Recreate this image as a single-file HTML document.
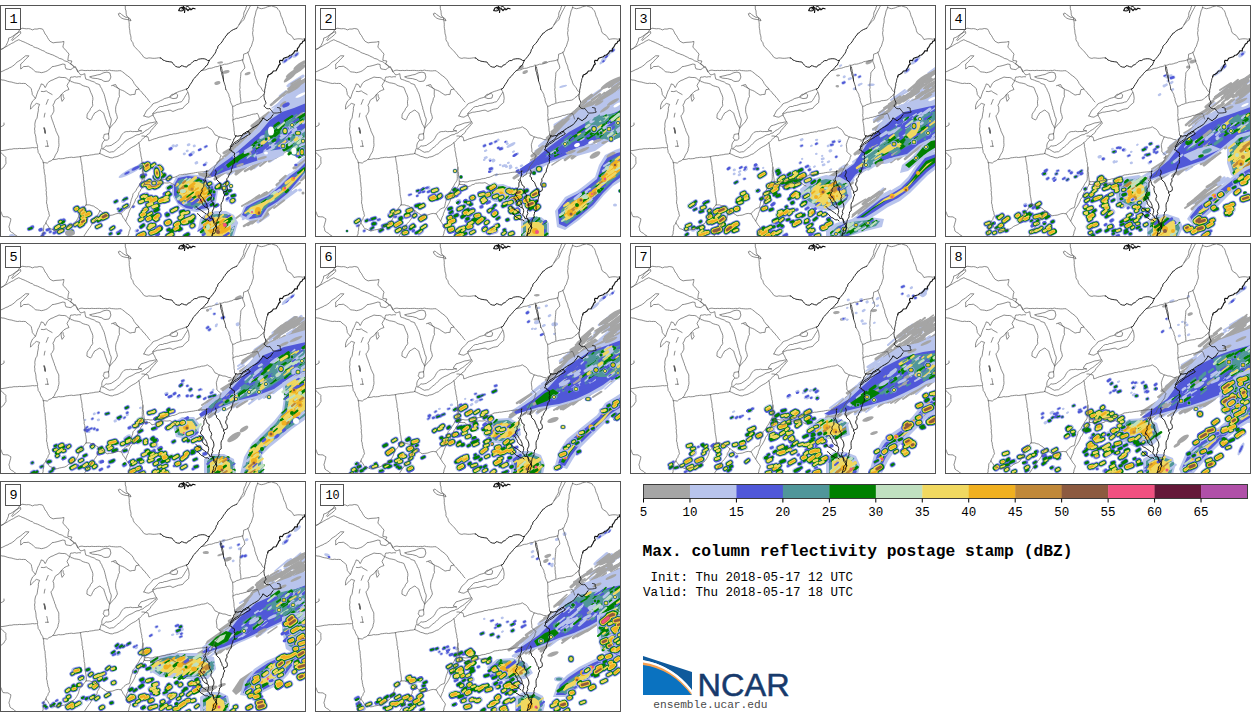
<!DOCTYPE html>
<html><head><meta charset="utf-8"><style>
html,body{margin:0;padding:0;background:#fff;}
body{width:1260px;height:712px;overflow:hidden;position:relative;}
svg{position:absolute;left:0;top:0;}
.t{font-family:"Liberation Mono",monospace;fill:#000;}
.kg{stroke:#a5a5a5}.klb{stroke:#b8c4ec}.kb{stroke:#5058d8}.kt{stroke:#50969a}.kgr{stroke:#008000}.klg{stroke:#c0e0c0}.ky{stroke:#f0d860}.ko{stroke:#f0b020}.kbr{stroke:#c08838}.kdbr{stroke:#8c5a40}.kp{stroke:#f05080}.km{stroke:#641838}.kpu{stroke:#b050a8}.w1{stroke-width:.5}.w2{stroke-width:1}.w3{stroke-width:1.5}.w4{stroke-width:2}.w5{stroke-width:2.5}.w6{stroke-width:3}.w7{stroke-width:3.5}.w8{stroke-width:4}.w9{stroke-width:4.5}.w10{stroke-width:5}.w11{stroke-width:5.5}.w12{stroke-width:6}.w13{stroke-width:6.5}.w14{stroke-width:7}.w15{stroke-width:7.5}.w16{stroke-width:8}.w17{stroke-width:8.5}.w18{stroke-width:9}.w19{stroke-width:9.5}.w20{stroke-width:10}.w21{stroke-width:10.5}.w22{stroke-width:11}.w23{stroke-width:11.5}.w24{stroke-width:12}.w25{stroke-width:12.5}.w26{stroke-width:13}.w27{stroke-width:13.5}.w28{stroke-width:14}.w29{stroke-width:14.5}
</style></head><body>
<svg width="1260" height="712" viewBox="0 0 1260 712">
<defs>

<g id="mapg" fill="none" stroke-linejoin="round" stroke-linecap="round">
<g stroke="#5a5a5a" stroke-width="0.7">
<polyline points="-0.1,45.4 1.5,44.3 3.3,43.4 4.7,42.2 5.9,40.7 6.8,39.0 7.6,37.3 8.4,35.4 8.7,33.1 10.8,32.4 12.6,31.3 14.3,30.0 16.0,28.8 17.9,27.6 19.6,24.9 22.0,23.2 24.2,23.5 26.3,23.8 28.5,23.6 30.5,24.0 32.4,24.9 34.7,24.0 37.0,24.1 39.3,23.5 42.5,24.0 43.5,25.6 44.3,27.2 45.1,29.0 46.4,30.4 47.5,32.5 48.7,34.5 50.1,36.3 53.1,37.9 55.0,37.5 57.0,37.3 59.0,37.2 61.5,37.0 63.9,36.4 63.7,38.4 63.2,40.3 62.9,42.3 64.6,43.8 66.0,45.7 67.7,47.3 69.0,49.2 68.4,51.2 68.1,53.1 67.8,55.3 69.8,55.7 71.9,56.0 70.6,59.2 72.9,60.3 74.7,62.0 76.6,63.9 77.6,66.7 80.0,65.4 82.0,65.1 83.9,65.5 85.9,65.6 87.8,65.4 89.8,65.6 91.8,65.3 93.7,65.5 95.7,65.5 97.7,65.4 99.6,65.4 101.6,65.6 103.6,65.7 105.6,65.4 107.5,65.5 109.5,65.1 111.5,65.6 113.4,65.7 115.4,65.9 117.4,65.9 119.3,65.7 121.3,65.8 122.7,67.2 124.4,68.1 125.7,69.6 127.3,70.6 129.0,71.9 130.6,73.2 132.0,74.8 133.3,76.6 134.2,78.6 135.4,80.0 136.4,81.5 138.0,82.6 139.0,84.1 136.0,84.6 135.3,87.0 135.1,89.3 132.6,89.5 130.0,90.1 128.1,88.8 126.2,87.6 124.4,86.3 122.5,85.4 120.7,84.8 119.2,83.8 117.3,82.7 115.3,81.7 113.4,80.6"/>
<polyline points="11.5,35.0 12.8,33.3 13.9,31.4 15.3,29.8 17.0,28.5 18.7,27.4 20.5,26.5 20.8,28.3 19.4,29.7 18.0,31.0 16.5,32.2 14.9,33.4 12.5,35.5"/>
<polyline points="-0.1,44.5 1.8,44.0 3.5,43.1 5.2,42.2 6.9,41.3 8.5,40.2 10.2,39.3 11.8,38.3 13.6,37.6 15.2,36.4 16.9,35.6 18.8,34.7 20.5,35.5 22.1,36.3 23.9,36.9 25.6,37.7 27.3,38.5 29.0,39.3 30.6,40.2 32.4,40.7 33.8,42.0 35.6,42.6 37.4,43.1 39.1,43.9 40.7,44.7 42.4,45.5 44.2,46.1 45.7,47.3 47.4,48.1 49.2,48.6 50.9,49.4 52.7,49.9 54.4,50.7 56.0,51.6 57.7,52.3 59.3,53.4 61.1,53.8 62.8,54.5 64.3,55.7 66.1,56.3 67.9,56.8 69.3,58.0 71.0,58.8 72.4,60.5 74.0,62.0"/>
<polyline points="0.1,67.2 2.1,66.4 4.0,65.5 5.9,64.5 7.9,63.8 9.4,62.8 11.2,62.1 12.8,61.0 14.4,59.9 15.7,58.4 17.1,57.1 18.8,56.1 20.6,54.9 22.3,53.5 24.0,52.1 25.6,50.8 28.9,50.8 27.6,52.4 26.1,53.7 24.7,55.2 23.5,56.6 22.1,57.9 20.7,59.0 20.7,61.5 20.7,64.0 22.3,62.9 23.6,61.5 26.1,61.5 28.3,61.2 31.3,63.1 32.9,64.2 34.2,65.5 35.4,66.8 37.4,67.0 39.4,67.2 41.3,67.7 43.3,67.3 45.3,66.7 47.2,65.9 48.9,64.6 50.6,63.4 52.0,61.7 54.6,61.3 57.1,60.7 59.0,60.2 61.0,59.6 62.9,59.0 65.1,59.5 65.2,61.7 65.9,63.8 68.3,64.3 70.9,64.6 72.4,63.4 74.0,62.4 75.4,61.6 76.2,63.3 77.2,65.0 77.9,66.7 79.3,68.2 80.7,70.0 82.6,69.5 84.8,68.7 85.1,71.3 85.8,74.1 87.6,74.6 89.4,75.2 91.1,76.0 92.9,76.5 94.6,77.2 96.1,78.5 97.9,79.0 99.7,79.7 100.4,81.8 101.7,83.6 102.4,85.6 103.4,87.5 104.2,89.4 104.7,91.3 105.2,93.2 105.7,95.1 106.0,97.0 106.6,98.7 107.0,100.5 107.7,102.2 107.8,104.0 108.6,105.7 109.0,107.5 109.5,109.2 109.9,111.2 110.9,113.1 111.3,115.0 111.0,117.0 110.5,119.0 110.0,120.9 109.8,122.9 109.2,124.9 109.0,126.9 108.5,128.8"/>
<polyline points="0.1,74.0 1.9,75.0 4.0,75.1 5.9,75.7 7.8,76.4 9.8,76.8 11.8,77.1 13.7,77.7 15.7,78.2 17.7,78.5 19.7,78.2 21.6,78.5 23.6,78.4 25.7,78.6 27.0,80.1 28.5,81.2 30.0,82.4 31.3,83.6 31.6,85.6 32.1,87.5 32.3,89.5 33.9,91.5 35.4,93.4 36.2,91.6 36.7,89.7 37.4,87.9 38.0,86.0 39.1,84.3 39.8,82.4 40.7,80.6 41.2,78.9 43.4,79.6 45.2,82.6 46.4,80.5 47.3,78.4 49.0,76.8 51.0,75.5 53.1,74.8 54.9,73.8 57.0,73.0 59.0,72.0 61.0,72.4 62.9,72.5 64.8,72.5 66.7,73.3 68.1,74.7 69.9,75.7 70.1,73.7 70.8,72.0 72.8,72.1 74.7,71.6 76.7,72.1 78.6,71.7 80.6,71.8"/>
<polyline points="35.4,93.4 32.7,95.9 31.6,98.0 30.7,100.3 30.5,102.2 30.5,104.2 31.9,102.7 33.3,101.2 34.8,99.7 36.4,98.4 39.6,99.4 38.8,101.3 38.3,103.3 38.4,105.3 38.0,107.2 37.6,109.1 37.4,111.1 37.0,113.2 35.8,114.9 35.2,117.0 34.8,119.3 35.0,121.7 34.5,124.0 34.9,125.9 34.7,127.9 35.4,129.8 35.8,131.8 36.0,133.8 36.1,135.8 36.5,137.7 37.2,139.6 37.6,141.6 37.5,143.6 38.0,145.5 38.2,147.6 39.4,149.0 40.2,150.7 40.7,152.5 41.7,154.1 42.7,155.6 43.3,157.7 45.2,157.7 47.3,158.1 49.0,156.5 51.2,155.8 52.9,154.3 54.3,152.8 55.0,150.9 55.9,149.2 57.0,147.5 57.9,145.6 58.2,143.5 58.8,141.6 59.0,139.6 58.8,137.7 58.8,135.7 58.8,133.8 58.8,131.9 57.8,129.9 56.9,127.9 55.9,125.9 55.6,124.1 54.7,122.4 54.3,120.6 53.5,118.8 53.0,117.0 52.2,115.1 51.6,113.1 50.9,110.9 52.2,109.5 53.1,107.8 53.9,106.2 53.8,104.2 53.7,102.2 52.9,100.2 54.3,97.9 55.1,95.4 57.0,93.9 59.2,92.5 60.2,90.9 61.5,89.5 62.8,88.0 64.0,86.8 66.3,85.5 69.0,84.5 68.0,82.5 67.0,80.6 67.8,78.9 68.8,77.3 70.0,75.5 70.9,76.5 72.8,77.0 74.7,77.8 76.8,78.1 78.8,78.5 80.5,79.1 82.0,80.2 83.7,80.9 85.4,81.4 87.2,81.8 88.9,82.5 89.9,85.0 90.8,87.5 92.0,89.9 92.8,92.4 92.9,94.4 92.5,96.3 92.5,98.3 92.8,100.3 91.9,102.0 90.6,103.4 89.9,105.3 88.4,107.3 87.2,109.2 87.0,111.2 86.9,113.1 88.8,114.1 90.6,115.0 91.8,113.4 92.5,111.5 93.6,109.9 94.6,108.0 96.3,107.1 97.9,106.0 99.9,105.0 101.7,106.6 103.8,108.1 104.2,110.0 104.9,111.8 105.4,113.7 106.1,115.4 106.7,117.2 107.3,119.1 108.6,120.9 109.5,122.9"/>
<polyline points="41.3,86.4 43.8,86.6 46.3,85.9 48.1,87.3 50.1,88.4 52.1,89.5"/>
<polyline points="61.3,89.5 61.1,91.8 61.4,94.1 62.1,96.4 63.1,95.0 64.2,93.4 63.3,91.5 63.0,89.5"/>
<polyline points="48.2,94.4 47.2,96.8 46.2,99.3"/>
<polyline points="45.0,108.2 44.5,110.1 44.2,112.1"/>
<polyline points="44.0,123.0 44.7,125.5 45.2,128.0"/>
<polyline points="44.0,123.0 44.6,125.5 45.2,128.0"/>
<polyline points="44.1,123.0 44.9,125.5 45.2,128.0"/>
<polyline points="44.5,122.9 44.9,125.5 45.2,128.0"/>
<polyline points="44.6,123.5 45.1,125.7 45.2,128.0"/>
<polyline points="46.8,135.5 47.3,137.5 47.6,139.6 48.0,141.6"/>
<polyline points="45.5,141.3 48.2,141.2"/>
<polyline points="111.5,80.7 113.4,80.1 115.6,79.5 116.6,81.4 117.9,83.1 119.3,84.6 119.3,86.9 119.2,89.2 119.5,91.6 118.4,93.4 118.0,95.5 117.4,97.4 116.5,99.3 115.8,101.7 115.6,104.2 115.7,106.0 115.9,107.8 116.6,109.5 117.1,111.3 117.4,113.1 116.3,115.0 115.3,116.9 113.9,118.4 112.4,119.9 111.2,121.6 109.5,122.9"/>
<polyline points="89.9,71.8 92.5,71.1 95.0,70.6 97.5,69.9 100.0,69.5 101.9,68.5 103.9,67.7 107.0,67.1 109.9,68.0 110.4,70.0 110.9,72.0 110.1,74.1 109.0,76.0 107.0,76.3 105.0,76.5 103.2,75.9 101.8,74.8 100.0,74.4 97.5,73.6 95.1,73.4 92.4,73.1 90.0,72.0"/>
<polyline points="108.5,128.8 106.5,129.0 104.2,129.4 103.8,131.3 103.1,132.9 105.4,135.3 107.4,135.0 108.8,134.0 108.8,131.4 108.5,128.8"/>
<polyline points="104.7,135.1 102.6,137.7 101.8,140.1 101.8,142.7 100.8,144.5 100.3,146.5 99.7,148.5"/>
<polyline points="102.7,143.8 104.4,142.4 106.0,140.8 107.9,141.1 109.7,140.7 111.3,140.4 112.9,139.2 114.6,138.2 116.2,137.0 117.7,135.8 119.1,134.6 120.2,132.7 121.2,130.7 122.4,129.0 124.1,127.3 126.2,126.6 128.4,126.6 130.5,126.2 132.7,126.7 134.8,126.5 137.0,126.6 139.4,126.0 141.9,126.0 139.9,125.5 138.2,125.1 139.5,123.0 141.0,120.9 143.5,120.2 146.0,119.4 147.9,118.6 149.9,117.9 152.0,117.7 154.3,117.1 156.7,117.0"/>
<polyline points="102.5,143.8 104.4,144.4 106.1,145.4 107.8,146.5 109.5,147.3 111.4,146.9 113.6,146.7 115.0,145.5 116.5,144.2 117.9,142.9 119.5,141.8 121.1,140.4 122.5,138.9 124.1,137.6 125.4,135.9 127.3,134.8 129.2,133.7 131.2,132.9 133.2,131.9 135.1,130.7 137.0,129.8 139.1,129.6 140.9,128.4 142.9,127.9 144.4,126.6 146.0,125.4 147.7,124.5 149.4,123.4 150.7,121.9 152.6,120.7 154.2,119.2 156.0,118.0"/>
<polyline points="99.7,148.5 101.7,149.4 103.7,150.3 105.6,151.3 107.9,151.8 110.1,152.7 112.4,152.9 114.2,152.1 116.1,151.8 118.0,151.2 119.7,150.3 121.4,149.4 123.2,148.9 124.8,147.5 126.6,146.2 128.2,144.8 130.0,143.5 131.8,142.3 133.7,141.3 135.6,140.3 137.3,139.0 139.0,137.7 140.6,136.0 142.3,134.4 143.9,132.7 145.5,131.4 147.0,129.9 148.7,128.7 150.2,127.4 151.0,125.5 152.3,124.1 153.6,122.6 154.9,121.2 156.1,119.4 157.7,118.0"/>
<polyline points="143.8,111.0 144.8,109.1 145.8,107.1 146.9,105.2 148.6,103.9 150.0,102.4 151.5,100.9 152.7,99.0 154.6,98.1 156.8,97.5 158.8,96.6 160.6,95.6 162.5,94.8 164.2,93.7 166.2,93.1 168.2,92.6 170.1,91.7 171.7,90.7 173.3,89.7 174.6,88.4 177.1,87.3 179.6,86.3 181.4,85.8 183.1,85.2 184.9,84.6 186.5,83.6"/>
<polyline points="152.9,108.3 154.3,106.8 155.9,105.4 157.2,103.8 158.7,102.3 160.5,101.5 162.5,101.5 164.3,100.6 166.3,100.5 168.1,99.9 170.0,99.2 171.9,98.7 173.8,98.4 175.8,98.2 177.8,97.8 179.6,97.1 181.4,96.8 182.6,95.4 183.6,93.9 184.5,92.4 185.4,90.7 186.6,89.2 187.5,87.5"/>
<polyline points="152.7,108.9 155.2,108.1 157.7,107.2 159.8,107.1 161.8,106.6 163.9,106.4 165.9,105.9 167.9,105.4 170.1,105.1 172.9,106.5 174.8,105.7 176.7,104.9 178.6,104.2 180.6,103.9 182.7,103.4 184.0,101.8 185.4,100.2 187.1,98.9 188.7,97.5 188.8,95.4 189.2,93.5 188.9,91.0 188.5,88.5 187.6,86.5 186.5,84.6"/>
<polyline points="143.9,110.9 146.3,111.8 148.9,112.2 150.8,111.1 152.8,110.1"/>
<polyline points="153.0,109.1 153.4,111.2 154.6,112.9 155.4,115.1 156.7,117.0"/>
<polyline points="169.9,91.4 172.0,89.3 174.0,89.2 176.1,88.4 177.7,89.9 177.0,93.0 175.0,93.4 173.0,93.6 170.0,92.5"/>
<polyline points="125.2,-0.0 125.3,2.0 125.3,3.9 126.0,5.9 126.1,7.8 126.3,9.7 127.0,11.5 128.4,12.8 128.8,15.1 129.1,17.4 129.3,19.7 129.2,21.6 129.4,23.4 129.8,25.2 129.9,27.1 130.1,28.9 130.7,30.7 131.0,32.5 130.9,34.5 131.7,36.2 132.9,37.7 133.3,39.6 134.2,41.3 135.5,42.7 136.9,44.2 138.3,45.6 139.7,47.0 140.9,48.6 142.3,50.1 143.3,51.8 144.9,52.9 146.9,53.4 148.8,52.9 150.8,53.0 152.8,53.3 154.7,53.3 156.7,53.1 158.6,52.8 160.6,53.1"/>
<polyline points="118.5,9.0 120.0,7.9 121.8,9.7 124.1,11.3 126.0,12.4 127.8,12.2 130.3,13.9 131.0,16.0 129.0,14.8 126.1,14.4 123.9,14.0 121.8,13.2 120.4,12.2 119.2,10.9 118.5,9.0"/>
<polyline points="202.3,65.3 204.2,65.1 206.1,64.7 207.8,63.8 209.7,63.3 211.6,63.2 213.5,62.5 215.3,61.8 217.2,61.6 219.0,61.0"/>
<polyline points="221.0,60.4 222.8,59.9 224.5,59.2 226.4,59.2 228.3,58.8 230.0,58.1 231.9,57.8 233.5,56.8 235.4,56.4 237.2,56.1 239.1,55.8 240.9,55.4 242.6,54.6"/>
<polyline points="226.0,84.6 227.0,86.2 227.9,87.8 228.8,89.5 229.1,91.5 230.0,93.4 230.1,95.5 230.7,97.5 231.6,99.4 232.6,101.3 232.7,103.1 232.9,105.0 232.9,106.8 232.9,108.6 232.6,110.4 233.1,112.3 233.0,114.1 232.9,116.3 233.4,118.5 233.7,120.7 234.0,122.9 234.0,125.3 234.5,127.6 234.5,130.2 235.7,131.0"/>
<polyline points="242.6,55.2 243.0,57.1 243.9,59.0 244.5,60.9 244.9,63.0 243.4,64.6 242.0,66.2 240.8,67.9 240.8,69.8 240.6,71.6 240.4,73.5 240.3,75.3 240.1,77.2 239.9,79.0 239.9,80.9 240.1,82.8 239.6,84.6 240.1,86.4 240.0,88.3 240.3,90.1 240.2,91.9 240.7,93.7 240.8,95.6 240.8,97.4"/>
<polyline points="257.6,2.0 257.1,4.0 256.1,5.9 255.7,7.9 255.3,9.9 254.7,11.8 254.1,13.7 254.1,15.7 254.0,17.7 253.4,19.7 253.3,21.6 252.8,23.6 253.1,25.6 252.6,27.5 252.7,29.5 253.1,31.5 253.4,33.3 253.2,35.5 252.5,37.4 251.9,39.4 251.3,41.4 250.0,43.2 249.5,45.2 248.6,47.0 246.3,48.3 243.6,49.2 243.5,51.2 243.3,53.2 242.8,55.1"/>
<polyline points="257.4,2.2 259.4,3.2 261.4,3.7 263.5,3.3 265.5,2.7 267.4,1.8 269.3,1.4 271.4,0.8 273.3,1.5 275.3,2.1 277.2,2.9 278.1,4.5 279.4,5.8 280.1,7.5 280.6,9.4 281.1,11.2 282.0,12.8 282.6,14.6 283.3,16.3 283.6,18.2 284.4,19.9 285.3,21.5 286.0,23.5 286.4,25.5 287.0,27.5 288.9,29.1 291.2,30.4 292.6,32.3 293.9,34.5 295.8,34.1 297.8,33.8 300.3,33.8 302.8,34.2 306.0,33.4"/>
<polyline points="247.8,47.2 248.4,49.2 249.2,51.1 249.9,53.1 250.4,55.2 251.0,57.5 252.0,59.6 252.8,61.8 253.1,63.9 254.0,65.8 254.7,67.8 254.8,69.9 255.6,71.8 256.1,73.8 257.1,75.7 257.6,77.8 258.5,79.7 259.9,81.3 261.2,82.9 262.1,84.8 263.4,86.5"/>
<polyline points="232.8,101.4 234.9,100.8 236.7,99.6 238.8,99.1 240.8,98.2 242.6,97.9 244.3,97.3 246.1,97.0 247.9,96.8 249.7,96.6 251.4,95.7 253.2,95.6 255.0,95.4 256.8,95.1 258.4,94.3 260.0,92.6 262.0,91.3 263.4,89.5"/>
<polyline points="232.9,114.9 234.7,114.1 236.5,113.3 238.5,113.3 240.3,112.5 242.3,112.3 244.1,111.7 246.0,111.3 247.8,110.4 249.7,110.3 251.6,109.5 253.6,109.1 255.6,108.9 257.3,108.3 258.3,110.1 259.0,112.0 259.5,114.0"/>
<polyline points="236.8,23.1 238.4,20.9 239.7,18.7 240.6,16.6 241.7,14.7 242.9,12.8 243.7,10.6 243.8,8.1 244.7,5.9 245.7,4.2 246.1,2.2 247.2,0.5"/>
<polyline points="238.9,19.8 240.3,17.9 242.2,16.4 243.8,14.7 244.6,13.0 245.1,11.3 245.9,9.6 246.7,7.9 247.6,6.0 248.7,4.2 249.6,2.3 250.6,0.5"/>
<polyline points="141.9,131.0 143.9,131.0 145.8,131.6 147.8,131.8 148.5,133.7 148.8,135.9 150.7,135.3 152.5,134.5 154.3,133.8 156.3,133.4 158.1,132.6 159.9,132.1 162.0,131.8 163.9,131.1 166.0,130.8 168.0,130.3 169.9,129.5 171.8,129.5 173.6,128.8 175.5,128.8 177.3,128.5 179.1,128.0 180.9,127.4 182.8,127.3 184.6,126.8 186.5,126.8 188.3,125.9 190.3,125.9 192.2,125.6 194.0,125.0 195.9,124.6 197.7,123.9 199.7,123.9 201.5,123.2 203.5,123.1 205.4,122.7 207.3,121.8 209.1,123.1 210.9,124.0 212.6,125.7 213.8,127.8 215.0,129.9 217.1,130.6 218.9,132.0 221.0,132.2 222.9,133.0 225.0,133.0 226.9,133.7 228.8,134.5 230.8,134.7"/>
<polyline points="219.2,131.9 218.4,133.8 217.5,135.7 216.9,137.8 216.3,139.7 216.5,141.9 216.9,144.2 216.8,146.7 218.3,147.9 219.5,149.3 221.2,150.6 220.2,152.3 219.9,154.2 219.0,156.0 217.6,157.7 216.5,159.6 214.9,161.2 214.1,163.3 213.1,165.2 211.9,167.1 211.3,169.4 209.4,170.4 208.0,172.0"/>
<polyline points="138.9,137.7 139.4,139.6 139.4,141.5 140.0,143.3 139.9,145.2 140.4,147.1 140.8,148.9 140.9,150.8 141.4,152.7 141.8,154.5 141.8,156.4 142.5,158.3 142.4,160.4 143.0,162.3 142.7,164.1 142.3,165.9 142.4,167.8 142.2,169.6 142.3,171.5 142.3,173.3 142.1,175.2 141.1,177.0 139.9,178.6 139.0,180.4 138.0,182.1 136.8,183.8 135.9,185.7 134.5,187.3 133.0,188.8 132.7,190.8 132.1,192.7 131.3,194.6 130.8,196.5 130.3,198.6 129.9,200.6 129.3,202.6 127.5,203.1 125.8,203.9 124.0,205.4 122.4,207.1 120.8,208.9 118.3,208.4 115.9,208.8 114.1,209.5 112.3,210.1 109.6,210.4 107.1,210.8 105.4,209.5 103.5,208.3 101.7,207.0 99.8,205.7 98.5,204.4 96.9,203.3 95.2,202.3 93.7,201.1 91.7,200.7 89.7,199.9 86.2,199.9"/>
<polyline points="142.8,162.3 143.2,164.2 143.0,166.2 143.6,168.1 143.5,170.0 143.8,172.2 144.1,174.3 144.2,176.2 146.1,176.8 148.1,176.5 150.0,177.0 152.3,176.9 154.4,176.1 156.7,175.8 158.8,175.6 160.9,175.1 163.0,174.7 164.9,174.5 166.8,173.8 168.7,173.6 170.6,173.3 172.2,172.5 174.1,172.4 175.8,171.7 177.4,171.0 179.0,170.0 180.8,169.8 182.6,169.6 184.4,169.2 186.3,169.2 188.1,168.8 189.9,168.5 191.7,168.3 193.5,168.1 195.5,167.6 197.7,167.3 199.8,167.1 201.9,166.9 203.9,166.8 206.0,166.5 208.0,166.2"/>
<polyline points="144.3,176.5 144.2,179.5 146.1,179.5 148.1,179.7 150.0,179.5 151.9,181.9 153.8,181.4 155.5,180.9 157.1,179.7 159.0,179.4 160.6,178.2 162.5,178.2 164.3,177.9 166.3,178.0 168.1,178.0 169.9,177.6 172.1,178.6 173.9,180.0 176.0,181.0"/>
<polyline points="120.9,208.6 122.2,210.4 123.0,212.4 124.4,214.1 125.6,216.0 126.8,217.8 127.9,219.7 129.4,221.4 130.4,223.1 129.9,225.0 129.1,226.8 128.8,228.8 128.1,230.6"/>
<polyline points="144.9,177.9 144.0,179.6 143.1,181.3 142.1,182.9 140.9,184.4 140.2,186.1 138.9,187.6 138.5,189.4 137.8,191.1 136.9,192.8 135.6,194.2 135.1,196.0 134.2,197.9 133.2,199.7 132.2,201.5 130.9,203.1 129.9,205.0 129.2,206.8 128.4,208.6 128.1,210.5 127.1,212.2 126.5,214.1 125.7,215.9"/>
<polyline points="53.1,154.6 55.0,154.4 56.8,154.2 58.6,153.6 60.5,153.8 62.3,153.7 64.1,153.5 65.9,152.8 67.7,152.7 69.6,152.4 71.4,152.2 73.3,152.5 75.1,152.3 76.9,152.0 78.8,151.9 80.6,151.6 82.4,151.1 84.2,150.8 86.0,150.5 87.9,150.7 89.6,150.1 91.4,149.9 93.3,149.7 95.0,149.2 96.9,149.1 98.6,148.9 99.7,148.5"/>
<polyline points="43.2,157.4 43.6,159.3 43.8,161.1 43.7,163.1 44.2,164.9 44.2,166.8 44.5,168.7 45.1,170.5 45.1,172.4 45.3,174.3 45.3,176.2 45.8,178.0 45.8,179.9 46.0,181.7 46.3,183.5 46.0,185.4 46.5,187.2 46.2,189.0 46.6,190.8 46.8,192.6 46.8,194.4 46.6,196.3 46.5,198.1 47.2,199.8 47.3,201.7 47.7,203.5 48.0,205.4 48.8,207.1 49.0,209.0 49.5,210.8 48.3,212.5 47.8,214.4 46.5,215.9 46.0,217.9 45.0,219.4 43.8,220.8 43.7,222.8 43.6,224.8 43.1,226.8 43.1,228.9 42.0,231.0"/>
<polyline points="80.4,151.5 80.7,153.3 80.9,155.1 81.2,156.9 81.6,158.7 81.9,160.5 82.1,162.3 82.0,164.2 82.8,165.9 82.5,167.8 83.3,169.5 83.4,171.4 83.6,173.2 83.5,175.0 83.9,176.8 84.2,178.6 84.1,180.5 84.7,182.3 84.8,184.1 84.9,186.0 85.0,187.8 85.2,189.6 85.5,191.4 85.9,193.2 86.1,195.1 86.4,196.9 86.2,199.9"/>
<polyline points="86.0,199.8 84.8,201.4 83.5,203.0 82.5,204.8 81.1,206.3 79.6,207.8 79.0,209.9 78.5,211.9 77.6,213.8 76.6,215.6 75.4,217.4 73.9,219.0 72.1,219.9 70.1,220.7 68.3,221.6 66.7,223.0 64.8,224.0 63.0,224.3 61.2,224.7 59.4,225.0 57.6,225.6 55.8,225.9 53.8,225.3 52.0,224.2 50.0,223.7 48.7,222.4 48.1,220.6 46.7,219.4 45.9,217.8"/>
<polyline points="-0.0,145.5 2.0,145.6 4.0,145.3 5.9,145.0 7.9,144.6 9.8,144.2 11.8,144.2 13.7,143.7 15.6,143.7 17.5,143.7 19.4,143.4 21.3,143.5 23.2,143.6 25.1,143.4 26.9,143.2 28.8,143.1 30.7,142.9 32.6,142.6 34.5,142.8 36.4,142.6"/>
<polyline points="0.0,146.5 1.4,148.1 2.8,149.6 4.5,150.9 5.9,152.4 5.8,154.4 5.9,156.3 6.0,158.4 4.8,160.2 3.8,162.1 1.9,163.6 0.0,165.2"/>
<polyline points="0.1,122.1 2.1,121.2 4.1,120.0 4.0,118.0"/>
<polyline points="-0.1,204.9 0.8,206.6 1.6,208.3 2.2,210.1 3.0,211.6 5.5,211.8 7.9,211.9 9.4,212.9 10.9,213.8 10.6,215.8 10.0,217.8 9.5,219.8 8.9,221.8 9.6,223.8 9.9,225.9 11.5,227.3 13.5,228.3 15.0,229.9 17.0,231.0"/>
<polyline points="99.8,205.4 99.3,207.2 98.4,208.9 97.3,210.5 97.1,212.4 96.0,214.0 95.0,215.7 93.5,217.1 92.2,218.6 91.2,220.4 90.2,222.1 89.0,223.5 88.0,225.0 86.9,226.4 86.0,228.0 84.9,229.5 84.0,231.0"/>
<polyline points="138.9,84.2 140.4,85.7 141.8,87.2 143.0,89.0 144.7,90.3 145.9,92.1 147.4,93.6 148.5,95.4 150.0,97.0"/>
</g><g stroke="#111" stroke-width="0.9">
<polyline points="186.3,84.4 188.1,83.2 189.1,81.3 190.2,79.5 191.3,77.9 192.4,76.3 193.1,74.5 194.7,73.0 196.0,71.4 197.5,69.9 198.5,68.5 199.7,67.2 200.9,66.0 202.4,65.0 203.8,63.9 204.8,62.5 205.8,61.1 207.4,60.1 208.1,58.2 208.9,56.4 209.9,54.7 211.3,53.2 212.6,51.6 213.8,49.9 215.1,48.2 215.9,46.5 216.3,44.7 217.6,43.2 217.9,41.2 219.3,39.9 220.6,38.5 221.9,37.0 222.9,35.4 223.7,33.9 224.9,32.7 225.6,31.1 227.0,30.0 227.7,28.4 229.3,27.8 230.4,26.4 231.8,25.5 233.4,24.6 235.2,23.9 236.9,23.1"/>
<polyline points="160.2,52.8 161.7,53.5 162.8,55.0 164.5,55.5 165.9,56.2 167.9,56.5 169.8,56.8 171.9,57.0 173.0,58.6 174.3,60.1 175.7,61.4 177.7,62.1 179.9,62.2 181.0,60.8 182.5,60.8 184.4,61.6 186.7,62.1 187.9,60.3 190.0,59.6 191.6,58.1 193.0,56.6 194.7,55.6 196.8,55.5 198.3,54.3 200.3,53.9 202.2,53.7 204.3,53.8 205.9,54.3 207.5,55.4 209.2,55.6"/>
<polyline points="220.1,60.0 220.5,61.9 220.5,64.0 220.9,65.9 221.6,67.6 221.8,69.4 222.4,71.1 222.8,72.8 223.3,74.5 223.7,76.3 224.3,78.0 224.8,79.7 225.4,81.3 225.5,83.0 225.9,84.6" stroke-width="0.7"/>
<polyline points="221.5,62.0 221.7,63.6 222.1,65.2 222.2,66.8 222.7,68.4 223.1,70.0 223.3,72.0 223.5,74.0 223.5,76.0" stroke-width="0.7"/>
<polyline points="178.7,5.5 180.0,3.0 182.0,2.2 184.0,3.5 183.0,5.5 181.0,6.0 179.0,5.5" stroke-width="1.2"/>
<polyline points="182.0,4.0 183.5,1.5 185.0,3.5 184.5,7.5" stroke-width="1.2"/>
<polyline points="186.0,3.5 188.0,5.5 190.0,3.5 191.0,4.8 193.0,3.2 195.0,3.8" stroke-width="1.2"/>
<polyline points="186.0,2.0 188.0,1.2 189.0,2.6"/>
<polyline points="304.9,33.9 304.4,35.7 302.7,36.4 302.1,38.1 300.4,38.9 299.6,40.6 298.7,42.3 297.4,43.5 297.3,45.9 294.8,45.8 294.0,47.5 292.7,48.8 291.5,50.0 289.7,50.3 288.3,51.8 286.6,52.3 283.7,53.2 282.4,55.6 279.9,55.3 279.5,57.0 280.3,59.0 278.8,60.3 278.0,62.2 277.2,63.5 276.0,65.8 273.4,66.0 272.0,68.0 270.1,69.3 268.3,70.0 267.6,71.8" stroke-width="1.15"/>
<polyline points="268.0,71.9 267.0,73.5 266.6,75.2 266.4,76.9 265.7,78.4 265.8,80.1 265.4,81.6 265.1,83.2 264.6,85.1 264.7,87.0 264.2,88.9 263.9,90.8 264.2,92.5 264.4,94.2 265.2,95.7 266.1,98.1 265.1,99.7 263.8,100.9 265.2,102.0 266.3,103.4 268.2,103.8 270.0,103.5 271.0,105.1 272.3,106.5 273.3,108.1 276.2,108.0 277.8,107.9 279.5,107.6 281.3,107.1 280.2,105.3 280.2,103.1 277.5,102.5" stroke-width="0.8"/>
<polyline points="273.0,109.7 271.8,111.3 270.8,113.1 269.1,114.1 267.1,115.7 265.2,114.5 262.9,112.8 262.3,114.5 261.3,115.9 260.1,117.3 259.2,118.5 257.8,119.9 256.1,120.9 254.5,121.8 252.8,122.7 251.3,123.8 249.6,124.7 248.3,126.3 246.4,126.7 245.0,128.0 243.2,128.7 241.9,130.6 239.8,130.7 237.8,131.2 235.7,130.8" stroke-width="1.0"/>
<polyline points="231.0,141.8 232.4,141.0 233.7,139.8 234.9,138.6 236.5,137.9 237.9,136.9 239.3,135.8 240.7,134.5 242.3,133.6 243.9,132.7 245.4,131.6 247.0,130.7 248.6,129.9 250.4,128.6 248.9,127.6 248.5,125.8 247.5,127.4 246.1,128.5 244.3,129.1 243.2,130.4 241.6,131.3 240.6,132.8 239.6,134.3 238.1,135.2 236.6,136.2 235.1,137.1 233.8,138.2 232.8,139.7 230.8,141.6"/>
<polyline points="235.8,130.9 235.3,132.5 233.9,133.7 233.6,135.4 232.8,136.9 232.1,138.5 231.4,139.8 230.3,141.3 230.6,143.1 229.5,145.0 231.4,145.2 232.1,146.9 234.1,147.4 234.6,149.0 234.1,150.8 235.0,152.4 234.1,154.2 234.5,156.2 234.3,158.1 233.0,159.6 232.7,161.3 232.1,162.8 231.4,164.8 231.2,167.0 229.8,168.6 228.8,170.4 228.1,172.3 226.7,173.9 227.1,176.1 225.9,177.9 225.7,180.1 227.0,181.8 227.4,183.7 227.1,185.6 224.5,187.0"/>
<polyline points="215.6,165.1 216.3,167.3 215.7,169.2 214.8,171.3 216.5,172.5 216.6,174.6 218.0,176.0 219.5,177.3 220.2,179.2 220.9,181.0 221.8,182.7 222.2,184.6 223.6,186.1 223.5,188.2 224.8,189.9 223.9,191.3 223.4,192.9 223.1,194.6 222.7,196.2 221.6,197.6 221.1,199.2 221.0,200.8 221.1,202.4 221.2,204.1 221.2,205.8 219.5,207.0 219.5,208.6 218.9,210.1 219.1,211.9 218.3,213.3 217.4,214.7 216.9,216.7 216.6,218.7 216.0,220.7 215.0,222.3 213.5,223.9 213.7,225.8 212.8,227.4 212.4,229.2 212.0,231.0"/>
<polyline points="206.7,165.8 206.3,167.5 206.5,169.3 206.4,171.0 205.6,172.5 204.9,174.0 206.0,176.7 206.6,178.6 207.4,180.4 209.4,181.7 208.8,183.8 209.2,185.5 209.6,187.4 211.3,189.8 211.7,191.6 210.9,193.3 211.0,195.3 212.5,197.2 213.4,198.9 213.9,201.0 213.9,203.1 212.9,205.0 212.3,206.7 212.9,208.6 211.9,210.2 211.4,212.2 213.0,213.9 213.2,216.0 213.8,218.1 214.9,219.6 216.2,221.0 216.7,222.8"/>
<polyline points="203.5,174.9 204.5,176.5 203.9,178.1 203.9,179.9 203.9,181.7 202.4,183.1 201.9,184.7 202.2,186.6 201.2,188.1 200.3,190.1 201.3,191.4 202.6,192.5 203.5,193.8 204.2,195.6 205.6,197.1 206.4,198.8 207.1,200.5 207.1,202.4 208.3,203.9 208.7,205.6 208.5,207.4 207.8,209.1 207.7,210.5 209.1,211.3 209.7,213.3 211.5,213.5 213.1,214.5 213.9,216.3 215.0,217.6 216.3,219.2 216.1,221.1 216.9,222.9 215.8,224.5 215.5,226.6 214.5,228.4 212.4,229.1 212.0,231.0"/>
<polyline points="199.1,192.6 200.3,194.0 201.0,195.6 202.2,197.1 202.4,198.9 203.5,200.3 205.2,202.1 207.4,203.0"/>
<polyline points="195.8,201.2 197.0,202.5 198.1,203.9 200.0,204.5 201.3,205.5 202.9,206.7 204.5,207.7 206.0,209.0"/>
<polyline points="197.3,208.6 198.8,209.6 200.0,211.1 201.3,212.4 203.0,213.0 204.3,214.2 205.8,214.9 207.7,214.8 209.0,216.0"/>
</g></g>
<clipPath id="cp0"><rect x="0" y="0" width="305" height="231"/></clipPath>
<clipPath id="cp1"><rect x="0" y="0" width="305" height="230"/></clipPath>
<clipPath id="cp2"><rect x="0" y="0" width="305" height="230"/></clipPath>
</defs>
<rect width="1260" height="712" fill="#fff"/>
<g transform="translate(0,5)">
<g clip-path="url(#cp0)" stroke-linecap="round">
<ellipse cx="295.9" cy="49.7" rx="4.0" ry="2.0" transform="rotate(-40.0 295.9 49.7)" fill="#b8c4ec"/>
<ellipse cx="296.4" cy="49.7" rx="2.2" ry="0.9" transform="rotate(-40.0 296.4 49.7)" fill="#5058d8"/>
<ellipse cx="289.9" cy="52.5" rx="4.3" ry="1.6" transform="rotate(-40.0 289.9 52.5)" fill="#b8c4ec"/>
<ellipse cx="290.4" cy="52.5" rx="2.4" ry="0.8" transform="rotate(-40.0 290.4 52.5)" fill="#5058d8"/>
<ellipse cx="285.0" cy="55.7" rx="3.5" ry="2.1" transform="rotate(-40.0 285.0 55.7)" fill="#b8c4ec"/>
<ellipse cx="285.5" cy="55.7" rx="2.4" ry="0.9" transform="rotate(-40.0 285.5 55.7)" fill="#5058d8"/>
<ellipse cx="220.1" cy="57.5" rx="3.0" ry="1.1" transform="rotate(-4.7 220.1 57.5)" fill="#a5a5a5"/>
<ellipse cx="226.0" cy="66.9" rx="3.7" ry="1.6" transform="rotate(-15.7 226.0 66.9)" fill="#a5a5a5"/>
<ellipse cx="247.6" cy="68.6" rx="3.1" ry="1.5" transform="rotate(-16.4 247.6 68.6)" fill="#a5a5a5"/>
<ellipse cx="217.4" cy="78.0" rx="3.1" ry="1.8" transform="rotate(-11.9 217.4 78.0)" fill="#a5a5a5"/>
<path class="klb w3" d="M280 129l4.9-3.9M252 149l9.7-6.3M272 103l7.7-5.4M287 96l7.5-5.6M294 127l6.4-4.9M259 123l9.6-8.6M275 149l13.3-11.5M286 133l13.5-9.3M288 118l13-8.2M299 82l7.4-4.6M258 144l8.1-6.4M296 100l5.8-5.1M250 134l8.5-5.4M244 164l8.6-6M255 139l7.8-4.6M276 108l12.1-9.7M269 157l6.2-4.8"/>
<path class="klb w4" d="M262 122l10.3-9.2M292 139l5.5-4.1M273 153l7-4.8M288 81l11-7.1M243 141l4.9-3.6M276 143l7.6-5.1M275 117l6.2-4.1M224 158l6.1-3.9M261 138l11.7-8.5M263 157l12.1-9.1M286 124l11.9-7.5M300 106l12.4-8.5M280 148l9.6-8.2M288 109l6.2-3.6M288 104l9.1-7.1M251 125l8.2-6.5M229 170l14.2-9M261 138l6.5-4.5"/>
<path class="klb w5" d="M280 91l5.9-4.6M265 122l6.2-4.1M256 122l5.8-3.6M245 136l7.2-4.3M280 118l8.6-7.6M254 163l6.8-5.4M284 105l5.7-4.6M263 120l9.8-7.7M277 138l6.3-5.1M242 133l9.8-6.5M294 94l5.5-4.9M292 130l10.1-6.4M211 165l9.1-7.8"/>
<path class="klb w6" d="M290 85l9.7-6.5M202 174l7.9-5M288 81l13-8.4M216 172l7.2-4.2M234 142l11.4-9.4M237 156l11.6-9.8M280 147l11.8-10M297 100l10.1-6.4M202 170l5.2-3.7M248 157l10.8-8.2M228 155l6.5-5.8M232 158l9.4-7M227 168l8.1-5.8M247 153l7.7-4.8M295 97l9.9-7.9M291 119l12.3-7.5M277 136l7.8-5.4M295 121l6.1-4.8M272 116l14.3-10.4M289 80l14.1-9M271 140l6-4.5M246 139l7-4.1M270 156l7-4.7"/>
<path class="kg w3" d="M258 146l10.4-7.9M228 162l11.6-8.3M272 147l9-6.4M275 113l8.8-6.6M228 169l9.4-5.7M291 79l9.6-5.8M234 148l13.6-8.8M232 146l10.5-6.6M234 152l14.4-8.8M244 145l14.2-8.6M238 161l7.5-6.3M269 116l5.5-4.7M230 157l6.3-5.2M286 104l10.6-9.4M253 125l12.4-8.2M284 110l10.7-9M283 126l8.1-7.1M298 114l6-5.4M279 113l13.7-9M292 115l5.7-3.8M228 151l7.2-5.2M251 159l7.9-6.7M227 147l11.9-9.2M241 150l6.7-5.5M298 101l13.7-9.4M238 152l11.7-7.8M300 92l7.7-5.7M283 91l7.8-4.7M244 151l15-8.9M195 176l13.6-9.2M275 139l7-4.6M296 113l12-9.8M212 166l11.4-8.4M259 143l14.8-9.9M288 84l4.9-4.3M270 132l10.2-6.5M260 122l9.2-6.5M269 121l8.3-5.1M277 144l12.6-7.6M268 133l9.9-7.1M258 145l7.9-5.5M222 162l13-8.3M235 151l11.1-7.4M256 137l13.1-9.3M286 127l6.6-4.9M207 167l13.6-10.7"/>
<path class="kg w4" d="M302 136l7.9-6.8M218 172l14.3-8.5M220 163l10.7-8.3M272 125l13.1-8.8M288 127l5.6-3.9M274 145l13-10.3M233 143l13.6-11.3M288 116l6.6-4.3M229 165l8.6-5.5M279 119l7.5-5.8M284 101l9.1-7.9M295 110l4.8-4.1M274 97l12.3-10.5M288 143l14.2-10.2M275 153l7.8-6.2M295 134l13.5-8.1M287 110l10.7-7.8M288 119l9.9-8M283 147l11.1-8.1M282 146l10.9-9.5M290 104l11.6-10.2M300 136l9.5-6.5M291 134l4.7-4M207 171l14.5-8.6M283 144l7.6-6.4M267 122l10-7.4M276 107l14.6-9M259 132l6.2-4.3M260 128l7.9-6.7M251 125l8.7-5.4M260 161l6.5-5.1M260 136l8-4.7M232 153l8.1-6.6M285 111l9.2-7.6M282 138l10-6.4M299 144l13.3-9.9M288 105l9-6.8M256 155l10.2-7.2M257 123l13.9-9.4M223 152l9.3-6.6M225 164l13.3-8.8M293 93l10.2-7.6M249 137l8.6-7.1M288 130l11.3-8.8M269 138l8.8-6.1M271 141l10-8"/>
<path class="kg w5" d="M287 113l8.4-4.8M202 175l11.9-8.9M250 130l8.6-5.6M226 152l6.1-4.7M251 139l9.3-7.9M256 140l13.9-10.8M271 100l11.8-9.9M283 115l6.6-4.5M293 133l15.2-9.6M249 128l10.4-8.7M233 147l9.8-8.4M291 123l8.2-5.7M270 116l12.4-11M270 138l10.1-7.6M244 144l9.9-7.9M282 123l9.2-8M276 103l10.9-6.6M272 152l9.1-6.1M303 80l4.6-4.1M264 156l11.7-7M269 122l10.8-8.1M282 129l12-8.2M266 140l6.8-4.6M259 157l13.6-10.7M276 117l12.1-9.2M258 124l11.1-9.1M289 98l10.1-8.5M218 158l6.9-4.3M241 159l9.4-7.4M267 152l7.8-6.9M258 140l11.9-8.9M269 117l6.6-4.1M282 108l14.1-8.6M269 156l10.3-6.5M245 166l9.8-5.9M273 150l7.3-5.5M292 95l12.5-9.6"/>
<path class="kg w6" d="M296 109l8.6-5.7M269 152l12.6-9M275 142l12.3-7.6M279 115l10.6-7.2M259 116l9.8-8.2M300 85l11.3-8.1M282 119l10.2-6M251 145l4.7-3.8M252 121l13.1-10.4M252 141l12.9-9.7M225 165l10.8-9.3M292 81l8.2-5.3M293 97l11.7-9.2M290 86l10-9M279 149l8.3-6.5M290 128l6.1-4.1M214 170l8.2-5.1M250 144l13.4-11.3M269 155l9.8-6.5M284 104l5.6-4.8M280 148l10.6-7.4M254 137l11.2-8.6M289 84l7.9-5.1M286 130l7.9-5.1M229 164l10.9-9.6M280 120l9.3-7.8M224 148l10.5-6.3M218 158l5-4M259 141l7.1-6M236 169l9.9-8M283 126l7.5-4.5M278 124l7-6.2M215 174l13.6-10.9M277 118l10.9-9.6M219 165l7.1-6M259 123l6-3.6M266 145l7.6-5.7M291 86l12.2-10.4M238 141l5.5-4.9M236 147l7.1-5.5M286 137l6.7-3.9M282 147l8.5-6.6M288 87l7.4-5.5M276 152l11.7-7.5M253 122l8.1-5.9M278 126l10.5-8.7M299 80l12.2-10.8M251 164l10.2-8M276 121l8.4-5.4M236 166l11.5-10M280 128l8.6-6.6M286 101l11.1-8.9M218 166l7.1-5M270 154l6.2-3.9M298 86l5.3-4.6M283 129l15.3-9.1M256 120l5.9-3.8"/>
<ellipse cx="296.0" cy="66.0" rx="12.0" ry="2.5" transform="rotate(-32.0 296.0 66.0)" fill="#a5a5a5"/>
<ellipse cx="300.0" cy="60.0" rx="8.0" ry="2.0" transform="rotate(-35.0 300.0 60.0)" fill="#a5a5a5"/>
<ellipse cx="290.0" cy="72.0" rx="8.0" ry="2.0" transform="rotate(-40.0 290.0 72.0)" fill="#a5a5a5"/>
<path d="M202 173L214 161L227 151L240 139L256 124L266 111L274 103L281 94L290 86L298 80L306 76L306 136L299 136L291 141L284 148L272 154L259 158L244 163L225 168L212 172Z" fill="#b8c4ec"/>
<ellipse cx="294.0" cy="84.0" rx="8.0" ry="1.6" transform="rotate(-32.0 294.0 84.0)" fill="#a5a5a5"/>
<ellipse cx="300.0" cy="79.0" rx="7.0" ry="1.5" transform="rotate(-28.0 300.0 79.0)" fill="#a5a5a5"/>
<ellipse cx="301.0" cy="90.0" rx="6.0" ry="1.4" transform="rotate(-25.0 301.0 90.0)" fill="#fff"/>
<ellipse cx="283.0" cy="99.0" rx="4.0" ry="1.5" transform="rotate(-40.0 283.0 99.0)" fill="#a5a5a5"/>
<ellipse cx="286.0" cy="100.0" rx="4.0" ry="2.0" transform="rotate(-25.0 286.0 100.0)" fill="#5058d8"/>
<path d="M204 174L216 163L230 153L244 141L260 127L270 115L282 107L294 103L306 98L306 132L299 133L291 138L284 145L272 151L259 155L244 160L226 166L212 172Z" fill="#5058d8"/>
<path d="M212 172L222 164L236 153L250 142L262 131L276 119L290 112L306 106L306 126L296 131L286 138L274 144L260 149L244 155L228 162L216 169Z" fill="#5058d8"/>
<path class="kt w3" d="M257 142l6.4-5.6M217 168l5.4-4.2M247 153l3.9-2.5M275 134l2.8-1.9M271 125l7.3-4.6M275 131l6.9-4.4M286 120l3-2M291 123l6.5-4.9M276 139l3.1-2M292 113l4.7-3.5"/>
<path class="kt w4" d="M276 124l4.6-4.1M285 136l6.8-4.3M286 135l3.2-2.7M272 145l3.6-2.7M290 123l3.5-2.3M240 157l5.6-4.8M286 119l2.4-2M252 151l2.3-1.3M299 116l6.7-4.9M247 152l1.9-1.5M279 136l5.7-3.8M266 141l6.2-5M288 124l3.1-2.2"/>
<path class="kt w5" d="M242 154l4.5-3.2M266 127l5-3M248 146l4.6-3.6M264 138l2.3-1.7M254 151l6.5-4.6"/>
<path class="kt w6" d="M273 142l3.4-2.5M288 135l1.7-1.4M283 139l5.3-4.4M277 140l6.1-3.7M273 132l6.7-4.1M252 144l6.3-4.1M298 129l5.9-3.9M265 144l6.3-4.1M286 117l3.8-2.2M260 136l5-3.1"/>
<path class="klb w3" d="M274 127l6.3-4.2M286 117l5.2-4.3M274 139l1.9-1.3M278 127l4.2-3.6M272 124l4.5-2.7M247 153l4-3M268 131l5.2-3.9M287 128l6.4-5.4M271 144l5-4.1M261 150l5.9-5.2M282 131l7.2-4.4"/>
<path class="klb w4" d="M263 146l6.8-5.5M287 133l6.8-5.8M269 128l3.4-2.2M283 130l7.3-5.2"/>
<path class="klb w5" d="M272 125l3-2.1M269 136l2.2-1.5M269 143l5.4-4.8M281 130l6.8-5.5M266 147l7.6-4.6M302 115l6-4.3"/>
<path class="klb w6" d="M293 126l2.7-1.8M231 159l6-4.5M281 133l5.1-3.6M255 151l3.1-2.7M226 161l1.7-1.4M297 113l6.8-4.4M300 118l5.9-4.1M286 135l1.8-1.1"/>
<path class="kgr w3" d="M237 157l2-1.8"/>
<path class="kgr w5" d="M285 116l7.1-4.7M252 141l7-5.5"/>
<path class="kgr w6" d="M273 136l1.9-1.2M275 121l3.6-2.9M256 145l5.4-4.2"/>
<path class="kg w3" d="M265 131l2-1.5"/>
<path class="kg w6" d="M297 113l5-4M249 149l4.5-4"/>
<path class="kb w3" d="M275 139l4.6-4M256 152l6.7-5.9M271 128l1.8-1.4M253 144l1.8-1.3"/>
<path class="kb w4" d="M252 147l3.2-2.7M296 122l4.6-2.9M267 144l3.2-1.9M257 149l6.3-4.5"/>
<path class="kb w5" d="M272 132l2.7-2.3"/>
<path class="kb w6" d="M261 145l6.5-4.3M240 157l5.3-4.4M257 146l5.2-3.1M258 140l5.9-4.1M225 162l4-3.5"/>
<path d="M246 146L256 137L266 129L278 120L290 115L306 109L306 118L296 121L286 126L276 132L264 138L252 144Z" fill="#50969a"/>
<path class="kgr w3" d="M270 132l7.2-4.4M272 128l2.8-2.3M297 118l5.8-3.8M293 122l3.8-2.3"/>
<path class="kgr w4" d="M252 142l2.1-1.7M278 126l5.3-4.5M271 125l2.7-2M294 117l5.8-3.8M275 131l5.1-4.2"/>
<path class="kgr w5" d="M255 138l7.4-4.4M300 118l2.7-2M275 126l2.8-1.9"/>
<path class="kgr w6" d="M271 132l4.1-3.4M280 122l4.6-3.7M274 130l2.3-2M299 113l6.4-3.9"/>
<path class="klb w4" d="M245 146l6.9-4.4"/>
<path class="klb w5" d="M303 118l4.9-4M295 122l4.9-4.4"/>
<path class="klb w6" d="M287 124l1.9-1.2"/>
<path class="kb w4" d="M292 118l6.2-3.9"/>
<path class="kb w5" d="M282 127l5.7-3.6"/>
<path class="klg w4" d="M278 123l6.4-5.4"/>
<path class="ky w3" d="M257 142l7.2-5.2"/>
<path class="ky w4" d="M300 118l3-1.8"/>
<path class="ky w6" d="M263 138l3.1-2.7M262 138l6.6-4.6"/>
<path class="kt w4" d="M265 130l5.6-4.4"/>
<path class="kt w5" d="M264 132l1.7-1.5M286 119l2.8-2M281 127l5.3-3.7M258 136l5.3-3.1"/>
<path d="M226 160L236 152L246 146L250 149L238 156L228 163Z" fill="#008000"/>
<path d="M282 138L290 130L298 127L306 124L306 150L300 153L292 150L286 146Z" fill="#50969a"/>
<path class="kgr w3" d="M297 145l4.9-3.8M302 139l6.7-4.4M294 130l3.2-2.4"/>
<path class="kgr w4" d="M302 135l4.1-3.5"/>
<path class="kgr w5" d="M301 136l5.9-4.8M297 136l5.6-4.4M298 145l2.2-1.5"/>
<path class="kgr w6" d="M283 143l4.5-3.4M284 145l7.3-4.5M292 138l3.5-3.2M299 152l7-4.4M289 149l2.8-2.5"/>
<path class="klb w3" d="M285 139l4.4-2.7M288 133l3-2.1"/>
<path class="klb w4" d="M294 136l1.8-1.4"/>
<path class="klb w5" d="M302 127l5.7-4.6M300 141l4.6-2.8M289 140l6.4-5"/>
<path class="klb w6" d="M296 135l5.5-3.5"/>
<path class="kb w6" d="M280 140l6.2-3.8M297 151l2.2-1.8"/>
<path class="klg w3" d="M295 137l5.2-4.1M291 146l2.9-1.8M283 141l2.3-1.5"/>
<path class="klg w4" d="M296 132l3.2-2.5M289 139l1.7-1.2"/>
<path class="klg w5" d="M292 145l4.5-3.6"/>
<path class="klg w6" d="M298 138l4.1-3.2M302 135l5.9-3.7"/>
<path class="ky w4" d="M279 141l6.6-4.9"/>
<path class="ky w5" d="M298 149l3.1-2.3"/>
<path class="ky w6" d="M295 135l2.1-1.5"/>
<path class="kt w3" d="M304 132l2.9-2.6"/>
<path d="M256 150L268 146L282 144L284 150L272 155L258 157Z" fill="#b8c4ec"/>
<ellipse cx="262.0" cy="153.0" rx="5.0" ry="1.3" transform="rotate(-15.0 262.0 153.0)" fill="#a5a5a5"/>
<ellipse cx="240.0" cy="160.0" rx="4.0" ry="1.3" transform="rotate(-20.0 240.0 160.0)" fill="#a5a5a5"/>
<ellipse cx="271.0" cy="126.0" rx="3.0" ry="4.5" transform="rotate(0.0 271.0 126.0)" fill="#fff"/>
<ellipse cx="294.0" cy="146.0" rx="2.5" ry="3.5" transform="rotate(0.0 294.0 146.0)" fill="#fff"/>
<ellipse cx="266.0" cy="148.0" rx="2.0" ry="1.5" transform="rotate(0.0 266.0 148.0)" fill="#fff"/>
<ellipse cx="262.0" cy="132.0" rx="3.0" ry="1.5" transform="rotate(-30.0 262.0 132.0)" fill="#b8c4ec"/>
<ellipse cx="248.0" cy="146.0" rx="5.0" ry="1.5" transform="rotate(-30.0 248.0 146.0)" fill="#b8c4ec"/>
<ellipse cx="236.0" cy="150.0" rx="4.0" ry="1.4" transform="rotate(-35.0 236.0 150.0)" fill="#b8c4ec"/>
<ellipse cx="285.0" cy="126.0" rx="3.5" ry="4.5" transform="rotate(0.0 285.0 126.0)" fill="#b8c4ec"/>
<ellipse cx="285.0" cy="126.0" rx="3.0" ry="3.9" transform="rotate(0.0 285.0 126.0)" fill="#5058d8"/>
<ellipse cx="285.0" cy="126.0" rx="2.4" ry="3.1" transform="rotate(0.0 285.0 126.0)" fill="#008000"/>
<ellipse cx="285.0" cy="126.0" rx="1.8" ry="2.3" transform="rotate(0.0 285.0 126.0)" fill="#f0d860"/>
<ellipse cx="298.0" cy="128.0" rx="4.0" ry="3.0" transform="rotate(0.0 298.0 128.0)" fill="#b8c4ec"/>
<ellipse cx="298.0" cy="128.0" rx="3.4" ry="2.6" transform="rotate(0.0 298.0 128.0)" fill="#5058d8"/>
<ellipse cx="298.0" cy="128.0" rx="2.8" ry="2.1" transform="rotate(0.0 298.0 128.0)" fill="#008000"/>
<ellipse cx="298.0" cy="128.0" rx="2.1" ry="1.6" transform="rotate(0.0 298.0 128.0)" fill="#f0d860"/>
<ellipse cx="283.0" cy="141.0" rx="3.0" ry="3.0" transform="rotate(0.0 283.0 141.0)" fill="#b8c4ec"/>
<ellipse cx="283.0" cy="141.0" rx="2.6" ry="2.6" transform="rotate(0.0 283.0 141.0)" fill="#5058d8"/>
<ellipse cx="283.0" cy="141.0" rx="2.1" ry="2.1" transform="rotate(0.0 283.0 141.0)" fill="#008000"/>
<ellipse cx="283.0" cy="141.0" rx="1.6" ry="1.6" transform="rotate(0.0 283.0 141.0)" fill="#f0d860"/>
<ellipse cx="302.0" cy="147.0" rx="3.0" ry="5.0" transform="rotate(0.0 302.0 147.0)" fill="#b8c4ec"/>
<ellipse cx="302.0" cy="147.0" rx="2.6" ry="4.3" transform="rotate(0.0 302.0 147.0)" fill="#5058d8"/>
<ellipse cx="302.0" cy="147.0" rx="2.1" ry="3.5" transform="rotate(0.0 302.0 147.0)" fill="#008000"/>
<ellipse cx="302.0" cy="147.0" rx="1.6" ry="2.6" transform="rotate(0.0 302.0 147.0)" fill="#f0d860"/>
<ellipse cx="302.0" cy="147.0" rx="1.0" ry="1.7" transform="rotate(0.0 302.0 147.0)" fill="#f0b020"/>
<ellipse cx="292.0" cy="120.0" rx="2.5" ry="2.5" transform="rotate(0.0 292.0 120.0)" fill="#b8c4ec"/>
<ellipse cx="292.0" cy="120.0" rx="2.1" ry="2.1" transform="rotate(0.0 292.0 120.0)" fill="#5058d8"/>
<ellipse cx="292.0" cy="120.0" rx="1.8" ry="1.8" transform="rotate(0.0 292.0 120.0)" fill="#008000"/>
<ellipse cx="292.0" cy="120.0" rx="1.3" ry="1.3" transform="rotate(0.0 292.0 120.0)" fill="#f0d860"/>
<ellipse cx="303.0" cy="136.0" rx="2.5" ry="3.0" transform="rotate(0.0 303.0 136.0)" fill="#b8c4ec"/>
<ellipse cx="303.0" cy="136.0" rx="2.1" ry="2.6" transform="rotate(0.0 303.0 136.0)" fill="#5058d8"/>
<ellipse cx="303.0" cy="136.0" rx="1.8" ry="2.1" transform="rotate(0.0 303.0 136.0)" fill="#008000"/>
<ellipse cx="303.0" cy="136.0" rx="1.3" ry="1.6" transform="rotate(0.0 303.0 136.0)" fill="#f0d860"/>
<ellipse cx="289.0" cy="134.0" rx="2.0" ry="2.0" transform="rotate(0.0 289.0 134.0)" fill="#b8c4ec"/>
<ellipse cx="289.0" cy="134.0" rx="1.7" ry="1.7" transform="rotate(0.0 289.0 134.0)" fill="#5058d8"/>
<ellipse cx="289.0" cy="134.0" rx="1.4" ry="1.4" transform="rotate(0.0 289.0 134.0)" fill="#008000"/>
<ellipse cx="259.0" cy="140.0" rx="2.0" ry="2.0" transform="rotate(0.0 259.0 140.0)" fill="#b8c4ec"/>
<ellipse cx="259.0" cy="140.0" rx="1.7" ry="1.7" transform="rotate(0.0 259.0 140.0)" fill="#5058d8"/>
<ellipse cx="259.0" cy="140.0" rx="1.4" ry="1.4" transform="rotate(0.0 259.0 140.0)" fill="#008000"/>
<ellipse cx="266.0" cy="134.0" rx="2.0" ry="2.0" transform="rotate(0.0 266.0 134.0)" fill="#b8c4ec"/>
<ellipse cx="266.0" cy="134.0" rx="1.7" ry="1.7" transform="rotate(0.0 266.0 134.0)" fill="#5058d8"/>
<ellipse cx="266.0" cy="134.0" rx="1.4" ry="1.4" transform="rotate(0.0 266.0 134.0)" fill="#008000"/>
<path class="klb w3" d="M281 191l13-10.9M277 179l11.2-7"/>
<path class="klb w4" d="M289 182l9.8-7.8M301 157l9.9-8.6M274 195l10.5-8.4M254 208l9.9-5.8M284 187l10.4-8M251 208l8.2-6.3M297 174l9.1-6M273 200l5.3-4.3M279 197l5.1-4M289 176l11.2-8.3"/>
<path class="klb w5" d="M292 175l5.8-3.6M281 193l10-7.1M252 211l7.1-5.6M283 175l7-5.5M278 198l12-9.5M243 214l7.2-4.8M274 190l9.7-6.9"/>
<path class="klb w6" d="M301 156l5.3-4M299 166l8.4-5.9M261 214l5.2-3.7M283 195l13.2-9.7M259 204l10.6-9.4M268 200l8.4-6.1M258 217l10.2-7.1M298 159l7.8-6.4M252 212l11.2-8M272 198l13.3-8.9"/>
<path class="kg w3" d="M269 202l9.3-6M298 175l7.7-6.2M246 199l13.4-9.2M252 197l12.8-9.3M272 196l13.7-9.9M273 194l9.7-5.8M268 192l11.2-9.6M279 193l11.5-8.8M254 209l6.6-4.3M289 179l7.8-4.9"/>
<path class="kg w4" d="M288 187l12-9.2M289 180l8.1-6.7M296 162l9.6-6.9M300 159l8-6M244 205l13.8-9.9M265 200l7.5-4.9M270 194l10.1-7.3M274 203l10.2-7.7M264 191l7.5-4.7M249 213l13.1-7.9M260 216l7.9-7.1M257 213l6.1-4.3M262 194l11.1-9.5M257 207l10.3-8.8M288 173l11.9-8.9M285 187l5.3-3.5M296 172l12.3-7.9M298 167l6-4.7M271 196l14.4-10.1M273 193l14.9-9.9M235 214l8.1-6M242 201l7.8-4.5M256 200l9.5-5.6M254 210l10.2-6.7M281 177l4.7-4.1"/>
<path class="kg w5" d="M269 204l10.8-9.6M252 207l9.8-7.5M252 207l5.7-4M248 200l5.7-4.3M244 221l12.4-7.4M268 195l13.9-11.1M294 173l5.5-3.5M280 176l5.7-5M269 202l11.5-7.9M248 220l11.3-8.3M265 208l9.5-8.2M259 203l5.4-3.7"/>
<path class="kg w6" d="M262 213l5.4-4.6M277 180l11-7.6M300 172l12.3-7.5M297 164l13.4-10.8M294 163l6.8-4M301 175l5.2-4.6M261 199l8.7-6.3M298 166l7.5-6.4M278 182l7.8-5.4M273 191l7.1-6.2M252 218l4.8-3.8M248 206l9.6-7.7M254 198l12.6-10.4"/>
<path d="M240 212L244 201L256 195L267 190L278 180L288 170L296 164L306 155L306 168L298 178L288 190L278 198L268 204L262 214L250 216Z" fill="#b8c4ec"/>
<path d="M242 210L246 202L257 196L268 191L280 181L290 171L298 165L306 157L306 166L298 176L288 188L277 197L267 203L261 212L250 214Z" fill="#5058d8"/>
<path d="M244 208L248 203L258 197L269 192L281 183L291 173L299 167L306 160L306 164L297 174L287 186L276 195L266 201L260 210L251 212Z" fill="#50969a"/>
<path class="kgr w3" d="M270 194l3.1-2.1"/>
<path class="kgr w4" d="M262 198l4.3-3.1M298 168l6.4-4.7"/>
<path class="kgr w5" d="M256 207l4.1-2.4M282 186l1.7-1.1M259 205l5.4-4.3M271 192l4-3.3M301 167l3.7-2.3M281 187l5.6-4.2M265 197l6.9-4.2M286 187l2.1-1.9"/>
<path class="klb w5" d="M266 197l1.9-1.4"/>
<path class="klb w6" d="M248 212l5.2-4.4M274 189l6-4"/>
<path class="kb w3" d="M290 176l6.9-4.3M295 172l2.1-1.3"/>
<path class="kb w4" d="M290 176l1.9-1.5M279 188l3.7-2.4M253 211l6.2-5.6"/>
<path class="kb w5" d="M259 204l4.1-3.4"/>
<path class="klg w3" d="M258 205l5.8-4.5M253 205l3.7-3.2M250 204l1.7-1.2"/>
<path class="klg w6" d="M258 207l3-2.7M270 196l3.1-1.9M272 190l3.2-2.7"/>
<path class="ky w3" d="M245 208l3.7-2.4"/>
<path class="ky w5" d="M274 191l3.4-2.2"/>
<path class="ky w6" d="M286 178l5.4-3.9"/>
<path class="kt w4" d="M264 202l3.7-2.5M300 170l3.5-2.4M257 204l4.1-2.5M257 211l4.3-3.5"/>
<path class="kt w5" d="M262 204l4.2-2.9"/>
<path class="kt w6" d="M268 194l4.2-3"/>
<path d="M247 206L251 202L259 199L270 194L282 185L291 176L299 169L304 164L304 166L296 175L286 185L274 194L264 201L259 209L251 209Z" fill="#f0d860"/>
<ellipse cx="252.0" cy="206.0" rx="2.0" ry="2.0" transform="rotate(0.0 252.0 206.0)" fill="#c0e0c0"/>
<ellipse cx="258.0" cy="206.0" rx="3.0" ry="4.0" transform="rotate(0.0 258.0 206.0)" fill="#f0b020"/>
<ellipse cx="284.0" cy="184.0" rx="2.0" ry="2.0" transform="rotate(0.0 284.0 184.0)" fill="#f0b020"/>
<ellipse cx="293.0" cy="174.0" rx="2.0" ry="2.0" transform="rotate(0.0 293.0 174.0)" fill="#f0b020"/>
<ellipse cx="285.0" cy="183.0" rx="1.2" ry="1.2" transform="rotate(0.0 285.0 183.0)" fill="#f05080"/>
<ellipse cx="259.0" cy="208.0" rx="1.3" ry="1.8" transform="rotate(0.0 259.0 208.0)" fill="#8c5a40"/>
<ellipse cx="294.0" cy="173.0" rx="1.0" ry="1.0" transform="rotate(0.0 294.0 173.0)" fill="#f05080"/>
<ellipse cx="252.0" cy="207.0" rx="1.0" ry="1.0" transform="rotate(0.0 252.0 207.0)" fill="#f05080"/>
<ellipse cx="296.0" cy="160.0" rx="2.0" ry="1.5" transform="rotate(0.0 296.0 160.0)" fill="#b8c4ec"/>
<ellipse cx="296.0" cy="160.0" rx="1.7" ry="1.3" transform="rotate(0.0 296.0 160.0)" fill="#5058d8"/>
<ellipse cx="300.0" cy="185.0" rx="2.0" ry="1.5" transform="rotate(0.0 300.0 185.0)" fill="#b8c4ec"/>
<ellipse cx="303.0" cy="188.0" rx="1.5" ry="1.5" transform="rotate(0.0 303.0 188.0)" fill="#a5a5a5"/>
<path d="M198 168L208 168L212 172L200 174Z" fill="#a5a5a5"/>
<path d="M172 180L176 172L186 169L198 170L206 173L214 178L218 186L216 198L208 205L196 207L186 205L178 200L172 190Z" fill="#b8c4ec"/>
<path d="M174 180L178 173L188 171L198 172L206 175L212 180L216 188L214 197L207 203L196 205L186 203L178 198L174 190Z" fill="#5058d8"/>
<path d="M176 180L180 175L189 173L199 174L206 177L211 183L213 194L206 200L194 202L184 200L178 194Z" fill="#50969a"/>
<path class="kgr w3" d="M192 186l4.9-3.2M197 185l5.9-5.2"/>
<path class="kgr w4" d="M183 189l4-2.8M194 181l4.4-3.9M195 190l4.3-2.9"/>
<path class="kgr w5" d="M200 194l3.3-2.4M199 177l2-1.2M180 185l4.7-2.9M203 188l4.1-2.6"/>
<path class="kgr w6" d="M178 187l6.9-4.5M205 190l6.8-4.3M187 182l5.8-4.4M199 182l2.6-2.2M195 178l3.8-3.2M189 194l6.9-4.3M187 194l5.9-3.4M207 198l5.9-4.3"/>
<path class="klb w3" d="M201 188l5-3.5"/>
<path class="klb w4" d="M184 199l2.9-1.7M181 184l6.4-5.1"/>
<path class="klb w5" d="M198 189l2.2-1.7M206 197l5.1-3"/>
<path class="klb w6" d="M194 204l7.2-5.2M184 183l4.5-3.5M190 181l3.4-2.1"/>
<path class="kb w3" d="M187 186l3.6-2.6M189 174l1.9-1.3"/>
<path class="kb w4" d="M208 193l5.9-4.6M197 197l6.7-4.5"/>
<path class="kb w6" d="M200 197l2.5-1.5M206 200l5.2-4.1"/>
<path class="klg w3" d="M200 200l5.3-4.6M183 176l3.7-2.6M179 182l4.1-3.5"/>
<path class="klg w4" d="M185 178l5-4.1"/>
<path class="klg w6" d="M194 184l4.1-3.5M178 194l2.4-1.6M188 196l3.2-2.3"/>
<path class="ky w3" d="M182 182l4-2.8M177 179l3.1-2.5M176 181l2.3-1.7"/>
<path class="ky w4" d="M187 196l5.9-4.3M191 176l5.1-3.4M183 198l2.3-2"/>
<path class="ky w6" d="M189 178l6.3-5.4M182 184l1.8-1.2"/>
<path class="kt w4" d="M201 197l5.3-4.2M185 196l3.8-3.3M191 195l4.5-3.1M186 195l3.7-3.2M180 184l3.7-2.4M176 192l4-2.9M181 192l1.8-1.1"/>
<path class="kt w5" d="M191 189l6.1-4M179 177l3.7-2.3M191 194l3.5-2.7"/>
<path class="kt w6" d="M193 181l6.2-3.7M195 202l5.3-4.5"/>
<path d="M179 181L183 177L190 176L199 177L205 180L207 186L208 195L200 198L190 197L183 194L180 188Z" fill="#f0d860"/>
<path class="ko w3" d="M201 198l7.4-5.1M192 187l6.3-4M191 184l2.9-2.5"/>
<path class="ko w4" d="M184 188l1.8-1.4M193 185l1.8-1.4M206 192l1.8-1.1M195 196l6.2-5.3M183 193l3.6-2.6"/>
<path class="ko w5" d="M201 186l3.7-2.3M202 188l4.1-2.4M205 195l5.3-4.8M201 186l4.5-2.9"/>
<path class="ko w6" d="M189 192l1.8-1.1M191 181l3.1-2.6M204 189l3.1-1.9M181 195l7.7-4.5"/>
<path class="klg w3" d="M198 195l2.5-1.7"/>
<path class="klg w4" d="M184 182l4.5-2.7M190 186l2.7-2"/>
<path class="klg w5" d="M204 196l4.2-2.5"/>
<path class="kgr w3" d="M187 192l6.3-4.6"/>
<path class="kgr w5" d="M193 193l6.9-4.3"/>
<path class="ky w3" d="M205 187l4-2.9"/>
<path class="ky w4" d="M192 191l1.8-1.4M191 186l3.4-2.3M180 189l3.5-2.5M201 181l5.8-3.4"/>
<path class="kbr w3" d="M200 196l4.8-2.8M199 198l2.7-1.9"/>
<path class="kbr w4" d="M187 195l3.8-2.8M183 178l2.2-1.9"/>
<path class="kbr w6" d="M179 186l5.2-4.6"/>
<path class="kb w4" d="M188 197l4.8-3.2"/>
<path class="kb w5" d="M205 196l4.4-3.9"/>
<path class="kb w6" d="M192 199l5.9-4.2"/>
<ellipse cx="183.0" cy="186.0" rx="3.0" ry="2.0" transform="rotate(0.0 183.0 186.0)" fill="#c0e0c0"/>
<ellipse cx="186.0" cy="181.0" rx="2.0" ry="1.5" transform="rotate(0.0 186.0 181.0)" fill="#008000"/>
<ellipse cx="191.0" cy="183.0" rx="3.0" ry="3.0" transform="rotate(0.0 191.0 183.0)" fill="#f0b020"/>
<ellipse cx="198.0" cy="189.0" rx="3.0" ry="3.0" transform="rotate(0.0 198.0 189.0)" fill="#f0b020"/>
<ellipse cx="204.0" cy="194.0" rx="2.5" ry="2.5" transform="rotate(0.0 204.0 194.0)" fill="#f0b020"/>
<ellipse cx="192.0" cy="184.0" rx="1.5" ry="1.5" transform="rotate(0.0 192.0 184.0)" fill="#c08838"/>
<ellipse cx="199.0" cy="191.0" rx="1.5" ry="1.5" transform="rotate(0.0 199.0 191.0)" fill="#8c5a40"/>
<ellipse cx="201.0" cy="195.0" rx="1.2" ry="1.2" transform="rotate(0.0 201.0 195.0)" fill="#f05080"/>
<ellipse cx="205.0" cy="196.0" rx="1.2" ry="1.2" transform="rotate(0.0 205.0 196.0)" fill="#8c5a40"/>
<path d="M200 214L206 208L216 206L226 206L234 210L238 218L234 231L202 231L198 224Z" fill="#b8c4ec"/>
<path d="M202 216L208 210L218 209L227 209L233 214L235 221L232 231L204 231L201 225Z" fill="#50969a"/>
<path class="kgr w3" d="M211 230l5.7-4.1M211 226l4.2-2.7M221 232l2.1-1.4M202 218l5-2.9"/>
<path class="kgr w4" d="M202 227l3-1.8M217 223l4.3-3.4M216 218l3.2-2.4M222 215l1.9-1.4M220 221l6.2-5.3M223 221l1.9-1.6"/>
<path class="kgr w5" d="M210 217l3.4-2.3M224 231l1.5-1.3M206 227l5.7-3.4M201 227l6.3-4.6"/>
<path class="kgr w6" d="M207 214l2.3-1.4"/>
<path class="klb w3" d="M205 224l2-1.5M232 224l1.8-1.4"/>
<path class="klb w4" d="M229 219l2.9-1.9M213 215l2.5-1.5"/>
<path class="klb w6" d="M230 222l6.7-4.2M199 224l6.1-5.4"/>
<path class="kb w3" d="M198 226l6.6-4.6"/>
<path class="kb w4" d="M205 212l3.9-2.5M220 220l7.2-4.3"/>
<path class="kb w5" d="M223 215l6.7-4.3M203 230l4.8-3.2"/>
<path class="kb w6" d="M207 214l3.2-2"/>
<path class="klg w3" d="M227 230l5.1-4.4"/>
<path class="klg w4" d="M215 226l2.5-1.6"/>
<path class="klg w5" d="M222 232l3-2.4"/>
<path class="klg w6" d="M213 216l3.5-2.2M214 224l6.8-4.7M206 231l1.9-1.4M214 231l5.5-4.6M210 217l6.1-4.1"/>
<path class="ky w4" d="M219 213l4-3.3M228 214l3.9-2.7M215 231l7-5.2"/>
<path class="ky w6" d="M214 226l4.8-3.5M206 212l4.6-3.7"/>
<path class="kt w3" d="M225 228l6.3-3.7M204 227l5.5-3.9M225 231l5.7-5"/>
<path class="kt w4" d="M203 228l6.2-3.7M227 224l2.2-1.4"/>
<path d="M205 218L210 213L219 212L227 213L231 219L230 231L207 231L204 225Z" fill="#f0d860"/>
<path class="ko w3" d="M208 216l3.3-2M214 217l6-3.8M213 222l5.7-3.4M225 227l5-3.6"/>
<path class="ko w4" d="M222 228l4.8-3.6M214 221l3.2-1.9M207 218l6-5.3M217 222l6.6-4.4M218 218l5.6-3.3"/>
<path class="ko w5" d="M204 223l5.9-3.5M210 216l3.5-2.1M224 226l4.9-4.1M219 219l2.7-2.3M204 220l3.6-2.6"/>
<path class="ko w6" d="M219 228l7.3-5.1M209 225l1.6-1.4M211 227l6.6-5.3"/>
<path class="klg w3" d="M211 224l7.3-4.7M218 225l4.3-3.5"/>
<path class="klg w6" d="M227 221l6.7-5.1"/>
<path class="kgr w3" d="M217 218l1.7-1M224 223l3.7-3.2"/>
<path class="kgr w4" d="M220 221l2.6-1.6M206 222l1.8-1.4"/>
<path class="kgr w6" d="M223 220l6.5-3.8M225 217l6-3.7"/>
<path class="ky w3" d="M222 219l5.5-3.4"/>
<path class="ky w5" d="M222 222l2.2-1.6"/>
<path class="kbr w6" d="M217 225l6.7-5.8"/>
<path class="kb w5" d="M223 232l5.6-3.8"/>
<path class="kb w6" d="M210 215l2-1.2"/>
<ellipse cx="208.0" cy="222.0" rx="2.0" ry="3.0" transform="rotate(0.0 208.0 222.0)" fill="#c0e0c0"/>
<ellipse cx="222.0" cy="222.0" rx="3.0" ry="3.0" transform="rotate(0.0 222.0 222.0)" fill="#f0b020"/>
<ellipse cx="225.0" cy="220.0" rx="2.0" ry="2.0" transform="rotate(0.0 225.0 220.0)" fill="#f05080"/>
<ellipse cx="218.0" cy="227.0" rx="2.0" ry="2.0" transform="rotate(0.0 218.0 227.0)" fill="#8c5a40"/>
<ellipse cx="212.0" cy="226.0" rx="2.0" ry="2.0" transform="rotate(0.0 212.0 226.0)" fill="#f0b020"/>
<path class="klb w5" d="M194 141l.6-.2M188 140l1.2-.5M192 149l.3-.2M187 146l.5-.2M206 158l.4-.3M176 141l1-.7M184 149l.7-.3"/>
<path class="klb w6" d="M133 202l1-.7M136 226l1.1-.8M196 158l.8-.4M205 142l1.6-.8M199 145l1.7-.8M173 141l.5-.2M204 160l1.5-.6M192 148l1.4-.7"/>
<path class="klb w7" d="M227 195l1.5-1.3M47 225l2.5-.7M30 224l1.6-.7M43 229l1.8-1M50 227l.5-.3M118 204l.4-.2M120 226l1.1-.5M190 150l1.4-.6"/>
<path class="klb w8" d="M186 207l1.4-.7M145 170l.5-.2M158 169l1.2-.5M141 192l1-.4M166 209l1-.8M166 193l1.7-.6M226 189l2-1.5M32 222l.6-.2M54 228l1.3-.5M54 224l1-.6M42 231l.7-.6M40 225l1.5-.6M119 206l2.4-1.9M123 196l.8-.6M170 144l.9-.5"/>
<path class="klb w9" d="M155 214l1.1-.3M165 189l.8-.5M156 230l1.7-1.3M215 201l2-1.1M29 224l2.8-1.1M125 194l1.5-.6M110 229l1-.5M115 197l1.7-1"/>
<path class="klb w10" d="M168 183l2.6-1.4M192 214l2.2-1M141 222l2.7-2M146 178l2.7-1.2M175 204l2.4-1.2M168 191l2.4-1.7M168 225l1.4-.7M159 173l1.8-1M179 225l2.2-1.1M147 179l2.3-.8M161 194l.9-.2M225 186l1.3-.6M219 183l1-.3M229 186l1.4-.5M216 183l2.7-.8M232 191l2.5-.7M211 200l2.2-1.2M208 195l2.2-1.8M226 189l1.2-.5M60 225l2.2-.6M118 228l1-.4"/>
<path class="klb w11" d="M191 217l1.6-1.4M181 214l1.2-.9M155 206l3.1-1.7M163 171l1.5-1.2M181 207l2.8-.8M185 231l3.2-1.9M142 172l1.7-.5M187 218l1-.6M99 216l2.4-1.6M62 217l1.6-1.3M111 224l2.5-1.7M124 202l2.8-1.7"/>
<path class="klb w12" d="M168 174l2.1-1.7M167 210l.7-.2M156 215l1.7-1.1M171 226l2.6-1M143 207l2.2-.8M169 230l1.4-1.1M152 212l1.6-.7M148 210l3.5-2M140 162l3.2-2.5M158 173l.8-.5M144 192l2.5-2.1M145 161l2.2-1.1M149 194l2.6-1.5M152 161l2.4-1.6M209 179l1.4-.6M83 216l1.7-1.3M75 220l2.5-1.6M97 222l3.2-1.6M59 227l3.5-1.8M62 222l2.1-.9M68 228l3.8-1.4M60 217l.8-.5"/>
<path class="klb w13" d="M164 196l3.7-1.1M145 192l1.4-.8M140 215l2.5-1.4M172 206l4.2-2.2M184 218l3.1-1M146 195l1.3-.9M142 192l2.1-1.1M186 208l1.8-.7M140 197l2.8-1M167 189l1.5-.9M148 179l2.4-1.4M217 182l2.6-1.9M224 181l3.3-2.8M93 216l1.7-1M103 211l1.7-1.3M87 210l1.7-.8M96 214l.8-.6M99 214l1.8-1.2M82 216l3.3-2.4M68 223l2.6-2.1M60 226l1.6-.5M56 223l2.9-1.9"/>
<path class="klb w14" d="M155 182l1.6-.7M143 180l2-1.4M149 223l3.8-2.5M165 193l2.3-.9M186 215l4.3-1.8M180 213l2.3-1.6M190 214l3.1-2.5M168 231l4-1.8M153 202l3.7-1.3M150 221l1-.8M147 180l3.4-1M151 221l2.8-.9M192 221l.8-.5M157 179l3.7-1.4M182 209l1.9-1M148 200l3.8-1.3M232 196l1-.7M82 213l1.7-1.1"/>
<path class="klb w15" d="M175 224l2.6-1.4M148 194l2.9-.9M156 226l3.2-2.3M151 228l4.7-1.6M145 205l1.1-.6M146 179l3.4-2.4M146 164l2.5-1.7M150 181l3.3-2.1M157 166l3.9-1.9M158 174l1-.6M82 209l2.2-1.6M80 220l2.1-1.2M76 204l.8-.4M80 206l2.9-1.5"/>
<path class="klb w16" d="M148 214l1.5-.8M139 231l4.5-1.9M142 210l1.9-1M183 217l1.6-.9M160 196l3.3-1.2M156 172l4.6-2.6M155 213l3.2-2.5M176 220l2.2-1.4M149 182l4.6-1.4M157 164l2.4-1.3M156 179l2.9-.8M154 181l3.9-1.1M86 210l3-1.3"/>
<path class="klb w17" d="M167 218l1.7-.7M151 196l4.3-2.1M146 161l1.7-1.3M82 217l2-1.2"/>
<path class="klb w18" d="M103 212l2.8-1.3"/>
<path class="kb w3" d="M205 142l1.7-.9"/>
<path class="kb w4" d="M30 224l1.7-.8M50 227l.7-.4M118 204l.6-.3M133 202l.7-.5M137 226l.9-.6M199 145l1.5-.7M204 160l1.2-.5"/>
<path class="kb w5" d="M186 207l1.5-.8M145 170l.7-.2M157 169l1.4-.6M141 192l1.2-.5M227 194l1.3-1.1M32 222l.8-.2M54 228l1.5-.6M54 224l1.1-.7M47 225l2.2-.7M43 229l1.5-.9M42 231l.9-.7M120 226l.8-.4M170 144l1.1-.6M190 150l1.1-.5"/>
<path class="kb w6" d="M154 214l1.3-.4M164 189l1-.6M166 209l.8-.6M166 193l1.4-.5M226 189l1.7-1.3M40 225l1.2-.5M125 194l1.7-.7M120 206l2.2-1.7M110 229l1.2-.6M115 197l1.9-1.1M124 195l.6-.4"/>
<path class="kb w7" d="M175 204l2.6-1.3M168 191l2.6-1.8M159 173l2-1.1M157 230l1.4-1.1M161 194l1.1-.3M219 183l1.2-.4M229 186l1.6-.6M216 183l2.9-.8M232 191l2.7-.8M208 195l2.4-2M216 201l1.7-1M60 225l2.4-.7M29 224l2.5-1M118 228l1.2-.5"/>
<path class="kb w8" d="M169 183l2.3-1.2M192 214l1.9-.9M141 222l2.4-1.9M146 178l2.4-1.1M181 214l1.3-1M168 225l1.1-.6M187 218l1.2-.7M179 225l2-1M147 179l2-.7M226 186l1-.4M211 200l1.9-1.1M226 189l.9-.4M98 216l2.6-1.7M62 217l1.7-1.4M111 224l2.7-1.9M124 202l3-1.8"/>
<path class="kb w9" d="M167 210l.9-.3M191 217l1.4-1.2M171 226l2.8-1.1M155 206l2.8-1.6M163 171l1.2-1M169 230l1.5-1.2M181 207l2.5-.7M185 231l2.9-1.7M142 171l1.4-.4M152 212l1.8-.7M140 162l3.4-2.6M157 173l1-.6M144 193l2.7-2.3M148 195l2.8-1.6M75 220l2.7-1.7M97 222l3.4-1.7M62 222l2.2-1M68 228l4-1.5M60 217l1-.6"/>
<path class="kb w10" d="M168 174l1.8-1.5M156 215l1.5-.9M143 207l1.9-.7M140 215l2.7-1.5M148 210l3.2-1.8M146 195l1.5-1M186 208l2-.7M145 161l1.9-1M140 197l3-1.1M152 161l2.1-1.5M148 179l2.5-1.5M209 179l1.1-.5M217 182l2.7-2M83 216l1.4-1.1M103 211l1.8-1.4M87 210l1.9-.9M96 214l1-.7M99 214l1.9-1.3M59 227l3.2-1.7M68 223l2.7-2.2M60 226l1.8-.5M56 223l3.1-2"/>
<path class="kb w11" d="M142 180l2.2-1.5M149 223l4-2.7M164 193l2.5-1M164 196l3.4-1M186 215l4.4-1.9M180 213l2.4-1.7M190 214l3.3-2.6M146 192l1.1-.6M172 206l4-2.1M184 218l2.8-.9M150 221l1.2-.9M142 192l1.8-1M147 180l3.6-1.1M151 221l3-1M192 221l1-.6M157 179l3.9-1.5M167 189l1.2-.8M182 209l2.1-1.1M232 196l1.1-.8M224 181l3.1-2.6M93 216l1.4-.8M82 216l3.1-2.2"/>
<path class="kb w12" d="M175 224l2.8-1.5M155 182l1.3-.6M168 231l3.8-1.7M154 202l3.4-1.2M151 228l4.9-1.6M145 205l1.2-.7M148 200l3.5-1.2M146 179l3.5-2.5M146 164l2.6-1.9M157 166l4-2M158 174l1.2-.7M82 213l1.5-.9M82 209l2.3-1.7M76 204l1-.5M80 206l3.1-1.5"/>
<path class="kb w13" d="M148 194l2.6-.8M148 214l1.7-.9M139 231l4.6-2M142 210l2-1.1M157 225l3-2.1M183 217l1.8-1M160 196l3.5-1.2M155 213l3.3-2.6M176 220l2.4-1.5M156 164l2.6-1.4M156 179l3.1-.9M150 181l3-1.9M86 210l3.2-1.4M80 220l1.8-1"/>
<path class="kb w14" d="M167 218l1.9-.8M156 172l4.3-2.5M151 196l4.5-2.2M149 181l4.3-1.3M154 181l3.6-1"/>
<path class="kb w15" d="M146 161l1.5-1.1M103 212l2.9-1.4M82 217l1.7-1.1"/>
<path class="kgr w3" d="M125 194l1.9-.7M119 206l2.4-1.9M123 195l.7-.5"/>
<path class="kgr w4" d="M168 191l2.7-1.9M219 183l1.4-.5M215 201l1.9-1.1M60 225l2.6-.8M29 224l2.7-1M110 229l.9-.5M118 229l1.3-.6M115 197l1.6-1"/>
<path class="kgr w5" d="M168 183l2.5-1.3M192 214l2.1-1M141 222l2.6-2M146 178l2.6-1.2M175 204l2.3-1.2M168 225l1.3-.7M159 173l1.7-.9M179 225l2.1-1.1M147 179l2.2-.8M161 194l.8-.2M225 186l1.2-.5M229 186l1.3-.5M216 183l2.6-.7M232 191l2.4-.7M211 200l2.1-1.2M208 195l2.1-1.8M226 189l1.1-.5M98 216l2.8-1.8M62 218l1.9-1.5"/>
<path class="kgr w6" d="M167 210l1.1-.4M191 217l1.5-1.3M181 214l1.1-.8M155 206l3-1.6M163 171l1.4-1.1M181 207l2.7-.8M185 231l3.1-1.8M142 172l1.6-.4M187 218l.9-.5M152 212l2-.8M144 193l2.8-2.4M75 220l2.8-1.8M62 222l2.4-1.1M111 224l2.5-1.7M124 202l2.8-1.7"/>
<path class="kgr w7" d="M168 174l2-1.6M156 215l1.6-1M171 226l2.5-1M143 207l2.1-.8M169 230l1.3-1M148 210l3.4-1.9M146 195l1.6-1.1M140 162l3.1-2.4M158 173l.7-.4M186 208l2.2-.8M145 161l2.1-1.1M149 194l2.5-1.4M152 161l2.3-1.6M209 179l1.3-.6M217 182l2.9-2.1M83 216l1.6-1.2M97 222l3.1-1.5M59 227l3.4-1.8M68 228l3.7-1.4M60 217l.7-.5"/>
<path class="kgr w8" d="M164 196l3.6-1.1M145 192l1.3-.7M140 215l2.4-1.3M172 206l4.1-2.2M184 218l3-1M142 192l2-1.1M147 180l3.8-1.2M151 221l3.1-1M192 221l1.2-.7M140 197l2.7-1M167 189l1.4-.9M148 179l2.3-1.3M232 196l1.3-.9M224 181l3.2-2.7M93 216l1.6-.9M103 211l1.6-1.3M87 210l1.7-.8M96 214l.7-.5M99 214l1.7-1.1M82 216l3.2-2.3M68 223l2.5-2M60 226l1.5-.4M56 223l2.8-1.9"/>
<path class="kgr w9" d="M155 182l1.5-.7M143 180l2-1.4M149 223l3.7-2.5M165 193l2.2-.8M186 215l4.2-1.8M180 213l2.2-1.5M190 214l3-2.4M168 231l4-1.8M154 202l3.6-1.3M150 221l.9-.7M145 205l1.4-.8M157 179l3.6-1.4M182 209l1.8-.9M148 200l3.7-1.3M82 213l1.7-1M76 204l1.1-.6M80 206l3.3-1.6"/>
<path class="kgr w10" d="M176 224l2.5-1.3M148 194l2.8-.8M148 214l1.9-1M139 231l4.8-2.1M157 226l3.1-2.2M154 213l3.5-2.7M151 228l4.6-1.5M146 179l3.3-2.3M146 164l2.4-1.7M150 181l3.2-2M157 166l3.8-1.8M158 174l.9-.6M82 209l2.1-1.5M80 220l2-1.1"/>
<path class="kgr w11" d="M167 218l2.1-.9M142 210l1.8-1M183 217l1.6-.8M160 196l3.3-1.1M156 172l4.5-2.6M151 196l4.7-2.3M176 220l2.1-1.3M149 182l4.5-1.3M157 164l2.3-1.3M156 179l2.8-.8M154 181l3.8-1M86 210l3-1.3"/>
<path class="kgr w12" d="M146 161l1.6-1.2M82 217l1.9-1.2"/>
<path class="kgr w13" d="M103 212l2.7-1.3"/>
<path class="ky w3" d="M111 224l2.5-1.7M124 202l2.8-1.7"/>
<path class="ky w4" d="M168 174l2.1-1.7M156 215l1.7-1.1M143 207l2.2-.8M148 210l3.5-2M140 162l3.2-2.5M158 173l.8-.5M145 161l2.2-1.1M149 194l2.6-1.5M152 161l2.4-1.6M209 179l1.4-.6M83 216l1.7-1.3M75 220l2.5-1.6M97 222l3.2-1.6M59 227l3.5-1.8M62 222l2.1-.9M68 228l3.8-1.4M60 217l.8-.5"/>
<path class="ky w5" d="M164 196l3.7-1.1M145 192l1.4-.8M140 215l2.5-1.4M172 206l4.2-2.2M184 218l3.1-1M146 195l1.3-.9M142 192l2.1-1.1M186 208l1.8-.7M140 197l2.8-1M167 189l1.5-.9M148 179l2.4-1.4M217 182l2.6-1.9M224 181l3.3-2.8M93 216l1.7-1M103 211l1.7-1.3M87 210l1.7-.8M96 214l.8-.6M99 214l1.8-1.2M82 216l3.3-2.4M68 223l2.6-2.1M60 226l1.6-.5M56 223l2.9-1.9"/>
<path class="ky w6" d="M155 182l1.6-.7M143 180l2-1.4M149 223l3.8-2.5M165 193l2.3-.9M186 215l4.3-1.8M180 213l2.3-1.6M190 214l3.1-2.5M168 231l4-1.8M153 202l3.7-1.3M150 221l1-.8M147 180l3.4-1M151 221l2.8-.9M192 221l.8-.5M157 179l3.7-1.4M182 209l1.9-1M148 200l3.8-1.3M232 196l1-.7M82 213l1.7-1.1"/>
<path class="ky w7" d="M175 224l2.6-1.4M148 194l2.9-.9M156 226l3.2-2.3M151 228l4.7-1.6M145 205l1.1-.6M146 179l3.4-2.4M146 164l2.5-1.7M150 181l3.3-2.1M157 166l3.9-1.9M158 174l1-.6M82 209l2.2-1.6M80 220l2.1-1.2M76 204l.8-.4M80 206l2.9-1.5"/>
<path class="ky w8" d="M148 214l1.5-.8M139 231l4.5-1.9M142 210l1.9-1M183 217l1.6-.9M160 196l3.3-1.2M156 172l4.6-2.6M155 213l3.2-2.5M176 220l2.2-1.4M149 182l4.6-1.4M157 164l2.4-1.3M156 179l2.9-.8M154 181l3.9-1.1M86 210l3-1.3"/>
<path class="ky w9" d="M167 218l1.7-.7M151 196l4.3-2.1M146 161l1.7-1.3M82 217l2-1.2"/>
<path class="ky w10" d="M103 212l2.8-1.3"/>
<path class="ko w3" d="M155 182l1.7-.7M82 213l1.8-1.1"/>
<path class="ko w4" d="M175 224l2.7-1.4M151 228l4.8-1.6M145 205l1.2-.6M146 179l3.5-2.5M146 164l2.6-1.8M150 181l3.4-2.2M157 166l3.9-1.9M158 174l1.1-.7M82 209l2.3-1.6M80 220l2.1-1.2M76 204l.9-.4M80 206l3-1.5"/>
<path class="ko w5" d="M148 194l2.5-.8M148 214l1.6-.8M139 231l4.5-1.9M142 210l1.9-1.1M157 225l2.9-2.1M183 217l1.7-.9M160 196l3.4-1.2M155 213l3.3-2.6M176 220l2.3-1.4M149 182l4.7-1.4M157 164l2.5-1.4M156 179l3-.9M86 210l3.1-1.4"/>
<path class="ko w6" d="M167 218l1.8-.7M156 172l4.2-2.4M151 196l4.4-2.2M154 181l3.5-1M146 161l1.8-1.3M82 217l2.1-1.3"/>
<path class="ko w7" d="M103 212l2.9-1.4"/>
<path class="kdbr w4" d="M146 161l1.8-1.3M82 217l2.1-1.3"/>
<path class="kdbr w5" d="M103 212l2.9-1.4"/>
<ellipse cx="157.0" cy="168.0" rx="4.0" ry="8.0" transform="rotate(-10.0 157.0 168.0)" fill="#b8c4ec"/>
<ellipse cx="157.0" cy="168.0" rx="3.4" ry="6.9" transform="rotate(-10.0 157.0 168.0)" fill="#5058d8"/>
<ellipse cx="157.0" cy="168.0" rx="2.8" ry="5.6" transform="rotate(-10.0 157.0 168.0)" fill="#008000"/>
<ellipse cx="157.0" cy="168.0" rx="2.1" ry="4.2" transform="rotate(-10.0 157.0 168.0)" fill="#f0d860"/>
<ellipse cx="157.0" cy="168.0" rx="1.4" ry="2.7" transform="rotate(-10.0 157.0 168.0)" fill="#f0b020"/>
<ellipse cx="157.0" cy="168.0" rx="0.8" ry="1.6" transform="rotate(-10.0 157.0 168.0)" fill="#8c5a40"/>
<ellipse cx="154.0" cy="178.0" rx="3.5" ry="3.0" transform="rotate(0.0 154.0 178.0)" fill="#b8c4ec"/>
<ellipse cx="154.0" cy="178.0" rx="3.0" ry="2.6" transform="rotate(0.0 154.0 178.0)" fill="#5058d8"/>
<ellipse cx="154.0" cy="178.0" rx="2.4" ry="2.1" transform="rotate(0.0 154.0 178.0)" fill="#008000"/>
<ellipse cx="154.0" cy="178.0" rx="1.8" ry="1.6" transform="rotate(0.0 154.0 178.0)" fill="#f0d860"/>
<ellipse cx="131.0" cy="166.0" rx="14.0" ry="2.5" transform="rotate(-28.0 131.0 166.0)" fill="#b8c4ec"/>
<ellipse cx="136.0" cy="163.0" rx="5.0" ry="1.5" transform="rotate(-28.0 136.0 163.0)" fill="#5058d8"/>
<ellipse cx="127.0" cy="168.0" rx="3.0" ry="1.2" transform="rotate(-28.0 127.0 168.0)" fill="#5058d8"/>
<ellipse cx="141.0" cy="161.0" rx="2.0" ry="1.5" transform="rotate(0.0 141.0 161.0)" fill="#50969a"/>
<ellipse cx="224.0" cy="183.0" rx="3.0" ry="3.0" transform="rotate(0.0 224.0 183.0)" fill="#b8c4ec"/>
<ellipse cx="224.0" cy="183.0" rx="2.6" ry="2.6" transform="rotate(0.0 224.0 183.0)" fill="#5058d8"/>
<ellipse cx="224.0" cy="183.0" rx="2.1" ry="2.1" transform="rotate(0.0 224.0 183.0)" fill="#008000"/>
<ellipse cx="224.0" cy="183.0" rx="1.6" ry="1.6" transform="rotate(0.0 224.0 183.0)" fill="#f0d860"/>
<ellipse cx="214.0" cy="187.0" rx="2.0" ry="2.0" transform="rotate(0.0 214.0 187.0)" fill="#b8c4ec"/>
<ellipse cx="214.0" cy="187.0" rx="1.7" ry="1.7" transform="rotate(0.0 214.0 187.0)" fill="#5058d8"/>
<ellipse cx="214.0" cy="187.0" rx="1.4" ry="1.4" transform="rotate(0.0 214.0 187.0)" fill="#008000"/>
<ellipse cx="231.0" cy="181.0" rx="2.5" ry="2.5" transform="rotate(0.0 231.0 181.0)" fill="#b8c4ec"/>
<ellipse cx="231.0" cy="181.0" rx="2.1" ry="2.1" transform="rotate(0.0 231.0 181.0)" fill="#5058d8"/>
<ellipse cx="231.0" cy="181.0" rx="1.8" ry="1.8" transform="rotate(0.0 231.0 181.0)" fill="#008000"/>
<ellipse cx="231.0" cy="181.0" rx="1.3" ry="1.3" transform="rotate(0.0 231.0 181.0)" fill="#f0d860"/>
<ellipse cx="70.0" cy="228.0" rx="5.0" ry="3.0" transform="rotate(0.0 70.0 228.0)" fill="#a5a5a5"/>
<ellipse cx="12.0" cy="231.0" rx="3.0" ry="2.0" transform="rotate(0.0 12.0 231.0)" fill="#b8c4ec"/>
<use href="#mapg"/>
</g>
<rect x="0.5" y="0.5" width="305" height="231" fill="none" stroke="#555" stroke-width="1"/>
<rect x="5.5" y="3.5" width="15" height="21" fill="#fff" stroke="#555" stroke-width="1"/>
<text class="t" x="13.5" y="17.6" font-size="13.5" text-anchor="middle">1</text>
</g>
<g transform="translate(315,5)">
<g clip-path="url(#cp0)" stroke-linecap="round">
<ellipse cx="290.9" cy="51.8" rx="6.2" ry="1.5" transform="rotate(-40.0 290.9 51.8)" fill="#b8c4ec"/>
<ellipse cx="291.4" cy="51.8" rx="2.1" ry="0.9" transform="rotate(-40.0 291.4 51.8)" fill="#5058d8"/>
<ellipse cx="297.6" cy="45.5" rx="3.1" ry="2.0" transform="rotate(-40.0 297.6 45.5)" fill="#b8c4ec"/>
<ellipse cx="298.1" cy="45.5" rx="1.8" ry="1.1" transform="rotate(-40.0 298.1 45.5)" fill="#5058d8"/>
<ellipse cx="288.0" cy="56.3" rx="4.4" ry="1.3" transform="rotate(-40.0 288.0 56.3)" fill="#b8c4ec"/>
<ellipse cx="288.5" cy="56.3" rx="1.4" ry="1.0" transform="rotate(-40.0 288.5 56.3)" fill="#5058d8"/>
<ellipse cx="210.2" cy="67.0" rx="3.0" ry="1.7" transform="rotate(-24.4 210.2 67.0)" fill="#a5a5a5"/>
<ellipse cx="206.2" cy="62.2" rx="2.7" ry="1.8" transform="rotate(-24.9 206.2 62.2)" fill="#a5a5a5"/>
<ellipse cx="248.2" cy="81.3" rx="4.0" ry="1.1" transform="rotate(-15.6 248.2 81.3)" fill="#b8c4ec"/>
<ellipse cx="229.7" cy="57.4" rx="2.8" ry="1.2" transform="rotate(-17.7 229.7 57.4)" fill="#a5a5a5"/>
<path class="klb w3" d="M281 102l11-8.1M289 123l7.4-5.1M283 139l13.3-8.4M287 134l6.6-4.8M291 117l11.4-9.3M290 124l7-5.9M215 157l8.6-5.1M300 114l9.8-6.6M220 146l13.4-9.4M223 159l7-4.4M263 131l11.3-7M290 138l7.8-5.3M285 99l7.5-5.7M289 89l6.3-4.2M297 135l12.4-7.7M280 119l13.8-8.8"/>
<path class="klb w4" d="M275 115l13.9-10.3M275 122l9.4-7.4M275 100l13.9-9.1M263 129l9.6-7.5M235 141l10-7.7M285 108l12.6-9.4M275 121l5.5-3.4M260 106l8.4-5.5M224 141l10.8-9.3M287 125l8.4-5.7M286 109l9.5-7.2M244 119l10.8-8.6M268 100l13.3-11.4M302 129l6.7-4.9M300 132l7.8-4.9M283 127l12.1-8.4M277 112l8-5.3M244 129l8.8-6.8M216 159l12.7-11"/>
<path class="klb w5" d="M227 140l14.1-9M248 145l10.3-7.2M244 136l14-9.2M298 82l6.6-5.1M221 147l8.6-6.4M285 98l12-10.1M256 120l7.4-5.7M287 138l10.2-6.3M229 157l8.8-7.2M291 98l11.3-8.8M236 152l6.7-4.4M234 134l14.4-9.8M256 144l5.6-4.8M283 139l13.4-10.8M237 143l7-4.2M268 122l5.7-3.8M253 117l4.7-3.9M249 153l6.6-5.2"/>
<path class="klb w6" d="M259 109l9.5-7.7M244 129l11.8-7.6M205 166l12.8-9.1M292 116l13.5-9.7M230 158l11.7-9.1M293 124l7.6-5.6M223 164l9.7-6.7M275 136l13.4-11.8M293 97l12.8-10.7M285 93l13.1-8.6M251 115l10.6-8.8M240 120l15.1-9.3M276 92l9.1-6.4M269 139l12.6-7.3M247 141l12.1-9.9M277 115l11.3-9.7M265 138l13.6-9.8M297 90l8.6-6.2M294 134l6-4.1M252 149l13.2-11M268 103l6.9-5.1M221 166l6.1-4.7M284 129l12-8.6M296 92l9.3-5.8"/>
<path class="kg w3" d="M267 114l13.1-11.1M283 107l14.3-9.4M286 99l8.8-7.3M297 91l11.3-7.6M298 99l7.7-6.6M297 80l12.4-9.9M255 123l6.2-5M290 92l10.7-8.7M244 128l8.2-5.2M235 138l8-5.5M233 146l7.9-5.4M275 141l5.1-3.3M274 101l9.3-5.8M249 133l5.2-3.7M266 144l6.7-5.9M274 94l13.9-10.6M302 77l6.3-3.8M236 129l12.6-7.4M231 139l8.8-6.5M286 125l11-7.1M291 107l7.4-4.6M282 111l13.2-11.1M271 134l13.4-8.3M281 95l8.4-7.4M237 160l11-7.4M278 116l7.1-6M296 122l8.4-7.5M209 165l10.7-8.8M259 116l10.7-7.1M207 171l5-4.2M221 146l6.6-4.6M256 109l10-8.5M275 105l5.8-4M239 153l8.5-5.8M262 144l10.2-8.6M272 121l5.4-4.3M207 168l13.4-11.1"/>
<path class="kg w4" d="M259 109l8-6.8M249 124l6.1-3.7M230 159l12-10.1M290 107l12.2-10.8M242 154l14.1-10.7M302 104l5.6-4.9M296 81l10.8-9.5M244 125l12.1-7.7M220 151l5.8-4.7M276 110l10-6.4M303 87l6.2-4.9M296 118l12.3-9.9M295 108l9.8-8.3M265 135l10.4-6.2M240 136l9.9-6.8M221 154l14-10.7M299 83l6.1-5M216 155l6.1-3.6M236 148l5.9-4.3M231 154l10.4-8.2M297 83l12.5-8.4M216 161l12.1-9.8M248 136l12.2-10.3M243 126l12.1-7.9M241 140l10-6.3M244 134l12.9-8.6M242 120l6-5.1M245 153l13.9-9.2M241 148l7.9-5.5M299 103l7.5-4.7M254 129l9.4-8.5M214 160l7.5-5.9M213 166l6.6-5.1M284 122l12.9-10M261 105l10-8.5M289 102l11.3-7.7M224 147l5.4-4M227 159l5.7-3.4M249 128l13.4-11.6M273 99l5.8-5"/>
<path class="kg w5" d="M250 155l7.8-5.9M232 133l6.2-5M289 99l7.2-5M235 141l14.6-8.9M240 137l14.9-9.1M224 149l7.9-5.9M258 108l5.6-4.5M242 133l9.9-7.3M202 171l5.7-3.6M277 95l8.1-5.7M251 154l9.8-7.5M261 134l12.4-8.4M293 126l7.8-6.9M256 121l9.4-6.9M286 112l11.1-8.7M278 125l12.6-8.5M279 113l8.9-7.9M242 124l5.4-4.5M303 130l5.1-3.6M261 123l9.1-5.5M267 137l7.3-6.2M292 115l9.5-7.9M233 156l7.1-4.3M226 160l10.7-7M250 115l7-6.1M218 164l8.9-5.9M294 87l10.3-8.3M287 130l11.2-8M271 132l6.2-5.1M209 163l15.1-9.2M301 125l5.6-4.5M300 117l8.8-6.9M271 130l6.2-5.3M296 88l12.9-8.9M301 98l7.5-6.4M252 118l9.4-5.5M267 145l13.5-8.8M228 151l13.6-8.9M266 106l9.8-8.8M243 121l5.3-3.5M301 107l8.4-6.2M226 158l10.7-9.6M264 105l10.3-7.5M294 99l7.9-5.7M294 82l11.8-9.1"/>
<path class="kg w6" d="M276 136l14.7-9.9M293 106l5.9-3.6M292 133l15-9.3M237 135l7.7-6.2M215 160l11.8-9.6M291 95l12.3-7.2M248 131l14.6-8.5M215 168l7.8-5.1M268 97l8.6-6.8M289 105l13.7-10M288 138l13.2-8M275 127l6.3-3.8M256 138l13.2-9.9M237 127l12.1-9.4M299 99l8.6-6.2M261 108l10.2-7.1M288 117l8.7-6.3M264 124l7.4-6.1M247 125l10-5.9M199 173l6.7-4.8M284 133l9.9-7.4M240 122l6.1-4.3M274 121l9.5-7.1M233 135l9.7-8M263 108l4.9-4.4M270 143l14.3-10.4M282 98l15-9.6M257 153l11.2-8.6M232 154l11.1-7.6M217 151l11.1-9.4M248 149l11.1-7.6M270 106l11.2-9.9M208 170l15-8.7M281 135l5.6-4.9M242 131l13.9-8.6M293 91l7.7-6.3M251 138l9.4-5.7M240 124l13.1-9.8M247 135l11.6-10.4M298 111l8-6.9M230 142l5.2-3.4M275 114l12.3-8.4M290 89l11.5-7.1M276 99l6.4-3.8"/>
<ellipse cx="296.0" cy="78.0" rx="12.0" ry="2.5" transform="rotate(-30.0 296.0 78.0)" fill="#a5a5a5"/>
<ellipse cx="292.0" cy="90.0" rx="10.0" ry="2.0" transform="rotate(-30.0 292.0 90.0)" fill="#a5a5a5"/>
<ellipse cx="300.0" cy="96.0" rx="8.0" ry="2.0" transform="rotate(-28.0 300.0 96.0)" fill="#a5a5a5"/>
<ellipse cx="250.0" cy="120.0" rx="10.0" ry="3.0" transform="rotate(-40.0 250.0 120.0)" fill="#a5a5a5"/>
<path d="M203 170L218 158L234 136L249 120L264 105L279 100L299 88L306 84L306 130L296 135L284 137L274 140L262 147L244 155L224 162L206 172Z" fill="#b8c4ec"/>
<ellipse cx="298.0" cy="97.0" rx="7.0" ry="1.6" transform="rotate(-30.0 298.0 97.0)" fill="#a5a5a5"/>
<ellipse cx="302.0" cy="100.0" rx="4.0" ry="1.3" transform="rotate(-30.0 302.0 100.0)" fill="#fff"/>
<ellipse cx="290.0" cy="104.0" rx="6.0" ry="1.5" transform="rotate(-35.0 290.0 104.0)" fill="#a5a5a5"/>
<ellipse cx="284.0" cy="98.0" rx="5.0" ry="1.3" transform="rotate(-30.0 284.0 98.0)" fill="#a5a5a5"/>
<path d="M200 167L220 154L234 142L254 127L272 117L289 112L306 105L306 126L296 132L284 134L274 138L262 145L244 153L224 160L206 170Z" fill="#5058d8"/>
<path d="M218 160L234 147L252 133L272 121L290 115L306 109L306 124L294 128L280 132L266 138L250 146L232 154Z" fill="#5058d8"/>
<path class="kt w3" d="M301 115l5.2-3.7M295 116l5.3-4.3M244 144l5.7-4.8M297 123l2.4-1.8M288 124l5.1-3.8M250 142l5.6-3.8M301 117l2.5-1.8M297 125l4.7-3.9M270 126l3.4-1.9M252 138l3.3-2M267 129l4.4-2.7"/>
<path class="kt w4" d="M290 117l5.2-4.4M284 124l3.1-2.3M264 135l6.6-4.2M287 124l3-2.2M223 158l5.8-4.3M247 139l4-3.2"/>
<path class="kt w5" d="M274 129l6.2-4M250 135l5.8-4.1"/>
<path class="kt w6" d="M290 119l6.9-4.2M282 132l4.3-3.7M296 116l2.4-1.9M296 124l6.7-4.4"/>
<path class="klb w3" d="M300 116l5.7-4.3M254 138l7.3-5M249 138l4.9-3M227 154l5-3.1M290 122l3.9-3.4"/>
<path class="klb w4" d="M238 147l2.9-1.9M266 135l2.7-1.6"/>
<path class="klb w5" d="M300 124l6.2-4.4M271 123l3.4-2.9M284 121l3.1-1.8"/>
<path class="klb w6" d="M289 128l3.8-2.6M269 127l5.9-3.7M273 129l3.7-2.5M271 123l3.8-3.3M285 120l6.3-4.7M295 129l5.6-4.9"/>
<path class="kgr w3" d="M236 150l7.4-4.4"/>
<path class="kgr w4" d="M263 128l6.5-4.6M240 151l6.1-3.6M297 125l4.8-3.5M263 135l4.8-2.9M299 120l1.7-1.3"/>
<path class="kgr w5" d="M289 125l2.1-1.7M248 141l4.4-2.7"/>
<path class="kgr w6" d="M274 129l5.1-3.3M273 133l6.9-4.8"/>
<path class="kg w5" d="M299 127l7.2-4.9"/>
<path class="kb w3" d="M232 153l5.2-3.5M254 136l2.2-1.9M253 134l3.1-2.3M292 116l3.9-3"/>
<path class="kb w4" d="M243 148l5.2-4.7"/>
<path class="kb w5" d="M245 148l5-3.1M269 130l3.7-2.7M288 127l3.3-2.2"/>
<path class="kb w6" d="M273 131l4.5-3.7M259 133l5.4-3.3M271 123l3.6-2.8M223 158l6.3-4.8M291 123l6.3-5.4M226 154l4.4-3.1M271 124l4.3-3.7M285 123l5.5-4.5M277 124l3.4-2.8"/>
<path d="M230 150L244 141L258 132L270 124L282 118L306 111L306 118L292 122L278 127L264 134L248 142L234 150Z" fill="#50969a"/>
<path class="kgr w3" d="M284 124l3.5-3.1"/>
<path class="kgr w4" d="M266 130l3.9-2.4M294 120l3.2-2.5M256 134l3.2-2.7M248 141l4.3-2.8"/>
<path class="kgr w5" d="M288 117l5.9-3.5M255 135l6.3-4.8M240 146l3.1-2.5"/>
<path class="kgr w6" d="M266 127l7.2-4.2"/>
<path class="klb w3" d="M236 148l4.3-2.6M304 117l2.5-2M236 148l3-1.9"/>
<path class="klb w4" d="M286 121l2.1-1.4M294 119l2.3-2"/>
<path class="klb w5" d="M276 125l6.1-3.6M299 119l6.8-4.3"/>
<path class="kb w3" d="M267 129l4-3.3"/>
<path class="kb w4" d="M256 135l2.5-2.2M298 119l3.7-3.3"/>
<path class="kb w5" d="M244 144l4.5-3.8M272 125l2.6-2.2M284 125l5.1-3.8"/>
<path class="kb w6" d="M267 128l6.2-4.3"/>
<path class="ky w3" d="M289 122l1.8-1.2M263 130l2.8-1.6"/>
<path class="kt w4" d="M276 124l7.5-4.3M302 117l4.9-3.1"/>
<path class="kt w5" d="M264 132l5.6-4.5M274 123l5-3.3"/>
<path d="M270 118L280 112L300 108L306 108L306 132L296 136L284 132L272 128Z" fill="#50969a"/>
<path class="kgr w3" d="M278 128l4-3.3M282 127l5.7-4M289 112l2.2-2M279 130l4.1-3.5M299 111l6.1-5M270 130l6.4-5.3"/>
<path class="kgr w4" d="M296 118l4.5-3.8M299 115l4.1-2.9"/>
<path class="kgr w5" d="M302 126l6.4-5.1M287 126l7.3-4.3M295 114l3.5-2.7M276 129l1.9-1.3M302 128l2.9-2.3M287 121l2.5-1.5M298 113l2.3-1.6M279 125l2.4-1.7"/>
<path class="kgr w6" d="M272 127l6.2-4.8M292 118l6-3.8M286 132l1.9-1.2M304 127l2.2-1.5M283 129l1.7-1.1"/>
<path class="klb w3" d="M284 127l2.7-1.8M296 127l2.3-1.6M275 116l2.9-2.6"/>
<path class="klb w4" d="M271 126l6.2-4.7M295 116l3.4-2.1"/>
<path class="klb w5" d="M302 125l5.7-4"/>
<path class="klb w6" d="M289 123l5.1-4.1M276 117l2-1.2M303 127l3.3-2.9"/>
<path class="kb w4" d="M293 118l6.5-4.8M303 119l3.5-2.4M304 131l3.4-2.6"/>
<path class="kb w5" d="M295 125l3.9-3.1"/>
<path class="kb w6" d="M281 125l3-2.4M293 122l6-4.4"/>
<path class="klg w3" d="M279 127l6.4-5.2M289 115l4-3.6"/>
<path class="klg w5" d="M285 116l5-3.4M293 131l4.5-2.9M271 122l3.3-2.2"/>
<path class="klg w6" d="M297 115l6.9-5.7"/>
<path class="ky w3" d="M279 125l7.5-5M287 129l6.9-5.6"/>
<path class="ky w4" d="M295 134l6-4.1"/>
<path class="ky w6" d="M303 115l2.2-1.6"/>
<path class="kt w3" d="M282 117l5.4-3.6M278 115l6.4-4.7"/>
<path class="kt w4" d="M299 134l4.4-2.7"/>
<path class="kt w5" d="M287 115l2.1-1.5"/>
<path class="kt w6" d="M287 133l3.4-2.5M299 133l6.1-4.2"/>
<path d="M250 148L264 142L280 139L290 139L280 146L262 151Z" fill="#b8c4ec"/>
<ellipse cx="268.0" cy="145.0" rx="7.0" ry="1.6" transform="rotate(-25.0 268.0 145.0)" fill="#a5a5a5"/>
<ellipse cx="256.0" cy="147.0" rx="5.0" ry="1.5" transform="rotate(-20.0 256.0 147.0)" fill="#a5a5a5"/>
<ellipse cx="282.0" cy="136.0" rx="5.0" ry="1.5" transform="rotate(-20.0 282.0 136.0)" fill="#a5a5a5"/>
<ellipse cx="262.0" cy="140.0" rx="3.0" ry="2.0" transform="rotate(-25.0 262.0 140.0)" fill="#fff"/>
<ellipse cx="276.0" cy="137.0" rx="3.0" ry="1.5" transform="rotate(-25.0 276.0 137.0)" fill="#fff"/>
<ellipse cx="279.0" cy="124.0" rx="3.5" ry="4.0" transform="rotate(0.0 279.0 124.0)" fill="#b8c4ec"/>
<ellipse cx="279.0" cy="124.0" rx="3.0" ry="3.4" transform="rotate(0.0 279.0 124.0)" fill="#5058d8"/>
<ellipse cx="279.0" cy="124.0" rx="2.4" ry="2.8" transform="rotate(0.0 279.0 124.0)" fill="#008000"/>
<ellipse cx="279.0" cy="124.0" rx="1.8" ry="2.1" transform="rotate(0.0 279.0 124.0)" fill="#f0d860"/>
<ellipse cx="294.0" cy="124.0" rx="3.0" ry="3.0" transform="rotate(0.0 294.0 124.0)" fill="#b8c4ec"/>
<ellipse cx="294.0" cy="124.0" rx="2.6" ry="2.6" transform="rotate(0.0 294.0 124.0)" fill="#5058d8"/>
<ellipse cx="294.0" cy="124.0" rx="2.1" ry="2.1" transform="rotate(0.0 294.0 124.0)" fill="#008000"/>
<ellipse cx="294.0" cy="124.0" rx="1.6" ry="1.6" transform="rotate(0.0 294.0 124.0)" fill="#f0d860"/>
<ellipse cx="296.0" cy="134.0" rx="3.0" ry="3.5" transform="rotate(0.0 296.0 134.0)" fill="#b8c4ec"/>
<ellipse cx="296.0" cy="134.0" rx="2.6" ry="3.0" transform="rotate(0.0 296.0 134.0)" fill="#5058d8"/>
<ellipse cx="296.0" cy="134.0" rx="2.1" ry="2.4" transform="rotate(0.0 296.0 134.0)" fill="#008000"/>
<ellipse cx="296.0" cy="134.0" rx="1.6" ry="1.8" transform="rotate(0.0 296.0 134.0)" fill="#f0d860"/>
<ellipse cx="286.0" cy="128.0" rx="2.0" ry="2.0" transform="rotate(0.0 286.0 128.0)" fill="#b8c4ec"/>
<ellipse cx="286.0" cy="128.0" rx="1.7" ry="1.7" transform="rotate(0.0 286.0 128.0)" fill="#5058d8"/>
<ellipse cx="286.0" cy="128.0" rx="1.4" ry="1.4" transform="rotate(0.0 286.0 128.0)" fill="#008000"/>
<ellipse cx="303.0" cy="118.0" rx="2.5" ry="2.5" transform="rotate(0.0 303.0 118.0)" fill="#b8c4ec"/>
<ellipse cx="303.0" cy="118.0" rx="2.1" ry="2.1" transform="rotate(0.0 303.0 118.0)" fill="#5058d8"/>
<ellipse cx="303.0" cy="118.0" rx="1.8" ry="1.8" transform="rotate(0.0 303.0 118.0)" fill="#008000"/>
<ellipse cx="303.0" cy="118.0" rx="1.3" ry="1.3" transform="rotate(0.0 303.0 118.0)" fill="#f0d860"/>
<ellipse cx="250.0" cy="139.0" rx="2.5" ry="2.5" transform="rotate(0.0 250.0 139.0)" fill="#b8c4ec"/>
<ellipse cx="250.0" cy="139.0" rx="2.1" ry="2.1" transform="rotate(0.0 250.0 139.0)" fill="#5058d8"/>
<ellipse cx="250.0" cy="139.0" rx="1.8" ry="1.8" transform="rotate(0.0 250.0 139.0)" fill="#008000"/>
<ellipse cx="250.0" cy="139.0" rx="1.3" ry="1.3" transform="rotate(0.0 250.0 139.0)" fill="#f0d860"/>
<ellipse cx="240.0" cy="148.0" rx="2.0" ry="2.0" transform="rotate(0.0 240.0 148.0)" fill="#b8c4ec"/>
<ellipse cx="240.0" cy="148.0" rx="1.7" ry="1.7" transform="rotate(0.0 240.0 148.0)" fill="#5058d8"/>
<ellipse cx="240.0" cy="148.0" rx="1.4" ry="1.4" transform="rotate(0.0 240.0 148.0)" fill="#008000"/>
<ellipse cx="224.0" cy="164.0" rx="4.0" ry="4.0" transform="rotate(0.0 224.0 164.0)" fill="#b8c4ec"/>
<ellipse cx="224.0" cy="164.0" rx="3.4" ry="3.4" transform="rotate(0.0 224.0 164.0)" fill="#5058d8"/>
<ellipse cx="224.0" cy="164.0" rx="2.8" ry="2.8" transform="rotate(0.0 224.0 164.0)" fill="#008000"/>
<ellipse cx="224.0" cy="164.0" rx="2.1" ry="2.1" transform="rotate(0.0 224.0 164.0)" fill="#f0d860"/>
<ellipse cx="229.0" cy="180.0" rx="3.0" ry="3.0" transform="rotate(0.0 229.0 180.0)" fill="#b8c4ec"/>
<ellipse cx="229.0" cy="180.0" rx="2.6" ry="2.6" transform="rotate(0.0 229.0 180.0)" fill="#5058d8"/>
<ellipse cx="229.0" cy="180.0" rx="2.1" ry="2.1" transform="rotate(0.0 229.0 180.0)" fill="#008000"/>
<ellipse cx="229.0" cy="180.0" rx="1.6" ry="1.6" transform="rotate(0.0 229.0 180.0)" fill="#f0d860"/>
<ellipse cx="229.0" cy="180.0" rx="1.0" ry="1.0" transform="rotate(0.0 229.0 180.0)" fill="#f0b020"/>
<ellipse cx="229.0" cy="180.0" rx="0.6" ry="0.6" transform="rotate(0.0 229.0 180.0)" fill="#8c5a40"/>
<ellipse cx="219.0" cy="168.0" rx="2.5" ry="2.5" transform="rotate(0.0 219.0 168.0)" fill="#b8c4ec"/>
<ellipse cx="219.0" cy="168.0" rx="2.1" ry="2.1" transform="rotate(0.0 219.0 168.0)" fill="#5058d8"/>
<ellipse cx="219.0" cy="168.0" rx="1.8" ry="1.8" transform="rotate(0.0 219.0 168.0)" fill="#008000"/>
<path d="M240 206L250 192L262 186L270 180L280 172L284 160L290 150L300 145L306 143L306 176L298 181L289 190L279 202L264 215L250 225L242 222Z" fill="#b8c4ec"/>
<ellipse cx="280.0" cy="150.0" rx="6.0" ry="2.5" transform="rotate(-30.0 280.0 150.0)" fill="#a5a5a5"/>
<ellipse cx="296.0" cy="150.0" rx="5.0" ry="2.0" transform="rotate(-30.0 296.0 150.0)" fill="#a5a5a5"/>
<path d="M243 205L252 194L264 188L272 182L282 174L286 162L292 153L302 148L306 147L306 172L298 178L288 188L278 200L264 212L251 222L244 219Z" fill="#5058d8"/>
<path d="M246 205L254 196L265 190L274 184L283 177L288 165L294 156L303 151L306 151L306 168L297 176L287 186L277 198L264 209L252 219L247 216Z" fill="#50969a"/>
<path class="kgr w3" d="M282 188l3.6-2.7M298 160l3.2-2.4M256 207l2.7-1.6M292 159l4-3.5M254 211l2.4-2"/>
<path class="kgr w4" d="M277 193l4.7-4.1M288 171l5.6-4.5M261 207l6.4-5M303 163l6.3-5.4M280 186l4.2-2.4M245 212l4.9-3.9M254 208l4-2.9M299 164l3.3-2.4M263 202l4.2-2.8M277 195l4.9-2.9M267 197l3.4-2.2M262 209l7.1-4.5M269 204l2.6-1.7M294 175l4-2.5"/>
<path class="kgr w5" d="M269 201l3.5-2.7M291 165l2-1.8M290 177l4.7-3.9M285 171l5-3.6M255 209l4-3.5M280 183l6.7-4.4M302 161l6-4.5"/>
<path class="kgr w6" d="M269 192l4.7-3.7M276 190l5.4-3.5M283 187l4.3-3.7M265 191l4.3-3.4"/>
<path class="klb w3" d="M299 161l3.3-3M247 208l2.9-2M260 207l6.6-4"/>
<path class="klb w4" d="M264 194l6.8-4.7M289 161l5.2-3.4M253 206l2.9-2.1M291 175l1.6-1.3"/>
<path class="klb w5" d="M288 166l6.7-4.8"/>
<path class="klb w6" d="M273 193l2.4-1.6M272 197l7.2-4.5M271 187l3.9-2.7M287 173l4.1-3.6M260 194l5.6-4.8"/>
<path class="kb w3" d="M291 167l6.6-4.5M284 181l4.9-2.9"/>
<path class="kb w4" d="M287 182l3.3-2.1M260 204l3.5-3"/>
<path class="kb w5" d="M300 159l5.9-4.6M274 187l6.4-3.9"/>
<path class="kb w6" d="M279 194l4.4-3.3"/>
<path class="klg w4" d="M250 206l4-2.4M247 216l3.5-2.1"/>
<path class="klg w5" d="M245 210l3.5-2.1M295 163l4-3.5"/>
<path class="klg w6" d="M279 190l5.4-4.7"/>
<path class="ky w3" d="M250 204l5.3-4.3M282 179l4.7-4"/>
<path class="ky w4" d="M293 176l6.7-5.2M293 165l5.1-3.7M249 201l3.8-3.1M266 205l5.4-4.8"/>
<path class="ky w5" d="M286 180l5.4-4.1M301 155l4.1-3.2M251 200l2.4-1.8"/>
<path class="ky w6" d="M295 171l6.7-4.9M251 214l6-3.6"/>
<path class="kt w3" d="M284 176l4.1-3.4M266 207l1.8-1.4M274 192l2.7-2.1M252 204l5.9-4.4"/>
<path class="kt w4" d="M270 197l1.9-1.2M287 171l3.1-2.6M278 187l3.4-2.5"/>
<path class="kt w5" d="M293 177l4.6-3.4M300 170l6.9-5.2M288 176l2.5-1.5"/>
<path class="kt w6" d="M256 207l5.8-5.2"/>
<path d="M250 206L257 198L266 193L276 187L285 179L290 168L296 160L304 156L306 158L306 164L296 172L286 182L276 194L264 205L254 214L250 212Z" fill="#f0d860"/>
<path class="ko w3" d="M301 158l3.1-1.9M267 199l4.1-2.9"/>
<path class="ko w4" d="M293 172l5.2-3.1M268 194l2.1-1.3M287 172l5.1-3.2M294 163l6.7-4.8M256 205l2.1-1.3"/>
<path class="ko w5" d="M278 186l2.8-1.9M250 210l7-4.5"/>
<path class="ko w6" d="M257 209l2.8-1.6M257 199l4.2-2.7M297 160l4.2-3.6M261 203l6.9-5M292 175l7.1-4.2M294 166l5.5-3.4M300 168l3.6-3"/>
<path class="klg w3" d="M287 178l4.7-4.2"/>
<path class="klg w4" d="M301 165l3.3-2M288 178l6.7-5.6"/>
<path class="klg w5" d="M287 178l5.1-3.2"/>
<path class="kgr w6" d="M266 197l6.7-4.4"/>
<path class="ky w3" d="M254 202l5.5-4.4M272 193l1.7-1.5M293 168l3.5-2.4"/>
<path class="ky w4" d="M289 176l6.2-3.7M296 167l2.8-2.4M264 203l6.6-4.7"/>
<path class="ky w5" d="M294 173l6.4-4.8M251 211l7.3-4.9"/>
<path class="ky w6" d="M261 197l7-4.1M293 165l3.8-3.1"/>
<path class="kbr w3" d="M254 207l5.8-5"/>
<path class="kbr w4" d="M285 178l4.6-2.7M285 178l4.4-3.1"/>
<path class="kbr w5" d="M257 206l1.7-1.4"/>
<path class="kbr w6" d="M276 191l4.4-3.2"/>
<ellipse cx="270.0" cy="192.0" rx="3.0" ry="2.0" transform="rotate(0.0 270.0 192.0)" fill="#c0e0c0"/>
<ellipse cx="292.0" cy="163.0" rx="2.0" ry="2.0" transform="rotate(0.0 292.0 163.0)" fill="#c0e0c0"/>
<ellipse cx="262.0" cy="200.0" rx="2.0" ry="2.0" transform="rotate(0.0 262.0 200.0)" fill="#008000"/>
<ellipse cx="284.0" cy="186.0" rx="2.0" ry="2.0" transform="rotate(0.0 284.0 186.0)" fill="#008000"/>
<ellipse cx="255.0" cy="208.0" rx="3.0" ry="3.5" transform="rotate(0.0 255.0 208.0)" fill="#f0b020"/>
<ellipse cx="265.0" cy="196.0" rx="3.0" ry="3.0" transform="rotate(0.0 265.0 196.0)" fill="#f0b020"/>
<ellipse cx="276.0" cy="189.0" rx="2.5" ry="2.5" transform="rotate(0.0 276.0 189.0)" fill="#f0b020"/>
<ellipse cx="289.0" cy="174.0" rx="2.5" ry="3.0" transform="rotate(0.0 289.0 174.0)" fill="#f0b020"/>
<ellipse cx="300.0" cy="160.0" rx="2.5" ry="2.5" transform="rotate(0.0 300.0 160.0)" fill="#f0b020"/>
<ellipse cx="256.0" cy="209.0" rx="1.5" ry="1.5" transform="rotate(0.0 256.0 209.0)" fill="#8c5a40"/>
<ellipse cx="266.0" cy="195.0" rx="1.5" ry="1.5" transform="rotate(0.0 266.0 195.0)" fill="#8c5a40"/>
<ellipse cx="277.0" cy="189.0" rx="1.0" ry="1.0" transform="rotate(0.0 277.0 189.0)" fill="#f05080"/>
<ellipse cx="290.0" cy="174.0" rx="1.2" ry="1.2" transform="rotate(0.0 290.0 174.0)" fill="#f05080"/>
<ellipse cx="300.0" cy="160.0" rx="1.2" ry="1.2" transform="rotate(0.0 300.0 160.0)" fill="#8c5a40"/>
<ellipse cx="305.0" cy="186.0" rx="2.0" ry="2.0" transform="rotate(0.0 305.0 186.0)" fill="#b8c4ec"/>
<ellipse cx="305.0" cy="186.0" rx="1.7" ry="1.7" transform="rotate(0.0 305.0 186.0)" fill="#5058d8"/>
<ellipse cx="305.0" cy="186.0" rx="1.4" ry="1.4" transform="rotate(0.0 305.0 186.0)" fill="#008000"/>
<ellipse cx="300.0" cy="200.0" rx="2.0" ry="1.5" transform="rotate(0.0 300.0 200.0)" fill="#b8c4ec"/>
<path d="M172 186L178 180L188 179L196 182L198 192L192 197L180 197L173 193Z" fill="#b8c4ec"/>
<path d="M175 186L180 182L188 181L194 184L196 191L190 195L181 195L176 192Z" fill="#008000"/>
<path d="M178 187L182 184L188 183L193 186L193 191L188 193L182 193L179 191Z" fill="#f0d860"/>
<ellipse cx="186.0" cy="189.0" rx="2.5" ry="2.5" transform="rotate(0.0 186.0 189.0)" fill="#f0b020"/>
<ellipse cx="184.0" cy="191.0" rx="1.5" ry="1.5" transform="rotate(0.0 184.0 191.0)" fill="#f05080"/>
<path class="klb w10" d="M220 203l.8-.2"/>
<path class="klb w11" d="M215 204l3-1.7M219 198l2.3-1.6M209 187l3.1-1.6"/>
<path class="klb w12" d="M194 197l1.3-1.1"/>
<path class="klb w13" d="M203 199l2.5-2M198 188l3.3-2.5M219 188l3.4-2.3"/>
<path class="klb w14" d="M212 193l1.6-.8"/>
<path class="klb w15" d="M193 186l1.1-.5M201 193l4.1-1.4"/>
<path class="klb w16" d="M221 203l1.8-1.5M195 187l2-.7M210 196l2.1-.7"/>
<path class="klb w17" d="M203 188l2.7-.9M218 190l3.1-1.6"/>
<path class="klb w18" d="M213 200l4.4-1.7"/>
<path class="klb w19" d="M197 195l1.2-.4"/>
<path class="kb w7" d="M220 203l.9-.3"/>
<path class="kb w8" d="M219 198l2.5-1.8"/>
<path class="kb w9" d="M215 204l2.8-1.6M209 187l2.8-1.5"/>
<path class="kb w10" d="M203 199l2.6-2.1M194 197l1.1-.9M197 188l3.5-2.7"/>
<path class="kb w11" d="M211 193l1.8-.9M219 188l3.2-2.1"/>
<path class="kb w12" d="M193 186l1.3-.6"/>
<path class="kb w13" d="M195 187l2.2-.8M210 196l2.3-.7M201 193l3.8-1.3"/>
<path class="kb w14" d="M221 203l1.6-1.3M202 188l2.9-1M218 190l3.3-1.7"/>
<path class="kb w16" d="M214 200l4.1-1.6M197 195l1.4-.5"/>
<path class="kgr w4" d="M220 203l1.1-.4"/>
<path class="kgr w5" d="M219 198l2.7-1.9"/>
<path class="kgr w6" d="M215 204l2.9-1.7M209 187l3-1.5"/>
<path class="kgr w7" d="M194 197l1.3-1"/>
<path class="kgr w8" d="M203 199l2.4-1.9M211 193l2-.9M198 188l3.2-2.5M219 188l3.4-2.2"/>
<path class="kgr w10" d="M193 186l1-.4M195 187l2.4-.8M201 193l4-1.4"/>
<path class="kgr w11" d="M221 203l1.8-1.4M211 196l2-.6"/>
<path class="kgr w12" d="M203 188l2.6-.9M218 190l3-1.5"/>
<path class="kgr w13" d="M213 200l4.3-1.7M197 195l1.6-.5"/>
<path class="ky w4" d="M194 197l1.3-1.1"/>
<path class="ky w5" d="M203 199l2.5-2M198 188l3.3-2.5M219 188l3.4-2.3"/>
<path class="ky w6" d="M212 193l1.6-.8"/>
<path class="ky w7" d="M193 186l1.1-.5M201 193l4.1-1.4"/>
<path class="ky w8" d="M221 203l1.8-1.5M195 187l2-.7M210 196l2.1-.7"/>
<path class="ky w9" d="M203 188l2.7-.9M218 190l3.1-1.6"/>
<path class="ky w10" d="M213 200l4.4-1.7"/>
<path class="ky w11" d="M197 195l1.2-.4"/>
<path class="ko w4" d="M193 186l1.2-.5"/>
<path class="ko w5" d="M195 187l2.1-.7M210 196l2.2-.7M201 193l3.7-1.3"/>
<path class="ko w6" d="M221 203l1.5-1.2M202 188l2.8-.9M218 190l3.2-1.6"/>
<path class="ko w7" d="M213 200l4.5-1.8"/>
<path class="ko w8" d="M197 195l1.3-.4"/>
<path class="kdbr w4" d="M202 188l2.8-.9M218 190l3.2-1.6"/>
<path class="kdbr w5" d="M213 200l4.5-1.8"/>
<path class="kdbr w6" d="M197 195l1.3-.4"/>
<path d="M206 216L214 212L226 212L234 218L234 231L206 231Z" fill="#b8c4ec"/>
<path d="M208 218L215 214L225 214L232 219L232 231L208 231Z" fill="#50969a"/>
<path class="kgr w3" d="M211 230l5.8-3.5M214 224l5.4-3.4M213 217l6.6-4.9"/>
<path class="kgr w4" d="M224 226l1.9-1.3M207 230l4.1-3.3M229 231l3.4-2.4M219 222l4.2-3.3"/>
<path class="kgr w5" d="M221 216l3.1-2.5M229 218l2.1-1.5"/>
<path class="kgr w6" d="M222 222l5-3.4"/>
<path class="klb w3" d="M208 230l5-3.6M219 216l3.7-3M209 229l3.7-3.2"/>
<path class="klb w4" d="M221 222l3-2.3"/>
<path class="kb w5" d="M225 220l5.7-4M216 215l1.8-1.5"/>
<path class="kb w6" d="M228 227l1.9-1.5"/>
<path class="klg w6" d="M211 230l2.6-1.8"/>
<path class="ky w4" d="M207 222l5.7-3.6M217 233l6.4-5.4"/>
<path class="ky w5" d="M223 220l3.6-2.5"/>
<path class="kt w4" d="M217 222l7.2-5.3"/>
<path class="kt w5" d="M218 222l4.2-2.6M215 225l2.6-2.3"/>
<path class="kt w6" d="M218 216l3.5-3.2M218 221l7.5-4.5"/>
<path d="M211 220L217 217L224 217L229 221L229 231L211 231Z" fill="#f0d860"/>
<ellipse cx="220.0" cy="226.0" rx="3.0" ry="3.0" transform="rotate(0.0 220.0 226.0)" fill="#f0b020"/>
<ellipse cx="222.0" cy="227.0" rx="2.0" ry="2.0" transform="rotate(0.0 222.0 227.0)" fill="#f05080"/>
<path class="klb w4" d="M170 146l1.3-.6M198 147l1-.7M192 139l.7-.4M190 161l1.2-.6M193 158l.8-.4M185 160l.4-.2M169 155l.6-.3M201 163l.9-.3M191 162l1.1-.4"/>
<path class="klb w5" d="M108 185l.6-.4M170 153l1.5-.6M178 155l.2-.1M183 135l.3-.2M188 161l1.7-.6M195 161l.8-.2M206 161l.9-.5M202 149l.7-.5M181 170l.8-.6M195 163l1.2-.9"/>
<path class="klb w6" d="M42 221l1.6-.6M43 215l.9-.6M108 187l1.3-.6M94 190l1.9-.6M104 188l1.9-1M102 191l.7-.4M191 137l.4-.2M206 170l1.1-.8M178 156l.9-.6M202 166l1.7-.8M175 155l.3-.2M180 137l1.3-.7M175 139l1.7-.7M183 143l.8-.4"/>
<path class="klb w7" d="M141 191l1.3-.6M196 227l1.3-.4M80 212l.8-.3M55 215l2-.8M49 226l.3-.2M63 215l1.5-.5M112 183l1.7-.5M113 187l2-.9M175 164l2-.5M185 144l2-.6M169 141l.9-.6M175 166l1.1-.4"/>
<path class="klb w8" d="M172 198l2.5-1.2M138 217l.5-.2M151 216l.9-.7M159 227l.5-.3M98 226l.6-.5M102 186l1.5-.5M107 185l2.2-1.5"/>
<path class="klb w9" d="M189 225l1-.4M155 210l1.6-1.3M136 208l1.1-.4M155 200l1.8-.9M182 214l2.2-1.6M135 208l2.3-1.7M158 216l3.3-1.2M135 189l.9-.5M179 201l1.5-1M188 201l1.3-.7M141 186l1.9-1M174 228l1-.3M166 202l.7-.3M84 213l1.4-.6M101 228l2.2-1.1M57 214l3.3-1M56 224l1.9-1.5M51 216l1.3-.8M122 194l1.2-.5"/>
<path class="klb w10" d="M154 198l.6-.4M143 205l1.9-.7M134 204l2.4-.9M150 206l3.4-1.6M168 214l1.5-.7M143 197l.9-.7M192 215l1.1-.4M201 208l2.4-1M149 229l2.1-.6M148 202l1.1-.8M150 197l1.1-.4M177 203l1.1-.7M95 224l1.5-.5M80 220l1.7-.6M97 222l2.4-.8M103 201l1.5-1M68 221l3.1-1.2M58 219l.9-.7M65 226l2.2-1.3M73 223l.9-.5M59 219l1.2-.4"/>
<path class="klb w11" d="M147 212l2.6-1.9M145 228l2.3-1.4M188 201l2.8-1.3M139 185l.8-.7M152 214l1.1-.4M158 215l1.9-1M185 195l.7-.3M140 211l2.1-1M173 183l2.4-.9M104 228l2.4-2M105 214l2.5-.9M85 214l1.3-.9M101 201l3.3-1"/>
<path class="klb w12" d="M156 228l2.9-1.6M147 226l2.2-1.6M134 224l3.8-1.3M134 218l.8-.5M188 229l1.9-1.5M195 203l.8-.6M147 223l2.1-.7M153 198l1.2-.4M189 199l2.6-1.1M177 227l3.5-1.1M142 226l3.2-2.6M147 184l3.6-1.5M174 206l1.5-1.1M173 227l2.7-2.2M107 223l3.4-2.2M96 222l2-1.5M99 211l1.3-.9M75 210l1.5-1M77 207l1.5-1M89 223l1.5-.7M41 217l2.8-1.9M73 221l2.8-.9M124 192l1.2-.9M124 191l1.6-.9"/>
<path class="klb w13" d="M171 218l1.4-1.1M175 227l1.8-.9M185 193l2.3-.9M179 192l3.3-1.3M165 190l3.6-1M167 195l2.2-1.6M141 189l2.7-1.9M201 213l3.4-1M141 232l2-1.4M154 219l3.4-1.8M169 225l1.6-1.3M181 221l1.1-.4M154 208l4.1-2.2M146 230l1.6-.6M131 221l3.9-1.4M168 197l2.7-1.9M195 229l2.5-.9M153 209l3.4-2.7M80 208l3.7-1.4M82 226l2.9-1.8M105 202l3.3-1.7M91 211l2.5-.8M118 186l3.6-1.2"/>
<path class="klb w14" d="M194 198l2.3-.9M144 204l2.4-1.2M142 231l3.4-1.4M177 225l2.6-1.6M200 207l2.3-1.7M134 213l1.6-.7M89 228l2.5-.7M93 206l3.1-1.1M117 194l3.3-1.1"/>
<path class="klb w15" d="M176 183l3.2-1.9M153 222l2.8-.8M135 225l2.4-.9M157 193l.9-.4M133 192l4.7-1.7M172 190l1.6-.6M196 206l1.5-1.1M163 217l3.9-3.1M161 211l2.7-.7M106 214l3.3-2M75 219l1.3-.4M81 220l4.1-2.4M116 193l2.9-1.4"/>
<path class="klb w16" d="M150 208l1.2-.5M135 217l3.4-1.5M179 209l1.3-1"/>
<path class="kb w3" d="M42 221l1.8-.7M94 190l2.1-.6M190 137l.6-.4M206 170l1.3-.9M175 156l.5-.3M180 137l1.5-.8"/>
<path class="kb w4" d="M196 227l1.5-.5M80 212l1-.4M49 226l.4-.3M63 215l1.7-.6M43 215l.7-.5M111 183l1.9-.5M113 187l2.2-1M108 187l1.1-.5M104 188l1.6-.9M102 191l.5-.3M202 166l1.4-.7M169 141l1.1-.7M175 139l1.4-.6M183 143l.6-.2M174 167l1.3-.5"/>
<path class="kb w5" d="M138 217l.7-.3M141 191l1.1-.5M159 227l.7-.4M98 226l.8-.6M55 215l1.7-.7M102 186l1.7-.6M106 185l2.3-1.7M175 164l1.7-.5M185 144l1.7-.5"/>
<path class="kb w6" d="M172 198l2.3-1.1M155 210l1.7-1.4M136 208l1.3-.4M151 216l.6-.5M166 202l.9-.4M56 224l2.1-1.6M51 216l1.5-.9"/>
<path class="kb w7" d="M154 198l.8-.5M189 225l.7-.3M155 200l1.5-.8M143 205l2.1-.8M182 214l1.9-1.4M168 214l1.7-.7M143 198l1.1-.8M135 208l2-1.5M159 216l3-1.1M135 189l.6-.3M179 201l1.2-.8M188 201l1-.5M141 186l1.6-.8M201 208l2.6-1.1M148 202l1.3-1M177 204l1.2-.8M174 228l.7-.2M85 213l1.2-.5M101 228l2-1M95 224l1.6-.6M97 222l2.6-.8M102 201l1.7-1.1M68 221l3.3-1.2M57 214l3-.9M65 226l2.4-1.4M73 223l1-.6M59 219l1.4-.5M122 194l1-.4"/>
<path class="kb w8" d="M147 212l2.8-2M145 229l2.5-1.5M188 201l3-1.3M139 185l1-.8M134 204l2.1-.8M150 206l3.1-1.4M152 214l1.3-.5M158 215l2.1-1.1M185 195l.9-.4M192 215l.8-.3M140 211l2.3-1.1M173 183l2.6-.9M149 229l1.8-.5M150 196l.8-.3M105 214l2.7-.9M85 214l1.5-1M80 220l1.4-.5M101 201l3.5-1.1M58 219l.7-.5"/>
<path class="kb w9" d="M156 228l3.1-1.7M134 219l1-.6M188 229l2.1-1.7M195 203l.9-.7M147 223l2.3-.7M153 198l1.4-.4M189 199l2.7-1.2M173 227l2.8-2.3M104 227l2.2-1.8M107 223l3.6-2.4M96 222l2.2-1.6M75 211l1.7-1.1M41 217l3-2"/>
<path class="kb w10" d="M171 218l1.6-1.2M175 227l2-1M147 226l2-1.4M134 224l3.5-1.2M141 189l2.8-2M201 213l3.5-1M141 232l2.2-1.5M177 226l3.2-1M142 226l3-2.4M146 230l1.8-.6M130 221l4.1-1.5M147 184l3.3-1.4M195 229l2.7-.9M174 206l1.3-.9M99 211l1.1-.8M77 207l1.2-.9M80 208l3.9-1.5M82 226l3.1-1.9M89 223l1.2-.6M91 211l2.7-.8M73 221l2.5-.8M125 192l.9-.7M124 191l1.3-.8M118 186l3.8-1.2"/>
<path class="kb w11" d="M185 193l2-.8M194 198l2.5-1M179 192l3-1.2M165 189l3.3-.9M167 195l2-1.5M144 204l2.6-1.3M154 219l3.2-1.7M169 224l1.4-1.1M182 221l.8-.3M154 207l3.9-2M176 225l2.7-1.7M168 197l2.4-1.7M200 207l2.5-1.8M153 209l3.1-2.5M89 228l2.7-.8M93 206l3.3-1.2M105 202l3.1-1.6"/>
<path class="kb w12" d="M176 184l3.4-2M135 226l2.6-.9M157 193l1.1-.5M133 192l4.9-1.8M172 190l1.8-.7M142 230l3.2-1.3M134 213l1.4-.6M161 211l2.9-.8M75 219l1.5-.5M81 220l4.3-2.5M116 193l3-1.5M117 194l3-1"/>
<path class="kb w13" d="M153 222l2.5-.7M150 208l1.3-.6M135 217l3.6-1.6M196 206l1.3-.9M179 209l1.4-1.2M163 217l3.7-2.9M106 214l3.1-1.8"/>
<path class="kgr w3" d="M56 224l2.2-1.7M102 186l1.4-.5M107 185l2.1-1.5"/>
<path class="kgr w4" d="M153 198l.9-.6M189 225l.9-.3M155 200l1.7-.8M182 214l2.1-1.5M142 198l1.3-.9M135 208l2.2-1.6M159 216l3.2-1.2M135 189l.8-.4M179 201l1.4-1M188 201l1.2-.6M141 186l1.8-.9M177 204l1.4-1M174 228l.9-.3M85 213l1.4-.6M101 228l2.1-1M95 224l1.8-.7M57 214l3.2-1M65 226l2.6-1.5M73 223l1.2-.7M51 216l1.3-.7M122 194l1.1-.4"/>
<path class="kgr w5" d="M143 205l1.8-.7M134 204l2.3-.9M150 206l3.3-1.5M168 214l1.5-.6M192 215l1-.4M201 208l2.3-1M149 229l2-.6M148 202l1-.8M150 197l1-.3M105 214l2.9-1M80 220l1.6-.6M101 201l3.7-1.1M97 222l2.3-.7M103 201l1.5-.9M69 221l3-1.1M58 219l.8-.6M59 219l1.1-.4"/>
<path class="kgr w6" d="M147 212l2.5-1.8M145 228l2.2-1.4M188 201l2.7-1.2M139 185l.8-.6M134 219l1.2-.7M152 214l1.1-.4M147 223l2.5-.8M158 215l1.9-1M153 198l1.6-.5M189 199l2.9-1.3M185 195l.6-.3M140 211l2-.9M173 183l2.3-.8M104 227l2.3-1.9M96 222l2.4-1.7M75 211l1.8-1.2M85 214l1.2-.8"/>
<path class="kgr w7" d="M156 228l2.8-1.5M175 227l2.1-1.1M147 226l2.1-1.6M134 224l3.7-1.2M188 229l1.9-1.5M195 203l.7-.5M140 189l3-2.1M177 226l3.4-1.1M142 226l3.1-2.5M146 230l2-.7M147 184l3.5-1.4M174 206l1.4-1M174 227l2.6-2.1M107 223l3.3-2.2M99 211l1.2-.9M77 207l1.4-1M80 208l4.1-1.5M89 223l1.4-.6M41 217l2.7-1.8M73 221l2.7-.9M124 192l1.1-.8M124 191l1.5-.9"/>
<path class="kgr w8" d="M171 218l1.4-1M185 193l2.2-.8M194 198l2.7-1.1M179 192l3.2-1.3M165 190l3.5-.9M167 195l2.2-1.6M144 204l2.8-1.4M201 213l3.3-1M141 232l1.9-1.4M154 219l3.4-1.8M169 225l1.6-1.3M182 221l1-.4M154 208l4-2.1M131 221l3.8-1.4M168 197l2.6-1.8M195 229l2.4-.8M199 208l2.6-1.9M153 209l3.3-2.6M82 226l2.8-1.7M105 202l3.2-1.6M91 210l2.4-.7M118 186l3.5-1.2"/>
<path class="kgr w9" d="M157 193l1.2-.6M172 190l2-.7M142 231l3.3-1.4M177 225l2.5-1.6M134 213l1.6-.7M89 228l2.4-.7M93 206l3-1.1M75 219l1.7-.5M81 220l4.5-2.6M116 194l3.2-1.6M117 194l3.2-1.1"/>
<path class="kgr w10" d="M176 183l3.1-1.9M153 222l2.7-.8M135 225l2.3-.8M150 208l1.5-.7M133 192l4.6-1.7M196 206l1.4-1M179 210l1.6-1.3M163 217l3.9-3M161 211l2.6-.7M106 214l3.3-1.9"/>
<path class="kgr w11" d="M135 217l3.3-1.5"/>
<path class="ky w3" d="M104 228l2.4-2"/>
<path class="ky w4" d="M156 228l2.9-1.6M147 226l2.2-1.6M134 224l3.8-1.3M134 218l.8-.5M188 229l1.9-1.5M195 203l.8-.6M147 223l2.1-.7M153 198l1.2-.4M189 199l2.6-1.1M177 227l3.5-1.1M142 226l3.2-2.6M147 184l3.6-1.5M174 206l1.5-1.1M173 227l2.7-2.2M107 223l3.4-2.2M96 222l2-1.5M99 211l1.3-.9M75 210l1.5-1M77 207l1.5-1M89 223l1.5-.7M41 217l2.8-1.9M73 221l2.8-.9M124 192l1.2-.9M124 191l1.6-.9"/>
<path class="ky w5" d="M171 218l1.4-1.1M175 227l1.8-.9M185 193l2.3-.9M179 192l3.3-1.3M165 190l3.6-1M167 195l2.2-1.6M141 189l2.7-1.9M201 213l3.4-1M141 232l2-1.4M154 219l3.4-1.8M169 225l1.6-1.3M181 221l1.1-.4M154 208l4.1-2.2M146 230l1.6-.6M131 221l3.9-1.4M168 197l2.7-1.9M195 229l2.5-.9M153 209l3.4-2.7M80 208l3.7-1.4M82 226l2.9-1.8M105 202l3.3-1.7M91 211l2.5-.8M118 186l3.6-1.2"/>
<path class="ky w6" d="M194 198l2.3-.9M144 204l2.4-1.2M142 231l3.4-1.4M177 225l2.6-1.6M200 207l2.3-1.7M134 213l1.6-.7M89 228l2.5-.7M93 206l3.1-1.1M117 194l3.3-1.1"/>
<path class="ky w7" d="M176 183l3.2-1.9M153 222l2.8-.8M135 225l2.4-.9M157 193l.9-.4M133 192l4.7-1.7M172 190l1.6-.6M196 206l1.5-1.1M163 217l3.9-3.1M161 211l2.7-.7M106 214l3.3-2M75 219l1.3-.4M81 220l4.1-2.4M116 193l2.9-1.4"/>
<path class="ky w8" d="M150 208l1.2-.5M135 217l3.4-1.5M179 209l1.3-1"/>
<path class="ko w3" d="M142 231l3.5-1.5M176 225l2.7-1.7M89 228l2.6-.8M93 206l3.2-1.1M117 194l3.4-1.2"/>
<path class="ko w4" d="M176 184l3.3-2M135 225l2.5-.9M157 193l1-.4M133 192l4.8-1.8M172 190l1.7-.6M196 206l1.6-1.1M135 213l1.3-.6M161 211l2.8-.8M75 219l1.4-.4M81 220l4.2-2.4M116 193l3-1.4"/>
<path class="ko w5" d="M153 222l2.4-.7M150 208l1.3-.6M135 217l3.5-1.5M179 209l1.3-1.1M163 217l3.6-2.8M106 214l3-1.8"/>
<ellipse cx="140.0" cy="166.0" rx="2.5" ry="2.5" transform="rotate(0.0 140.0 166.0)" fill="#b8c4ec"/>
<ellipse cx="140.0" cy="166.0" rx="2.1" ry="2.1" transform="rotate(0.0 140.0 166.0)" fill="#5058d8"/>
<ellipse cx="140.0" cy="166.0" rx="1.8" ry="1.8" transform="rotate(0.0 140.0 166.0)" fill="#008000"/>
<ellipse cx="140.0" cy="166.0" rx="1.3" ry="1.3" transform="rotate(0.0 140.0 166.0)" fill="#f0d860"/>
<ellipse cx="146.0" cy="172.0" rx="2.0" ry="2.0" transform="rotate(0.0 146.0 172.0)" fill="#b8c4ec"/>
<ellipse cx="146.0" cy="172.0" rx="1.7" ry="1.7" transform="rotate(0.0 146.0 172.0)" fill="#5058d8"/>
<ellipse cx="146.0" cy="172.0" rx="1.4" ry="1.4" transform="rotate(0.0 146.0 172.0)" fill="#008000"/>
<ellipse cx="196.0" cy="140.0" rx="5.0" ry="1.5" transform="rotate(-30.0 196.0 140.0)" fill="#b8c4ec"/>
<ellipse cx="200.0" cy="150.0" rx="3.0" ry="1.3" transform="rotate(-30.0 200.0 150.0)" fill="#5058d8"/>
<ellipse cx="32.0" cy="226.0" rx="1.5" ry="1.5" transform="rotate(0.0 32.0 226.0)" fill="#b8c4ec"/>
<ellipse cx="32.0" cy="226.0" rx="1.3" ry="1.3" transform="rotate(0.0 32.0 226.0)" fill="#5058d8"/>
<ellipse cx="32.0" cy="226.0" rx="1.0" ry="1.0" transform="rotate(0.0 32.0 226.0)" fill="#008000"/>
<use href="#mapg"/>
</g>
<rect x="0.5" y="0.5" width="305" height="231" fill="none" stroke="#555" stroke-width="1"/>
<rect x="5.5" y="3.5" width="15" height="21" fill="#fff" stroke="#555" stroke-width="1"/>
<text class="t" x="13.5" y="17.6" font-size="13.5" text-anchor="middle">2</text>
</g>
<g transform="translate(630,5)">
<g clip-path="url(#cp0)" stroke-linecap="round">
<ellipse cx="285.8" cy="55.3" rx="6.2" ry="1.9" transform="rotate(-40.0 285.8 55.3)" fill="#b8c4ec"/>
<ellipse cx="286.3" cy="55.3" rx="2.4" ry="1.1" transform="rotate(-40.0 286.3 55.3)" fill="#5058d8"/>
<ellipse cx="276.6" cy="65.8" rx="3.3" ry="1.5" transform="rotate(-40.0 276.6 65.8)" fill="#b8c4ec"/>
<ellipse cx="276.9" cy="65.5" rx="3.9" ry="2.1" transform="rotate(-40.0 276.9 65.5)" fill="#b8c4ec"/>
<ellipse cx="277.4" cy="65.5" rx="2.0" ry="0.8" transform="rotate(-40.0 277.4 65.5)" fill="#5058d8"/>
<ellipse cx="208.1" cy="70.4" rx="2.0" ry="1.0" transform="rotate(-1.5 208.1 70.4)" fill="#a5a5a5"/>
<ellipse cx="207.3" cy="81.2" rx="1.8" ry="1.2" transform="rotate(-1.4 207.3 81.2)" fill="#a5a5a5"/>
<ellipse cx="238.9" cy="57.1" rx="3.6" ry="1.8" transform="rotate(-25.5 238.9 57.1)" fill="#a5a5a5"/>
<ellipse cx="241.1" cy="79.8" rx="3.7" ry="1.3" transform="rotate(-6.5 241.1 79.8)" fill="#b8c4ec"/>
<path class="klb w3" d="M209 168l10.5-7.2M298 68l9.2-6.6M238 165l14.1-9.2M277 146l8.4-5.1M268 125l7.3-4.5M293 88l9-6.6M198 194l11.4-9.6M268 154l10.4-7.3M249 108l9.9-6.4M263 113l9.8-7.5M229 161l9.4-7M281 112l12.8-8.5M244 144l8.5-6.1M281 146l6.6-4.2M204 186l9-7.9M279 85l12.9-10.3M288 94l7-5.4M288 131l8.1-5.1M271 102l8.1-7.1M244 143l6.4-3.8M261 103l13.3-11.8"/>
<path class="klb w4" d="M211 180l5.3-3.3M297 114l10.2-6.9M256 133l8.2-5M296 74l10.3-8.2M274 120l10.1-8M270 96l8-6.9M236 134l6.1-4.1M300 68l9.1-6.1M275 114l14.7-9.5M251 158l12.9-9.9M268 130l6.7-5.8M257 112l12.1-7.5M250 121l13.7-11.3M271 145l13-8.5M290 119l15.3-9.3M281 112l6.7-4.6M295 93l11.7-7.6M223 157l13.6-10.4M283 87l13.1-11.4M259 152l12.4-10.9M261 95l13.9-10M233 142l12.9-11.3M243 125l9.3-7.4M261 142l15-9M246 143l8.7-5.1M296 133l10.2-8.3M275 95l7.7-5.6M285 142l9.4-6.2M289 95l10.2-7.8M262 146l7.2-5.2M299 99l9.2-7M198 191l10.9-7.7M256 150l9.3-7.8"/>
<path class="klb w5" d="M242 151l6.4-4M293 107l12.7-10.8M212 180l5.6-4.4M261 109l10.6-8.4M274 131l10.5-6.1M239 152l10.8-8.7M261 124l5.5-3.6M248 121l6.9-5M266 93l14.4-8.7M251 123l5.7-4.1M257 133l14-10M261 112l11.7-9.8M280 141l8.9-6.2M241 148l13-8M242 147l10.8-9.4M198 196l10-7.8M244 115l10.5-8.2M261 111l7.8-6.4M259 109l11.7-8M277 116l8.2-6.4M272 129l10.3-7.6M272 104l11-9.2"/>
<path class="klb w6" d="M237 147l13.9-10.6M265 150l14.3-10M238 144l8.5-5.9M269 106l5.2-4M282 137l14.7-8.7M261 147l4.9-3.7M286 89l10.2-6.4M202 187l8.5-5.2M288 140l6.4-4.1M291 132l13-7.6M229 161l11.3-7.5M253 114l10.9-6.9M215 182l8-6.8M248 116l10.7-9.4M240 156l9.1-7.3M210 164l5.2-3.2M236 143l5.9-4.2M247 134l6.3-4.2M285 113l7.7-5.7M237 156l9-7.5M260 127l13.7-11.6"/>
<path class="kg w3" d="M272 116l9.1-7.1M230 151l13.2-9.8M281 111l6.5-5.7M294 109l11.6-9.2M287 107l10.9-7.4M255 150l6.7-6M298 137l8.9-5.3M258 132l5.9-5.1M226 170l10.8-8.7M212 180l5.6-3.7M249 147l13.4-9.8M257 148l9.9-7.4M295 122l10.1-8.3M255 114l13.9-11.1M299 107l12.8-8.9M251 141l10.7-7.6M212 181l5.7-4.4M231 136l12.6-8M244 154l12.6-10.5M293 88l5.6-3.8M293 74l8.9-5.2M278 86l13.9-11M209 174l11.3-7.9M274 135l8.2-5.5M225 158l11.4-6.9M261 132l5.8-3.6M276 106l12.4-7.9M209 183l7.3-4.5M209 165l6.3-4.5M274 139l6.7-5.9M282 131l4.9-4.3M248 113l11.1-6.5M265 152l13.3-10M254 139l7.9-5.3M269 153l14.2-9.1M264 142l11.4-7.1M296 115l11.3-8M262 111l9.8-7.6M301 69l7.7-6.3M221 171l7.7-6.8M285 122l10.2-8M279 133l5.7-5M263 98l10.8-7.2M228 149l12.1-7.6M290 116l13.6-8.9M281 86l10.9-6.9M285 126l9.6-6.6M298 83l12.6-8.5M294 81l8.7-6.9M282 118l9.8-8.7M290 140l6-3.8M283 115l8.8-6.8M263 120l8.2-6M270 126l7.9-4.7M194 197l12.7-9.7"/>
<path class="kg w4" d="M203 170l11.5-7.1M202 174l13.3-8.1M275 136l5.2-3.9M196 184l11.6-7.1M232 147l13.3-7.8M285 135l12.8-10.1M266 124l8.7-7.5M249 108l13.2-9.1M223 164l7.3-5.1M259 120l7.9-6M277 119l10.1-6.8M269 147l7.3-5.5M285 137l5.2-4M286 92l6.5-5M269 111l8.9-6.3M274 103l12-7.6M290 77l8.1-4.7M263 147l6.1-5M236 157l6.6-5.4M243 124l9-5.3M200 171l7.7-4.6M298 109l9.1-6.3M212 164l5.4-4.6M299 97l6.2-5.2M251 124l7.8-5.2M254 156l9.3-6.4M295 75l8.5-5.8M270 131l11.1-7.3M269 145l14.2-11M287 128l9.9-6.5M295 80l14-9M244 117l11.1-9.1M250 145l13.8-8.6M242 157l6.3-4.8M263 155l6-4M200 173l11.8-7.1M233 150l6.9-5.3M284 127l7.9-5.9M283 101l12.5-9.9M287 93l8.8-7.5M266 129l6.2-5M240 150l5.1-4M211 169l12.1-9M260 156l13.4-11M247 130l6.5-4.3M297 113l14-10.4M259 99l11-7.6M254 103l8.8-5.6M277 126l8.4-6.8M235 165l6-3.7M235 160l7.4-5M279 118l8.1-5.3M267 147l9-8M272 144l8-6.9"/>
<path class="kg w5" d="M284 131l6.6-4.9M215 173l11.2-6.5M264 126l6.8-5.5M259 103l10.5-6.7M295 88l13.2-7.9M268 116l9.3-7.2M206 173l12.9-9.2M273 123l12-7.8M254 109l5.8-4.8M263 100l9.8-7.7M277 117l8.3-5.5M276 140l6.3-4.6M292 79l12.6-11.2M275 95l9.5-8M200 193l11.6-8.8M229 169l5.4-4.2M298 133l11-8.1M286 143l5.4-4.3M233 158l7.4-5.4M232 151l11.9-8.9M262 155l10.4-6.1M272 126l7.8-5.1M275 154l6.1-5.1M261 157l13.3-10.6M248 124l8-6.5M277 134l7.8-6.1M285 95l11.8-9.8M265 98l12.8-7.8M247 161l4.7-3.9M279 85l8-6.9M224 162l11.9-7M266 110l8.1-5.9M284 83l5.8-4.6M268 130l4.8-4.1M297 73l10-6.2M227 155l11.1-7.6M254 130l12.7-10.7M298 135l9-7.5M272 148l12.8-7.5M216 182l6.6-4.3M277 139l11.9-7.6M294 110l5.8-4.6M292 128l10.5-7.9M263 146l13.5-9.3M230 157l12.5-10.5M287 120l8.4-6.6M303 82l6.2-3.8M281 120l12.5-8.2M295 91l11.5-6.8M241 141l12.2-8.8M288 144l14.3-10.6M208 175l8.1-5M261 128l5.6-3.7M202 180l13.5-9.6M296 78l5-4.5M280 98l7.1-4.7"/>
<path class="kg w6" d="M225 149l6.9-5.7M268 154l10.6-8.2M282 100l8.1-5.6M269 98l7.2-5.6M236 155l10-6.1M299 70l9.5-5.9M271 134l8.4-7.1M275 115l12-9.7M267 153l11.6-7.6M284 128l11.7-9.7M290 101l8.7-7.1M280 121l5-3.7M210 176l9.9-6.6M261 136l9.4-6.7M298 129l14.7-9.3M251 144l13.4-8.5M218 164l7.5-5.2M258 151l6-4.5M226 166l11.8-7.3M289 108l8.6-6.9M250 144l10.8-7.5M299 81l9.5-6.7M256 127l10.9-7.1M279 124l10.5-6.7M237 150l13-9.8M281 137l13.1-8.6M298 133l7.4-4.3M204 173l8.8-7M249 122l10.9-8.6M286 104l6.4-5M268 116l5.3-3.1M280 135l10-8M199 199l12.2-9.2M258 102l8.4-5.8M263 101l11.1-9.5M260 106l5.5-4.3M283 120l11.3-8.4M246 125l7-6.2M244 140l4.8-3.7M218 170l8.2-5.2M275 92l8.2-5.9M211 173l8.9-7.7M244 146l11.7-7.9M257 113l9.4-6.9M277 151l14.3-9.8M242 153l13.6-8.9M280 92l8.5-5.8M291 90l6.8-5.4M276 121l10.3-6M204 181l5.2-4.1M226 166l12.9-9.4M285 81l9-5.5M280 133l9.9-7.4M247 115l5.6-3.3M260 114l12.6-7.4M273 96l7.6-5.5M286 102l9.3-7.5M275 142l6.8-4.5"/>
<ellipse cx="296.0" cy="72.0" rx="12.0" ry="2.5" transform="rotate(-30.0 296.0 72.0)" fill="#a5a5a5"/>
<ellipse cx="300.0" cy="80.0" rx="8.0" ry="2.0" transform="rotate(-30.0 300.0 80.0)" fill="#a5a5a5"/>
<ellipse cx="288.0" cy="84.0" rx="9.0" ry="2.0" transform="rotate(-35.0 288.0 84.0)" fill="#a5a5a5"/>
<path d="M203 172L229 154L240 136L249 120L264 102L279 97L299 90L306 87L306 134L299 136L289 141L277 151L264 154L244 161L226 171L210 192L202 193Z" fill="#b8c4ec"/>
<ellipse cx="296.0" cy="92.0" rx="7.0" ry="1.6" transform="rotate(-25.0 296.0 92.0)" fill="#a5a5a5"/>
<ellipse cx="302.0" cy="94.0" rx="4.0" ry="1.3" transform="rotate(-25.0 302.0 94.0)" fill="#fff"/>
<path d="M199 177L224 159L236 140L244 130L259 117L274 107L306 100L306 132L299 134L289 139L277 149L264 152L244 159L226 169L212 188L202 190Z" fill="#5058d8"/>
<path d="M214 172L232 154L244 138L258 124L276 112L306 104L306 130L296 134L286 140L272 148L256 154L238 162L224 170Z" fill="#5058d8"/>
<path class="kt w3" d="M232 163l4.7-3.8M263 150l4.4-3.1M247 151l5-3M238 162l4.9-4.1M271 134l1.9-1.6M278 115l5.6-4.5M272 136l2-1.6M268 144l5.4-3.7M261 132l5-2.9M269 135l5.5-4.6M232 164l6.4-5.4M300 123l4.2-3.6M253 135l3.8-3.3M242 151l6.3-4.2M259 128l6.6-5.6M253 142l4.4-3.1M268 119l6-4.2M264 143l1.7-1.4M293 119l3.2-1.9"/>
<path class="kt w4" d="M274 114l2.2-1.4M250 144l2.7-2.3M248 146l5-4.3M285 125l3.8-2.3M283 131l4.9-4.1M303 115l5.5-4.9M253 139l4.3-2.9"/>
<path class="kt w5" d="M292 113l4.8-2.9M238 151l4.1-2.5M271 134l4.6-4.1M251 132l2.8-2.1M266 149l3.6-2.7M262 145l2.1-1.7M235 151l6.6-5.5M283 128l3.8-2.9M247 151l5.8-3.7M293 118l4.2-3.6M260 127l6-5.2M295 134l4.8-3.3"/>
<path class="kt w6" d="M233 152l3-1.9M239 160l5.1-4.1M269 137l5-3M269 118l5.3-3.8M235 152l1.8-1.3M260 146l6.3-4M249 153l7-5M256 127l4.8-3M240 161l2.4-2.2M295 116l2.3-1.8M290 118l7.5-4.5"/>
<path class="klb w3" d="M246 148l2.3-1.9M305 107l1.7-1.1M251 138l3.7-2.5M233 163l5.2-3.7M248 148l6.7-5.9M276 119l6.6-5.7M267 127l2-1.7M294 123l4.2-2.4M261 137l5.3-3.9M271 122l3.1-2.5M280 113l6.3-4.1M282 133l6.5-4.3M279 121l5.8-4.2"/>
<path class="klb w4" d="M266 120l5.2-3.7M247 142l4.2-3M273 138l4.9-4M288 110l3.3-2.3M288 125l2.4-1.9M269 118l6-4M286 135l7.6-4.7M230 167l4.4-3.5M233 152l5.7-3.5M294 117l1.9-1.2M242 161l5.4-4.6"/>
<path class="klb w5" d="M289 114l6.1-5.1M300 108l6.3-5.5M281 131l5.4-3.5M294 112l4.5-2.9M229 165l2.6-1.8M302 132l2.8-2.4M244 157l4.9-4.2M245 143l2.8-2.4"/>
<path class="klb w6" d="M239 155l4.5-3.6M264 127l4.3-3.4M251 131l5.5-3.7M268 125l1.8-1.5M273 136l2.5-2.2M240 155l6.5-5.3M303 125l3.5-2.4M267 140l2.9-2.5M235 158l6.3-3.7M236 157l2.3-1.6M258 143l2.7-2.1M253 131l5-4.4M293 109l7-4.9M255 138l6.7-6M274 119l2.6-2M276 131l2.1-1.7M280 119l6.2-5.5"/>
<path class="kgr w3" d="M287 128l6.5-4.9M275 115l3.3-2.8M255 148l3.8-3.4M298 109l1.6-1.4M303 124l5.8-3.8"/>
<path class="kgr w4" d="M230 161l2-1.7M303 123l1.8-1.1M291 112l2.1-1.2"/>
<path class="kgr w5" d="M284 128l2.4-2M249 157l3.8-3.3M231 164l3.8-3.4"/>
<path class="kgr w6" d="M246 158l4.7-2.8M302 120l3.3-2M236 148l6.9-4.3M301 110l5.7-4.9M284 128l6.7-5.4"/>
<path class="kg w3" d="M261 144l5.1-3.2M279 137l2.7-2"/>
<path class="kg w4" d="M262 150l5.6-5.1"/>
<path class="kg w5" d="M240 143l5.9-3.5M289 119l5.4-3.3"/>
<path class="kg w6" d="M288 133l3.7-2.8"/>
<path class="kb w3" d="M239 152l2.4-1.6M240 142l3.8-3.5M288 123l6.3-3.8M272 122l5.7-4.5M278 115l4.4-3.3"/>
<path class="kb w4" d="M265 135l4-2.5M252 133l6-3.5M291 129l6.5-5.1M299 109l7-4.8M255 145l5-3.6"/>
<path class="kb w5" d="M274 119l7.5-4.5M243 144l6-3.8M244 139l5.5-4.7M269 131l3.8-2.5M296 125l7.1-4.3"/>
<path class="kb w6" d="M234 159l1.7-1.4M236 156l2.8-2.3M297 133l3.5-2.1M229 166l6.4-5M268 135l3.5-2M258 125l6.4-3.9M276 145l2.7-2M283 133l5.1-3.1M266 132l4.3-3.4M253 153l6.5-5.1M278 141l4.7-3.6M226 164l4.3-3.9M268 118l3.7-2.3"/>
<path d="M226 164L238 150L250 140L262 130L276 118L292 110L306 106L306 126L296 131L286 137L272 144L256 150L240 158Z" fill="#50969a"/>
<path class="kgr w3" d="M284 131l4.7-4.1M283 134l4-2.6M279 139l5.4-4.8M279 130l5.3-3.5M298 114l6.2-4.4"/>
<path class="kgr w4" d="M254 139l6.6-5.3M259 149l4-2.8M253 150l6.2-3.7M245 148l3.3-1.9M262 133l2.2-1.5M267 143l6.8-5.6M274 140l5.2-3.7M277 132l6.5-5.7"/>
<path class="kgr w5" d="M265 143l5.8-3.5M264 138l7-4.9M290 127l4.8-3.1M284 130l3.7-2.6M258 137l6.7-4.3"/>
<path class="kgr w6" d="M263 139l2.8-2.2M269 138l5.1-3.1M249 148l4.7-2.8M285 114l3-2.2M272 133l4-2.9M292 124l5.2-3.2M261 146l3.4-2.7M271 143l3-2.2M298 112l2.3-1.7"/>
<path class="klb w3" d="M272 132l3.2-2.1M270 132l2.1-1.7M268 133l6.8-4.3M250 148l3.5-2.2M248 142l4.5-3.1M301 119l5-4.1"/>
<path class="klb w4" d="M281 122l6.3-4.5M287 113l3.8-2.7M290 112l2.8-2.1"/>
<path class="klb w5" d="M291 119l1.6-1.2M275 123l7.5-4.4"/>
<path class="kb w3" d="M260 142l6.1-4.9M298 120l1.7-1.4M286 131l6.7-5.1M271 128l1.9-1.5M245 154l1.7-1.2M296 121l3.4-2.2"/>
<path class="kb w4" d="M298 121l5.8-3.9M281 126l6.2-3.8"/>
<path class="kb w5" d="M301 126l4.5-3.9M276 122l5.2-3.4M270 131l4.1-3.2M259 149l6.1-3.9M295 114l6.6-4.7M274 120l1.9-1.6M270 134l2.6-1.7"/>
<path class="kb w6" d="M281 134l5.7-4.7M270 129l4.4-3.8M298 128l4.3-3M273 123l4.2-2.6M272 122l5.4-4.3"/>
<path class="klg w3" d="M249 142l6.5-5.6M244 151l7.2-4.8M233 156l4.7-2.9M239 149l2.3-1.4"/>
<path class="klg w4" d="M265 142l4.4-3.6M276 121l6.2-5"/>
<path class="klg w5" d="M232 161l5.7-5M241 154l6.6-5.7M278 137l4.1-3.1M241 148l6.1-5.2"/>
<path class="ky w3" d="M291 128l6.4-5.4M245 154l5.7-3.5M284 119l2.1-1.6M236 156l1.8-1.4M263 146l6.9-4.6"/>
<path class="ky w4" d="M283 123l3.3-2.3M268 141l2.6-2M260 133l3.8-3.1M300 120l4.5-3.2M248 149l6.3-4"/>
<path class="ky w5" d="M227 163l5.3-3.7"/>
<path class="kt w3" d="M259 147l3.8-2.9M260 147l2-1.2"/>
<path class="kt w4" d="M250 141l7.6-4.7M302 114l5.7-4.2M238 156l6.6-5.4"/>
<path class="kt w5" d="M287 126l2.1-1.4M277 129l4.2-3.5M282 123l6-3.6M296 111l3.7-2.3"/>
<path class="kt w6" d="M239 151l7.2-5.2M262 147l5.7-3.5M303 111l1.5-1.3M237 159l3.8-2.9M281 121l2.2-1.4M275 139l6.8-5.7"/>
<ellipse cx="262.0" cy="127.0" rx="5.0" ry="1.5" transform="rotate(-30.0 262.0 127.0)" fill="#b8c4ec"/>
<ellipse cx="286.0" cy="118.0" rx="4.0" ry="1.5" transform="rotate(-30.0 286.0 118.0)" fill="#b8c4ec"/>
<ellipse cx="246.0" cy="138.0" rx="5.0" ry="1.5" transform="rotate(-30.0 246.0 138.0)" fill="#5058d8"/>
<path d="M250 146L258 140L266 137L270 140L262 145L254 149Z" fill="#f0d860"/>
<path d="M276 130L282 124L286 118L290 116L290 122L286 130L280 134Z" fill="#f0d860"/>
<ellipse cx="264.0" cy="139.0" rx="3.0" ry="3.0" transform="rotate(0.0 264.0 139.0)" fill="#b8c4ec"/>
<ellipse cx="264.0" cy="139.0" rx="2.6" ry="2.6" transform="rotate(0.0 264.0 139.0)" fill="#5058d8"/>
<ellipse cx="264.0" cy="139.0" rx="2.1" ry="2.1" transform="rotate(0.0 264.0 139.0)" fill="#008000"/>
<ellipse cx="264.0" cy="139.0" rx="1.6" ry="1.6" transform="rotate(0.0 264.0 139.0)" fill="#f0d860"/>
<ellipse cx="264.0" cy="139.0" rx="1.0" ry="1.0" transform="rotate(0.0 264.0 139.0)" fill="#f0b020"/>
<ellipse cx="284.0" cy="121.0" rx="3.0" ry="4.0" transform="rotate(0.0 284.0 121.0)" fill="#b8c4ec"/>
<ellipse cx="284.0" cy="121.0" rx="2.6" ry="3.4" transform="rotate(0.0 284.0 121.0)" fill="#5058d8"/>
<ellipse cx="284.0" cy="121.0" rx="2.1" ry="2.8" transform="rotate(0.0 284.0 121.0)" fill="#008000"/>
<ellipse cx="284.0" cy="121.0" rx="1.6" ry="2.1" transform="rotate(0.0 284.0 121.0)" fill="#f0d860"/>
<ellipse cx="284.0" cy="121.0" rx="1.0" ry="1.4" transform="rotate(0.0 284.0 121.0)" fill="#f0b020"/>
<ellipse cx="290.0" cy="114.0" rx="2.5" ry="2.5" transform="rotate(0.0 290.0 114.0)" fill="#b8c4ec"/>
<ellipse cx="290.0" cy="114.0" rx="2.1" ry="2.1" transform="rotate(0.0 290.0 114.0)" fill="#5058d8"/>
<ellipse cx="290.0" cy="114.0" rx="1.8" ry="1.8" transform="rotate(0.0 290.0 114.0)" fill="#008000"/>
<ellipse cx="290.0" cy="114.0" rx="1.3" ry="1.3" transform="rotate(0.0 290.0 114.0)" fill="#f0d860"/>
<ellipse cx="300.0" cy="116.0" rx="2.0" ry="2.0" transform="rotate(0.0 300.0 116.0)" fill="#b8c4ec"/>
<ellipse cx="300.0" cy="116.0" rx="1.7" ry="1.7" transform="rotate(0.0 300.0 116.0)" fill="#5058d8"/>
<ellipse cx="300.0" cy="116.0" rx="1.4" ry="1.4" transform="rotate(0.0 300.0 116.0)" fill="#008000"/>
<ellipse cx="300.0" cy="116.0" rx="1.0" ry="1.0" transform="rotate(0.0 300.0 116.0)" fill="#f0d860"/>
<ellipse cx="284.0" cy="137.0" rx="3.0" ry="3.0" transform="rotate(0.0 284.0 137.0)" fill="#b8c4ec"/>
<ellipse cx="284.0" cy="137.0" rx="2.6" ry="2.6" transform="rotate(0.0 284.0 137.0)" fill="#5058d8"/>
<ellipse cx="284.0" cy="137.0" rx="2.1" ry="2.1" transform="rotate(0.0 284.0 137.0)" fill="#008000"/>
<ellipse cx="284.0" cy="137.0" rx="1.6" ry="1.6" transform="rotate(0.0 284.0 137.0)" fill="#f0d860"/>
<ellipse cx="287.0" cy="153.0" rx="3.0" ry="3.0" transform="rotate(0.0 287.0 153.0)" fill="#b8c4ec"/>
<ellipse cx="287.0" cy="153.0" rx="2.6" ry="2.6" transform="rotate(0.0 287.0 153.0)" fill="#5058d8"/>
<ellipse cx="287.0" cy="153.0" rx="2.1" ry="2.1" transform="rotate(0.0 287.0 153.0)" fill="#008000"/>
<ellipse cx="287.0" cy="153.0" rx="1.6" ry="1.6" transform="rotate(0.0 287.0 153.0)" fill="#f0d860"/>
<ellipse cx="298.0" cy="128.0" rx="2.5" ry="2.5" transform="rotate(0.0 298.0 128.0)" fill="#b8c4ec"/>
<ellipse cx="298.0" cy="128.0" rx="2.1" ry="2.1" transform="rotate(0.0 298.0 128.0)" fill="#5058d8"/>
<ellipse cx="298.0" cy="128.0" rx="1.8" ry="1.8" transform="rotate(0.0 298.0 128.0)" fill="#008000"/>
<ellipse cx="298.0" cy="128.0" rx="1.3" ry="1.3" transform="rotate(0.0 298.0 128.0)" fill="#f0d860"/>
<ellipse cx="236.0" cy="160.0" rx="2.5" ry="2.5" transform="rotate(0.0 236.0 160.0)" fill="#b8c4ec"/>
<ellipse cx="236.0" cy="160.0" rx="2.1" ry="2.1" transform="rotate(0.0 236.0 160.0)" fill="#5058d8"/>
<ellipse cx="236.0" cy="160.0" rx="1.8" ry="1.8" transform="rotate(0.0 236.0 160.0)" fill="#008000"/>
<ellipse cx="236.0" cy="160.0" rx="1.3" ry="1.3" transform="rotate(0.0 236.0 160.0)" fill="#f0d860"/>
<ellipse cx="230.0" cy="166.0" rx="2.0" ry="2.0" transform="rotate(0.0 230.0 166.0)" fill="#b8c4ec"/>
<ellipse cx="230.0" cy="166.0" rx="1.7" ry="1.7" transform="rotate(0.0 230.0 166.0)" fill="#5058d8"/>
<ellipse cx="230.0" cy="166.0" rx="1.4" ry="1.4" transform="rotate(0.0 230.0 166.0)" fill="#008000"/>
<ellipse cx="258.0" cy="156.0" rx="7.0" ry="2.0" transform="rotate(-20.0 258.0 156.0)" fill="#b8c4ec"/>
<ellipse cx="250.0" cy="158.0" rx="4.0" ry="1.5" transform="rotate(-20.0 250.0 158.0)" fill="#a5a5a5"/>
<path d="M272 160L282 152L292 140L300 134L306 132L306 145L298 150L288 158L278 166L270 168Z" fill="#b8c4ec"/>
<path d="M275 160L284 153L293 142L301 136L306 135L306 142L298 147L288 155L279 163Z" fill="#008000"/>
<ellipse cx="286.0" cy="153.0" rx="2.5" ry="2.5" transform="rotate(0.0 286.0 153.0)" fill="#b8c4ec"/>
<ellipse cx="286.0" cy="153.0" rx="2.1" ry="2.1" transform="rotate(0.0 286.0 153.0)" fill="#5058d8"/>
<ellipse cx="286.0" cy="153.0" rx="1.8" ry="1.8" transform="rotate(0.0 286.0 153.0)" fill="#008000"/>
<ellipse cx="286.0" cy="153.0" rx="1.3" ry="1.3" transform="rotate(0.0 286.0 153.0)" fill="#f0d860"/>
<ellipse cx="286.0" cy="153.0" rx="0.9" ry="0.9" transform="rotate(0.0 286.0 153.0)" fill="#f0b020"/>
<ellipse cx="296.0" cy="142.0" rx="2.5" ry="2.5" transform="rotate(0.0 296.0 142.0)" fill="#b8c4ec"/>
<ellipse cx="296.0" cy="142.0" rx="2.1" ry="2.1" transform="rotate(0.0 296.0 142.0)" fill="#5058d8"/>
<ellipse cx="296.0" cy="142.0" rx="1.8" ry="1.8" transform="rotate(0.0 296.0 142.0)" fill="#008000"/>
<ellipse cx="296.0" cy="142.0" rx="1.3" ry="1.3" transform="rotate(0.0 296.0 142.0)" fill="#f0d860"/>
<path class="klb w3" d="M249 192l11.4-6.7"/>
<path class="klb w4" d="M240 195l13.5-11.7M238 205l9.8-7"/>
<path class="klb w6" d="M243 203l7.9-5M233 208l5.3-4"/>
<path class="kg w3" d="M222 212l13.3-11.1M234 205l6.2-4.8M234 198l5.3-3.9M240 199l12.9-11.4M221 203l14.6-8.8"/>
<path class="kg w4" d="M246 203l14-11M246 202l11.1-7.8M244 201l6.1-4.3M246 191l9.3-7.1"/>
<path class="kg w5" d="M237 204l11.5-9.1M251 200l10.3-9M236 201l12.4-8.6M223 210l14.2-10.9M242 200l15.1-8.7M241 193l8.2-6.1M229 209l10.4-7.8"/>
<path class="kg w6" d="M254 196l5.3-4.7M229 209l10.2-7.5M238 195l13.2-7.8M233 199l7.7-5.3M234 198l5.3-4.6"/>
<path d="M222 214L236 204L250 192L260 186L270 180L278 172L286 160L294 150L306 146L306 164L298 170L290 178L280 188L270 196L258 202L246 210L232 218L224 219Z" fill="#b8c4ec"/>
<path d="M226 213L238 204L251 194L261 189L271 183L279 175L287 163L295 153L306 149L306 160L297 167L289 175L279 185L268 193L256 199L244 207L231 215Z" fill="#5058d8"/>
<path d="M230 212L240 205L252 196L262 191L272 185L280 177L288 166L296 156L306 152L306 157L296 164L288 172L278 182L267 190L255 196L243 204L233 212Z" fill="#008000"/>
<path d="M244 202L254 196L263 193L273 187L281 179L289 168L297 159L303 156L296 162L287 171L277 181L266 188L254 194Z" fill="#f0d860"/>
<ellipse cx="262.0" cy="191.0" rx="2.5" ry="2.5" transform="rotate(0.0 262.0 191.0)" fill="#f0b020"/>
<ellipse cx="276.0" cy="184.0" rx="2.5" ry="2.5" transform="rotate(0.0 276.0 184.0)" fill="#f0b020"/>
<ellipse cx="262.0" cy="192.0" rx="1.0" ry="1.0" transform="rotate(0.0 262.0 192.0)" fill="#f05080"/>
<ellipse cx="288.0" cy="168.0" rx="2.0" ry="2.0" transform="rotate(0.0 288.0 168.0)" fill="#f0b020"/>
<ellipse cx="276.0" cy="185.0" rx="1.2" ry="1.2" transform="rotate(0.0 276.0 185.0)" fill="#8c5a40"/>
<path d="M196 226L206 218L222 214L240 212L254 214L252 222L236 226L220 231L196 231Z" fill="#b8c4ec"/>
<path d="M200 228L208 221L222 217L238 215L250 216L246 221L232 225L218 231L200 231Z" fill="#50969a"/>
<path class="kgr w3" d="M243 218l3.7-2.4M230 222l7.6-4.4M217 228l4.1-2.8M243 220l2-1.5M202 231l5.2-4.1"/>
<path class="kgr w4" d="M221 225l4-3.3M218 229l2.4-1.8M235 219l3.8-3.1M201 228l1.7-1.4"/>
<path class="kgr w5" d="M232 225l6.2-4.9M236 219l6.3-5M209 227l1.8-1.5M220 228l6.2-4.6"/>
<path class="klb w3" d="M225 222l7.1-4.9"/>
<path class="klb w4" d="M229 226l6.5-3.9"/>
<path class="klb w5" d="M203 229l5.4-4.3M205 232l3.9-2.5"/>
<path class="kb w4" d="M214 232l5-3.1M239 218l3.6-2.8"/>
<path class="kb w6" d="M208 224l7.6-4.5"/>
<path class="klg w3" d="M226 225l4.3-2.6"/>
<path class="klg w4" d="M225 225l4.2-2.5M241 221l4.9-3.9"/>
<path class="klg w5" d="M220 224l3.3-2.2"/>
<path class="klg w6" d="M214 222l4.7-2.9M216 223l6.7-4.8"/>
<path class="ky w3" d="M212 228l5.9-3.9"/>
<path class="ky w6" d="M207 226l1.9-1.4M213 225l2.1-1.8"/>
<path class="kt w6" d="M212 229l2.9-2.2"/>
<ellipse cx="214.0" cy="224.0" rx="3.5" ry="3.0" transform="rotate(0.0 214.0 224.0)" fill="#b8c4ec"/>
<ellipse cx="214.0" cy="224.0" rx="3.0" ry="2.6" transform="rotate(0.0 214.0 224.0)" fill="#5058d8"/>
<ellipse cx="214.0" cy="224.0" rx="2.4" ry="2.1" transform="rotate(0.0 214.0 224.0)" fill="#008000"/>
<ellipse cx="214.0" cy="224.0" rx="1.8" ry="1.6" transform="rotate(0.0 214.0 224.0)" fill="#f0d860"/>
<ellipse cx="226.0" cy="220.0" rx="3.0" ry="2.5" transform="rotate(0.0 226.0 220.0)" fill="#b8c4ec"/>
<ellipse cx="226.0" cy="220.0" rx="2.6" ry="2.1" transform="rotate(0.0 226.0 220.0)" fill="#5058d8"/>
<ellipse cx="226.0" cy="220.0" rx="2.1" ry="1.8" transform="rotate(0.0 226.0 220.0)" fill="#008000"/>
<ellipse cx="226.0" cy="220.0" rx="1.6" ry="1.3" transform="rotate(0.0 226.0 220.0)" fill="#f0d860"/>
<ellipse cx="226.0" cy="220.0" rx="1.0" ry="0.9" transform="rotate(0.0 226.0 220.0)" fill="#f0b020"/>
<ellipse cx="238.0" cy="218.0" rx="2.5" ry="2.0" transform="rotate(0.0 238.0 218.0)" fill="#b8c4ec"/>
<ellipse cx="238.0" cy="218.0" rx="2.1" ry="1.7" transform="rotate(0.0 238.0 218.0)" fill="#5058d8"/>
<ellipse cx="238.0" cy="218.0" rx="1.8" ry="1.4" transform="rotate(0.0 238.0 218.0)" fill="#008000"/>
<ellipse cx="238.0" cy="218.0" rx="1.3" ry="1.0" transform="rotate(0.0 238.0 218.0)" fill="#f0d860"/>
<ellipse cx="206.0" cy="229.0" rx="2.5" ry="2.0" transform="rotate(0.0 206.0 229.0)" fill="#b8c4ec"/>
<ellipse cx="206.0" cy="229.0" rx="2.1" ry="1.7" transform="rotate(0.0 206.0 229.0)" fill="#5058d8"/>
<ellipse cx="206.0" cy="229.0" rx="1.8" ry="1.4" transform="rotate(0.0 206.0 229.0)" fill="#008000"/>
<ellipse cx="206.0" cy="229.0" rx="1.3" ry="1.0" transform="rotate(0.0 206.0 229.0)" fill="#f0d860"/>
<ellipse cx="206.0" cy="229.0" rx="0.9" ry="0.7" transform="rotate(0.0 206.0 229.0)" fill="#f0b020"/>
<path d="M170 184L182 174L196 170L210 172L220 178L222 192L214 202L200 206L184 204L172 198Z" fill="#b8c4ec"/>
<path d="M174 186L184 177L196 174L208 176L216 182L218 192L210 199L198 202L186 200L176 195Z" fill="#50969a"/>
<path class="kgr w3" d="M212 193l3.2-2M187 195l3.8-2.9M205 195l4.3-3M205 183l3.1-2.6M192 189l5.4-3.6"/>
<path class="kgr w4" d="M194 181l6.5-4.7M187 197l4.9-2.9M188 195l4.1-3.6M209 183l6.9-4.2"/>
<path class="kgr w5" d="M189 189l6.4-5M184 180l5.9-5.2M202 191l4.5-3.5M199 193l3.3-2.7"/>
<path class="kgr w6" d="M203 196l3-2.6M182 189l4.9-3.4M200 182l2-1.4M209 199l6.7-5.7M210 183l3.8-3"/>
<path class="klb w3" d="M197 196l6.5-4.9M200 187l2.1-1.3M200 193l5.2-3.9"/>
<path class="klb w4" d="M182 184l3.9-3.4M196 203l5.9-4.6M189 189l6.3-4.6M206 190l6-5"/>
<path class="klb w5" d="M197 191l2.6-2M191 194l2.1-1.6M205 188l3.6-2.9M187 194l3.6-2.4"/>
<path class="klb w6" d="M193 199l4.4-3.4"/>
<path class="kb w3" d="M205 199l4.4-3.6M197 200l4.7-3.2"/>
<path class="kb w4" d="M186 200l4.7-3.7M200 181l5.3-3.2M187 199l4-2.5"/>
<path class="kb w5" d="M212 194l5.1-3.5"/>
<path class="kb w6" d="M198 182l4.6-3.2M210 186l6.9-5.8M208 192l3.1-2M212 195l3.9-2.4M204 187l3.9-2.6"/>
<path class="klg w3" d="M212 195l3.9-3.3M201 177l3.1-1.9"/>
<path class="klg w4" d="M208 183l3.8-2.8M196 185l6-4.4M206 178l3.9-2.4"/>
<path class="klg w5" d="M174 190l5-3.9M210 184l7.1-4.3"/>
<path class="klg w6" d="M173 189l6-4.1"/>
<path class="ky w3" d="M187 201l2.9-1.7"/>
<path class="ky w5" d="M193 199l2.2-1.8"/>
<path class="ky w6" d="M209 190l4.8-4.2M184 184l6-5.2M195 202l4.6-2.9"/>
<path class="kt w3" d="M190 181l3.3-2.7M185 195l7-5.2M209 196l2.2-1.5"/>
<path class="kt w4" d="M182 190l4.6-2.9"/>
<path class="kt w5" d="M214 189l1.5-1.3M211 183l2.9-2M208 185l4.8-4.1"/>
<path class="kt w6" d="M207 183l3.8-2.7M197 187l1.8-1.5"/>
<path d="M180 188L188 181L198 179L206 181L212 186L212 193L204 197L194 198L184 196L180 193Z" fill="#f0d860"/>
<path class="ko w4" d="M180 190l4.5-3.8M207 191l7.6-4.7M198 187l4.3-2.8"/>
<path class="ko w5" d="M192 184l3.5-2.2M197 198l6.8-4.2M189 194l2.2-1.9"/>
<path class="ko w6" d="M198 191l2.9-2.3M204 187l5.9-5.2M199 182l6.4-4.6M191 189l3.7-3"/>
<path class="klg w3" d="M184 192l6.4-3.9"/>
<path class="klg w5" d="M207 196l3-2.6"/>
<path class="klg w6" d="M199 196l2.1-1.8M183 197l2.8-2.4"/>
<path class="kgr w3" d="M203 183l4.9-3.2M199 187l4.8-3.2"/>
<path class="kgr w4" d="M191 184l1.8-1.5"/>
<path class="kgr w6" d="M198 188l5.6-3.6"/>
<path class="ky w3" d="M188 200l6.6-4.6M182 186l4.3-2.6M181 192l6-4.5"/>
<path class="ky w4" d="M197 187l6.8-4.2M186 197l4.6-3.5"/>
<path class="ky w5" d="M202 187l2.1-1.3M209 194l4.7-3.1M196 185l4.1-2.7M189 195l3.5-2.9"/>
<path class="ky w6" d="M209 190l4.8-3.7M192 195l5.1-3.8"/>
<path class="kbr w5" d="M204 186l3.6-3.1"/>
<path class="kbr w6" d="M201 186l4.8-3.3"/>
<path class="kb w4" d="M194 185l2.4-2.2"/>
<ellipse cx="192.0" cy="186.0" rx="3.0" ry="3.0" transform="rotate(0.0 192.0 186.0)" fill="#f0b020"/>
<ellipse cx="193.0" cy="187.0" rx="1.5" ry="1.5" transform="rotate(0.0 193.0 187.0)" fill="#8c5a40"/>
<ellipse cx="202.0" cy="192.0" rx="3.0" ry="2.5" transform="rotate(0.0 202.0 192.0)" fill="#f0b020"/>
<ellipse cx="202.0" cy="192.0" rx="1.5" ry="1.2" transform="rotate(0.0 202.0 192.0)" fill="#8c5a40"/>
<ellipse cx="186.0" cy="192.0" rx="2.0" ry="2.0" transform="rotate(0.0 186.0 192.0)" fill="#f0b020"/>
<ellipse cx="196.0" cy="183.0" rx="2.0" ry="1.5" transform="rotate(0.0 196.0 183.0)" fill="#c0e0c0"/>
<ellipse cx="209.0" cy="184.0" rx="2.0" ry="2.0" transform="rotate(0.0 209.0 184.0)" fill="#5058d8"/>
<path class="klb w4" d="M133 163l.3-.2M109 167l1.3-.9M181 141l.7-.4M186 135l1.2-.3M200 165l1.1-.8M184 162l.9-.7M186 149l.6-.2M192 151l.3-.2M172 154l.3-.1M211 141l.6-.5M192 157l.6-.3M210 61l1.1-.8M231 79l.6-.3"/>
<path class="klb w5" d="M109 170l.9-.6M104 165l.6-.2M104 169l.4-.3M198 157l1-.5M192 154l1.4-.4M179 162l.5-.3M193 160l1.2-.4M198 141l.3-.1M171 135l1.3-.6M213 162l1-.4M224 84l1.2-.5M214 72l.5-.4M229 80l.7-.5M219 74l1.7-.6"/>
<path class="klb w6" d="M115 165l1.3-1M114 174l.9-.3M126 161l.7-.3M110 163l1.8-1M115 163l1.1-.8M170 158l.6-.5M200 146l.8-.3M186 139l1.1-.6M182 168l.3-.1M206 152l.6-.5M171 141l1.1-.4M209 136l.8-.3M229 72l1.1-.6M225 70l.5-.1"/>
<path class="klb w7" d="M140 225l1.4-.7M177 226l2-.9M72 202l1.1-.9M125 161l1.4-.6M124 164l1.9-.7M98 164l1.5-1.2M179 165l1-.5M201 140l1.4-.4M176 162l1.8-1M203 137l1.1-.4M213 78l1.2-.6"/>
<path class="klb w8" d="M180 230l2.3-1.5M146 191l.9-.3M176 204l2-1.2M166 205l1-.5M182 205l2.6-1.3M142 200l2.1-1.7M64 205l2.4-1.3M105 178l2.3-1.3"/>
<path class="klb w9" d="M144 185l1.2-.7M130 229l1.2-.8M157 215l2.3-.8M144 190l2.4-1.5M161 217l2.5-.8M156 202l.9-.6M146 218l1.3-1M175 218l2.9-.9M139 187l2.4-1.7M154 231l2.4-1.3M158 170l2.3-1.7M88 228l1.1-.8M127 186l1.1-.6M70 207l3-.9M79 209l2.1-.9M74 199l1.8-1.3M77 197l1.3-.6M72 226l1-.3M70 217l1-.8M67 223l2.7-1.1M56 230l1.5-1.1M127 164l.6-.2"/>
<path class="klb w10" d="M148 169l1.7-1.4M143 222l1.3-.4M140 205l2.4-.9M159 194l1.3-.9M148 221l2.2-1.4M131 194l1.3-.8M184 215l2.4-1.9M152 222l.6-.5M144 188l1.7-1M181 220l1-.7M198 215l1.3-.5M170 175l2.2-1.8M164 182l.7-.6M169 171l1.4-1M105 224l1.4-.5M107 197l.8-.6M110 198l2.4-1.6M112 195l1-.4M62 200l1.9-.9M65 197l.6-.3"/>
<path class="klb w11" d="M157 183l.9-.3M163 175l1-.8M162 198l.9-.5M147 166l1.4-.8M167 211l3.1-1.2M147 229l2.5-1.8M173 198l2.6-.9M133 223l.6-.2M136 196l1.4-.7M147 191l2.4-.7M172 211l1.7-1M165 176l2.5-.8M136 188l2-.8M182 178l2.5-1.8M161 176l1.2-.7M156 178l2.6-1.3M169 166l2.7-1.4M152 178l2.9-1M103 226l1.2-.7M63 224l1.2-.6"/>
<path class="klb w12" d="M149 207l2.5-.9M150 216l2.8-2.2M175 192l3.5-2.1M180 207l2.1-1.6M136 197l3.5-2.3M160 206l3.5-.9M182 206l.8-.3M166 217l.8-.4M178 222l2.5-1.7M159 209l1.8-1.5M144 217l3.4-1.6M172 200l2.9-1.8M164 171l3.4-2.7M193 210l2.2-1M135 189l3.4-1.4M144 183l1.7-1M129 229l2.9-1.1M160 173l1.4-.4M182 169l4-1.2M149 178l2.8-2.2M80 216l2.4-1.8M79 206l.8-.6M104 226l3.3-1.2M109 198l2.8-.8M60 201l3.6-2.4M57 221l3.1-1.4M69 228l3.6-2.6M56 224l.8-.4"/>
<path class="klb w13" d="M189 209l1.7-.9M176 216l1.2-.6M164 220l2.6-1.7M179 226l1.6-1.1M155 176l2.2-1.4M166 180l3.3-1.6M151 173l2.8-1.3M182 226l1.1-.9M186 231l2.9-.9M137 224l3.7-2M135 225l1.5-.9M168 211l2.8-1.3M147 228l3.4-2M180 210l1-.6M166 190l1.7-1.1M149 175l1.9-1.4M176 176l3.6-1.5M163 172l3.4-2.7M164 168l1.5-.6M168 173l2.2-1.8M159 180l2.6-1.2M86 212l3.3-2.4M96 227l1.9-1.2M85 207l3-1.9M90 221l3.2-1.7M115 194l2.4-.9M112 189l2.3-1.1M108 195l2.2-1.6M72 203l2.4-.9M71 223l1.7-.8M74 228l1.7-.7"/>
<path class="klb w14" d="M130 171l4.1-2.5M167 192l.9-.6M133 204l2.8-1.1M161 181l2.1-.7M156 182l2.4-1.3M85 207l2-1.3M101 223l2.8-2M93 215l1.1-.8M115 192l1.7-1.3M76 228l2-.7"/>
<path class="klb w15" d="M165 219l4.3-2.2M197 220l3.5-1.8M163 191l3.1-2.5M145 181l2.3-1.1M181 208l1.3-1M149 210l3-2M143 229l1.3-1M136 193l1.6-.9M143 186l3.6-2.1M79 217l3.3-1.1M82 217l4.7-2.4M99 207l2.6-1.2M70 230l4.4-1.5"/>
<path class="klb w16" d="M170 172l3.5-1.8M193 223l2.8-.8M130 227l.8-.5M132 229l4.1-2.5M139 181l3.6-1.2M136 232l2.8-2.2M155 208l2.3-1.8M106 204l1.3-.4M98 223l1.2-.9M104 220l2.6-1.1M79 212l1.3-.7"/>
<path class="klb w17" d="M90 206l4.7-2M97 225l4.1-3M90 216l3.3-2.7"/>
<path class="klb w18" d="M84 226l5.5-1.7"/>
<path class="kb w3" d="M114 165l1.4-1.1M114 174l1.1-.3M125 161l.9-.4M170 158l.8-.6M171 141l1.3-.5M209 137l1-.4M229 72l1.2-.7M225 70l.7-.2"/>
<path class="kb w4" d="M177 226l2.1-1M72 202l1.3-1M110 163l1.5-.9M124 164l2.1-.8M115 163l.9-.7M186 139l.8-.5M206 152l.4-.3M201 140l1.6-.4M176 162l2-1.1M203 137l1.3-.4M213 78l1.4-.7"/>
<path class="kb w5" d="M176 204l2.2-1.3M140 225l1.1-.6M166 205l1.2-.5M125 160l1.1-.5M98 164l1.2-1M179 165l.7-.4"/>
<path class="kb w6" d="M180 230l2.1-1.3M147 191l.6-.2M183 205l2.3-1.1M142 200l1.9-1.5M146 218l1.5-1.1M154 231l2.5-1.4M77 197l1.4-.6M64 205l2.1-1.1M72 226l1.2-.4M67 223l2.8-1.2M56 230l1.7-1.3M105 178l2-1.2M127 164l.8-.2"/>
<path class="kb w7" d="M140 205l2.6-1M144 185l1-.6M159 194l1.5-1M148 221l2.4-1.5M184 215l2.6-2.1M152 222l.8-.6M144 188l1.9-1.1M181 220l1.2-.8M130 229l.9-.6M157 215l2-.7M144 190l2.2-1.3M161 217l2.2-.7M170 175l2.3-1.9M156 202l.7-.4M175 218l2.6-.8M140 187l2.1-1.5M169 172l1.6-1.1M158 170l2.1-1.5M88 228l.8-.6M105 224l1.6-.5M107 197l1-.7M128 186l.8-.5M70 207l2.7-.8M62 200l2-1M79 209l1.8-.8M74 198l1.6-1.1M65 197l.7-.4M70 217l.8-.6"/>
<path class="kb w8" d="M148 169l1.5-1.2M157 183l1.1-.3M162 198l1.1-.6M143 222l1-.3M147 167l1.6-.9M167 211l3.3-1.2M147 229l2.7-1.9M131 194l1-.6M173 198l2.8-1M133 223l.8-.3M198 214l1-.4M136 196l1.6-.8M164 182l.5-.4M172 211l1.9-1.1M165 176l2.6-.9M136 188l2.2-.8M182 178l2.6-1.9M161 176l1.3-.8M156 178l2.8-1.4M169 166l2.8-1.5M103 226l1.4-.8M110 198l2.2-1.4M112 195l.7-.2"/>
<path class="kb w9" d="M174 192l3.7-2.2M163 175l.8-.6M180 207l2.3-1.7M159 206l3.7-1M182 206l1-.4M166 217l1-.5M178 222l2.7-1.8M147 191l2.1-.6M135 189l3.6-1.5M144 183l1.8-1.2M129 229l3.1-1.2M160 173l1.5-.5M152 178l2.6-.9M80 216l2.6-1.9M79 206l.9-.8M63 223l.9-.5M57 221l3.3-1.5M56 224l1-.5"/>
<path class="kb w10" d="M189 209l1.9-1M150 207l2.2-.8M150 216l2.6-2M164 220l2.7-1.8M155 176l2.3-1.5M136 197l3.2-2.1M151 173l2.9-1.4M159 209l1.6-1.3M144 216l3.2-1.5M172 200l2.7-1.7M164 171l3.1-2.5M182 226l1.3-1M137 224l3.9-2.1M168 211l3-1.4M146 228l3.5-2.1M180 210l1.2-.7M193 210l1.9-.9M176 176l3.7-1.5M183 169l3.7-1.1M168 173l2.3-1.9M159 180l2.8-1.3M149 178l2.6-2M96 227l2.1-1.3M90 221l3.4-1.7M104 226l3-1.1M109 198l2.5-.8M115 194l2.6-1M112 189l2.5-1.2M108 195l2.3-1.7M72 203l2.5-1M61 201l3.3-2.2M70 228l3.4-2.4M71 223l1.9-.9M74 228l1.9-.8"/>
<path class="kb w11" d="M177 216l.9-.5M179 226l1.4-1M166 180l3-1.5M130 171l4.3-2.6M167 192l1-.8M186 231l2.6-.8M135 225l1.2-.7M160 181l2.3-.8M167 190l1.4-.9M150 175l1.7-1.2M155 182l2.6-1.4M163 172l3.2-2.5M165 168l1.2-.5M86 212l3.1-2.3M85 207l2.8-1.8M101 223l3-2.2M93 215l1.2-1M76 228l2.1-.8"/>
<path class="kb w12" d="M197 220l3.6-1.9M162 191l3.3-2.6M145 182l2.4-1.2M133 204l2.5-.9M142 229l1.5-1.1M136 193l1.8-1M143 186l3.7-2.3M85 207l1.7-1.1M99 207l2.7-1.3M115 192l1.4-1.1M70 230l4.6-1.6"/>
<path class="kb w13" d="M165 219l4-2.1M170 172l3.7-1.9M192 223l3-.8M182 208l1.1-.8M150 210l2.7-1.8M130 227l1-.6M132 229l4.3-2.6M139 181l3.8-1.3M136 232l3-2.3M155 208l2.4-1.9M106 204l1.5-.5M79 217l3.1-1M98 223l1.4-1M104 220l2.8-1.2M82 217l4.5-2.2M79 212l1.5-.8"/>
<path class="kb w14" d="M89 206l4.9-2.1"/>
<path class="kb w15" d="M97 225l3.9-2.9M90 216l3-2.5"/>
<path class="kb w16" d="M84 226l5.2-1.6"/>
<path class="kgr w3" d="M64 205l2.3-1.2M105 178l2.2-1.3M127 164l1-.3"/>
<path class="kgr w4" d="M144 185l1.1-.7M130 229l1.1-.7M157 215l2.2-.7M144 190l2.4-1.4M161 217l2.4-.8M170 175l2.5-2M156 202l.8-.5M175 218l2.8-.9M139 187l2.3-1.6M158 170l2.3-1.7M88 228l1-.7M127 186l1-.6M70 207l2.9-.9M62 200l2.2-1.1M79 209l2-.9M74 199l1.7-1.2M77 197l1.2-.5M65 197l.9-.6M72 226l.9-.3M70 217l1-.8M67 223l2.6-1.1M56 230l1.4-1.1"/>
<path class="kgr w5" d="M148 169l1.6-1.4M143 222l1.2-.4M140 205l2.3-.9M159 194l1.2-.8M148 221l2.2-1.4M131 194l1.2-.7M184 215l2.3-1.9M152 221l.5-.4M144 188l1.6-.9M181 220l.9-.6M133 223l1-.3M198 215l1.2-.5M164 182l.7-.5M172 211l2.1-1.2M136 188l2.4-.9M182 178l2.8-2M170 171l1.3-1M105 224l1.3-.4M107 197l.8-.5M110 198l2.3-1.5M112 195l.9-.3"/>
<path class="kgr w6" d="M157 183l.8-.2M163 175l1-.7M162 198l.8-.4M147 166l1.4-.7M167 211l3-1.1M147 229l2.4-1.7M173 198l2.5-.9M136 196l1.3-.7M147 191l2.3-.6M165 176l2.4-.8M161 176l1.1-.7M156 178l2.5-1.3M169 166l2.6-1.4M152 178l2.8-.9M103 226l1.1-.6M63 223l1.1-.5"/>
<path class="kgr w7" d="M149 207l2.4-.9M150 216l2.7-2.2M175 192l3.4-2M155 176l2.5-1.6M180 207l2-1.5M136 197l3.4-2.2M160 206l3.4-.9M182 206l.7-.3M167 217l.7-.3M178 222l2.4-1.6M159 209l1.8-1.5M144 216l3.3-1.6M172 200l2.8-1.8M164 171l3.3-2.7M180 210l1.3-.8M193 210l2.1-1M135 189l3.3-1.4M144 183l1.6-1M129 229l2.8-1.1M160 173l1.3-.4M176 176l3.9-1.6M183 169l3.9-1.1M168 173l2.5-2M149 178l2.8-2.2M80 215l2.4-1.7M79 206l.7-.6M104 226l3.2-1.2M109 198l2.7-.8M72 203l2.7-1M60 201l3.5-2.4M57 221l3-1.3M69 228l3.5-2.5M56 224l.7-.4M74 228l2.1-.9"/>
<path class="kgr w8" d="M189 209l1.6-.8M176 216l1.1-.6M164 220l2.5-1.7M179 226l1.5-1.1M166 180l3.2-1.6M151 173l2.7-1.2M167 192l1.2-.9M182 226l1.1-.8M186 231l2.8-.8M137 224l3.6-1.9M135 225l1.4-.8M168 211l2.7-1.2M147 228l3.3-2M160 181l2.5-.8M167 190l1.6-1M149 175l1.9-1.4M163 172l3.4-2.7M164 168l1.4-.6M159 180l2.5-1.1M86 212l3.2-2.4M96 227l1.8-1.1M85 207l2.9-1.9M91 221l3.1-1.6M115 194l2.3-.9M112 189l2.2-1.1M108 195l2.1-1.6M71 223l1.6-.8"/>
<path class="kgr w9" d="M130 171l4-2.4M133 204l2.7-1M156 182l2.3-1.2M85 207l1.9-1.3M101 223l2.7-2M93 215l1-.8M115 192l1.6-1.2M76 228l1.9-.7"/>
<path class="kgr w10" d="M165 219l4.2-2.2M197 220l3.4-1.8M170 172l3.8-1.9M163 191l3-2.5M145 181l2.2-1.1M181 208l1.2-.9M149 210l2.9-2M143 229l1.2-.9M130 227l1.1-.7M137 193l1.5-.9M143 186l3.5-2.1M154 208l2.6-2M79 217l3.2-1M82 217l4.6-2.3M99 207l2.5-1.2M79 212l1.6-.9M70 230l4.3-1.5"/>
<path class="kgr w11" d="M193 223l2.7-.7M132 229l4-2.5M139 181l3.5-1.2M136 232l2.7-2.1M106 204l1.2-.4M98 223l1.2-.8M104 220l2.5-1.1"/>
<path class="kgr w12" d="M90 206l4.6-2M97 225l4-3M90 216l3.2-2.6"/>
<path class="kgr w13" d="M84 226l5.4-1.7"/>
<path class="ky w3" d="M63 224l1.2-.6"/>
<path class="ky w4" d="M149 207l2.5-.9M150 216l2.8-2.2M175 192l3.5-2.1M180 207l2.1-1.6M136 197l3.5-2.3M160 206l3.5-.9M182 206l.8-.3M166 217l.8-.4M178 222l2.5-1.7M159 209l1.8-1.5M144 217l3.4-1.6M172 200l2.9-1.8M164 171l3.4-2.7M193 210l2.2-1M135 189l3.4-1.4M144 183l1.7-1M129 229l2.9-1.1M160 173l1.4-.4M182 169l4-1.2M149 178l2.8-2.2M80 216l2.4-1.8M79 206l.8-.6M104 226l3.3-1.2M109 198l2.8-.8M60 201l3.6-2.4M57 221l3.1-1.4M69 228l3.6-2.6M56 224l.8-.4"/>
<path class="ky w5" d="M189 209l1.7-.9M176 216l1.2-.6M164 220l2.6-1.7M179 226l1.6-1.1M155 176l2.2-1.4M166 180l3.3-1.6M151 173l2.8-1.3M182 226l1.1-.9M186 231l2.9-.9M137 224l3.7-2M135 225l1.5-.9M168 211l2.8-1.3M147 228l3.4-2M180 210l1-.6M166 190l1.7-1.1M149 175l1.9-1.4M176 176l3.6-1.5M163 172l3.4-2.7M164 168l1.5-.6M168 173l2.2-1.8M159 180l2.6-1.2M86 212l3.3-2.4M96 227l1.9-1.2M85 207l3-1.9M90 221l3.2-1.7M115 194l2.4-.9M112 189l2.3-1.1M108 195l2.2-1.6M72 203l2.4-.9M71 223l1.7-.8M74 228l1.7-.7"/>
<path class="ky w6" d="M130 171l4.1-2.5M167 192l.9-.6M133 204l2.8-1.1M161 181l2.1-.7M156 182l2.4-1.3M85 207l2-1.3M101 223l2.8-2M93 215l1.1-.8M115 192l1.7-1.3M76 228l2-.7"/>
<path class="ky w7" d="M165 219l4.3-2.2M197 220l3.5-1.8M163 191l3.1-2.5M145 181l2.3-1.1M181 208l1.3-1M149 210l3-2M143 229l1.3-1M136 193l1.6-.9M143 186l3.6-2.1M79 217l3.3-1.1M82 217l4.7-2.4M99 207l2.6-1.2M70 230l4.4-1.5"/>
<path class="ky w8" d="M170 172l3.5-1.8M193 223l2.8-.8M130 227l.8-.5M132 229l4.1-2.5M139 181l3.6-1.2M136 232l2.8-2.2M155 208l2.3-1.8M106 204l1.3-.4M98 223l1.2-.9M104 220l2.6-1.1M79 212l1.3-.7"/>
<path class="ky w9" d="M90 206l4.7-2M97 225l4.1-3M90 216l3.3-2.7"/>
<path class="ky w10" d="M84 226l5.5-1.7"/>
<path class="ko w3" d="M130 171l4.2-2.5M156 182l2.5-1.3M85 207l2.1-1.4M101 223l2.9-2.1M93 215l1.2-.9M76 228l2-.8"/>
<path class="ko w4" d="M165 219l4.4-2.3M197 220l3.6-1.8M162 191l3.2-2.6M145 182l2.4-1.1M133 204l2.4-.9M142 229l1.4-1M136 193l1.7-1M143 186l3.6-2.2M79 217l3.4-1.1M82 217l4.8-2.4M99 207l2.6-1.3M115 192l1.3-1M70 230l4.5-1.5"/>
<path class="ko w5" d="M170 172l3.6-1.8M192 223l2.9-.8M182 208l1-.8M150 210l2.6-1.8M130 227l.9-.5M132 229l4.2-2.6M139 181l3.7-1.2M136 232l2.9-2.2M155 208l2.3-1.8M106 204l1.4-.4M98 223l1.3-1M104 220l2.7-1.2M79 212l1.4-.8"/>
<path class="ko w6" d="M89 206l4.8-2M90 216l3.4-2.7"/>
<path class="ko w7" d="M97 225l3.8-2.8"/>
<path class="ko w8" d="M84 226l5.2-1.6"/>
<path class="kdbr w4" d="M89 206l4.8-2M90 216l3.4-2.7"/>
<path class="kdbr w5" d="M97 225l3.8-2.8"/>
<path class="kdbr w6" d="M84 226l5.2-1.6"/>
<use href="#mapg"/>
</g>
<rect x="0.5" y="0.5" width="305" height="231" fill="none" stroke="#555" stroke-width="1"/>
<rect x="5.5" y="3.5" width="15" height="21" fill="#fff" stroke="#555" stroke-width="1"/>
<text class="t" x="13.5" y="17.6" font-size="13.5" text-anchor="middle">3</text>
</g>
<g transform="translate(945,5)">
<g clip-path="url(#cp0)" stroke-linecap="round">
<ellipse cx="278.5" cy="62.1" rx="4.2" ry="2.1" transform="rotate(-40.0 278.5 62.1)" fill="#b8c4ec"/>
<ellipse cx="279.0" cy="62.1" rx="2.2" ry="1.1" transform="rotate(-40.0 279.0 62.1)" fill="#5058d8"/>
<ellipse cx="273.8" cy="66.8" rx="6.6" ry="1.6" transform="rotate(-40.0 273.8 66.8)" fill="#b8c4ec"/>
<ellipse cx="296.9" cy="49.1" rx="4.5" ry="2.0" transform="rotate(-40.0 296.9 49.1)" fill="#b8c4ec"/>
<ellipse cx="297.4" cy="49.1" rx="1.8" ry="1.1" transform="rotate(-40.0 297.4 49.1)" fill="#5058d8"/>
<ellipse cx="224.0" cy="71.3" rx="3.9" ry="1.5" transform="rotate(-22.2 224.0 71.3)" fill="#b8c4ec"/>
<ellipse cx="243.1" cy="62.0" rx="2.1" ry="1.5" transform="rotate(-17.1 243.1 62.0)" fill="#a5a5a5"/>
<ellipse cx="245.1" cy="54.0" rx="2.0" ry="1.2" transform="rotate(-19.2 245.1 54.0)" fill="#a5a5a5"/>
<ellipse cx="247.9" cy="56.5" rx="3.7" ry="1.7" transform="rotate(-15.5 247.9 56.5)" fill="#a5a5a5"/>
<path class="klb w3" d="M291 97l10-6M297 130l11.5-8.2M289 98l10.4-7M214 174l12.6-9.2M240 133l4.8-4.2M296 95l8.7-7.8M235 135l6.8-5.5M291 94l14.3-9.6M283 128l13.4-8.4M271 130l9.2-5.9M265 140l10.2-6.2M247 131l12.2-8.3M236 162l10.7-8.9M264 102l6.1-4.2M280 132l13.7-8.1M226 152l11.4-9M300 80l8.7-6.3M232 167l8.5-6M256 113l6.3-3.7M238 135l7.2-6.3M300 74l8.5-5.2M296 134l13-10.7"/>
<path class="klb w4" d="M274 89l5.6-3.5M209 171l7-5.9M208 174l13.3-9.6M291 109l12.1-9.5M258 145l9.3-8.2M223 162l7.3-5M235 139l13.1-7.7M299 94l7.7-5.8M300 129l6.8-5.6M265 125l10.9-8M243 159l12-8.8M254 115l9-6.5M217 173l6.4-3.9M257 115l7.6-6.3M295 99l11.1-9.9M235 141l14-9.4M299 80l13-8.9M225 141l11.6-9.2M267 135l5-3.8M249 151l13.2-8.8M208 166l12.2-8.1M247 141l5.2-3.9"/>
<path class="klb w5" d="M245 131l7.6-6.7M276 137l7.3-5.4M276 122l8.7-7.5M270 120l7.9-6.6M281 89l6.3-3.9M274 90l8-7M245 125l8.4-5.3M248 121l8.5-6.2M255 117l7.4-6.6M232 138l9.6-8.3M269 113l13.1-8M197 178l10.2-8.9M292 112l4.6-4M237 166l12.4-9.9M234 155l10-6.8M244 117l9.2-5.7M218 167l10.8-7.4M266 153l5.9-3.7M277 122l11.5-7.5"/>
<path class="klb w6" d="M248 117l11.1-6.9M257 109l6-5.2M255 146l5.1-4.2M233 148l5.4-3.9M293 81l9.1-8.1M251 118l12.9-8.2M248 129l10.5-7.4M287 139l5.3-4.5M298 111l7.7-4.9M259 157l12.5-9M235 157l13.6-9M219 149l12.7-8.7M271 118l10.1-7M283 106l8.4-5.8M240 130l13.8-9.1M241 165l5.7-3.6M198 172l13.3-8M229 155l6-5M279 138l13.8-9.3M262 137l15.5-9M288 97l12-8.1M272 125l8.1-6.2M261 134l9.7-8"/>
<path class="kg w3" d="M221 153l10.7-7.1M218 172l10.7-8.4M298 75l14.7-9.3M280 122l8-5.3M269 109l7.1-4.2M263 136l10.8-9.2M270 104l7.6-5.7M257 122l5.2-4.2M264 127l8.5-6.1M230 168l5.9-3.4M294 87l5.4-4.4M246 132l8.2-6.4M216 174l6-4.7M300 114l9.5-8.2M292 95l5.3-4M288 116l7.5-6.6M216 162l12-9.3M260 141l10.3-8.1M295 86l6-4.6M241 164l13.8-10.7M273 137l13.5-8.8M273 124l10-7.5M283 126l5.3-3.5M290 83l7.9-6.2M211 171l7.1-4.9M272 109l5.3-3.6M219 153l11.1-7.4M215 165l8-5.8M231 137l6.5-5.1M262 150l12.9-9M209 170l10.1-6.6M253 134l10.7-7.3M249 139l8.9-5.4M288 126l14.9-8.7M223 145l11.8-9.6M254 140l9.4-8.3M298 134l9.2-7.5M296 102l13.7-8.7M223 143l9.4-7.7M245 159l7.2-4.4M217 168l9.7-6M291 92l13.1-9.5M239 140l9.1-6.5M250 155l12-7M285 112l8.7-7.1M271 111l7.1-5.1M290 104l11.2-9.3M239 128l5.3-3.2M271 124l13.8-9.1M238 133l8.1-5.6M230 162l8-4.8M295 83l8.8-6.9M274 134l13.2-11.6M257 112l8.9-7.5M244 125l12.6-8.2"/>
<path class="kg w4" d="M263 132l12.5-7.4M238 144l7.7-5M224 148l9.2-6.8M240 152l13.4-11.2M284 82l9-7.2M275 85l11-6.9M253 139l7.9-6.3M210 166l11.3-9.8M203 173l10.2-6.3M273 129l10.5-8.2M294 87l8-6.5M277 98l9-7.9M244 136l7.6-6.7M268 111l9.9-8.4M253 152l7.6-4.4M296 98l5-3.6M262 109l11.8-8.4M271 92l13.5-11M282 100l7.2-5.8M289 84l14.4-9.8M294 107l6.8-4.8M207 164l13.2-8.4M215 170l4.6-4M239 140l10.1-7.8M270 92l11.2-8.4M272 122l12.2-7.6M235 150l14-8.8M299 123l8.8-5.1M276 132l13.2-8.2M224 144l10.5-7.5M209 171l11.3-7.4M291 125l8.6-5.9M280 128l8.3-4.9M291 104l13.9-9.2M244 121l12-9.6M213 175l10.5-6.8M219 156l7.7-5.7M249 132l12.7-10.5M242 156l10.6-8.6M227 171l13.9-9.3M246 143l7-6.2M228 154l8.8-5.2M197 176l8-4.9M267 154l8.4-6.4M270 131l10.6-8.8M262 115l9.3-6.2M262 140l8.4-5.2M214 171l5.6-4.4M218 159l9.4-5.7M298 119l11.8-8.1M276 107l15.1-9.1M296 120l12.3-11M286 103l5.6-4.5M266 103l12.6-10M259 155l11.1-8.7"/>
<path class="kg w5" d="M297 76l12.3-8.7M221 153l7.5-4.7M301 119l9.4-8.4M243 143l13.4-8.2M241 120l11.5-9.9M295 81l6.4-4.6M256 159l7.5-5.3M274 109l11-7.2M285 110l8.5-5.2M251 153l8.4-5.5M267 111l10.4-7.5M284 113l10.4-6.7M291 108l8.2-5.9M265 148l5.4-3.3M301 74l7.9-5.3M244 128l10.1-5.9M254 119l11.4-8.8M246 148l8.6-6.2M277 106l8.9-6.5M294 81l9.3-5.8M258 154l7.2-4.4M222 147l14.8-9.9M274 126l12-7.8M253 125l9.8-6.3M295 91l4.9-3.7M281 140l10.2-6.6M251 119l7.7-5.1M269 94l14-9.4M289 124l9.5-6.8M267 137l7-5M271 139l6.7-4.7M286 102l8.7-6M297 129l10.4-8.5M274 106l12.7-10.7M269 109l13.3-9.6M296 133l12.6-10.6M301 133l5.5-4.9M277 109l10.3-9M286 133l7-6M215 161l8.6-6M281 140l11.6-9.1M277 93l13-10.5M259 135l13.2-11.6M228 170l12.3-8.8"/>
<path class="kg w6" d="M282 94l5.5-4.7M281 119l10.3-6M289 126l10.1-8.8M268 147l9.7-8M253 130l9.5-5.9M250 112l14-8.4M252 123l7.5-5.1M218 161l4.8-4.2M271 92l6.5-4.2M279 109l10-7.7M267 150l9.8-6.9M274 135l8.5-5.8M271 128l9.7-6.9M296 129l7.3-6.5M259 160l11-9.2M292 88l9-7.7M271 104l7.3-5.3M292 96l12.4-10.6M295 89l10.5-9.4M233 169l9.1-8M226 147l11-7.5M210 170l8.8-6.6M292 113l11.5-7.8M265 141l5.1-4M257 135l5.6-3.8M210 177l9.7-7.9M301 122l4.6-4.1M288 92l7.5-5.6M259 121l8.8-6.2M224 156l10.2-9.2M217 164l14-9.3M248 138l14.8-9M240 154l11.6-9.6M264 146l13.4-8.4M246 161l5.7-3.4M243 142l13.6-8.1M274 120l8-4.8M281 93l13.4-11.1M261 102l7-5.9M280 143l9.2-6.3M275 121l11.5-6.8M269 122l8.5-7.6M253 155l13.1-8.1M259 143l9.9-8.7M214 170l5.7-4.8M247 150l12.6-9.1"/>
<ellipse cx="294.0" cy="78.0" rx="12.0" ry="2.5" transform="rotate(-28.0 294.0 78.0)" fill="#a5a5a5"/>
<ellipse cx="300.0" cy="86.0" rx="8.0" ry="2.0" transform="rotate(-30.0 300.0 86.0)" fill="#a5a5a5"/>
<ellipse cx="284.0" cy="86.0" rx="7.0" ry="2.0" transform="rotate(-35.0 284.0 86.0)" fill="#a5a5a5"/>
<path d="M202 172L218 160L232 139L254 116L269 106L289 98L306 88L306 130L296 132L286 137L274 147L259 157L239 164L224 169L206 176Z" fill="#b8c4ec"/>
<ellipse cx="296.0" cy="96.0" rx="7.0" ry="1.6" transform="rotate(-25.0 296.0 96.0)" fill="#a5a5a5"/>
<ellipse cx="284.0" cy="103.0" rx="5.0" ry="1.4" transform="rotate(-25.0 284.0 103.0)" fill="#a5a5a5"/>
<ellipse cx="300.0" cy="100.0" rx="4.0" ry="1.2" transform="rotate(-25.0 300.0 100.0)" fill="#fff"/>
<path d="M204 172L224 155L239 136L259 121L274 113L289 108L306 102L306 128L296 130L286 135L274 145L259 155L239 162L224 167L206 174Z" fill="#5058d8"/>
<path d="M226 160L240 142L256 130L272 122L290 114L306 108L306 122L294 126L282 132L268 140L252 148L236 156Z" fill="#5058d8"/>
<path class="kt w3" d="M294 119l2.2-1.3M300 124l5.2-4.3M289 116l2.6-2M256 138l2.3-1.7M288 126l2.2-1.9M242 145l3-1.9"/>
<path class="kt w4" d="M269 127l3.4-2.6M284 119l4.9-4.3M271 123l5.3-3.3"/>
<path class="kt w5" d="M281 120l1.8-1.2M287 123l3.6-2.7M227 158l5.4-4M284 128l3.7-2.5M298 125l7.4-4.8M271 125l3.5-3.1M247 142l2.9-2.2M243 142l5.4-4.1M302 115l2.3-1.7M285 120l2.4-1.4"/>
<path class="kt w6" d="M289 116l1.8-1M270 139l6.9-5.3M263 131l7.1-5.2M274 132l5-3M252 147l3.9-3.5M304 123l3-2.1"/>
<path class="klb w3" d="M256 135l5.2-4M294 123l1.8-1.1M298 122l6.6-5.6M240 151l3.3-2.5M268 127l3.9-3.1M254 146l2.1-1.8"/>
<path class="klb w4" d="M271 130l4.3-3.8M240 142l6.5-5.6M257 144l2.5-1.5M246 140l6-4.9M249 137l2.8-2"/>
<path class="klb w5" d="M282 127l7.1-5M251 137l7.2-5.2M300 125l6.8-4.8M272 134l2.8-2.5M229 157l4.7-3.8M286 128l2.4-1.5"/>
<path class="klb w6" d="M234 152l2.5-2.2M294 116l5.8-3.4M243 142l7.4-4.6M261 134l6.5-5M272 133l6.4-5.6M261 143l3.1-1.9"/>
<path class="kgr w3" d="M260 143l6.1-4"/>
<path class="kgr w4" d="M297 123l5.3-3.8M301 123l5-3.8M254 140l4-3.3"/>
<path class="kgr w5" d="M280 130l6.5-4.9M282 121l2.5-1.5M251 137l6.7-5.2"/>
<path class="kgr w6" d="M271 124l2.8-1.6"/>
<path class="kg w3" d="M289 116l4-3.5"/>
<path class="kg w5" d="M259 141l5.7-3.6M249 148l4.5-3.7"/>
<path class="kg w6" d="M259 131l6.4-5.1M290 120l3-1.8"/>
<path class="kb w3" d="M293 119l3.6-2.2M296 121l3.6-2.8M259 140l5.2-4.6M264 134l5-4M301 111l3.8-2.4"/>
<path class="kb w4" d="M297 116l3.6-3M233 151l4.5-3.9"/>
<path class="kb w5" d="M241 143l5.6-4.9M271 124l5.3-3.9M283 123l2.3-1.6M264 139l4.4-3.7"/>
<path class="kb w6" d="M275 131l6.4-4.9"/>
<path d="M238 150L252 144L266 140L276 144L262 150L246 156Z" fill="#b8c4ec"/>
<path d="M272 120L284 114L306 107L306 124L296 126L286 128L276 128Z" fill="#50969a"/>
<path class="kgr w3" d="M288 122l5.8-4.4M291 112l2.3-1.4"/>
<path class="kgr w4" d="M302 110l2.2-1.5"/>
<path class="kgr w5" d="M290 122l1.5-1.4M287 128l6.5-3.8M272 125l5.2-4.2M283 126l2-1.3M300 112l4.4-2.8M285 126l6.8-5"/>
<path class="kgr w6" d="M281 123l5.9-3.5M281 127l5.1-4.3M298 117l4.2-2.8"/>
<path class="klb w3" d="M296 123l7.1-5.4M285 122l6-4.3"/>
<path class="klb w4" d="M297 113l2.6-2.3"/>
<path class="klb w6" d="M274 125l2.7-2.3"/>
<path class="kb w3" d="M276 126l2.3-1.6"/>
<path class="kb w5" d="M281 123l4-3.2M290 123l4.2-2.9"/>
<path class="kb w6" d="M283 126l5.9-4.1M276 120l6.8-5.8"/>
<path class="klg w3" d="M293 123l6-3.9"/>
<path class="klg w5" d="M275 125l4.8-3.3"/>
<path class="klg w6" d="M276 123l5.3-4.4"/>
<path class="ky w4" d="M302 111l1.6-1.4"/>
<path class="ky w5" d="M294 127l5.9-5.2"/>
<path class="ky w6" d="M281 119l6.6-5.2"/>
<path class="kt w3" d="M285 126l2.5-1.5"/>
<path class="kt w4" d="M275 125l1.7-1.2"/>
<path class="kt w6" d="M297 126l5.5-4.1M288 115l4.9-4.2M285 117l5.4-4.5"/>
<ellipse cx="244.0" cy="137.0" rx="4.0" ry="2.5" transform="rotate(-30.0 244.0 137.0)" fill="#008000"/>
<ellipse cx="256.0" cy="151.0" rx="3.0" ry="1.5" transform="rotate(-20.0 256.0 151.0)" fill="#008000"/>
<ellipse cx="262.0" cy="146.0" rx="5.0" ry="2.0" transform="rotate(-20.0 262.0 146.0)" fill="#50969a"/>
<ellipse cx="244.0" cy="134.0" rx="2.5" ry="2.0" transform="rotate(-30.0 244.0 134.0)" fill="#b8c4ec"/>
<ellipse cx="244.0" cy="134.0" rx="2.1" ry="1.7" transform="rotate(-30.0 244.0 134.0)" fill="#5058d8"/>
<ellipse cx="244.0" cy="134.0" rx="1.8" ry="1.4" transform="rotate(-30.0 244.0 134.0)" fill="#008000"/>
<ellipse cx="244.0" cy="134.0" rx="1.3" ry="1.0" transform="rotate(-30.0 244.0 134.0)" fill="#f0d860"/>
<ellipse cx="279.0" cy="122.0" rx="3.0" ry="3.5" transform="rotate(0.0 279.0 122.0)" fill="#b8c4ec"/>
<ellipse cx="279.0" cy="122.0" rx="2.6" ry="3.0" transform="rotate(0.0 279.0 122.0)" fill="#5058d8"/>
<ellipse cx="279.0" cy="122.0" rx="2.1" ry="2.4" transform="rotate(0.0 279.0 122.0)" fill="#008000"/>
<ellipse cx="279.0" cy="122.0" rx="1.6" ry="1.8" transform="rotate(0.0 279.0 122.0)" fill="#f0d860"/>
<ellipse cx="286.0" cy="126.0" rx="2.5" ry="2.5" transform="rotate(0.0 286.0 126.0)" fill="#b8c4ec"/>
<ellipse cx="286.0" cy="126.0" rx="2.1" ry="2.1" transform="rotate(0.0 286.0 126.0)" fill="#5058d8"/>
<ellipse cx="286.0" cy="126.0" rx="1.8" ry="1.8" transform="rotate(0.0 286.0 126.0)" fill="#008000"/>
<ellipse cx="286.0" cy="126.0" rx="1.3" ry="1.3" transform="rotate(0.0 286.0 126.0)" fill="#f0d860"/>
<ellipse cx="298.0" cy="118.0" rx="2.0" ry="2.0" transform="rotate(0.0 298.0 118.0)" fill="#b8c4ec"/>
<ellipse cx="298.0" cy="118.0" rx="1.7" ry="1.7" transform="rotate(0.0 298.0 118.0)" fill="#5058d8"/>
<ellipse cx="298.0" cy="118.0" rx="1.4" ry="1.4" transform="rotate(0.0 298.0 118.0)" fill="#008000"/>
<path d="M282 140L292 130L306 126L306 176L298 176L286 170L282 158Z" fill="#b8c4ec"/>
<path d="M285 142L294 133L306 130L306 172L298 172L288 166L285 156Z" fill="#50969a"/>
<path class="kgr w3" d="M293 139l4.3-3.1M303 132l3.7-2.6M297 148l4.5-3.2M291 162l6.5-5.6M296 140l6.2-5.5M304 139l2.6-2.2M288 156l4.2-2.8"/>
<path class="kgr w4" d="M295 145l5.6-3.3M284 152l6-5M289 140l2.1-1.3M302 153l6.1-4M298 174l6.7-5.1M294 146l4-3.6M292 142l4.3-3M300 158l3.6-2.6"/>
<path class="kgr w5" d="M288 154l2.7-2.4"/>
<path class="kgr w6" d="M289 168l6.6-5.6M295 135l1.8-1.2M302 162l2-1.2"/>
<path class="klb w3" d="M288 150l4.6-3.5M294 166l4.8-3.4"/>
<path class="klb w4" d="M287 141l3.2-1.9"/>
<path class="klb w5" d="M304 131l3-1.8"/>
<path class="klb w6" d="M300 156l7.2-5M300 137l6.3-5.3"/>
<path class="kb w3" d="M293 143l4.2-2.7M297 153l1.6-1.3M289 159l4.7-3.8"/>
<path class="kb w5" d="M296 136l3.8-2.7M288 151l6.6-4.3"/>
<path class="kb w6" d="M296 144l3.5-2.2"/>
<path class="klg w3" d="M287 149l1.6-1.1"/>
<path class="klg w4" d="M302 161l4.3-3.3"/>
<path class="klg w5" d="M299 170l6.6-3.9"/>
<path class="klg w6" d="M288 161l6.8-4.7"/>
<path class="ky w3" d="M292 160l6.6-4.3M299 162l6.3-4.3"/>
<path class="ky w4" d="M285 146l1.8-1.3M284 143l5.5-4.5"/>
<path class="ky w5" d="M289 156l5.1-3.6M290 169l3.9-2.9M291 166l1.8-1.5"/>
<path class="ky w6" d="M284 155l6.5-5.7M296 153l6.8-4.5"/>
<path class="kt w3" d="M298 135l7.1-4.7M303 140l4.3-3.5M288 162l3.6-2.2"/>
<path class="kt w4" d="M303 160l2.1-1.4"/>
<path class="kt w5" d="M302 163l5.6-4.1M289 144l3.1-1.9"/>
<path class="kt w6" d="M298 147l1.9-1.3"/>
<path d="M289 146L296 138L306 135L306 168L298 168L291 162L289 154Z" fill="#f0d860"/>
<path class="ko w4" d="M297 166l4.7-3.9M292 156l2.6-1.7"/>
<path class="ko w5" d="M300 159l2.2-1.7"/>
<path class="klg w3" d="M304 163l2.2-1.8M301 146l5.9-4"/>
<path class="klg w5" d="M298 160l2.4-1.4M295 163l7.6-4.9M300 162l4.9-3.6"/>
<path class="klg w6" d="M300 147l3.3-2"/>
<path class="kgr w3" d="M304 158l2.5-2.1"/>
<path class="kgr w4" d="M293 155l4-2.8M301 146l5.4-3.4M301 156l5.5-3.6"/>
<path class="ky w3" d="M302 164l7-4.6M300 163l6.9-5.7M294 167l7.3-4.3M291 152l3-1.9"/>
<path class="ky w4" d="M290 159l5.6-4.3M296 157l4.2-2.7"/>
<path class="ky w5" d="M293 155l3.4-2M286 154l6.6-5.3M289 162l4.8-3.6M299 168l3-2.6M287 154l4.4-2.6"/>
<path class="ky w6" d="M289 160l5.6-4.1M292 160l2.3-1.4"/>
<path class="kbr w5" d="M299 163l6.9-5.5M289 161l2.7-2.2M292 158l3-2.2"/>
<path class="kbr w6" d="M296 146l4-3.3M299 142l6.8-4.8"/>
<ellipse cx="296.0" cy="158.0" rx="3.0" ry="3.0" transform="rotate(0.0 296.0 158.0)" fill="#f0b020"/>
<ellipse cx="302.0" cy="166.0" rx="2.5" ry="2.5" transform="rotate(0.0 302.0 166.0)" fill="#f0b020"/>
<ellipse cx="298.0" cy="152.0" rx="2.0" ry="2.0" transform="rotate(0.0 298.0 152.0)" fill="#c08838"/>
<ellipse cx="296.0" cy="159.0" rx="1.5" ry="1.5" transform="rotate(0.0 296.0 159.0)" fill="#8c5a40"/>
<ellipse cx="302.0" cy="145.0" rx="2.0" ry="2.0" transform="rotate(0.0 302.0 145.0)" fill="#f0b020"/>
<ellipse cx="292.0" cy="150.0" rx="2.0" ry="2.0" transform="rotate(0.0 292.0 150.0)" fill="#c0e0c0"/>
<path class="klb w3" d="M262 185l10.6-9.5M256 190l6-5.2"/>
<path class="klb w4" d="M271 180l11.6-7.1"/>
<path class="klb w5" d="M254 192l10.4-9.3M269 180l10.4-7.5"/>
<path class="klb w6" d="M248 198l8.1-5.7M273 180l10.6-6.1"/>
<path class="kg w3" d="M247 197l10.1-8.6M263 190l10.3-7.9M258 193l13-8.8"/>
<path class="kg w4" d="M243 199l10.1-6.7M256 193l11.9-7.3M240 203l11.2-7.5M263 190l8-6.1M257 196l11.2-9.6"/>
<path class="kg w5" d="M253 194l8.8-7.6M258 189l13.2-9.4M250 194l10.5-9.3M262 191l14-10"/>
<path class="kg w6" d="M243 200l9.8-7.7M268 178l7.2-5.9M262 182l11.9-7.3M247 204l4.9-3.8M251 199l14.5-10.3"/>
<path d="M242 214L250 202L262 192L272 184L282 176L292 168L300 162L306 160L306 172L296 180L284 190L272 202L260 212L248 220Z" fill="#b8c4ec"/>
<path d="M245 212L253 202L264 194L274 186L284 178L294 170L302 165L306 163L306 168L295 177L283 187L271 198L259 209L248 217Z" fill="#5058d8"/>
<path d="M248 211L256 202L266 195L276 188L286 180L296 172L304 167L304 170L294 178L282 188L270 198L258 208L250 214Z" fill="#50969a"/>
<path class="kgr w3" d="M255 204l4.4-3.6"/>
<path class="kgr w4" d="M268 199l4.7-3.9"/>
<path class="kgr w5" d="M255 208l4.5-3.2"/>
<path class="klb w3" d="M286 183l6.6-5"/>
<path class="klb w4" d="M264 201l4.5-3.8"/>
<path class="klb w6" d="M290 179l6.1-4.1"/>
<path class="kb w5" d="M264 198l6.3-3.9M283 184l3.9-3.3M249 210l5.5-4.6"/>
<path class="kb w6" d="M280 185l7.2-4.4M256 203l1.7-1.2"/>
<path class="klg w6" d="M260 203l6.6-4.4"/>
<path class="ky w3" d="M249 214l7.3-4.5M265 198l1.9-1.5M289 180l5-3.9"/>
<path class="ky w5" d="M255 207l6.9-4.1M273 193l3-2.5"/>
<path class="ky w6" d="M294 175l3.3-2.3"/>
<path class="kt w3" d="M280 188l2.4-1.7M287 182l2.6-1.7"/>
<path d="M252 209L259 202L268 197L278 190L288 182L298 175L292 179L281 188L268 198L257 206Z" fill="#f0d860"/>
<ellipse cx="269.0" cy="191.0" rx="2.5" ry="2.5" transform="rotate(0.0 269.0 191.0)" fill="#f0b020"/>
<ellipse cx="270.0" cy="191.0" rx="1.2" ry="1.2" transform="rotate(0.0 270.0 191.0)" fill="#f05080"/>
<ellipse cx="262.0" cy="200.0" rx="2.0" ry="2.0" transform="rotate(0.0 262.0 200.0)" fill="#f0b020"/>
<ellipse cx="284.0" cy="184.0" rx="2.0" ry="2.0" transform="rotate(0.0 284.0 184.0)" fill="#f0b020"/>
<ellipse cx="264.0" cy="199.0" rx="1.0" ry="1.0" transform="rotate(0.0 264.0 199.0)" fill="#f05080"/>
<ellipse cx="300.0" cy="188.0" rx="2.5" ry="2.0" transform="rotate(0.0 300.0 188.0)" fill="#b8c4ec"/>
<ellipse cx="300.0" cy="188.0" rx="2.1" ry="1.7" transform="rotate(0.0 300.0 188.0)" fill="#5058d8"/>
<ellipse cx="300.0" cy="188.0" rx="1.8" ry="1.4" transform="rotate(0.0 300.0 188.0)" fill="#008000"/>
<ellipse cx="296.0" cy="196.0" rx="2.0" ry="1.5" transform="rotate(0.0 296.0 196.0)" fill="#b8c4ec"/>
<path d="M202 216L210 210L222 209L234 213L238 222L234 231L202 231Z" fill="#b8c4ec"/>
<path d="M205 218L212 212L222 212L232 216L235 223L232 231L205 231Z" fill="#50969a"/>
<path class="kgr w3" d="M227 231l2.7-1.9M229 221l5.5-3.4M210 230l2.4-2"/>
<path class="kgr w4" d="M207 218l2.7-2.1M218 226l6-3.6"/>
<path class="kgr w5" d="M206 222l4.2-3.3M209 223l4.4-3.6M225 222l5.7-3.4M224 223l4.2-2.6"/>
<path class="kgr w6" d="M225 230l4-3M218 221l6-3.9"/>
<path class="klb w4" d="M214 219l3.6-2.5M205 224l1.6-1.4"/>
<path class="klb w5" d="M229 218l3.9-3M216 224l3.4-2.5"/>
<path class="klb w6" d="M215 214l2.8-1.9M213 230l3.4-2.1M227 221l5.1-3.2"/>
<path class="kb w3" d="M223 224l6.1-4.3"/>
<path class="kb w4" d="M220 228l2.3-1.7M214 220l1.5-1.3M225 221l4.5-3.7"/>
<path class="kb w6" d="M207 229l6.5-4.9M226 220l3.9-2.4"/>
<path class="klg w3" d="M217 232l4-2.9M205 232l6.7-3.9"/>
<path class="klg w6" d="M207 229l7.1-5.2"/>
<path class="ky w3" d="M219 227l4.6-2.8"/>
<path class="ky w5" d="M216 224l3.7-3.2M216 215l4.1-3.2"/>
<path class="ky w6" d="M207 216l2.7-1.6"/>
<path class="kt w5" d="M217 227l6.7-4.2M223 224l2-1.5"/>
<path class="kt w6" d="M204 228l2.5-2.1"/>
<path d="M208 220L214 215L222 215L230 219L231 231L208 231Z" fill="#f0d860"/>
<path class="ko w3" d="M211 226l6-5.3"/>
<path class="ko w4" d="M210 225l4.5-3.9M216 229l3.1-2.1M208 230l3.3-2.5"/>
<path class="ko w6" d="M214 229l6.7-4.8M217 219l2.3-1.8"/>
<path class="klg w4" d="M227 230l4.5-3.8"/>
<path class="klg w5" d="M226 230l4.7-3.2"/>
<path class="klg w6" d="M215 227l5.1-3.7M219 223l2.9-2.2"/>
<path class="kgr w6" d="M210 222l5-3.2M219 218l1.8-1.4M217 219l5.8-4.7M213 225l6.9-5.4"/>
<path class="ky w4" d="M212 218l6-5.1M211 231l5.8-3.4"/>
<path class="ky w5" d="M223 220l5.1-3.3M221 220l4.2-2.5M223 221l5.8-3.4"/>
<path class="kbr w3" d="M210 220l2.3-1.7"/>
<path class="kb w5" d="M220 219l6.9-5.4M210 219l3.6-2.8"/>
<ellipse cx="220.0" cy="224.0" rx="3.0" ry="3.0" transform="rotate(0.0 220.0 224.0)" fill="#f0b020"/>
<ellipse cx="220.0" cy="226.0" rx="2.0" ry="2.0" transform="rotate(0.0 220.0 226.0)" fill="#8c5a40"/>
<ellipse cx="228.0" cy="226.0" rx="2.0" ry="2.0" transform="rotate(0.0 228.0 226.0)" fill="#f0b020"/>
<path d="M170 180L180 172L194 170L204 176L206 190L200 202L186 204L172 198Z" fill="#b8c4ec"/>
<path d="M173 182L182 175L194 173L202 178L203 190L197 199L186 201L175 196Z" fill="#50969a"/>
<path class="kgr w3" d="M181 189l4-2.6M185 187l3.3-2.5M189 178l4-3.4M183 193l2.6-1.8M183 182l7.4-5M185 192l6.6-5.3"/>
<path class="kgr w4" d="M191 190l5.8-3.6M186 197l3.6-3.2M196 176l3.2-2.4M194 180l3.1-1.8"/>
<path class="kgr w5" d="M191 195l6-4.7M197 196l5.6-3.4M200 191l4-3.3M180 177l2.7-1.9"/>
<path class="kgr w6" d="M199 192l4.6-2.6M194 189l3.2-2.5M195 178l5.4-4.7M189 201l6.2-3.9M178 186l6.5-4.1M189 183l4.7-2.7"/>
<path class="klb w3" d="M186 188l3.4-2.5M194 189l1.6-1.3M193 182l1.8-1.4M180 183l2.2-1.7"/>
<path class="klb w4" d="M189 175l3.7-2.1"/>
<path class="klb w5" d="M175 187l2.3-1.9"/>
<path class="klb w6" d="M194 185l6.4-5.3M186 179l3.8-2.6M183 180l1.6-1.4"/>
<path class="kb w3" d="M193 175l2.4-1.5"/>
<path class="kb w4" d="M192 197l1.9-1.6"/>
<path class="kb w5" d="M195 178l1.7-1.4M187 193l4.1-3.2M193 200l3.8-2.5"/>
<path class="klg w6" d="M191 198l3.2-2.7M191 177l6.2-4.4"/>
<path class="ky w3" d="M190 201l5.1-4.2M194 196l4.3-3.8M193 187l2.5-1.5"/>
<path class="ky w4" d="M172 188l4.8-4.3M192 183l2.4-1.5"/>
<path class="ky w5" d="M182 196l6-4.6M196 192l3.4-2.3"/>
<path class="ky w6" d="M191 200l6-4.3"/>
<path class="kt w5" d="M195 194l2.4-2"/>
<path d="M177 184L184 178L193 177L199 181L200 190L195 196L186 197L178 193Z" fill="#f0d860"/>
<path class="ko w3" d="M192 182l3.5-2.1"/>
<path class="ko w4" d="M187 183l2-1.3M189 194l5.1-3.1"/>
<path class="ko w5" d="M185 189l4.8-3.3M183 197l6.7-5.3M183 195l6.4-4.8M184 193l5.5-4.1"/>
<path class="klg w3" d="M189 187l3.2-2.5M177 192l3-2.1"/>
<path class="klg w4" d="M181 184l4.2-3.3M193 193l7.2-4.6"/>
<path class="klg w5" d="M187 183l5.8-3.5M184 179l4.5-2.6M194 187l3.9-2.8"/>
<path class="klg w6" d="M187 181l6.3-3.7M187 182l2.1-1.2M188 185l3-2.5"/>
<path class="kgr w3" d="M179 187l6.7-5.9"/>
<path class="kgr w4" d="M191 181l7.2-4.8"/>
<path class="kgr w5" d="M185 189l2-1.2"/>
<path class="ky w4" d="M191 184l4-3.1M188 189l7-4.9M188 195l6.6-4.4"/>
<path class="kbr w3" d="M187 184l3.8-3.1"/>
<path class="kbr w6" d="M180 182l5.2-4.2"/>
<ellipse cx="184.0" cy="188.0" rx="3.0" ry="3.0" transform="rotate(0.0 184.0 188.0)" fill="#f0b020"/>
<ellipse cx="194.0" cy="186.0" rx="2.5" ry="3.0" transform="rotate(0.0 194.0 186.0)" fill="#f0b020"/>
<ellipse cx="190.0" cy="193.0" rx="2.0" ry="2.0" transform="rotate(0.0 190.0 193.0)" fill="#c08838"/>
<ellipse cx="188.0" cy="181.0" rx="2.0" ry="1.5" transform="rotate(0.0 188.0 181.0)" fill="#c0e0c0"/>
<path class="klb w4" d="M133 171l1-.7M167 144l.9-.3M186 147l.6-.3M192 140l.7-.5M171 157l.9-.6"/>
<path class="klb w5" d="M186 158l.7-.2M226 78l1.3-1M221 80l.6-.4M227 85l1-.7M214 90l1.1-.6"/>
<path class="klb w6" d="M118 174l1.9-1.1M100 167l1-.6M99 168l.9-.4M112 166l1.3-.4M108 174l1.5-1.2M183 151l1.5-.7M169 157l.5-.4M172 143l2.2-.6M154 152l1.4-.5M200 150l1-.6M204 158l1.3-.8M211 148l1.5-1.2M219 81l.4-.1M220 71l1.4-.5M223 76l.4-.1"/>
<path class="klb w7" d="M183 203l.7-.6M187 195l1-.7M160 220l1.3-.7M102 174l1.2-.9M124 166l.3-.1M109 175l1.3-1.1M135 167l1.9-1.4M133 168l1-.3M126 168l.8-.6M100 166l1.9-1.1M136 169l1.3-.7M200 143l1.6-.5M209 147l.4-.3M175 143l.5-.2M158 154l.8-.3M209 145l1.5-.9M198 153l.7-.4M144 228l1.4-.5M226 73l2.6-.8"/>
<path class="klb w8" d="M161 192l1.8-.8M168 182l.9-.5M170 182l2.6-1M156 201l1.3-.4M166 216l1.7-1.2M78 216l2.3-.7M87 221l2.5-1.2M88 220l.9-.7M85 210l2.2-.9M80 200l.5-.2M88 203l1.7-1.2M130 172l1.3-.6M122 175l1-.6M111 169l.6-.3M212 142l1.2-.4M179 145l.4-.2M205 139l1.3-.5M168 147l1.7-.5M202 150l2.5-.7M172 231l1.4-.6M264 227l2-1.2"/>
<path class="klb w9" d="M167 196l2.1-1.3M176 220l2.7-1M174 181l2.4-1.5M184 211l2.5-1.5M140 184l.7-.3M96 209l2.1-1.1M99 219l1.1-.4M51 223l1.4-1.1M86 216l1-.6M47 219l1.5-1M61 226l1.3-.5M44 223l1.7-.9M92 216l1.4-.9M83 209l1.4-1M92 203l1.8-.9M99 169l1.1-.4M198 145l2-.9M192 223l2.5-1.2M168 229l.9-.6M185 229l.9-.3M195 225l1-.5M180 226l2-1.3M265 194l1.4-.6"/>
<path class="klb w10" d="M189 216l1.2-.4M161 212l1-.5M145 220l3.1-1.6M176 194l.9-.3M159 199l2.8-1.3M187 215l1.3-.6M164 207l1-.7M176 217l2.5-1.6M182 215l1.5-1.2M194 213l1-.8M148 207l2.2-1.7M160 183l2.4-.8M85 210l.9-.7M52 212l1.9-.6M107 217l1.3-.7M101 213l3-1.8M94 211l2.5-1.3M85 201l1.4-.7M79 207l.6-.2M168 226l2-.7M180 228l2.4-1.1M161 226l2-1.2M152 227l3.3-1.7M147 231l1.5-1M291 188l.9-.5M281 210l1.3-.6M288 183l2.1-1.1"/>
<path class="klb w11" d="M178 190l2.3-.7M147 196l1.4-.6M201 211l1.6-.8M160 180l.7-.4M145 211l3.1-1.1M147 212l1.8-1.5M172 181l.8-.6M154 173l1.6-.9M290 177l2-.8M269 205l3-1M276 190l1.9-.7M298 176l1-.8M296 171l1.4-1.1"/>
<path class="klb w12" d="M148 187l2.8-2.1M194 198l1.2-.4M162 183l2.8-2M177 201l.7-.3M198 205l1-.4M193 211l3.3-1.5M165 190l2.1-1M144 215l2.1-1.3M202 205l1.1-.5M159 184l4.3-1.4M193 213l.9-.6M183 211l2.2-1.3M141 209l1.2-.3M154 193l2-1.4M200 220l1.7-.9M140 191l2.1-1.6M173 200l2.1-1.2M178 185l1.5-.5M192 219l1.5-.4M141 196l2.3-1.5M154 175l2.9-1.2M174 174l1.8-.7M41 219l3-1.1M95 224l1.6-1.3M90 226l1.5-.9M79 210l1.1-.6M44 222l1.3-1M91 226l2.8-1.4M102 223l2.9-2.4M49 228l1.2-.5M82 212l1.5-.6M145 228l1.4-.6M172 226l2.7-1M187 223l1.4-1M250 227l1.2-.5"/>
<path class="klb w13" d="M191 206l1.2-.7M180 215l2.5-1.4M158 201l4-1.2M160 197l1.3-.6M140 208l1.8-.6M189 202l1.8-.7M158 208l3.2-2.6M164 209l3-2M171 186l1.6-.6M169 183l1.9-.9M164 222l2-.7M143 204l3.6-1.2M140 202l1.3-.9M171 184l1.3-.8M190 216l2.2-1.2M149 183l4.1-1.3M175 176l1.1-.4M156 177l3.6-1.6M151 179l1.8-1.2M43 228l1.5-1M90 219l2.8-.8M86 227l1.6-.5M99 226l1.7-.7M54 213l3-2.5M55 226l3.3-1.2M92 200l2.5-1.6M281 208l1.2-.3"/>
<path class="klb w14" d="M150 194l4-1.5M144 222l2.2-1.6M158 196l3.9-3M146 190l1-.8M192 203l1.7-1.1M151 181l2.4-1.7M103 224l1.7-.7M59 216l3.9-2.9M97 212l3.8-2.8M55 221l1.5-.9M90 212l4.7-1.3M266 216l2.2-1M294 174l3.2-2.1M261 200l3.3-2.3M291 188l2.8-2.3"/>
<path class="klb w15" d="M182 221l3.1-1.7M149 220l2.2-.8M161 203l1.4-.5M155 174l1.6-1M171 176l2.8-1.3M168 182l3-1.1M72 211l1.4-1M80 214l2.1-1M75 215l3-2.1M105 228l3.5-1.7M284 208l1.1-.9M263 221l3.9-2.3M286 200l1.9-.7M259 231l3.8-2.5M268 203l1.1-.7M281 202l4.6-1.3M242 225l4.6-1.6"/>
<path class="klb w16" d="M144 212l3.4-2M301 174l2.7-2.2M283 205l3.7-1.1M275 190l1.2-.8M297 178l2.7-1M248 227l1.7-1.1"/>
<path class="klb w17" d="M298 194l5-1.7M241 223l1.8-.7"/>
<path class="klb w18" d="M253 224l4.6-1.4M251 216l2.9-2.2M254 217l5.5-1.7"/>
<path class="kb w3" d="M99 168l1.1-.5M112 166l1.5-.5M108 174l1.6-1.3M183 151l1.7-.8M200 150l1.2-.7M219 71l1.5-.6"/>
<path class="kb w4" d="M187 195l1.2-.8M102 174l1.4-1M118 174l1.6-.9M124 166l.5-.2M100 167l.8-.5M109 176l1.5-1.2M200 143l1.8-.6M172 143l1.9-.5M209 147l.6-.4M175 143l.6-.3M209 145l1.6-1.1M205 157l1.1-.7M198 153l.9-.5M211 148l1.3-1"/>
<path class="kb w5" d="M183 203l.5-.4M168 182l1.1-.6M155 201l1.4-.5M160 220l1-.6M77 216l2.5-.7M85 210l2.3-.9M80 201l.7-.3M88 203l1.9-1.3M135 167l1.6-1.2M133 168l.7-.2M130 172l1.5-.7M126 168l.6-.4M100 166l1.6-1M122 175l1.1-.7M136 169l1-.6M111 169l.8-.4M178 145l.6-.3M158 154l.5-.2M172 231l1.6-.7M144 228l1.1-.4M226 73l2.3-.7"/>
<path class="kb w6" d="M161 191l1.6-.7M170 182l2.3-.9M173 181l2.6-1.6M166 216l1.4-1M96 209l2.3-1.2M51 223l1.5-1.2M86 216l1.1-.7M87 221l2.2-1.1M88 220l.7-.5M44 223l1.9-1M92 216l1.6-1M83 209l1.6-1.1M98 169l1.3-.5M212 142l1-.3M198 145l2.2-1M205 139l1-.4M169 147l1.4-.4M202 150l2.2-.6M264 227l1.7-1"/>
<path class="kb w7" d="M161 212l1.2-.6M176 194l1.1-.3M159 199l3-1.4M187 215l1.5-.7M176 217l2.6-1.7M167 196l1.8-1.1M176 220l2.4-.9M185 211l2.2-1.4M182 215l1.7-1.3M194 213l1.2-.9M148 207l2.4-1.8M140 184l.5-.2M160 183l2.6-.9M99 218l.8-.3M48 219l1.3-.8M61 226l1-.4M52 212l2.1-.7M101 213l3.1-1.9M92 203l1.6-.7M85 201l1.6-.8M79 207l.8-.3M168 226l2.2-.7M192 223l2.3-1.1M168 229l.7-.4M180 228l2.5-1.2M161 226l2.2-1.3M185 229l.6-.2M195 225l.8-.3M147 231l1.6-1.1M180 226l1.7-1.2M265 194l1.2-.5M290 188l1.1-.6M281 210l1.5-.7M288 183l2.3-1.2"/>
<path class="kb w8" d="M189 216l.9-.3M178 190l2.5-.8M146 220l2.8-1.5M147 196l1.5-.6M164 207l.8-.5M201 211l1.8-.9M160 180l.9-.5M146 212l1.9-1.6M154 173l1.8-1M85 210l.7-.5M107 217l1.1-.5M95 211l2.3-1.2M152 227l3-1.6M269 205l3.2-1.1M276 190l2.1-.7M298 176l1.2-1"/>
<path class="kb w9" d="M148 187l3-2.2M162 183l3-2.1M176 201l.9-.4M198 205l1.2-.5M193 211l3.4-1.6M165 190l2.3-1M202 206l1.3-.5M183 211l2.3-1.4M154 193l2.2-1.5M173 200l2.2-1.3M146 211l2.8-1M178 185l1.7-.5M192 219l1.7-.5M172 181l.5-.4M154 175l3.1-1.3M41 219l3.2-1.2M44 222l1.5-1.2M91 226l2.9-1.5M49 228l1.4-.6M82 212l1.6-.7M172 226l2.9-1.1M290 177l1.7-.7M296 171l1.1-.9"/>
<path class="kb w10" d="M194 198l.9-.3M191 206l1.3-.8M160 197l1.5-.7M140 208l1.9-.7M144 215l1.8-1.1M159 184l4-1.3M193 213l.7-.4M142 209l.9-.3M163 210l3.2-2.2M200 220l1.4-.8M169 183l2-1M140 191l1.9-1.4M140 202l1.5-1M141 196l2.1-1.3M149 183l4.3-1.3M175 176l1.3-.4M174 174l1.5-.5M156 177l3.8-1.7M151 179l2-1.3M43 228l1.7-1.1M89 219l3-.8M86 227l1.8-.6M95 224l1.4-1.1M90 226l1.3-.8M80 210l.8-.5M99 226l1.9-.8M54 213l3.2-2.6M55 226l3.5-1.3M102 223l2.7-2.2M92 200l2.7-1.7M145 228l1.1-.5M187 223l1.2-.8M250 227l.9-.4M281 208l1.4-.4"/>
<path class="kb w11" d="M181 215l2.2-1.3M158 201l3.7-1.1M189 202l1.5-.6M158 208l3-2.4M171 186l1.3-.5M165 222l1.8-.6M143 204l3.3-1.1M171 184l1-.6M190 216l1.9-1.1M103 224l1.9-.7M97 212l4-2.9M55 221l1.7-1M90 212l4.9-1.4M294 175l3.3-2.2"/>
<path class="kb w12" d="M150 194l3.8-1.4M145 222l1.9-1.4M158 196l3.7-2.9M149 220l2.4-.9M146 190l.8-.7M192 203l1.5-.9M171 176l3-1.4M151 181l2.1-1.6M72 211l1.6-1.1M80 214l2.3-1M59 216l3.7-2.7M105 228l3.7-1.8M266 216l1.9-.9M284 209l1.3-1M263 221l4.1-2.4M286 200l2.1-.8M259 231l4-2.7M261 200l3.1-2.1M291 188l2.6-2.1"/>
<path class="kb w13" d="M182 221l2.9-1.6M161 203l1.1-.4M144 212l3.6-2.1M155 174l1.4-.9M168 182l2.7-1M76 215l2.7-2M300 174l2.8-2.3M282 205l3.9-1.2M275 190l1.3-.9M297 178l2.9-1M268 203l.9-.5M281 202l4.4-1.2M248 227l1.8-1.2M242 225l4.3-1.5"/>
<path class="kb w14" d="M241 223l1.9-.7"/>
<path class="kb w15" d="M298 194l4.8-1.6M254 217l5.7-1.8"/>
<path class="kb w16" d="M253 224l4.3-1.3M252 216l2.6-2.1"/>
<path class="kgr w2" d="M135 167l1.8-1.3M122 175l1.3-.9M111 169l1-.5"/>
<path class="kgr w3" d="M130 172l1.2-.5M212 142l1.1-.3M205 139l1.2-.4M168 147l1.6-.5M202 150l2.4-.7"/>
<path class="kgr w4" d="M158 199l3.2-1.5M186 215l1.7-.7M167 196l2-1.2M176 220l2.6-1M184 211l2.4-1.5M140 184l.6-.3M96 209l2-1.1M99 219l1-.3M51 223l1.3-1M86 216l.9-.5M47 219l1.4-.9M61 226l1.2-.4M52 212l2.3-.7M44 223l1.6-.9M92 216l1.3-.9M83 209l1.3-.9M92 203l1.7-.8M79 207l.9-.4M99 169l1-.4M198 145l1.9-.9M192 223l2.4-1.2M168 229l.9-.6M180 228l2.7-1.3M185 229l.8-.3M195 225l1-.4M180 226l1.9-1.3M265 194l1.3-.6M281 210l1.7-.8"/>
<path class="kgr w5" d="M189 216l1.1-.3M161 212l.9-.5M145 220l3-1.5M147 196l1.7-.7M176 194l.8-.2M164 207l1-.7M176 217l2.4-1.5M182 215l1.4-1.1M194 213l1-.7M148 207l2.2-1.7M154 173l2-1.2M160 183l2.3-.8M85 210l.8-.7M107 217l1.2-.6M101 213l2.9-1.8M94 211l2.5-1.3M85 201l1.3-.6M168 226l1.9-.6M161 226l1.9-1.1M152 227l3.2-1.6M147 231l1.4-.9M269 205l3.4-1.2M291 188l.8-.5M288 183l2-1"/>
<path class="kgr w6" d="M176 201l1-.5M193 211l3.6-1.7M178 190l2.3-.7M201 211l1.5-.8M160 180l.6-.4M146 211l3-1.1M192 219l1.9-.6M147 212l1.7-1.4M172 181l.7-.5M41 219l3.4-1.3M44 222l1.6-1.3M172 226l3.1-1.1M290 177l1.9-.8M276 190l1.8-.6M298 176l1-.8M296 171l1.3-1"/>
<path class="kgr w7" d="M148 187l2.7-2M194 198l1.1-.4M162 183l2.7-1.9M198 205l.9-.4M165 190l2-.9M144 215l2-1.2M202 205l1.1-.4M159 184l4.2-1.4M193 213l.8-.5M183 211l2.1-1.3M142 209l1.1-.3M163 210l3.4-2.3M154 193l1.9-1.4M200 220l1.6-.9M140 191l2.1-1.5M173 200l2-1.2M178 185l1.4-.4M140 203l1.6-1.1M141 196l2.3-1.4M154 175l2.8-1.2M174 174l1.7-.6M156 177l4-1.7M95 224l1.5-1.2M90 226l1.4-.9M80 210l1-.6M91 226l2.7-1.3M55 226l3.7-1.4M102 223l2.9-2.3M49 228l1.1-.5M82 212l1.4-.6M145 228l1.3-.6M187 223l1.3-.9M250 227l1.1-.5"/>
<path class="kgr w8" d="M191 206l1.1-.6M181 215l2.4-1.4M158 201l3.9-1.2M160 197l1.2-.6M140 208l1.7-.6M189 202l1.7-.7M158 208l3.1-2.6M171 186l1.5-.5M169 183l1.8-.9M164 222l2-.6M143 204l3.5-1.1M171 184l1.2-.7M190 216l2.1-1.2M149 183l4-1.2M175 176l1-.4M151 179l1.7-1.1M43 228l1.4-.9M90 219l2.7-.7M86 227l1.5-.5M99 226l1.6-.7M54 213l2.9-2.4M92 200l2.4-1.5M294 175l3.5-2.3M281 208l1.1-.3"/>
<path class="kgr w9" d="M150 194l3.9-1.5M144 222l2.1-1.5M158 196l3.8-3M146 190l1-.8M192 203l1.7-1M151 181l2.3-1.7M103 224l1.6-.6M80 214l2.5-1.1M59 216l3.9-2.9M97 212l3.7-2.7M55 221l1.4-.8M90 212l4.6-1.3M266 216l2.1-1M284 209l1.4-1.1M259 231l4.1-2.8M261 200l3.2-2.2M291 188l2.7-2.2"/>
<path class="kgr w10" d="M182 221l3.1-1.7M149 220l2.1-.8M161 203l1.3-.4M155 174l1.6-1M171 176l2.7-1.2M168 182l2.9-1.1M72 211l1.3-.9M75 215l2.9-2.1M106 228l3.5-1.7M263 221l3.8-2.3M286 200l1.8-.7M268 203l1-.6M281 202l4.6-1.2M248 227l2-1.4M242 225l4.5-1.5"/>
<path class="kgr w11" d="M144 212l3.3-1.9M301 174l2.6-2.1M283 205l3.6-1.1M241 223l2.1-.8M275 190l1.1-.7M298 178l2.6-.9"/>
<path class="kgr w12" d="M298 194l5-1.7"/>
<path class="kgr w13" d="M253 224l4.5-1.4M251 216l2.8-2.2M254 217l5.4-1.7"/>
<path class="ky w4" d="M148 187l2.8-2.1M194 198l1.2-.4M162 183l2.8-2M177 201l.7-.3M198 205l1-.4M193 211l3.3-1.5M165 190l2.1-1M144 215l2.1-1.3M202 205l1.1-.5M159 184l4.3-1.4M193 213l.9-.6M183 211l2.2-1.3M141 209l1.2-.3M154 193l2-1.4M200 220l1.7-.9M140 191l2.1-1.6M173 200l2.1-1.2M178 185l1.5-.5M192 219l1.5-.4M141 196l2.3-1.5M154 175l2.9-1.2M174 174l1.8-.7M41 219l3-1.1M95 224l1.6-1.3M90 226l1.5-.9M79 210l1.1-.6M44 222l1.3-1M91 226l2.8-1.4M102 223l2.9-2.4M49 228l1.2-.5M82 212l1.5-.6M145 228l1.4-.6M172 226l2.7-1M187 223l1.4-1M250 227l1.2-.5"/>
<path class="ky w5" d="M191 206l1.2-.7M180 215l2.5-1.4M158 201l4-1.2M160 197l1.3-.6M140 208l1.8-.6M189 202l1.8-.7M158 208l3.2-2.6M164 209l3-2M171 186l1.6-.6M169 183l1.9-.9M164 222l2-.7M143 204l3.6-1.2M140 202l1.3-.9M171 184l1.3-.8M190 216l2.2-1.2M149 183l4.1-1.3M175 176l1.1-.4M156 177l3.6-1.6M151 179l1.8-1.2M43 228l1.5-1M90 219l2.8-.8M86 227l1.6-.5M99 226l1.7-.7M54 213l3-2.5M55 226l3.3-1.2M92 200l2.5-1.6M281 208l1.2-.3"/>
<path class="ky w6" d="M150 194l4-1.5M144 222l2.2-1.6M158 196l3.9-3M146 190l1-.8M192 203l1.7-1.1M151 181l2.4-1.7M103 224l1.7-.7M59 216l3.9-2.9M97 212l3.8-2.8M55 221l1.5-.9M90 212l4.7-1.3M266 216l2.2-1M294 174l3.2-2.1M261 200l3.3-2.3M291 188l2.8-2.3"/>
<path class="ky w7" d="M182 221l3.1-1.7M149 220l2.2-.8M161 203l1.4-.5M155 174l1.6-1M171 176l2.8-1.3M168 182l3-1.1M72 211l1.4-1M80 214l2.1-1M75 215l3-2.1M105 228l3.5-1.7M284 208l1.1-.9M263 221l3.9-2.3M286 200l1.9-.7M259 231l3.8-2.5M268 203l1.1-.7M281 202l4.6-1.3M242 225l4.6-1.6"/>
<path class="ky w8" d="M144 212l3.4-2M301 174l2.7-2.2M283 205l3.7-1.1M275 190l1.2-.8M297 178l2.7-1M248 227l1.7-1.1"/>
<path class="ky w9" d="M298 194l5-1.7M241 223l1.8-.7"/>
<path class="ky w10" d="M253 224l4.6-1.4M251 216l2.9-2.2M254 217l5.5-1.7"/>
<path class="ko w3" d="M150 194l4.1-1.5M146 190l1.1-.9M192 203l1.8-1.1M151 181l2.4-1.8M103 224l1.8-.7M59 216l4-3M97 212l3.9-2.8M55 221l1.6-.9M90 212l4.8-1.3M261 201l3.4-2.3"/>
<path class="ko w4" d="M145 222l1.8-1.3M158 196l3.6-2.8M149 220l2.3-.9M161 203l1.5-.5M155 174l1.7-1.1M171 176l2.9-1.3M168 182l3.1-1.2M72 211l1.5-1M80 214l2.2-1M75 215l3-2.2M105 228l3.6-1.8M266 216l1.8-.9M284 208l1.2-1M263 221l4-2.4M286 200l2-.8M259 231l3.9-2.6M268 203l1.2-.7M281 202l4.7-1.3M291 187l2.5-2M242 225l4.7-1.6"/>
<path class="ko w5" d="M182 221l2.8-1.5M144 212l3.5-2M300 174l2.7-2.3M282 205l3.8-1.2M275 190l1.3-.8M297 178l2.8-1M248 227l1.8-1.2"/>
<path class="ko w6" d="M298 194l5.1-1.7M241 223l1.8-.7"/>
<path class="ko w7" d="M254 217l5.6-1.8"/>
<path class="ko w8" d="M253 224l4.2-1.3M252 216l2.6-2"/>
<path class="kdbr w4" d="M298 194l5.1-1.7M241 223l1.8-.7"/>
<path class="kdbr w5" d="M254 217l5.6-1.8"/>
<path class="kdbr w6" d="M253 224l4.2-1.3M252 216l2.6-2"/>
<use href="#mapg"/>
</g>
<rect x="0.5" y="0.5" width="305" height="231" fill="none" stroke="#555" stroke-width="1"/>
<rect x="5.5" y="3.5" width="15" height="21" fill="#fff" stroke="#555" stroke-width="1"/>
<text class="t" x="13.5" y="17.6" font-size="13.5" text-anchor="middle">4</text>
</g>
<g transform="translate(0,243)">
<g clip-path="url(#cp1)" stroke-linecap="round">
<ellipse cx="286.4" cy="58.1" rx="6.0" ry="1.4" transform="rotate(-40.0 286.4 58.1)" fill="#b8c4ec"/>
<ellipse cx="286.9" cy="58.1" rx="2.2" ry="1.1" transform="rotate(-40.0 286.9 58.1)" fill="#5058d8"/>
<ellipse cx="291.7" cy="53.6" rx="4.2" ry="1.5" transform="rotate(-40.0 291.7 53.6)" fill="#b8c4ec"/>
<ellipse cx="292.2" cy="53.6" rx="2.2" ry="1.0" transform="rotate(-40.0 292.2 53.6)" fill="#5058d8"/>
<ellipse cx="285.9" cy="57.4" rx="4.7" ry="1.3" transform="rotate(-40.0 285.9 57.4)" fill="#b8c4ec"/>
<ellipse cx="239.2" cy="54.5" rx="3.3" ry="1.0" transform="rotate(-3.2 239.2 54.5)" fill="#b8c4ec"/>
<ellipse cx="207.6" cy="67.2" rx="1.7" ry="1.4" transform="rotate(-24.8 207.6 67.2)" fill="#a5a5a5"/>
<ellipse cx="238.2" cy="54.8" rx="3.9" ry="1.7" transform="rotate(-26.3 238.2 54.8)" fill="#a5a5a5"/>
<ellipse cx="237.7" cy="81.2" rx="2.1" ry="1.9" transform="rotate(-21.5 237.7 81.2)" fill="#b8c4ec"/>
<path class="klb w3" d="M296 130l5.7-4.8M267 149l7.9-6.9M236 159l8.1-5.9M293 104l6-3.8M211 174l5.6-4.7M244 145l8.2-5.5M265 118l8.6-5.1M227 147l10.3-8.8M227 158l12.2-8.5M293 101l13.6-8.1M237 162l12.4-9.3M259 119l13.9-11.2M247 146l10.7-8.1M219 158l11.7-7.9M297 117l7.3-5.7M284 81l10.4-7.3M303 103l5.1-3.5M212 167l10.4-6.5M233 161l6.3-4.3"/>
<path class="klb w4" d="M270 97l9.8-8.7M272 95l12.8-10.3M282 108l6.5-5.5M271 93l12-8.6M287 91l8.6-5.4M238 126l5.8-3.6M264 123l6.4-4.3M297 114l9.4-7M282 90l6-3.5M228 146l8-4.9M218 169l8.9-8M297 108l11.5-8.3M238 123l14.1-9.7M287 92l12.2-7.1M292 125l13.4-10.3M221 163l14.8-8.9M264 155l10.3-7.2M283 140l7.6-6.3M256 143l12.9-7.6M269 111l11.6-8.5M287 117l11.8-10.4M291 110l6.6-5.7M280 88l14.6-10.1M279 131l12.9-7.8M222 162l7.8-5.2M273 150l11.5-8.3M284 125l12-7.3M274 137l10.9-7.9M249 161l11.1-8.2M245 152l4.8-3.7M272 110l10.9-6.6"/>
<path class="klb w5" d="M300 80l10.8-8.3M259 156l10.8-6.6M289 138l11.1-8.2M241 137l10.7-8.6M247 157l9.9-6.8M278 118l11.8-7.3M278 93l12.9-8.1M274 142l4.9-3.7M284 132l6.2-4.3M249 149l13.2-10.6M242 121l9.5-8.1M267 111l5.3-4M256 145l8.1-5.5M257 150l10.5-8M276 130l9.9-7.7M249 131l7.1-5.5M276 92l14-8.9M300 135l12.5-7.3M257 107l14.2-8.5M279 106l12.2-8.8M273 150l10.1-8.4M253 112l5.8-4.1M245 125l11.9-9.6"/>
<path class="klb w6" d="M268 128l10.9-9.1M261 130l11.5-8.6M276 107l6.6-4.3M296 107l8.5-6.4M222 164l4.8-3.8M230 144l11.2-8.3M273 90l10.1-7.2M270 96l11.9-6.9M268 128l10.4-8.7M223 150l7.9-5.5M279 87l10.2-6.5M283 135l9.4-6.1M278 125l14.7-8.5M255 107l7.6-5.4M292 128l5.3-4.5M289 84l12.2-10.6M233 164l7.8-5.4M262 136l11.1-7.4"/>
<path class="kg w3" d="M202 167l7.4-6M301 96l5.6-4.9M266 128l9.8-7.6M266 124l11.3-9.6M221 155l12.6-11M262 145l5.2-4.6M233 163l5.1-4.4M221 146l13-8.1M266 104l9.6-6.2M293 85l11.5-6.9M280 85l13.7-9.2M258 145l10.7-8.8M242 128l8.2-6.6M226 167l10-6.3M294 126l4.9-3.9M240 129l7.1-6M240 158l5.9-5.3M270 123l5.4-4.7M279 91l8.1-5.4M261 124l12-7M207 166l12.6-10.4M262 135l7.9-5.8M251 146l13.6-9M275 99l10.2-6.5M259 105l6.8-6.1M216 168l5.2-4.3M221 160l8-4.9M275 112l6.4-5.6M301 85l8.1-7.1M293 135l8.8-6.7M284 82l11.9-8.2M260 146l8.8-7.4M260 107l8.9-7.8M290 95l8.8-5.6M278 129l12.2-8.3M298 97l8-4.9M194 178l15.2-8.9M275 108l12.6-10.1M211 166l10.4-6.7M285 116l11.2-8.9"/>
<path class="kg w4" d="M247 149l6.1-4M302 134l7-6.2M229 153l10.5-6.7M266 98l13.3-11.3M254 133l13.3-10.8M253 109l14.3-10.1M266 154l12.8-11.2M260 124l11.1-7.9M246 128l10.4-7M214 156l5.7-4.3M216 162l9.3-7.9M288 132l7.9-5M260 140l8.1-4.9M294 96l12.3-8.3M299 88l12-9.5M272 147l5.8-4.1M268 108l13.6-8.1M277 107l9.3-7.3M292 105l8.9-6.8M292 80l8.2-5.5M248 115l4.5-4M261 122l9.9-8.4M262 119l11.2-8.4M261 113l13-9.2M202 162l6.5-4.1M199 167l13.2-9.3M275 140l12.1-8.1M274 143l6.9-5M236 155l10.1-6.1M285 95l14.3-8.8M279 129l13.7-8.3M288 114l11.2-7.9M289 100l11.2-9.9M285 134l12.6-7.8M276 103l5.9-3.5M240 128l14.1-9.5M222 152l11.1-7.6M280 92l4.7-3.9M274 96l13.2-11.7M272 102l12.7-9M266 112l13.3-7.9M263 115l15.5-9M203 165l14.3-9.4M288 80l8.9-5.9M283 130l9.8-8.6M268 101l11.5-7.4M229 138l8.6-5.2M250 121l8.9-5.9"/>
<path class="kg w5" d="M273 118l4.7-3.9M284 103l14-10.9M252 123l9.7-6.8M264 135l10.6-8.9M254 139l8.4-6.5M271 116l10.4-6.2M291 103l13-11.4M302 131l7.9-5.3M248 156l10.1-6.9M232 147l11.3-7.2M270 94l12-7M209 167l13.3-9.7M278 86l8.4-6.3M291 111l9.7-6.4M236 136l12.1-9.7M243 128l7.6-5.5M298 127l10.2-6.8M215 160l4.9-4.1M258 137l7.5-5.6M207 159l5.3-3.8M279 89l13.3-8.9M276 90l9.7-7.9M238 158l5.3-3.7M286 112l9.2-7.6M265 135l10-6.8M261 121l12.1-7.3M259 111l8.1-6.9M259 125l10.5-6.2M249 123l8.5-5.9M268 135l7.1-4.6M269 149l12.5-8.2M244 136l13.8-10.7M300 120l6.7-5.3M273 103l7.2-6.3M242 120l6.8-5.8M243 143l11.7-7.6M258 128l5.3-4M272 132l8.6-5.1M280 111l5.4-4.3M273 111l6.6-3.8M249 147l10.1-8.6M245 147l12.9-8.3M231 155l11.2-7.7M267 124l12.8-7.8M232 164l7.1-6.3M294 126l11.7-10.4M251 128l13.3-11.6M224 150l10-6.7M289 131l11.7-7.4M293 89l11.3-8.7M294 83l6.3-5.5M244 149l8.1-4.9M237 164l9.7-6.2M273 132l7.8-6.2"/>
<path class="kg w6" d="M267 146l13.9-10.8M300 84l5.6-4M269 142l12.1-9.2M268 111l14.4-8.9M290 137l13.2-11.3M287 87l9.9-7.8M275 89l7-6M282 98l9.7-6M297 98l10.6-7.2M301 90l9.3-7M277 139l12.9-10.3M291 94l7.2-6.2M243 118l14.1-9.2M277 120l8.2-6.7M260 152l10.8-7.7M294 133l8.6-6.3M297 97l8.8-7.2M283 124l13.3-9.8M297 95l5.3-4.2M255 153l5.6-4.8M285 82l10.2-7.5M223 147l8.7-6.1M286 110l11.5-7.7M276 136l13.9-8.6M252 156l9.2-8.2M209 174l4.9-4.3M227 145l10.8-7.1M251 152l10.8-6.6M290 118l14.2-10.9M271 136l8.3-5.5M210 161l13.3-9.9M263 141l10.2-7.3M254 114l13.1-11.2M239 145l13.1-10.9M223 160l6.7-5.2M288 102l9-7.4M285 88l13.2-8M234 137l9.2-6.3M231 145l11-7.1M282 126l14.7-9.2M264 123l5.2-3.4"/>
<ellipse cx="294.0" cy="80.0" rx="12.0" ry="2.5" transform="rotate(-28.0 294.0 80.0)" fill="#a5a5a5"/>
<ellipse cx="300.0" cy="88.0" rx="8.0" ry="2.0" transform="rotate(-30.0 300.0 88.0)" fill="#a5a5a5"/>
<ellipse cx="284.0" cy="88.0" rx="7.0" ry="2.0" transform="rotate(-35.0 284.0 88.0)" fill="#a5a5a5"/>
<path d="M202 164L229 144L254 114L269 100L288 92L306 87L306 130L296 132L288 138L274 148L256 155L236 160L219 167L201 175Z" fill="#b8c4ec"/>
<ellipse cx="296.0" cy="96.0" rx="7.0" ry="1.6" transform="rotate(-25.0 296.0 96.0)" fill="#a5a5a5"/>
<ellipse cx="284.0" cy="101.0" rx="5.0" ry="1.4" transform="rotate(-25.0 284.0 101.0)" fill="#a5a5a5"/>
<path d="M199 171L224 154L244 132L264 112L284 104L306 99L306 128L296 131L288 136L274 146L256 153L236 158L219 165L201 174Z" fill="#5058d8"/>
<path d="M212 162L230 150L246 136L262 120L280 110L306 104L306 124L294 128L282 134L268 142L252 150L234 156L218 164Z" fill="#5058d8"/>
<path class="kt w3" d="M282 127l6-4.1M267 135l5.2-3.1M238 149l3.2-2.5M253 135l6.6-4.2M270 134l3.1-2M263 134l4.6-3.1M240 145l5-3.5M284 132l6.8-4M250 143l6.5-3.7M294 123l6.9-5M267 127l2.4-1.8"/>
<path class="kt w4" d="M276 123l3.5-3M285 121l2.4-1.5M301 109l6.5-3.8M292 113l5.3-4.1M212 162l5.2-3.4M260 138l2.9-1.8M258 129l6.7-5M300 112l5-3.1"/>
<path class="kt w5" d="M210 164l6.3-4.7M259 127l6.4-5.1M287 114l5.2-4.1M274 121l2.8-2.1M229 159l5.1-4.5M279 115l2.6-2.1M261 133l2.8-2.2M255 146l4.6-3.4"/>
<path class="kt w6" d="M261 132l3.1-2.6M247 136l6.2-3.8M267 129l3.3-2.7M287 124l2.8-1.7M269 138l6-5M211 164l6.5-5.7M216 159l4.5-2.6M271 139l3.9-2.4M246 139l2-1.2"/>
<path class="klb w3" d="M294 126l2-1.7M260 139l4.3-3.1M292 109l2.7-2.4M267 126l6.1-3.7M289 118l6.8-4.6M284 121l1.7-1M274 117l3.3-2.1M276 137l1.8-1.3M245 137l5.3-4.8M219 160l4.6-2.7M276 126l5.6-3.6"/>
<path class="klb w4" d="M293 128l3.6-2.6M273 135l2.5-2.2M230 153l5.8-4.1M291 118l3-2.1M250 148l2.4-1.9M296 124l4.7-3.5M251 143l5.7-4.1M300 115l6.5-3.9M267 130l7.3-4.8M300 125l2.9-1.8M234 156l2-1.5"/>
<path class="klb w5" d="M277 125l4.5-3.7M262 145l3.3-2.3M234 151l6.2-5.5M254 133l4.5-2.9M252 148l3.9-2.5M301 108l6.3-4M299 121l6.7-5.1M279 125l5.6-3.3M259 123l2.6-1.5M267 122l5.1-4.3M251 137l5.3-3.6"/>
<path class="klb w6" d="M243 148l2.6-1.5M270 118l1.8-1.4M282 126l6.8-5.1M250 139l3.9-3.3M255 140l3-2.5"/>
<path class="kgr w3" d="M281 116l1.8-1.2M269 134l5.6-3.8"/>
<path class="kgr w4" d="M280 122l1.8-1.6M292 115l1.7-1.3"/>
<path class="kgr w5" d="M272 136l2.1-1.8M231 154l1.5-1.3M295 114l5.2-3.6"/>
<path class="kgr w6" d="M222 161l3.8-2.3M288 116l5.8-3.5M303 105l2.3-1.6"/>
<path class="kg w3" d="M277 118l6.7-4.9M278 129l5-3.6M294 113l4.4-2.8"/>
<path class="kg w4" d="M227 153l1.8-1.5M253 137l1.9-1.6"/>
<path class="kg w6" d="M220 162l4.8-4.3M267 125l5.9-3.9M302 113l5-4.1"/>
<path class="kb w3" d="M265 135l3.4-2.5M253 139l2.1-1.6M270 138l4.1-2.9M255 145l4.9-3.9M262 135l2.5-2.1M286 128l6.1-4.6M257 138l4-2.9"/>
<path class="kb w4" d="M254 135l5.5-4.5M232 150l6.7-5.1M282 121l3.1-2.3M295 127l6.6-4.9M264 125l5.1-4.6M226 155l4.3-3.2"/>
<path class="kb w5" d="M248 144l2.3-1.6M265 121l7.3-4.6M264 124l4.9-3.5M216 162l6.1-3.5"/>
<path class="kb w6" d="M253 141l6-5.4M286 112l3.7-3M302 117l5.1-3.4M301 124l6.6-5.5M255 141l6.2-5M281 124l4.1-3.2"/>
<path d="M222 160L234 152L248 142L260 132L272 120L286 110L306 106L306 128L294 131L282 136L270 144L256 150L240 156L226 162Z" fill="#50969a"/>
<path class="kgr w3" d="M275 120l2-1.6M241 151l5.3-3.8M288 121l6.3-5.4M251 147l3.3-2.4M252 139l5.1-3.6M300 122l4-2.9M283 129l6.4-5.5M287 133l3.4-2.4M258 143l5.5-3.6M303 116l4-3.3M295 128l3.4-2.9M281 115l5.4-4.8"/>
<path class="kgr w4" d="M262 137l5.3-4.1M278 116l4.7-3.4M289 114l3.3-2.6M267 138l3.9-3M285 135l2.4-2M255 137l3.2-2.3M258 142l4.2-3.7M288 115l3.8-2.9M280 117l7.2-4.5"/>
<path class="kgr w5" d="M271 140l7.3-5M226 159l1.9-1.5M281 123l4.6-3M262 131l3.4-2.7M247 148l6.2-4.8M239 152l2.3-2.1M291 120l6.6-5.5"/>
<path class="kgr w6" d="M287 127l1.7-1.3M283 116l5.9-3.5M266 126l5.2-4.4M239 152l5.3-4.2M265 127l5-3.9M262 144l1.6-1.5M245 150l6.7-4.6M283 114l5.4-4.4"/>
<path class="klb w3" d="M297 114l5.5-4.7M230 156l6.9-4.7"/>
<path class="klb w4" d="M296 121l3.3-2.7M261 140l1.9-1.2M241 153l7.3-4.4"/>
<path class="klb w5" d="M302 125l6.6-4.5M297 130l5.5-3.2"/>
<path class="klb w6" d="M259 136l3-2.4M293 130l4.7-4.1M277 133l2.3-1.9M293 128l3.1-2.2M301 115l4.9-3.5M293 118l6-4.4"/>
<path class="kb w3" d="M264 143l7.1-4.8M282 126l3.8-2.4M297 111l6-4.1"/>
<path class="kb w4" d="M250 142l4.4-2.8M292 125l6.8-4.2"/>
<path class="kb w5" d="M268 140l3.5-2.1M292 119l3.1-1.9M250 146l5.1-4M293 123l4.6-3.7"/>
<path class="kb w6" d="M288 124l4.6-4.1M269 134l3.4-2.4"/>
<path class="klg w3" d="M247 149l5.4-3.3M264 144l3.3-1.9"/>
<path class="klg w4" d="M248 152l7.3-5.2M275 125l2.4-2.1M296 120l2-1.6"/>
<path class="klg w5" d="M269 139l5-3.8M274 119l4.2-2.8M266 139l5.3-3.6"/>
<path class="klg w6" d="M293 121l2.7-2.1M277 132l6.5-5.1M285 125l6.3-4.8"/>
<path class="ky w3" d="M296 110l2.4-2.1M291 112l4.9-3.5M287 128l6.2-3.9M268 128l3.3-2.2M284 132l5.6-4.2M263 140l3.6-2.3"/>
<path class="ky w4" d="M304 127l2.1-1.7M260 147l3.6-2.5"/>
<path class="ky w5" d="M261 138l2.3-1.6M231 157l5.7-4"/>
<path class="ky w6" d="M281 117l5.8-3.7M261 145l1.9-1.6M262 143l6-3.9"/>
<path class="kt w3" d="M299 114l4.4-2.7"/>
<path class="kt w4" d="M272 132l6.6-4.9M277 136l3.6-2.4M242 154l2.4-1.8M245 151l3.3-2.3M269 140l6.3-5.4"/>
<path class="kt w5" d="M252 145l5-3.6"/>
<path class="kt w6" d="M267 139l3.4-2.6M271 127l3.6-3M298 130l1.8-1.4"/>
<ellipse cx="258.0" cy="128.0" rx="5.0" ry="1.5" transform="rotate(-35.0 258.0 128.0)" fill="#b8c4ec"/>
<ellipse cx="274.0" cy="118.0" rx="4.0" ry="1.4" transform="rotate(-30.0 274.0 118.0)" fill="#b8c4ec"/>
<ellipse cx="244.0" cy="144.0" rx="4.0" ry="1.5" transform="rotate(-30.0 244.0 144.0)" fill="#50969a"/>
<ellipse cx="224.0" cy="166.0" rx="2.5" ry="2.5" transform="rotate(0.0 224.0 166.0)" fill="#b8c4ec"/>
<ellipse cx="224.0" cy="166.0" rx="2.1" ry="2.1" transform="rotate(0.0 224.0 166.0)" fill="#5058d8"/>
<ellipse cx="224.0" cy="166.0" rx="1.8" ry="1.8" transform="rotate(0.0 224.0 166.0)" fill="#008000"/>
<ellipse cx="224.0" cy="166.0" rx="1.3" ry="1.3" transform="rotate(0.0 224.0 166.0)" fill="#f0d860"/>
<ellipse cx="236.0" cy="156.0" rx="2.5" ry="2.5" transform="rotate(0.0 236.0 156.0)" fill="#b8c4ec"/>
<ellipse cx="236.0" cy="156.0" rx="2.1" ry="2.1" transform="rotate(0.0 236.0 156.0)" fill="#5058d8"/>
<ellipse cx="236.0" cy="156.0" rx="1.8" ry="1.8" transform="rotate(0.0 236.0 156.0)" fill="#008000"/>
<ellipse cx="236.0" cy="156.0" rx="1.3" ry="1.3" transform="rotate(0.0 236.0 156.0)" fill="#f0d860"/>
<ellipse cx="249.0" cy="149.0" rx="2.5" ry="2.5" transform="rotate(0.0 249.0 149.0)" fill="#b8c4ec"/>
<ellipse cx="249.0" cy="149.0" rx="2.1" ry="2.1" transform="rotate(0.0 249.0 149.0)" fill="#5058d8"/>
<ellipse cx="249.0" cy="149.0" rx="1.8" ry="1.8" transform="rotate(0.0 249.0 149.0)" fill="#008000"/>
<ellipse cx="249.0" cy="149.0" rx="1.3" ry="1.3" transform="rotate(0.0 249.0 149.0)" fill="#f0d860"/>
<ellipse cx="259.0" cy="149.0" rx="2.5" ry="2.5" transform="rotate(0.0 259.0 149.0)" fill="#b8c4ec"/>
<ellipse cx="259.0" cy="149.0" rx="2.1" ry="2.1" transform="rotate(0.0 259.0 149.0)" fill="#5058d8"/>
<ellipse cx="259.0" cy="149.0" rx="1.8" ry="1.8" transform="rotate(0.0 259.0 149.0)" fill="#008000"/>
<ellipse cx="259.0" cy="149.0" rx="1.3" ry="1.3" transform="rotate(0.0 259.0 149.0)" fill="#f0d860"/>
<ellipse cx="266.0" cy="141.0" rx="2.5" ry="2.5" transform="rotate(0.0 266.0 141.0)" fill="#b8c4ec"/>
<ellipse cx="266.0" cy="141.0" rx="2.1" ry="2.1" transform="rotate(0.0 266.0 141.0)" fill="#5058d8"/>
<ellipse cx="266.0" cy="141.0" rx="1.8" ry="1.8" transform="rotate(0.0 266.0 141.0)" fill="#008000"/>
<ellipse cx="266.0" cy="141.0" rx="1.3" ry="1.3" transform="rotate(0.0 266.0 141.0)" fill="#f0d860"/>
<ellipse cx="269.0" cy="154.0" rx="2.5" ry="2.5" transform="rotate(0.0 269.0 154.0)" fill="#b8c4ec"/>
<ellipse cx="269.0" cy="154.0" rx="2.1" ry="2.1" transform="rotate(0.0 269.0 154.0)" fill="#5058d8"/>
<ellipse cx="269.0" cy="154.0" rx="1.8" ry="1.8" transform="rotate(0.0 269.0 154.0)" fill="#008000"/>
<ellipse cx="269.0" cy="154.0" rx="1.3" ry="1.3" transform="rotate(0.0 269.0 154.0)" fill="#f0d860"/>
<ellipse cx="281.0" cy="126.0" rx="3.5" ry="4.0" transform="rotate(0.0 281.0 126.0)" fill="#b8c4ec"/>
<ellipse cx="281.0" cy="126.0" rx="3.0" ry="3.4" transform="rotate(0.0 281.0 126.0)" fill="#5058d8"/>
<ellipse cx="281.0" cy="126.0" rx="2.4" ry="2.8" transform="rotate(0.0 281.0 126.0)" fill="#008000"/>
<ellipse cx="281.0" cy="126.0" rx="1.8" ry="2.1" transform="rotate(0.0 281.0 126.0)" fill="#f0d860"/>
<ellipse cx="281.0" cy="126.0" rx="1.2" ry="1.4" transform="rotate(0.0 281.0 126.0)" fill="#f0b020"/>
<ellipse cx="298.0" cy="129.0" rx="3.0" ry="3.0" transform="rotate(0.0 298.0 129.0)" fill="#b8c4ec"/>
<ellipse cx="298.0" cy="129.0" rx="2.6" ry="2.6" transform="rotate(0.0 298.0 129.0)" fill="#5058d8"/>
<ellipse cx="298.0" cy="129.0" rx="2.1" ry="2.1" transform="rotate(0.0 298.0 129.0)" fill="#008000"/>
<ellipse cx="298.0" cy="129.0" rx="1.6" ry="1.6" transform="rotate(0.0 298.0 129.0)" fill="#f0d860"/>
<ellipse cx="292.0" cy="114.0" rx="2.0" ry="2.0" transform="rotate(0.0 292.0 114.0)" fill="#b8c4ec"/>
<ellipse cx="292.0" cy="114.0" rx="1.7" ry="1.7" transform="rotate(0.0 292.0 114.0)" fill="#5058d8"/>
<ellipse cx="292.0" cy="114.0" rx="1.4" ry="1.4" transform="rotate(0.0 292.0 114.0)" fill="#008000"/>
<ellipse cx="302.0" cy="118.0" rx="2.5" ry="2.5" transform="rotate(0.0 302.0 118.0)" fill="#b8c4ec"/>
<ellipse cx="302.0" cy="118.0" rx="2.1" ry="2.1" transform="rotate(0.0 302.0 118.0)" fill="#5058d8"/>
<ellipse cx="302.0" cy="118.0" rx="1.8" ry="1.8" transform="rotate(0.0 302.0 118.0)" fill="#008000"/>
<ellipse cx="302.0" cy="118.0" rx="1.3" ry="1.3" transform="rotate(0.0 302.0 118.0)" fill="#f0d860"/>
<path d="M282 140L292 134L306 130L306 176L292 186L280 196L270 204L262 212L264 231L240 231L244 214L252 200L262 190L274 178L282 168L284 154Z" fill="#b8c4ec"/>
<path d="M285 143L294 137L306 134L306 172L292 182L280 192L269 201L260 210L262 231L244 231L247 214L254 202L264 192L276 180L284 168L286 154Z" fill="#50969a"/>
<path class="kgr w3" d="M294 166l2.1-1.4M289 169l5.5-4.4M284 156l4.9-4.1M282 170l4.4-3.9M278 184l5.3-4.3M289 171l4.4-3M244 225l5.5-4.5M299 156l6.7-4.2M254 218l3.5-3.1M263 200l7-5.2M257 232l6.7-5.5"/>
<path class="kgr w4" d="M299 139l6.2-4.3M252 213l1.9-1.7M271 186l4.3-2.5M297 174l2.9-1.7M285 151l2.8-1.7M243 232l5.9-4.8M250 209l2.3-1.5M290 181l5.2-4.3M255 216l2.2-1.7M291 147l2.6-2M274 189l4.8-3.3M249 212l6.2-5.2"/>
<path class="kgr w5" d="M263 200l2.2-1.5M259 226l4.6-3.8M258 205l5.7-4.6M250 222l5.1-4.4M286 148l5.7-3.5M263 200l5.4-4.4M291 141l1.9-1.3"/>
<path class="kgr w6" d="M295 147l1.7-1.5M252 205l2.5-2.2M250 212l3.5-2.2M289 161l4.7-3.2M301 139l4.5-2.9M277 184l5.8-4.4M253 204l2.5-1.8M261 197l2.4-1.8M299 148l4.2-2.7"/>
<path class="klb w3" d="M299 148l5-4.1M297 152l3.3-2.7"/>
<path class="klb w4" d="M260 202l2.3-1.3M255 214l3.9-2.4M269 198l6-5.1M263 203l7.1-4.3"/>
<path class="klb w5" d="M279 182l2-1.3M274 186l5.5-3.3M300 168l3.1-2.5M299 163l4.4-2.9M303 167l5.2-4.2M247 218l3.3-2.8M286 150l2-1.6"/>
<path class="klb w6" d="M298 174l5.5-4.6M276 185l2.9-2.2M291 155l3.7-2.9M244 226l5.6-3.5"/>
<path class="kb w3" d="M248 228l6.2-3.8M292 164l5.4-4.4M299 160l5.4-3.8M302 140l3.6-2.6M250 230l5.4-4"/>
<path class="kb w4" d="M285 156l6-3.8M298 162l2.6-1.9M289 173l5.1-3M285 178l2.1-1.5"/>
<path class="kb w5" d="M287 168l2.7-1.7M256 211l4.3-3.9M274 190l4-2.5M254 214l7.2-4.4M298 161l3.1-2.5"/>
<path class="kb w6" d="M289 168l6-5.3M295 139l3.6-2.6M276 188l3.8-2.9M276 194l1.9-1.6M292 180l5.6-5M301 141l1.7-1.5M256 212l3.7-2.6M288 169l4.6-3M283 188l1.8-1.4"/>
<path class="klg w3" d="M293 142l2.2-1.9M296 168l5.2-4.4M275 188l4.1-2.6M251 220l6.4-3.9M257 218l5-3.5"/>
<path class="klg w4" d="M280 176l4.4-3.3"/>
<path class="klg w5" d="M290 170l2-1.7"/>
<path class="klg w6" d="M253 216l6.6-5M288 157l3.1-2.4M278 189l2-1.6M259 226l4-3.6M258 225l4.3-2.7M283 149l5.8-4M297 140l6.2-4.6"/>
<path class="ky w3" d="M282 181l7.2-4.5M303 157l3.4-2.3M276 188l4.1-3.4M279 190l2.5-1.8"/>
<path class="ky w4" d="M301 142l6.5-4.8M290 145l2-1.3M292 142l5.4-3.9M292 165l7.8-4.5M256 221l6.8-5.3"/>
<path class="ky w5" d="M266 202l6.5-5.8M250 208l4-2.7M299 163l4.9-3.8"/>
<path class="ky w6" d="M288 142l7.1-4.3"/>
<path class="kt w3" d="M244 224l3.3-2.5M302 147l3.9-2.7M286 147l4.6-4.1M259 210l3.1-2.1M281 181l3.3-2.4"/>
<path class="kt w4" d="M279 182l6.3-3.8"/>
<path class="kt w5" d="M288 160l4.1-3.6M287 185l6.8-4.8M277 187l2.9-1.7M288 170l4.3-3.4"/>
<path class="kt w6" d="M293 163l6.6-5.6"/>
<path d="M289 146L296 140L306 138L306 166L292 176L281 188L269 197L258 208L258 231L248 231L250 214L256 204L266 194L278 182L287 168L289 156Z" fill="#f0d860"/>
<path class="ko w3" d="M293 169l5.6-4.8M296 144l5.4-4.2M301 144l3.9-2.4M299 159l6.2-5.4M296 151l5.4-4.6"/>
<path class="ko w4" d="M254 216l4.1-2.8M295 166l3.6-2.1M249 226l2.7-1.9M288 173l6.2-5.2M282 174l6.4-4.6M264 200l5.3-3.2M299 161l3.4-2.1"/>
<path class="ko w5" d="M287 171l4.7-3.7M252 213l5.8-3.4M292 149l5.1-4.2"/>
<path class="ko w6" d="M294 174l5.1-3.6M294 158l3.6-2.1M290 174l6-5.4M299 142l2.4-1.6M295 162l4.7-3.3"/>
<path class="klg w3" d="M287 178l5.3-4.6M254 213l2.9-2M296 166l6.2-5.1"/>
<path class="klg w4" d="M295 157l2.3-1.6M301 155l6.6-5.6M293 163l2.5-1.9M287 157l7.5-4.7"/>
<path class="klg w5" d="M252 228l4.4-3.7M300 156l5.4-4.8M299 155l3.6-3"/>
<path class="klg w6" d="M254 224l2.4-1.8M289 165l5.1-3.2M301 156l5.8-5.2"/>
<path class="kgr w3" d="M271 191l6.1-5.4M290 149l5.4-3.8M254 229l3.8-2.4"/>
<path class="kgr w4" d="M292 172l5.5-4.4"/>
<path class="kgr w5" d="M298 144l4.9-3.2M281 177l2.1-1.3"/>
<path class="kgr w6" d="M301 141l1.6-1.4M301 150l5.2-3.5"/>
<path class="ky w3" d="M281 185l4.7-3.8M299 163l3.1-1.9M260 202l4.1-3.4M248 231l2.3-1.5M252 225l4.9-3M288 174l5-3.1"/>
<path class="ky w4" d="M299 165l3.2-2.4M247 231l4.3-3.7M253 215l5-4M284 175l5.5-4.8"/>
<path class="ky w5" d="M254 208l7.4-4.8M248 223l3.5-2.5M291 146l3.7-2.3M252 221l5.7-4.3M286 173l4.4-2.9M300 162l7.3-5.1"/>
<path class="ky w6" d="M247 225l3.7-2.6M256 227l2.7-2M257 207l2.5-2.2M299 155l2.3-1.5"/>
<path class="kbr w3" d="M250 230l5-3.2"/>
<path class="kbr w4" d="M292 163l2.9-2.5M249 224l5.5-4.8"/>
<path class="kbr w5" d="M286 181l2.6-1.6M300 157l3-2.2"/>
<path class="kb w3" d="M253 224l3.8-3.5"/>
<path class="kb w4" d="M298 144l5-3.2"/>
<path class="kb w6" d="M294 146l3.6-2.6M263 198l1.8-1.6"/>
<ellipse cx="270.0" cy="194.0" rx="3.0" ry="2.0" transform="rotate(0.0 270.0 194.0)" fill="#c0e0c0"/>
<ellipse cx="300.0" cy="150.0" rx="2.0" ry="2.0" transform="rotate(0.0 300.0 150.0)" fill="#c0e0c0"/>
<ellipse cx="262.0" cy="206.0" rx="2.0" ry="2.0" transform="rotate(0.0 262.0 206.0)" fill="#008000"/>
<ellipse cx="292.0" cy="170.0" rx="2.0" ry="2.0" transform="rotate(0.0 292.0 170.0)" fill="#008000"/>
<ellipse cx="296.0" cy="178.0" rx="3.0" ry="3.0" transform="rotate(0.0 296.0 178.0)" fill="#fff"/>
<ellipse cx="294.0" cy="148.0" rx="2.5" ry="2.5" transform="rotate(0.0 294.0 148.0)" fill="#f0b020"/>
<ellipse cx="300.0" cy="162.0" rx="2.5" ry="2.5" transform="rotate(0.0 300.0 162.0)" fill="#f0b020"/>
<ellipse cx="271.0" cy="191.0" rx="3.0" ry="3.0" transform="rotate(0.0 271.0 191.0)" fill="#f0b020"/>
<ellipse cx="284.0" cy="180.0" rx="2.5" ry="2.5" transform="rotate(0.0 284.0 180.0)" fill="#f0b020"/>
<ellipse cx="254.0" cy="218.0" rx="3.0" ry="3.0" transform="rotate(0.0 254.0 218.0)" fill="#f0b020"/>
<ellipse cx="271.0" cy="191.0" rx="1.5" ry="1.5" transform="rotate(0.0 271.0 191.0)" fill="#8c5a40"/>
<ellipse cx="254.0" cy="220.0" rx="1.5" ry="1.5" transform="rotate(0.0 254.0 220.0)" fill="#8c5a40"/>
<ellipse cx="300.0" cy="162.0" rx="1.3" ry="1.3" transform="rotate(0.0 300.0 162.0)" fill="#c08838"/>
<ellipse cx="294.0" cy="147.0" rx="1.2" ry="1.2" transform="rotate(0.0 294.0 147.0)" fill="#8c5a40"/>
<ellipse cx="234.0" cy="194.0" rx="8.0" ry="3.0" transform="rotate(-35.0 234.0 194.0)" fill="#a5a5a5"/>
<ellipse cx="244.0" cy="186.0" rx="5.0" ry="2.0" transform="rotate(-35.0 244.0 186.0)" fill="#a5a5a5"/>
<path d="M204 216L212 211L224 211L234 216L236 231L204 231Z" fill="#b8c4ec"/>
<path d="M207 218L214 213L224 213L232 218L234 231L207 231Z" fill="#50969a"/>
<path class="kgr w3" d="M211 216l3-2.4M217 228l6.9-5.6M226 231l4.7-3.5"/>
<path class="kgr w4" d="M208 224l6.7-4.6M222 221l6.4-4.1"/>
<path class="kgr w5" d="M211 227l5.5-4.1"/>
<path class="kgr w6" d="M224 218l4.1-3.5M230 230l4.2-2.8M213 230l4.6-2.7"/>
<path class="klb w3" d="M220 229l6.2-4.9M218 232l7-5.6"/>
<path class="klb w6" d="M229 231l4.2-2.5M217 223l6.9-4.8"/>
<path class="kb w3" d="M230 224l4.9-3.4M207 221l5.1-3.1M210 221l2.6-2.1"/>
<path class="kb w4" d="M214 220l5-3.4M216 222l5.5-4.8"/>
<path class="kb w5" d="M212 229l5.8-4.7"/>
<path class="kb w6" d="M222 220l5.6-4.2"/>
<path class="klg w3" d="M218 224l4-3.4"/>
<path class="ky w6" d="M211 221l5-4.2"/>
<path class="kt w3" d="M225 228l1.7-1.1M214 227l5.4-3.7"/>
<path class="kt w4" d="M223 231l6.6-5.3M219 230l4.7-3.6M230 222l3.5-2.3"/>
<path class="kt w5" d="M225 229l7.2-5.4"/>
<path class="kt w6" d="M211 228l4.1-2.4"/>
<path d="M210 220L216 216L224 216L230 220L231 231L210 231Z" fill="#f0d860"/>
<path class="ko w3" d="M209 231l6.2-4.6"/>
<path class="ko w4" d="M214 218l3.5-2.7M220 220l6-4.6M219 217l3.4-2.6"/>
<path class="ko w6" d="M218 229l6.6-5.7"/>
<path class="klg w3" d="M227 233l7.2-4.2"/>
<path class="klg w4" d="M218 233l7.4-4.9M213 223l3.7-2.6"/>
<path class="klg w5" d="M218 223l4-3"/>
<path class="kgr w4" d="M214 231l5.2-3.6M218 230l2-1.7M227 232l4.6-2.9"/>
<path class="kgr w5" d="M221 226l4.8-3.3"/>
<path class="ky w5" d="M211 226l2.7-2.3M209 232l3.8-3.2"/>
<path class="ky w6" d="M226 231l4.9-3.6M214 220l3.7-2.6"/>
<path class="kbr w4" d="M223 219l3.6-2.5M222 231l4.7-2.9"/>
<ellipse cx="220.0" cy="225.0" rx="3.0" ry="3.0" transform="rotate(0.0 220.0 225.0)" fill="#f0b020"/>
<ellipse cx="222.0" cy="227.0" rx="1.5" ry="1.5" transform="rotate(0.0 222.0 227.0)" fill="#8c5a40"/>
<path d="M172 180L182 174L194 174L200 182L198 192L188 196L176 194Z" fill="#b8c4ec"/>
<path d="M175 181L183 176L193 176L198 183L196 191L188 194L178 192Z" fill="#50969a"/>
<path class="kgr w3" d="M188 183l4.1-2.8M185 184l1.7-1.4M184 191l3.5-2.5"/>
<path class="kgr w4" d="M176 189l2.7-2.2"/>
<path class="kgr w6" d="M186 193l1.8-1.1M185 187l5.2-3.4M180 181l4.5-3.3"/>
<path class="klb w3" d="M184 193l5-4.1"/>
<path class="klb w4" d="M191 182l1.9-1.1"/>
<path class="kb w4" d="M190 188l6.9-4.9M191 194l6.7-4.7"/>
<path class="kb w5" d="M187 190l4.4-3.8M190 188l5.5-4.1"/>
<path class="kb w6" d="M183 178l4.6-3.3M181 185l5-3.1"/>
<path class="klg w4" d="M187 194l3.8-2.2"/>
<path class="klg w5" d="M194 187l6.6-5.6"/>
<path class="klg w6" d="M184 194l4.9-3.2"/>
<path class="ky w4" d="M190 187l4.6-3.3"/>
<path class="ky w5" d="M189 188l4.7-3"/>
<path class="kt w4" d="M188 189l2.7-2.3"/>
<path class="kt w5" d="M189 191l5.7-4.5"/>
<path d="M178 182L184 178L192 178L196 184L194 190L188 192L180 190Z" fill="#f0d860"/>
<ellipse cx="186.0" cy="184.0" rx="3.0" ry="3.0" transform="rotate(0.0 186.0 184.0)" fill="#f0b020"/>
<ellipse cx="187.0" cy="185.0" rx="1.5" ry="1.5" transform="rotate(0.0 187.0 185.0)" fill="#8c5a40"/>
<ellipse cx="192.0" cy="188.0" rx="2.0" ry="2.0" transform="rotate(0.0 192.0 188.0)" fill="#f0b020"/>
<ellipse cx="184.0" cy="190.0" rx="1.0" ry="1.0" transform="rotate(0.0 184.0 190.0)" fill="#f05080"/>
<path class="klb w4" d="M89 189l.6-.3M85 177l.4-.2M140 165l.8-.4M201 147l1-.5M216 61l1-.8M216 82l1-.7M210 66l1-.4"/>
<path class="klb w5" d="M98 177l.8-.2M94 171l.6-.4M127 172l.6-.4M213 147l.2-.1M216 83l.3-.2"/>
<path class="klb w6" d="M92 176l.7-.4M124 175l.8-.6M115 178l.4-.2M86 185l1.3-1M98 170l.7-.4M90 186l1.7-.6M199 147l1.6-.7M180 142l.9-.5M182 141l.9-.7M182 138l1.8-.6M178 154l1.5-1.1M187 143l.9-.3M198 154l.4-.2M204 156l1.7-1.1M214 71l.6-.2"/>
<path class="klb w7" d="M142 231l2.1-1.6M162 174l1.6-.7M174 223l1.7-.9M109 207l.6-.2M108 224l.9-.6M100 227l1.9-1.1M119 176l.7-.4M127 170l.4-.3M94 186l.4-.3M85 187l1.3-.6M97 187l.4-.1M191 153l1.2-.5M187 153l.8-.2M209 154l2.6-.9M174 151l1.2-.8M211 150l1.1-.7M166 151l.9-.5M169 154l2.4-1M222 75l1.8-.6M207 85l1-.8M209 87l.8-.6"/>
<path class="klb w8" d="M146 180l.4-.3M129 185l1.2-.6M130 219l1.3-1M193 226l1.2-.9M152 209l2.2-1.6M76 224l1.8-1.1M64 204l2.7-1.2M100 219l2-.6M87 188l1.4-1.2M106 171l2.7-.7M213 153l2.3-.8M180 143l1.8-1.2"/>
<path class="klb w9" d="M139 189l3-1.7M204 211l1.6-.5M194 217l2.5-1.1M131 222l1.3-.4M192 208l1.5-.5M112 218l2-.7M55 203l1.4-.6M63 215l1.7-.9M84 213l2.3-1.1M115 201l2.8-.9M126 165l1.9-.9M118 175l2.5-1.3M50 229l2.2-1.2M53 226l.8-.6M32 220l.5-.3M49 219l1.5-.7M41 224l1.1-.6M190 147l.8-.7M198 154l1.4-.5"/>
<path class="klb w10" d="M188 198l.7-.5M124 222l.9-.6M153 186l2.6-.9M132 229l2.4-1.7M138 217l3-.9M170 214l1.6-.8M159 206l1.8-1M124 208l1.9-.6M158 218l2.1-.9M173 199l1.2-.7M195 224l2.2-.7M138 199l2.8-1.6M156 176l1.6-.9M168 167l1.1-.8M63 204l.9-.5M110 219l2.5-.7M99 206l2.5-1.4M79 206l2.2-1.2M113 208l3.6-1.3M79 225l2.6-1.3M32 230l1.7-1M48 219l.8-.5M35 230l1.9-1.2"/>
<path class="klb w11" d="M162 219l2.2-1.2M175 214l3.1-1M160 229l1.4-.6M154 198l1.8-.9M192 210l1.8-.7M126 196l2.9-1.9M146 208l1.1-.5M152 196l1.3-1M149 211l1.9-1.3M57 210l.7-.3M78 208l1.9-1"/>
<path class="klb w12" d="M167 218l1.4-.8M134 183l3.3-1.2M162 212l3.3-1.9M159 175l3.2-1.4M154 229l1.3-1M137 180l3.1-1.5M135 183l2.2-.7M127 198l3.3-1.4M184 197l2.1-1.3M140 231l3.7-1.6M147 209l1.3-.8M151 212l2.5-1.7M154 213l2.8-1.5M141 219l1.6-.7M149 218l3.7-1.4M182 225l3.7-2M159 224l1.6-.6M133 221l2.7-1.7M161 230l1.5-.6M156 229l2.2-1.1M163 224l3.3-1.3M170 169l3.1-1M149 170l3.5-1M161 173l1-.7M163 172l1.7-.7M63 208l1.4-.4M87 226l1.5-.7M55 207l1.6-.7M68 204l1.3-1.1M80 218l2.1-1.1M92 204l1-.8M108 204l2.2-1.5M57 213l.8-.5"/>
<path class="klb w13" d="M127 199l3.5-1.7M172 182l3-2.2M145 198l1.1-.7M154 230l1.7-.5M145 200l1-.3M132 219l1-.7M155 221l1.9-1.1M150 215l3.2-1.5M143 212l2.9-1.4M177 181l1.2-.9M122 201l1.7-.8M174 215l3.5-2M168 185l2.9-1.7M193 198l3.7-1.9M163 228l1.1-.8M158 182l2.2-1.4M164 173l.8-.6M153 169l1.2-.7M161 172l2.9-1M94 224l1.4-1M78 208l3.4-1.8M109 206l2.6-1.3M72 225l3.5-1.9M60 203l2.3-1M58 209l3.7-2.6M100 209l3.1-.9M100 208l2.5-1.1M84 223l2.8-1.9"/>
<path class="klb w14" d="M137 226l2.2-.9M158 181l2.7-1.1M134 198l3.9-3.2M199 196l1.8-.6M160 211l1.5-.7M163 173l3.9-1.7M188 191l3.7-1.3M153 202l1.9-.5M163 214l2-1.3M182 216l4.1-3.2M71 218l1.8-1.5"/>
<path class="klb w15" d="M197 206l1.9-.6M163 231l3.9-1.2M161 174l1.7-.7M177 221l1.5-.6M182 180l1.4-.5M131 229l3-1.5M91 221l1.3-1M110 200l5-1.4"/>
<path class="klb w16" d="M186 211l1.1-.7M140 178l1.2-.4M164 215l1.8-.7"/>
<path class="kb w3" d="M92 176l.8-.5M124 175l1-.7M86 185l1.5-1.1M98 170l.9-.5M90 186l1.9-.7M199 147l1.8-.8M181 141l1-.8M198 154l.6-.2M214 71l.8-.3"/>
<path class="kb w4" d="M162 174l1.8-.7M174 223l1.9-1M109 207l.8-.3M108 224l1.1-.7M127 170l.6-.5M94 186l.6-.4M97 187l.6-.2M191 153l1.3-.6M180 142l.6-.4M182 138l1.5-.5M178 153l1.3-.9M187 143l.6-.2M211 150l1.3-.8M166 152l1.1-.5M204 156l1.4-.9M222 75l2-.7M207 85l1.2-.9M209 87l1-.8"/>
<path class="kb w5" d="M146 180l.6-.4M129 185l1.3-.6M142 231l1.9-1.4M129 219l1.5-1.1M193 226l1.4-1M152 209l2.4-1.8M76 224l2-1.2M100 227l1.7-1M87 188l1.6-1.3M119 176l.4-.3M85 187l1-.4M187 153l.5-.2M209 154l2.3-.8M174 151l1-.7M169 154l2.1-.9"/>
<path class="kb w6" d="M204 211l1.8-.5M64 204l2.4-1.1M63 216l1.9-1M101 219l1.7-.5M106 171l2.4-.6M118 175l2.7-1.4M50 229l2.3-1.3M32 220l.6-.4M41 224l1.3-.7M213 153l2-.7M190 147l1-.8M198 154l1.6-.6M180 143l1.6-1"/>
<path class="kb w7" d="M188 198l.9-.6M124 222l1.1-.7M139 189l2.7-1.5M153 186l2.8-1M132 229l2.6-1.9M138 217l3.2-1M170 215l1.7-.9M159 206l2-1.1M124 208l2.1-.6M158 218l2.3-1M194 217l2.2-1M173 199l1.4-.8M195 224l2.4-.7M137 199l2.9-1.7M131 222l1-.3M192 208l1.3-.4M155 176l1.7-1M112 218l1.7-.6M63 204l1-.5M110 219l2.7-.8M99 206l2.7-1.5M79 206l2.4-1.3M55 203l1.2-.5M79 225l2.7-1.4M84 213l2-1M115 200l2.5-.9M126 165l1.6-.8M32 230l1.9-1.1M53 226l.6-.4M48 219l1-.6M49 219l1.2-.5M35 230l2-1.3"/>
<path class="kb w8" d="M162 219l2.4-1.3M175 214l3.2-1.1M160 229l1.6-.6M126 197l3.1-2M146 208l1.3-.6M152 196l1.4-1.2M149 211l2.1-1.4M168 167l.8-.6M113 208l3.3-1.2M57 210l.9-.4"/>
<path class="kb w9" d="M134 183l3.5-1.3M159 175l3.3-1.4M155 198l1.5-.8M192 210l1.6-.6M140 219l1.8-.8M133 221l2.9-1.8M156 229l2.4-1.2M163 224l3.5-1.4M170 169l3.3-1M161 173l1.2-.8M63 208l1.6-.5M54 207l1.8-.8M78 208l1.6-.9M68 204l1.5-1.2M80 218l2.2-1.2M57 213l1-.6"/>
<path class="kb w10" d="M127 200l3.7-1.8M167 218l1.1-.7M162 212l3-1.8M172 182l3.2-2.3M154 229l1.1-.8M137 180l2.8-1.3M135 183l1.9-.6M127 198l3-1.3M184 197l1.8-1.1M145 200l1.2-.4M132 219l1.2-.8M140 231l3.4-1.5M143 212l3.1-1.4M147 209l1.1-.7M152 212l2.3-1.6M122 201l1.9-.8M154 213l2.5-1.4M149 218l3.5-1.2M182 225l3.5-1.9M174 215l3.7-2.1M167 185l3.1-1.8M159 224l1.4-.5M193 198l3.8-2M161 229l1.2-.5M158 182l2.3-1.5M149 170l3.2-.9M164 173l1-.7M153 169l1.4-.8M163 172l1.4-.6M161 172l3.1-1.1M94 224l1.6-1.1M78 208l3.6-1.9M109 206l2.8-1.4M72 225l3.7-2M87 226l1.2-.6M92 203l.8-.6M108 204l1.9-1.3M99 210l3.3-.9M100 209l2.7-1.2M84 223l2.9-2"/>
<path class="kb w11" d="M158 181l2.9-1.2M145 198l.9-.5M154 230l1.4-.4M155 221l1.6-.9M150 215l2.9-1.4M177 181l1-.7M163 228l.9-.6M188 191l3.9-1.3M152 202l2.1-.6M60 203l2-.9M58 209l3.5-2.4"/>
<path class="kb w12" d="M138 226l2-.8M134 198l3.7-3M199 196l1.5-.5M162 231l4.1-1.3M177 221l1.7-.6M181 180l1.6-.6M160 211l1.3-.6M163 173l3.6-1.6M131 229l3.2-1.6M163 214l1.7-1.1M182 216l3.9-3M91 221l1.4-1.1M110 200l5.2-1.5M71 218l1.6-1.3"/>
<path class="kb w13" d="M186 211l1.3-.8M140 179l1.4-.5M197 206l1.6-.5M164 215l2-.8M161 174l1.4-.6"/>
<path class="kgr w2" d="M209 154l2.5-.8"/>
<path class="kgr w3" d="M106 171l2.6-.7M50 229l2.5-1.4M32 220l.8-.5M41 224l1.4-.8M213 153l2.2-.8M190 147l1.2-.9M180 143l1.7-1.2"/>
<path class="kgr w4" d="M139 189l2.9-1.6M152 186l3-1M132 229l2.8-2M159 207l2.2-1.1M124 208l2.3-.7M194 217l2.4-1.1M173 199l1.6-.9M131 222l1.2-.3M192 208l1.4-.4M112 218l1.9-.7M110 219l2.9-.8M99 206l2.9-1.6M55 203l1.3-.6M63 215l1.6-.8M84 213l2.2-1.1M115 201l2.7-.9M126 165l1.8-.8M118 175l2.4-1.2M32 230l2.1-1.2M53 226l.7-.6M49 219l1.4-.6M35 230l2.2-1.4M198 154l1.3-.5"/>
<path class="kgr w5" d="M188 198l.6-.4M124 221l.8-.5M160 229l1.8-.7M138 217l3-.9M170 214l1.5-.7M126 197l3.3-2.1M158 217l2-.9M146 208l1.5-.7M195 224l2.1-.6M138 199l2.7-1.5M156 176l1.5-.9M168 167l1-.7M63 204l.8-.4M79 206l2.1-1.1M113 208l3.5-1.3M56 210l1.1-.4M79 225l2.5-1.3M48 219l.7-.4"/>
<path class="kgr w6" d="M134 183l3.7-1.3M162 219l2.1-1.1M175 214l3-1M154 198l1.7-.9M192 210l1.7-.6M152 196l1.2-1M149 211l1.8-1.2M156 229l2.6-1.3M169 169l3.5-1.1M54 207l2-.9M78 208l1.8-1"/>
<path class="kgr w7" d="M167 218l1.3-.8M162 212l3.2-1.9M172 182l3.3-2.5M159 175l3.1-1.3M154 229l1.2-.9M137 180l3-1.4M135 183l2.1-.7M127 198l3.2-1.4M184 197l2-1.2M140 231l3.6-1.5M143 212l3.3-1.5M147 209l1.3-.8M151 212l2.4-1.7M154 213l2.7-1.5M141 219l1.5-.7M149 218l3.7-1.3M182 225l3.6-2M159 224l1.5-.6M133 221l2.6-1.6M161 229l1.4-.5M163 224l3.2-1.3M149 170l3.4-.9M161 173l.9-.7M163 172l1.6-.6M161 172l3.3-1.1M63 208l1.3-.4M71 225l3.9-2.1M87 226l1.4-.6M68 204l1.2-1M80 218l2-1M92 204l.9-.7M108 204l2.1-1.4M84 223l3.1-2.1M57 213l.7-.5"/>
<path class="kgr w8" d="M127 199l3.4-1.7M158 181l3-1.3M145 198l1-.6M154 230l1.6-.5M145 200l.9-.3M132 219l1-.7M155 221l1.8-1M150 215l3.1-1.5M177 181l1.1-.8M122 201l1.6-.7M174 215l3.4-1.9M168 185l2.9-1.7M193 198l3.6-1.8M163 228l1-.8M188 191l4.1-1.4M158 182l2.1-1.4M152 202l2.3-.7M164 173l.7-.5M153 169l1.1-.6M94 224l1.4-.9M78 208l3.4-1.8M109 206l2.5-1.3M60 203l2.2-1M58 209l3.7-2.5M100 209l3-.8M100 208l2.4-1"/>
<path class="kgr w9" d="M137 226l2.2-.9M134 198l3.8-3.2M199 196l1.7-.6M160 211l1.4-.7M163 173l3.8-1.7M131 229l3.3-1.7M163 214l1.9-1.2M182 216l4-3.1M71 218l1.7-1.4"/>
<path class="kgr w10" d="M197 206l1.8-.6M163 231l3.8-1.2M164 215l2.2-.9M161 174l1.6-.6M177 221l1.4-.5M182 180l1.3-.5M91 221l1.2-.9M110 200l4.9-1.4"/>
<path class="kgr w11" d="M186 211l1-.7M140 178l1.1-.4"/>
<path class="ky w3" d="M78 208l1.9-1"/>
<path class="ky w4" d="M167 218l1.4-.8M134 183l3.3-1.2M162 212l3.3-1.9M159 175l3.2-1.4M154 229l1.3-1M137 180l3.1-1.5M135 183l2.2-.7M127 198l3.3-1.4M184 197l2.1-1.3M140 231l3.7-1.6M147 209l1.3-.8M151 212l2.5-1.7M154 213l2.8-1.5M141 219l1.6-.7M149 218l3.7-1.4M182 225l3.7-2M159 224l1.6-.6M133 221l2.7-1.7M161 230l1.5-.6M156 229l2.2-1.1M163 224l3.3-1.3M170 169l3.1-1M149 170l3.5-1M161 173l1-.7M163 172l1.7-.7M63 208l1.4-.4M87 226l1.5-.7M55 207l1.6-.7M68 204l1.3-1.1M80 218l2.1-1.1M92 204l1-.8M108 204l2.2-1.5M57 213l.8-.5"/>
<path class="ky w5" d="M127 199l3.5-1.7M172 182l3-2.2M145 198l1.1-.7M154 230l1.7-.5M145 200l1-.3M132 219l1-.7M155 221l1.9-1.1M150 215l3.2-1.5M143 212l2.9-1.4M177 181l1.2-.9M122 201l1.7-.8M174 215l3.5-2M168 185l2.9-1.7M193 198l3.7-1.9M163 228l1.1-.8M158 182l2.2-1.4M164 173l.8-.6M153 169l1.2-.7M161 172l2.9-1M94 224l1.4-1M78 208l3.4-1.8M109 206l2.6-1.3M72 225l3.5-1.9M60 203l2.3-1M58 209l3.7-2.6M100 209l3.1-.9M100 208l2.5-1.1M84 223l2.8-1.9"/>
<path class="ky w6" d="M137 226l2.2-.9M158 181l2.7-1.1M134 198l3.9-3.2M199 196l1.8-.6M160 211l1.5-.7M163 173l3.9-1.7M188 191l3.7-1.3M153 202l1.9-.5M163 214l2-1.3M182 216l4.1-3.2M71 218l1.8-1.5"/>
<path class="ky w7" d="M197 206l1.9-.6M163 231l3.9-1.2M161 174l1.7-.7M177 221l1.5-.6M182 180l1.4-.5M131 229l3-1.5M91 221l1.3-1M110 200l5-1.4"/>
<path class="ky w8" d="M186 211l1.1-.7M140 178l1.2-.4M164 215l1.8-.7"/>
<path class="ko w3" d="M137 226l2.3-.9M163 173l4-1.8M163 214l2.1-1.3"/>
<path class="ko w4" d="M134 198l3.6-3M199 196l1.4-.5M162 231l4-1.3M177 221l1.6-.6M181 180l1.5-.5M160 211l1.2-.5M131 229l3.1-1.6M182 215l3.8-2.9M91 221l1.4-1.1M110 200l5.1-1.4M71 218l1.5-1.2"/>
<path class="ko w5" d="M186 211l1.2-.8M140 178l1.3-.5M197 206l1.5-.5M164 215l1.9-.7M161 174l1.3-.5"/>
<use href="#mapg"/>
</g>
<rect x="0.5" y="0.5" width="305" height="230" fill="none" stroke="#555" stroke-width="1"/>
<rect x="5.5" y="3.5" width="15" height="21" fill="#fff" stroke="#555" stroke-width="1"/>
<text class="t" x="13.5" y="17.6" font-size="13.5" text-anchor="middle">5</text>
</g>
<g transform="translate(315,243)">
<g clip-path="url(#cp1)" stroke-linecap="round">
<ellipse cx="280.0" cy="63.0" rx="5.8" ry="1.5" transform="rotate(-40.0 280.0 63.0)" fill="#b8c4ec"/>
<ellipse cx="288.7" cy="54.6" rx="6.4" ry="1.6" transform="rotate(-40.0 288.7 54.6)" fill="#b8c4ec"/>
<ellipse cx="289.2" cy="54.6" rx="2.1" ry="1.1" transform="rotate(-40.0 289.2 54.6)" fill="#5058d8"/>
<ellipse cx="297.1" cy="50.1" rx="4.0" ry="1.2" transform="rotate(-40.0 297.1 50.1)" fill="#b8c4ec"/>
<ellipse cx="297.6" cy="50.1" rx="1.5" ry="1.1" transform="rotate(-40.0 297.6 50.1)" fill="#5058d8"/>
<ellipse cx="239.7" cy="81.3" rx="3.4" ry="2.0" transform="rotate(-7.7 239.7 81.3)" fill="#b8c4ec"/>
<ellipse cx="222.2" cy="75.9" rx="3.8" ry="1.4" transform="rotate(-13.4 222.2 75.9)" fill="#a5a5a5"/>
<ellipse cx="221.9" cy="79.1" rx="3.0" ry="1.9" transform="rotate(-17.9 221.9 79.1)" fill="#b8c4ec"/>
<ellipse cx="221.8" cy="52.2" rx="3.0" ry="1.3" transform="rotate(-3.2 221.8 52.2)" fill="#a5a5a5"/>
<path class="klb w3" d="M297 119l6.2-4.4M230 150l10.2-8.5M260 132l12.6-8.1M255 120l14.5-8.5M257 111l5.1-4.4M279 90l11.2-9.4M250 115l5.5-4.2M297 103l14.6-10.2M265 123l11-9.4M287 127l11.9-7.1M270 117l5.1-3.4M281 105l10.8-7.2M222 146l13.2-7.8M295 110l9.1-5.4M215 168l11.5-8.2M290 146l10.1-8.9M219 167l10.6-7.9"/>
<path class="klb w4" d="M255 154l8.2-6.8M198 171l7.9-6.2M259 148l14.1-10.4M295 86l9.4-8.1M248 128l8.4-5.1M235 146l10.4-7.9M287 96l12.9-10M265 153l7.6-6.6M258 106l10.8-7.3M246 164l10.7-7.3M233 165l6.1-4.7M253 147l8.4-5M228 165l14.5-9.4M283 111l13.1-11.7M226 164l8.3-7M258 161l10-8.8M218 158l7.7-5.3"/>
<path class="klb w5" d="M227 141l13.5-8.5M245 135l12.6-9.7M267 123l8.5-5.4M278 130l14.5-8.5M298 118l11-9.7M211 169l5.7-4.6M278 123l8.1-6.7M285 134l14.4-10M259 143l10-8.6M255 121l11.4-7.3M230 166l14-8.7M274 106l8.3-5M284 82l11.1-9.1M265 141l7.2-5.9M245 118l9.9-8.4M274 96l8-5M271 112l10.4-6.5M288 110l15.2-9.3M254 138l9.8-8.6M198 168l11.9-7.7M223 167l7-5.6M269 131l7.9-5.5M246 138l10-7.9"/>
<path class="klb w6" d="M275 134l13.4-8M285 97l11.1-9.6M278 116l11.5-7.9M283 120l11.8-8.5M221 157l7.5-5.7M195 175l12-10.2M279 102l12.3-9.7M282 125l10.5-7.1M302 90l7.1-5.6M275 149l8.3-6.2M217 150l8.4-7M292 86l11.8-7.9M297 103l8.4-6.8M222 170l8.3-7.3M278 129l14.2-11M290 88l8.7-7M246 132l13.2-11.3M274 139l14.5-9.2"/>
<path class="kg w3" d="M256 144l11.8-8M286 103l11.6-7.2M265 106l9.9-6.8M296 133l5.8-3.6M269 140l9.3-5.8M297 94l13.4-7.8M280 103l12.2-7.5M235 137l14.6-9.5M224 157l13.6-9.2M300 109l5.3-4.3M284 108l8.7-6.9M273 103l9.1-5.5M287 119l10.9-7.4M249 143l13-11.4M254 113l10.1-6.2M266 152l9.8-7.2M265 102l11.5-8.7M265 157l6.8-4.7M279 92l6.3-4.1M255 160l7.2-5.1M219 156l11.1-7.9M302 104l7-5.2M232 144l9.1-6.2M263 134l10.5-6.9M266 108l8.4-6.7M298 74l14.2-10.6M252 138l8.9-7.3M276 123l7.6-5.2M208 166l7.3-5M259 125l11.5-10.1M257 143l6.2-5.3M251 138l11.5-8.6M257 147l13.7-8.4M287 90l8.6-5.1M257 142l11.7-8.3M280 88l13-8M289 114l11.9-10.5M243 134l7.2-5.7M278 116l12.3-10.7M240 145l11.3-6.7M210 171l12.3-9.4M272 99l11.6-8.5M291 104l8.4-6.3M244 157l5.6-3.8M249 154l10.2-8.9M274 136l12.4-9.9M252 123l9.1-7.6M248 142l9.2-5.5"/>
<path class="kg w4" d="M253 120l5.8-4.3M287 142l7.7-5M278 132l7.9-7.1M280 109l11.1-9.1M227 146l6.3-5.6M271 117l8.4-5.3M236 138l6-5.1M249 163l8.9-7.5M214 160l10.3-7.2M276 119l7.1-6.2M278 154l8.4-5.3M226 146l11.5-8.4M205 160l10.1-8M287 133l9.4-5.9M250 126l12.3-8.6M251 143l5.9-4.6M239 167l13-8.1M274 152l6.9-5.3M282 117l11.4-9.1M299 115l12.2-9.6M272 139l7-5.2M245 120l13.1-7.9M290 117l10.9-6.8M264 120l5.9-4.1M255 140l14.9-9.9M255 151l8-5.8M252 145l6.4-4.5M267 135l5.3-3.8M266 151l7.7-5.8M234 161l11.6-9.6M256 129l6.5-4.8M284 145l9.6-6.1M300 114l9.9-6M222 166l7.1-5.5M276 97l5.4-4.7M240 127l13.7-9.6M228 156l6-5.1M242 143l6.6-4.5M206 173l9.4-7.1M266 110l9-7.7M293 131l7-4.7M280 109l7.8-6.2M296 84l13.2-9M195 172l10.7-7.6M299 88l7.5-6.2M213 171l5.2-3.9M240 152l4.8-3.7M291 141l9.4-7.6M292 119l9.6-6.7M256 153l13.2-9.7M280 92l12.5-8.2M289 142l6.5-4.2M291 76l10.6-6.4M298 73l8.6-5.5M279 119l13.2-7.7M253 139l10.3-6.1"/>
<path class="kg w5" d="M240 128l12.1-9.7M292 83l14-10.6M242 166l4.8-4M275 134l8.9-5.4M264 126l8.7-5.5M261 102l12-8.8M296 138l8.3-6.5M242 149l12-10.2M242 159l8.4-5.2M252 116l10.4-6.5M262 122l13.2-10.6M254 139l7.7-5.7M287 134l7.7-5.3M266 144l8.5-6.5M296 125l12.8-10.8M299 112l6.1-4.5M265 99l9.1-7.6M255 120l14.3-10.3M246 166l4.9-4.1M241 128l9-5.9M296 83l13.5-11.5M236 146l6.6-4.1M266 122l11.2-6.8M244 135l6.5-4M297 136l15.4-9M294 76l10.9-6.9M270 115l5.4-3.7M273 153l10.1-7.6M232 153l6.2-5.1M280 106l13.5-10.8M215 171l10.1-9M252 129l13.1-11.6M291 84l6.6-4.6M219 159l5.9-4.4M296 118l13.9-10.2M287 130l12.6-10.8M260 139l11.2-6.6M202 160l14.1-8.9M290 94l11.3-9.1M293 135l6.4-5.6M226 154l11.6-9.5M266 124l6.6-4.2M249 115l15.5-9.1M288 143l12.4-8.9M270 106l5.9-3.4M231 137l4.7-4M231 161l6.9-5.9M289 96l11.4-6.8M256 110l8.2-5.4M258 153l7.5-4.9M270 140l12.8-9.2M251 144l5-3.6M256 121l6.6-3.9"/>
<path class="kg w6" d="M261 114l8.3-7.5M260 151l7.3-5.6M290 97l7.6-4.9M281 136l5.3-4.6M229 161l9.6-7.5M256 147l7.7-5.2M294 130l7.5-6.3M266 139l6.8-5M266 96l11.8-10.4M284 127l6.3-5.2M261 118l8.7-7.3M275 150l10.7-7.3M256 107l13-7.7M278 106l6.1-4.1M248 166l14.1-9.2M297 73l9.4-5.5M273 111l13.1-9.2M195 174l8.8-5.6M234 143l12-7.8M228 148l6.3-4.4M290 80l11-8M295 92l10.2-7.5M211 161l8-7M267 127l12-7.3M263 100l11.9-9.4M223 169l14.9-9.1M268 113l14.1-10.8M290 101l13.7-9.4M286 105l6.3-3.8M270 113l6.2-4.7M267 109l10.9-6.5M203 168l8.5-7.4M259 109l8.3-5.5M267 135l7.6-6M258 161l9.3-7.5M264 155l9.7-7.6M257 109l4.5-4M272 115l6.8-5.6M240 128l5.9-3.6M269 145l13.1-9.9M250 117l8.1-6.8M222 155l7-4.4M302 118l8.4-6.3M237 153l14.1-10.4M296 124l5.5-3.5M248 121l12.6-7.8M289 109l11.3-7.1M229 146l11.3-9.2M271 103l6.1-4.2M273 103l7.2-6M299 123l10.1-6.6M233 135l9.8-7.1M300 115l6.5-3.9M272 119l7.2-4.9M264 102l8-6.3M259 126l6.1-5.1M245 128l8.2-7.3M253 118l11.2-8M244 162l10.1-6.3M231 160l8-5.7M250 129l14.4-8.9M252 134l6.6-5.3M240 150l13.4-11.4M241 137l5.7-3.7M301 133l6-4.3M277 115l11.8-8.7M203 167l9.4-8M244 138l13.1-9.1"/>
<ellipse cx="294.0" cy="76.0" rx="12.0" ry="2.5" transform="rotate(-30.0 294.0 76.0)" fill="#a5a5a5"/>
<ellipse cx="300.0" cy="84.0" rx="8.0" ry="2.0" transform="rotate(-30.0 300.0 84.0)" fill="#a5a5a5"/>
<ellipse cx="286.0" cy="86.0" rx="7.0" ry="2.0" transform="rotate(-35.0 286.0 86.0)" fill="#a5a5a5"/>
<ellipse cx="300.0" cy="70.0" rx="8.0" ry="1.6" transform="rotate(-30.0 300.0 70.0)" fill="#a5a5a5"/>
<path d="M202 165L234 139L254 117L269 107L288 100L306 90L306 136L296 138L288 146L274 153L261 158L244 163L224 166L201 171Z" fill="#b8c4ec"/>
<ellipse cx="296.0" cy="97.0" rx="7.0" ry="1.6" transform="rotate(-25.0 296.0 97.0)" fill="#a5a5a5"/>
<ellipse cx="282.0" cy="106.0" rx="5.0" ry="1.4" transform="rotate(-25.0 282.0 106.0)" fill="#a5a5a5"/>
<path d="M199 169L219 156L234 144L254 122L274 109L293 102L306 97L306 132L296 136L288 142L274 150L261 156L244 161L224 164L201 171Z" fill="#5058d8"/>
<path d="M212 164L226 156L240 146L256 128L276 114L306 104L306 126L294 130L282 136L268 144L252 150L234 158L218 164Z" fill="#5058d8"/>
<path class="kt w3" d="M248 148l4.3-2.5M283 132l6.6-5.3M248 143l3.2-2.6M301 107l2.1-1.3M271 139l4.5-4M299 117l1.9-1.7M302 116l2.1-1.6M251 140l5.7-4.7M300 124l1.8-1.2M245 141l3.9-3.3M250 147l2-1.4M260 128l3.4-2.7"/>
<path class="kt w4" d="M287 111l3.1-2M240 155l2.3-1.9M248 141l2.7-2.3M277 128l5.5-4M274 124l1.9-1.4M250 134l3.2-2M257 135l3.6-3.1M290 128l2.5-2M272 118l3.8-2.5M237 151l6.1-5.1M254 132l4.2-3.5"/>
<path class="kt w5" d="M286 114l1.6-1.4M298 110l1.9-1.4M275 123l7.2-4.6M247 142l5.3-3.8M271 137l4.6-3.5M240 149l7.1-4.7M271 140l2.9-2.4M271 127l2.3-1.4M303 114l2.6-2.1"/>
<path class="kt w6" d="M278 115l6.4-4.9M298 127l3.9-3.1M279 118l2.5-2.1M213 164l4.4-2.8M291 124l4.2-2.9M289 132l7.2-5.1M294 111l5.6-4.7"/>
<path class="klb w3" d="M253 132l5.9-3.9M296 127l5.6-4.8M257 145l3.2-2.3M255 132l4.6-2.8M260 144l5.4-4.7M294 127l2.9-2.3M239 153l5.5-3.8M270 138l2.5-1.9M263 129l2.3-1.8"/>
<path class="klb w4" d="M285 117l2.8-2.5M289 116l1.9-1.6M245 143l2.3-1.4M273 135l3.2-2.6"/>
<path class="klb w5" d="M302 113l5-3.3M295 112l6.3-4.9M277 133l2.4-1.6M245 141l6.3-4.8M275 118l6.1-3.9M277 120l5.2-3"/>
<path class="klb w6" d="M235 155l3.7-2.7M275 139l4.5-2.6M237 152l2.8-1.7M260 131l4.4-3.4M261 145l3-2.2M267 121l5.1-3.5"/>
<path class="kgr w3" d="M249 146l6.3-5.1M296 122l7.3-4.9M253 135l3-2"/>
<path class="kgr w4" d="M260 147l2-1.5M267 134l4.4-3.5M293 125l2.6-1.8M254 149l5.1-3.5M224 158l3.1-1.8"/>
<path class="kgr w5" d="M281 133l3.5-3"/>
<path class="kgr w6" d="M275 135l5.5-4"/>
<path class="kg w3" d="M274 130l3.2-2.4"/>
<path class="kg w4" d="M248 145l4.2-3.5"/>
<path class="kg w5" d="M259 140l5.6-3.4M258 129l4.9-4.3M250 138l6.3-4.3"/>
<path class="kg w6" d="M264 135l2-1.4M219 161l1.8-1.3"/>
<path class="kb w3" d="M268 127l4.9-4M274 130l2.2-1.7M276 139l4.3-3.8M278 115l4.9-3.8M257 128l7.4-4.4M271 140l5.2-4.2M244 145l5.6-4.2M234 157l5.9-4.3"/>
<path class="kb w4" d="M240 151l3.8-2.8M290 120l6.8-5.3M250 135l1.8-1.3"/>
<path class="kb w5" d="M262 146l5.9-3.6M303 125l3.8-3.1M256 147l7-4.7M250 139l3.2-2.9"/>
<path class="kb w6" d="M250 146l2.5-2.1M274 138l6.4-4.3M286 135l6.8-4.8M283 119l3.5-2.6M262 126l6.4-3.9M273 120l1.9-1.7M258 138l4.8-3.6M294 122l5.2-3.3M254 135l2-1.5M255 138l2.2-1.5M289 132l4.7-3.9"/>
<path d="M268 114L284 107L306 102L306 134L296 134L284 134L272 130Z" fill="#50969a"/>
<path class="kgr w3" d="M275 130l3.8-2.9M295 106l3.6-2.7M286 126l6.2-4.5M273 123l7.1-5.4M278 131l7.3-4.7M277 111l1.7-1.3"/>
<path class="kgr w4" d="M290 124l1.7-1.3M277 129l7.6-4.5M284 124l6.6-4M281 115l1.5-1.3M301 116l2-1.2"/>
<path class="kgr w5" d="M281 130l2.5-2.1M294 109l5.9-4.1M294 114l2.8-1.9M287 109l5.2-3.9M272 131l3.2-2.2M290 119l4.8-2.8M288 127l5.2-3.5"/>
<path class="kgr w6" d="M301 135l6.4-4M296 118l4.1-2.4M285 127l2.5-2.2M303 112l3.6-3.1"/>
<path class="klb w3" d="M291 109l5.4-4.6"/>
<path class="klb w4" d="M290 123l6.4-4.1M281 127l6.3-5.5M302 133l5.3-3.6"/>
<path class="klb w5" d="M282 113l1.8-1.5M301 122l7-5M293 134l5.7-4.3M292 112l5.5-4.1M269 116l3.4-2.2"/>
<path class="klb w6" d="M270 128l7.5-4.4M290 107l3.4-2.9M291 111l5.9-5.2M276 127l4.9-4.2"/>
<path class="kb w3" d="M294 133l2-1.7M285 127l5.8-3.7"/>
<path class="kb w4" d="M284 118l4.4-3.6M291 131l5.8-4.9"/>
<path class="kb w5" d="M297 136l6.8-5.1M303 106l4.8-3.7M291 125l6.4-5.1"/>
<path class="kb w6" d="M301 112l5.4-3.2M269 121l1.8-1.6M298 115l3.8-2.2"/>
<path class="klg w3" d="M300 124l4.3-3.8M288 116l6.1-4.7"/>
<path class="klg w5" d="M285 113l1.8-1.5"/>
<path class="klg w6" d="M301 110l7.1-4.2"/>
<path class="ky w3" d="M301 115l2.5-1.8M290 107l6.6-3.8M289 117l6.4-5"/>
<path class="ky w4" d="M296 130l4.7-3.5"/>
<path class="ky w5" d="M303 124l4.9-3.5"/>
<path class="ky w6" d="M284 122l3-2.2M273 131l2.8-2.2M288 112l4.8-3.2"/>
<path class="kt w3" d="M295 130l4.9-3.4M274 121l5.5-3.3M300 118l5-4.2M298 122l5.9-4M276 129l7.5-4.3"/>
<path class="kt w4" d="M276 133l4-3.3M269 117l1.8-1.1"/>
<path class="kt w5" d="M280 115l2.5-1.5"/>
<path class="kt w6" d="M301 109l2.3-1.8"/>
<path d="M220 158L230 150L238 146L244 150L232 158L222 162Z" fill="#008000"/>
<ellipse cx="250.0" cy="140.0" rx="6.0" ry="2.0" transform="rotate(-30.0 250.0 140.0)" fill="#b8c4ec"/>
<ellipse cx="262.0" cy="132.0" rx="4.0" ry="1.5" transform="rotate(-30.0 262.0 132.0)" fill="#b8c4ec"/>
<ellipse cx="270.0" cy="148.0" rx="6.0" ry="1.8" transform="rotate(-25.0 270.0 148.0)" fill="#5058d8"/>
<ellipse cx="281.0" cy="127.0" rx="3.5" ry="3.5" transform="rotate(0.0 281.0 127.0)" fill="#b8c4ec"/>
<ellipse cx="281.0" cy="127.0" rx="3.0" ry="3.0" transform="rotate(0.0 281.0 127.0)" fill="#5058d8"/>
<ellipse cx="281.0" cy="127.0" rx="2.4" ry="2.4" transform="rotate(0.0 281.0 127.0)" fill="#008000"/>
<ellipse cx="281.0" cy="127.0" rx="1.8" ry="1.8" transform="rotate(0.0 281.0 127.0)" fill="#f0d860"/>
<ellipse cx="281.0" cy="127.0" rx="1.2" ry="1.2" transform="rotate(0.0 281.0 127.0)" fill="#f0b020"/>
<ellipse cx="298.0" cy="122.0" rx="3.5" ry="3.5" transform="rotate(0.0 298.0 122.0)" fill="#b8c4ec"/>
<ellipse cx="298.0" cy="122.0" rx="3.0" ry="3.0" transform="rotate(0.0 298.0 122.0)" fill="#5058d8"/>
<ellipse cx="298.0" cy="122.0" rx="2.4" ry="2.4" transform="rotate(0.0 298.0 122.0)" fill="#008000"/>
<ellipse cx="298.0" cy="122.0" rx="1.8" ry="1.8" transform="rotate(0.0 298.0 122.0)" fill="#f0d860"/>
<ellipse cx="298.0" cy="122.0" rx="1.2" ry="1.2" transform="rotate(0.0 298.0 122.0)" fill="#f0b020"/>
<ellipse cx="290.0" cy="128.0" rx="2.5" ry="2.5" transform="rotate(0.0 290.0 128.0)" fill="#b8c4ec"/>
<ellipse cx="290.0" cy="128.0" rx="2.1" ry="2.1" transform="rotate(0.0 290.0 128.0)" fill="#5058d8"/>
<ellipse cx="290.0" cy="128.0" rx="1.8" ry="1.8" transform="rotate(0.0 290.0 128.0)" fill="#008000"/>
<ellipse cx="290.0" cy="128.0" rx="1.3" ry="1.3" transform="rotate(0.0 290.0 128.0)" fill="#f0d860"/>
<ellipse cx="303.0" cy="130.0" rx="2.0" ry="2.0" transform="rotate(0.0 303.0 130.0)" fill="#b8c4ec"/>
<ellipse cx="303.0" cy="130.0" rx="1.7" ry="1.7" transform="rotate(0.0 303.0 130.0)" fill="#5058d8"/>
<ellipse cx="303.0" cy="130.0" rx="1.4" ry="1.4" transform="rotate(0.0 303.0 130.0)" fill="#008000"/>
<ellipse cx="303.0" cy="130.0" rx="1.0" ry="1.0" transform="rotate(0.0 303.0 130.0)" fill="#f0d860"/>
<ellipse cx="261.0" cy="146.0" rx="3.0" ry="2.5" transform="rotate(0.0 261.0 146.0)" fill="#b8c4ec"/>
<ellipse cx="261.0" cy="146.0" rx="2.6" ry="2.1" transform="rotate(0.0 261.0 146.0)" fill="#5058d8"/>
<ellipse cx="261.0" cy="146.0" rx="2.1" ry="1.8" transform="rotate(0.0 261.0 146.0)" fill="#008000"/>
<ellipse cx="261.0" cy="146.0" rx="1.6" ry="1.3" transform="rotate(0.0 261.0 146.0)" fill="#f0d860"/>
<ellipse cx="239.0" cy="154.0" rx="2.5" ry="2.5" transform="rotate(0.0 239.0 154.0)" fill="#b8c4ec"/>
<ellipse cx="239.0" cy="154.0" rx="2.1" ry="2.1" transform="rotate(0.0 239.0 154.0)" fill="#5058d8"/>
<ellipse cx="239.0" cy="154.0" rx="1.8" ry="1.8" transform="rotate(0.0 239.0 154.0)" fill="#008000"/>
<ellipse cx="239.0" cy="154.0" rx="1.3" ry="1.3" transform="rotate(0.0 239.0 154.0)" fill="#f0d860"/>
<ellipse cx="274.0" cy="156.0" rx="3.0" ry="2.5" transform="rotate(0.0 274.0 156.0)" fill="#b8c4ec"/>
<ellipse cx="274.0" cy="156.0" rx="2.6" ry="2.1" transform="rotate(0.0 274.0 156.0)" fill="#5058d8"/>
<ellipse cx="274.0" cy="156.0" rx="2.1" ry="1.8" transform="rotate(0.0 274.0 156.0)" fill="#008000"/>
<ellipse cx="274.0" cy="156.0" rx="1.6" ry="1.3" transform="rotate(0.0 274.0 156.0)" fill="#f0d860"/>
<ellipse cx="286.0" cy="112.0" rx="2.0" ry="2.0" transform="rotate(0.0 286.0 112.0)" fill="#b8c4ec"/>
<ellipse cx="286.0" cy="112.0" rx="1.7" ry="1.7" transform="rotate(0.0 286.0 112.0)" fill="#5058d8"/>
<ellipse cx="286.0" cy="112.0" rx="1.4" ry="1.4" transform="rotate(0.0 286.0 112.0)" fill="#008000"/>
<path d="M240 222L244 208L252 196L262 188L272 180L282 172L290 160L300 154L306 150L306 168L296 174L286 184L276 194L266 204L258 216L252 226Z" fill="#b8c4ec"/>
<path d="M243 221L247 208L255 198L264 190L274 182L284 174L292 163L301 157L306 154L306 164L295 171L285 181L275 191L265 201L256 213L250 223Z" fill="#5058d8"/>
<path d="M246 219L250 208L257 200L266 192L276 184L286 176L293 166L302 160L306 158L306 162L294 168L284 178L274 188L264 198L255 210L249 220Z" fill="#008000"/>
<path d="M249 216L252 208L259 201L268 194L278 186L288 178L295 169L302 163L292 170L282 180L272 190L262 200L254 210Z" fill="#f0d860"/>
<ellipse cx="264.0" cy="192.0" rx="2.5" ry="2.5" transform="rotate(0.0 264.0 192.0)" fill="#f0b020"/>
<ellipse cx="264.0" cy="193.0" rx="1.3" ry="1.3" transform="rotate(0.0 264.0 193.0)" fill="#8c5a40"/>
<ellipse cx="276.0" cy="184.0" rx="2.5" ry="2.5" transform="rotate(0.0 276.0 184.0)" fill="#f0b020"/>
<ellipse cx="288.0" cy="170.0" rx="2.0" ry="2.0" transform="rotate(0.0 288.0 170.0)" fill="#f0b020"/>
<ellipse cx="250.0" cy="214.0" rx="2.5" ry="2.5" transform="rotate(0.0 250.0 214.0)" fill="#f0b020"/>
<ellipse cx="250.0" cy="215.0" rx="1.2" ry="1.2" transform="rotate(0.0 250.0 215.0)" fill="#f05080"/>
<ellipse cx="273.0" cy="156.0" rx="3.5" ry="2.5" transform="rotate(0.0 273.0 156.0)" fill="#b8c4ec"/>
<ellipse cx="273.0" cy="156.0" rx="3.0" ry="2.1" transform="rotate(0.0 273.0 156.0)" fill="#5058d8"/>
<ellipse cx="273.0" cy="156.0" rx="2.4" ry="1.8" transform="rotate(0.0 273.0 156.0)" fill="#008000"/>
<ellipse cx="273.0" cy="156.0" rx="1.8" ry="1.3" transform="rotate(0.0 273.0 156.0)" fill="#f0d860"/>
<ellipse cx="248.0" cy="184.0" rx="3.0" ry="2.5" transform="rotate(0.0 248.0 184.0)" fill="#b8c4ec"/>
<ellipse cx="248.0" cy="184.0" rx="2.6" ry="2.1" transform="rotate(0.0 248.0 184.0)" fill="#5058d8"/>
<ellipse cx="248.0" cy="184.0" rx="2.1" ry="1.8" transform="rotate(0.0 248.0 184.0)" fill="#008000"/>
<ellipse cx="248.0" cy="184.0" rx="1.6" ry="1.3" transform="rotate(0.0 248.0 184.0)" fill="#f0d860"/>
<ellipse cx="300.0" cy="176.0" rx="2.0" ry="2.0" transform="rotate(0.0 300.0 176.0)" fill="#b8c4ec"/>
<ellipse cx="300.0" cy="176.0" rx="1.7" ry="1.7" transform="rotate(0.0 300.0 176.0)" fill="#5058d8"/>
<ellipse cx="300.0" cy="176.0" rx="1.4" ry="1.4" transform="rotate(0.0 300.0 176.0)" fill="#008000"/>
<ellipse cx="238.0" cy="177.0" rx="6.0" ry="2.5" transform="rotate(-20.0 238.0 177.0)" fill="#a5a5a5"/>
<path d="M168 184L178 176L194 175L204 180L206 192L196 200L180 200L170 194Z" fill="#b8c4ec"/>
<path d="M171 185L180 178L193 177L202 182L203 191L195 198L181 198L173 193Z" fill="#50969a"/>
<path class="kgr w3" d="M181 187l5.4-3.7M171 192l4.6-3"/>
<path class="kgr w4" d="M188 183l4-2.4M174 193l3.7-2.9M177 181l4.9-4.2M182 192l4.2-2.7"/>
<path class="kgr w5" d="M180 192l6.8-4.8"/>
<path class="kgr w6" d="M191 194l6-5.2M197 187l4.5-2.7M193 186l6.2-5.3"/>
<path class="klb w3" d="M176 185l1.7-1.5M182 198l5.8-4.7"/>
<path class="klb w4" d="M196 182l2.2-1.3"/>
<path class="klb w6" d="M189 189l5.3-3.6M194 185l5.4-3.1"/>
<path class="kb w3" d="M198 191l6.6-4.7M170 188l2.5-1.7"/>
<path class="kb w5" d="M198 193l2.5-2"/>
<path class="kb w6" d="M178 185l2.9-2.3"/>
<path class="klg w3" d="M186 182l5.5-3.3"/>
<path class="klg w4" d="M185 188l4.5-2.9M190 200l7.4-5M197 183l4.5-3M195 190l3.4-2.4"/>
<path class="klg w5" d="M180 192l3.5-3M171 192l2.7-2.4M188 193l5-3.7M199 187l6-5"/>
<path class="ky w3" d="M180 188l5.7-5"/>
<path class="ky w5" d="M177 190l1.8-1.1M180 191l5-3.5"/>
<path class="ky w6" d="M196 185l7.3-5.2M184 195l4.1-2.8M177 193l3-2.2"/>
<path class="kt w4" d="M184 192l5.3-3.7"/>
<path class="kt w6" d="M193 185l4.6-2.8"/>
<path d="M175 186L182 181L192 180L199 184L200 190L194 195L183 195L176 191Z" fill="#f0d860"/>
<path class="ko w3" d="M180 185l6.8-4.7M180 188l6.1-4M192 194l4.7-3.9"/>
<path class="ko w4" d="M181 189l2.2-1.3"/>
<path class="ko w5" d="M191 185l3.8-3.2"/>
<path class="ko w6" d="M182 193l2.7-1.8M180 193l4.2-3.5"/>
<path class="klg w3" d="M183 193l5.6-4.9"/>
<path class="kgr w3" d="M181 187l2.1-1.4"/>
<path class="kgr w5" d="M186 191l2.8-2.1"/>
<path class="kgr w6" d="M195 184l3.1-2.5M182 190l5.3-3.2"/>
<path class="ky w3" d="M189 183l3.1-2.1M189 186l4-2.6M183 189l2.8-1.8"/>
<path class="ky w4" d="M186 190l6.3-4M177 190l5.3-3.9"/>
<path class="kbr w3" d="M178 188l5.6-3.5"/>
<path class="kb w4" d="M181 195l3.6-2.3M193 184l2.1-1.8"/>
<ellipse cx="188.0" cy="186.0" rx="3.0" ry="3.0" transform="rotate(0.0 188.0 186.0)" fill="#f0b020"/>
<ellipse cx="189.0" cy="187.0" rx="1.5" ry="1.5" transform="rotate(0.0 189.0 187.0)" fill="#c08838"/>
<ellipse cx="195.0" cy="190.0" rx="2.0" ry="2.0" transform="rotate(0.0 195.0 190.0)" fill="#f0b020"/>
<ellipse cx="194.0" cy="198.0" rx="2.5" ry="2.5" transform="rotate(0.0 194.0 198.0)" fill="#b8c4ec"/>
<ellipse cx="194.0" cy="198.0" rx="2.1" ry="2.1" transform="rotate(0.0 194.0 198.0)" fill="#5058d8"/>
<ellipse cx="194.0" cy="198.0" rx="1.8" ry="1.8" transform="rotate(0.0 194.0 198.0)" fill="#008000"/>
<ellipse cx="194.0" cy="198.0" rx="1.3" ry="1.3" transform="rotate(0.0 194.0 198.0)" fill="#f0d860"/>
<ellipse cx="194.0" cy="198.0" rx="0.9" ry="0.9" transform="rotate(0.0 194.0 198.0)" fill="#f0b020"/>
<ellipse cx="194.0" cy="198.0" rx="0.6" ry="0.6" transform="rotate(0.0 194.0 198.0)" fill="#8c5a40"/>
<ellipse cx="194.0" cy="198.0" rx="0.6" ry="0.6" transform="rotate(0.0 194.0 198.0)" fill="#f05080"/>
<ellipse cx="177.0" cy="201.0" rx="2.5" ry="2.5" transform="rotate(0.0 177.0 201.0)" fill="#b8c4ec"/>
<ellipse cx="177.0" cy="201.0" rx="2.1" ry="2.1" transform="rotate(0.0 177.0 201.0)" fill="#5058d8"/>
<ellipse cx="177.0" cy="201.0" rx="1.8" ry="1.8" transform="rotate(0.0 177.0 201.0)" fill="#008000"/>
<ellipse cx="177.0" cy="201.0" rx="1.3" ry="1.3" transform="rotate(0.0 177.0 201.0)" fill="#f0d860"/>
<ellipse cx="177.0" cy="201.0" rx="0.9" ry="0.9" transform="rotate(0.0 177.0 201.0)" fill="#f0b020"/>
<ellipse cx="177.0" cy="201.0" rx="0.6" ry="0.6" transform="rotate(0.0 177.0 201.0)" fill="#8c5a40"/>
<ellipse cx="177.0" cy="201.0" rx="0.6" ry="0.6" transform="rotate(0.0 177.0 201.0)" fill="#f05080"/>
<path d="M196 214L204 208L216 208L226 212L230 222L228 231L196 231Z" fill="#b8c4ec"/>
<path d="M199 216L206 211L216 211L224 214L227 222L226 231L199 231Z" fill="#50969a"/>
<path class="kgr w3" d="M205 230l2.1-1.5M201 232l2.9-1.7M200 231l4.2-2.5M221 217l2.5-1.9"/>
<path class="kgr w4" d="M214 212l2.8-1.8M214 229l3.1-2.7M207 217l2-1.4M199 218l5.9-4.4"/>
<path class="kgr w5" d="M200 226l3-2.2M217 220l3.3-2.6M199 230l5.1-4.4"/>
<path class="kgr w6" d="M220 227l7.7-4.5M209 232l6.6-4.1M214 220l2.2-1.3"/>
<path class="klb w3" d="M206 222l4-2.4"/>
<path class="klb w4" d="M204 214l5.2-3.5"/>
<path class="kb w3" d="M200 228l2.5-1.6"/>
<path class="kb w4" d="M203 218l3-2.2M200 225l1.6-1.4"/>
<path class="kb w6" d="M203 220l3.9-3M220 226l4.3-3.3M199 217l6.4-4.7M201 221l6.8-5.2"/>
<path class="klg w4" d="M208 221l3.4-2.3"/>
<path class="klg w5" d="M210 223l4.3-3.2"/>
<path class="klg w6" d="M218 226l6-4.4"/>
<path class="ky w4" d="M220 221l5.2-4.3M200 219l2.2-1.3"/>
<path class="ky w5" d="M211 228l3.4-2.4M223 226l3.5-2.5"/>
<path class="ky w6" d="M202 231l3.5-2.1M217 221l7.5-4.9"/>
<path class="kt w5" d="M220 232l2.9-2.2"/>
<path class="kt w6" d="M211 224l5.4-4.4M202 223l6.8-4.6"/>
<path d="M202 218L208 214L216 214L222 217L224 224L222 231L202 231Z" fill="#f0d860"/>
<path class="ko w3" d="M202 224l6.3-4.7"/>
<path class="ko w4" d="M207 223l2.2-1.4M204 227l5.5-4.6M219 231l5.5-4.5"/>
<path class="ko w5" d="M217 218l2.1-1.5M206 232l2.2-1.3M218 232l3.9-2.7"/>
<path class="ko w6" d="M207 226l4.4-2.9"/>
<path class="klg w3" d="M202 226l6.6-3.9"/>
<path class="klg w4" d="M212 232l5.6-4.7M205 223l5-4.2"/>
<path class="klg w5" d="M212 232l6.1-4.9"/>
<path class="kgr w3" d="M206 225l2.1-1.8M205 229l4.8-3.9"/>
<path class="kgr w4" d="M213 231l5.7-4"/>
<path class="kgr w6" d="M215 231l7-4.3M219 224l3.8-2.7"/>
<path class="ky w3" d="M208 233l5.9-4.1"/>
<path class="ky w4" d="M209 226l1.7-1.3M208 231l3.2-2.8"/>
<path class="ky w5" d="M216 219l2.6-2M210 222l2.8-1.7"/>
<path class="ky w6" d="M216 221l6.5-3.8"/>
<ellipse cx="214.0" cy="224.0" rx="3.0" ry="3.0" transform="rotate(0.0 214.0 224.0)" fill="#f0b020"/>
<ellipse cx="221.0" cy="224.0" rx="1.5" ry="1.5" transform="rotate(0.0 221.0 224.0)" fill="#f05080"/>
<ellipse cx="212.0" cy="226.0" rx="1.5" ry="1.5" transform="rotate(0.0 212.0 226.0)" fill="#8c5a40"/>
<path class="klb w4" d="M124 166l.9-.3M150 156l.3-.2M214 64l1.1-.3M239 91l.8-.3M224 65l.4-.2M217 86l.8-.4M220 86l.9-.4M223 65l.9-.5"/>
<path class="klb w5" d="M125 174l.6-.4M123 174l.2-.2M136 162l.8-.2M156 162l1.1-.9M228 83l1.5-.8M231 63l.8-.3M234 73l1.1-.8"/>
<path class="klb w6" d="M55 224l1.1-.8M165 157l1.9-.6M133 166l1.3-.4M168 152l1.7-.5M113 176l1.3-1M157 157l.8-.3M120 169l1.1-.7M160 151l1-.3M161 159l1.2-1M143 167l1.4-.5M226 92l2.1-1M213 79l1.1-.8"/>
<path class="klb w7" d="M72 221l1.4-.7M90 214l1.5-.9M125 173l1-.3M122 173l1.2-.7M165 153l2.2-1M145 162l1-.4M118 175l.8-.4M180 143l1.3-.4M212 70l1.1-.8M262 211l.8-.4M261 201l1-.8M253 201l.9-.6"/>
<path class="klb w8" d="M200 205l1.9-.8M193 218l1.1-.3M169 182l1.7-1.3M82 223l1.4-.7M127 172l2.2-.9M114 173l.7-.5M121 174l2.7-.9"/>
<path class="klb w9" d="M160 212l.7-.4M159 186l3.3-1M192 202l2-1M190 229l2.1-.8M142 193l2.4-.7M169 224l2-1.3M169 175l2.9-1.4M173 196l1.1-.6M74 224l2-1M107 215l2.4-1.2M101 203l1.4-.9M82 224l1-.7M80 222l1.5-.5M41 221l.8-.6M65 228l2.7-.8M49 226l1.7-1.2M60 221l1-.5M178 149l2.9-1.4M163 154l1.7-.5M139 167l1.8-1.3M292 179l.9-.4M278 187l.6-.4"/>
<path class="klb w10" d="M164 225l1.9-.8M188 230l.6-.2M160 199l2.7-1.7M174 182l2-1.2M157 200l2.4-1.5M143 200l1.9-1.3M187 206l2-1M153 203l1.8-.9M142 178l2.6-1.3M158 196l2.2-.7M195 215l.7-.3M159 180l1.1-.9M185 223l2.4-.7M183 221l2-1.5M194 215l1-.3M165 217l1.1-1M143 185l3.3-1.2M133 185l1.5-1.2M73 224l1.5-1.2M69 223l1.3-.8M93 196l.8-.7M84 225l1.6-.5M74 219l2.1-.9M43 224l2-.7M46 228l1.4-.6M41 228l.6-.5M277 186l1.4-.7M298 173l2.3-1.8M293 163l1.6-.9M262 201l2-1.4"/>
<path class="klb w11" d="M186 211l2.6-1M173 198l2.1-1M154 221l1-.8M168 186l1.9-.6M185 209l3.2-1.8M196 224l1.2-.4M152 185l2.7-1.7M147 202l1.3-.5M160 215l3.4-1.2M141 219l3-2M146 185l3.7-1.3M126 195l.6-.2M95 216l1.8-1.3M97 200l2-1.4M92 197l2.2-.6M69 203l2.3-1.3M70 224l3.1-1.6M263 209l1.4-.6"/>
<path class="klb w12" d="M148 191l3.3-1.5M157 223l4.1-1.4M197 210l2.1-1.2M143 202l2.2-1.3M184 216l2.9-1M196 199l1.9-1.1M179 212l3.3-1.9M171 214l2.3-1.1M182 186l2.4-1.1M159 202l3.6-1.7M160 170l3.3-2.2M172 184l1.7-1.3M170 203l2.9-1.2M183 187l.9-.8M188 210l2.5-1.5M127 201l2.9-1.6M133 193l1.2-.5M129 197l2.9-1.1M140 192l1.8-1.1M119 188l1.4-1M86 202l1.7-.8M91 221l2.7-1.1M88 214l2.1-.8M99 209l3.1-1.8M86 201l.9-.5M78 198l2.7-1.6M81 218l3.1-1.7M58 224l3.3-1.2M36 231l1-.8M289 168l.9-.6M250 206l2.2-.8M258 199l1.4-.8M253 203l1-.5"/>
<path class="klb w13" d="M152 194l2.3-.9M167 172l1.5-.6M169 228l1.9-1.2M144 224l3.5-1.8M193 204l1.8-1.1M174 186l1.1-.8M186 187l3.1-.8M158 186l2.6-.7M141 174l2.7-1.3M171 199l2.2-1.2M149 214l2.8-.8M156 177l2.1-.8M156 177l3.5-1.1M171 190l3.3-1M168 170l3.4-1.2M160 183l1.2-.8M160 228l3.4-1.9M126 184l1.9-1.2M124 186l2.5-.9M84 219l1.9-.7M38 227l1.4-.8M265 190l2.7-.8M287 168l3.5-1M241 225l3.1-1.4"/>
<path class="klb w14" d="M144 225l3.5-1.8M175 177l1.4-1.1M171 185l2.9-1.1M143 218l3.8-2.6M190 200l2.8-2.2M188 223l3.3-1.6M177 230l2.2-1.7M152 171l3.8-2.1M139 192l2.2-.9M98 199l4.2-1.2M99 199l2.7-.8M96 212l1.6-.6M94 226l2.5-1.2M302 175l3.2-2.6"/>
<path class="klb w15" d="M189 209l3.2-1.8M149 217l2.6-1.7M167 209l3.7-2.9M194 208l2.7-1M146 166l4.3-2.5M185 210l2.3-.7M179 209l3.3-1.2M149 187l3.3-2.6M129 200l2.2-1M73 210l4.4-3.1M94 206l2.4-.9M86 213l1.8-1.1M246 212l3.6-1.4M299 163l1.4-1M300 160l2.3-1.1"/>
<path class="klb w16" d="M184 209l1-.7M182 205l1.9-.6M181 220l3.6-1.9M135 200l2.3-1"/>
<path class="kb w3" d="M165 157l2.1-.6M133 166l1.5-.4M168 152l1.9-.5M113 176l1.4-1.2M156 157l1-.3M120 169l1.2-.8M160 151l1.1-.4"/>
<path class="kb w4" d="M72 221l1.6-.7M55 224l.9-.6M145 162l1.2-.4M118 175l1-.5M180 143l1.5-.5M143 167l1.1-.4M226 92l1.8-.8M213 79l.9-.6M262 211l.9-.5M261 201l1.2-.9"/>
<path class="kb w5" d="M200 205l2.1-.9M192 218l1.3-.4M90 214l1.2-.7M82 223l1.6-.8M127 172l2.4-1M114 173l.8-.6M125 173l.7-.2M122 173l.9-.5M166 153l1.9-.9M212 70l.9-.6M254 201l.6-.4"/>
<path class="kb w6" d="M142 193l2.6-.8M169 182l1.5-1.1M173 196l1.2-.8M101 203l1.6-1M82 224l1.1-.8M80 222l1.7-.6M65 229l2.9-.8M49 226l1.8-1.3M60 221l1.2-.6M163 154l1.9-.6M122 174l2.4-.8M278 187l.8-.5"/>
<path class="kb w7" d="M164 225l2-.9M160 212l.5-.3M188 230l.8-.3M160 199l2.9-1.8M159 186l3-.9M192 202l1.7-.9M143 200l2-1.4M187 206l2.2-1.1M191 229l1.8-.7M153 203l1.9-1M158 196l2.3-.7M195 215l.8-.4M159 180l1.2-1M169 224l1.7-1.2M185 223l2.6-.7M183 221l2.1-1.6M169 175l2.6-1.3M165 217l1.3-1.1M74 224l1.7-.9M107 215l2.2-1.1M69 223l1.4-.9M93 196l1-.8M74 219l2.3-.9M43 224l2.2-.8M42 221l.5-.4M46 228l1.5-.6M41 228l.7-.6M178 149l2.6-1.3M140 167l1.6-1.1M292 179l.6-.2M277 186l1.6-.8M298 173l2.5-1.9M261 201l2.1-1.5"/>
<path class="kb w8" d="M185 211l2.8-1.1M174 182l1.8-1.1M157 200l2.1-1.4M142 178l2.3-1.1M154 221l1.2-.9M168 186l2.1-.7M185 209l3.4-1.9M196 224l1.4-.5M194 215l.7-.2M152 185l2.8-1.8M141 219l3.2-2.2M143 185l3-1.1M133 185l1.2-1M126 195l.8-.3M73 224l1.3-1.1M97 201l2.2-1.5M92 197l2.4-.7M84 225l1.3-.4M69 203l2.5-1.4M263 209l1.6-.7M293 163l1.3-.8"/>
<path class="kb w9" d="M147 191l3.5-1.6M197 210l2.3-1.4M173 198l1.9-.9M143 202l2.3-1.4M179 212l3.5-2M171 214l2.5-1.1M159 202l3.8-1.7M160 170l3.5-2.3M147 202l1-.4M160 215l3.1-1.1M188 210l2.7-1.6M147 185l3.5-1.2M128 197l3.1-1.1M140 192l2-1.2M91 221l2.9-1.2M95 216l1.5-1.2M88 214l2.3-.8M99 209l3.3-1.9M85 201l1.1-.6M78 198l2.9-1.7M70 224l2.8-1.5M58 224l3.5-1.3M36 231l1.1-.9M289 168l1.1-.7"/>
<path class="kb w10" d="M152 194l2.5-1M167 172l1.6-.6M169 228l2.1-1.3M157 223l3.9-1.3M144 224l3.6-1.9M184 216l2.6-.9M193 204l2-1.2M196 199l1.6-.9M186 187l3.2-.9M157 186l2.8-.8M141 174l2.9-1.4M182 186l2.1-1M170 199l2.4-1.3M149 214l3-.8M172 184l1.4-1.1M170 203l2.6-1.1M156 177l2.3-.9M156 177l3.7-1.1M183 187l.7-.6M127 201l2.6-1.5M126 184l2-1.3M133 193l.9-.4M119 188l1.2-.9M86 202l1.4-.7M84 219l2.1-.8M81 218l2.8-1.6M38 227l1.6-.9M250 205l1.9-.7M258 199l1.2-.7M253 203l.7-.4"/>
<path class="kb w11" d="M171 185l3.1-1.2M174 186l.9-.6M190 200l3-2.4M188 223l3.4-1.7M177 230l2.4-1.8M172 190l3-.9M168 170l3.1-1.1M160 182l.9-.6M160 227l3.1-1.8M124 186l2.2-.8M98 199l4.3-1.3M99 199l2.9-.9M96 212l1.7-.7M94 227l2.7-1.3M266 190l2.4-.7M288 168l3.2-.9M242 225l2.9-1.3"/>
<path class="kb w12" d="M189 209l3.4-1.9M145 225l3.2-1.6M149 217l2.8-1.8M167 209l3.8-3.1M194 208l2.9-1.1M175 176l1.1-.9M185 210l2.5-.7M143 218l3.5-2.4M179 209l3.5-1.3M149 187l3.5-2.7M152 171l3.5-2M129 200l2.3-1.1M139 192l1.9-.8M85 213l2-1.2M246 212l3.8-1.5M299 163l1.6-1.1M302 175l2.9-2.4M300 160l2.5-1.1"/>
<path class="kb w13" d="M183 209l1.2-.8M182 205l2.1-.7M146 166l4.1-2.3M181 220l3.8-2M135 200l2.5-1.1M73 210l4.2-2.9M94 206l2.2-.8"/>
<path class="kgr w2" d="M127 172l2.5-1M166 153l2.1-.9"/>
<path class="kgr w3" d="M122 174l2.6-.9"/>
<path class="kgr w4" d="M164 225l2.2-1M160 212l.6-.4M188 230l1-.4M159 186l3.2-.9M192 202l1.9-.9M187 206l2.4-1.2M190 229l2-.8M195 215l1-.4M159 180l1.4-1.1M169 224l1.9-1.3M185 223l2.8-.8M169 175l2.8-1.4M74 224l1.9-1M107 215l2.4-1.2M101 203l1.3-.8M82 224l.9-.6M80 222l1.4-.5M41 221l.7-.6M65 228l2.6-.8M49 226l1.6-1.1M60 221l.9-.4M178 149l2.8-1.4M163 154l1.6-.5M139 167l1.7-1.2M292 179l.8-.3M277 186l1.7-.9M297 173l2.7-2M261 201l2.3-1.6"/>
<path class="kgr w5" d="M160 199l2.6-1.7M174 182l2-1.2M157 200l2.3-1.5M143 200l1.8-1.2M153 203l1.7-.9M142 178l2.5-1.2M158 195l2.1-.7M154 221l1.3-1M168 187l2.3-.7M183 221l1.9-1.4M194 215l.9-.3M165 217l1.1-.9M143 185l3.2-1.2M133 185l1.4-1.2M126 195l1-.4M73 224l1.4-1.2M69 223l1.2-.8M97 201l2.4-1.6M93 196l.7-.6M84 225l1.5-.4M74 219l2-.8M43 224l1.9-.7M46 228l1.3-.5M41 228l.5-.4M263 209l1.8-.8M293 163l1.5-.9"/>
<path class="kgr w6" d="M186 211l2.5-1M173 198l2-1M178 212l3.6-2.1M185 209l3.1-1.7M196 224l1.1-.4M152 185l2.6-1.7M147 202l1.2-.5M160 215l3.3-1.2M141 219l2.9-2M146 185l3.6-1.3M140 192l2.2-1.3M95 216l1.7-1.3M98 209l3.5-1.9M92 197l2.1-.6M69 203l2.3-1.2M70 224l3-1.6M58 224l3.7-1.4"/>
<path class="kgr w7" d="M148 191l3.2-1.5M169 228l2.3-1.4M157 223l4-1.4M197 210l2-1.2M143 202l2.1-1.3M184 216l2.8-1M196 199l1.8-1M171 214l2.2-1M157 187l3-.8M141 174l3.1-1.5M182 186l2.3-1.1M170 199l2.6-1.4M159 202l3.6-1.6M160 170l3.3-2.1M149 214l3.2-.9M172 184l1.6-1.3M170 203l2.8-1.2M183 187l.8-.7M188 210l2.4-1.4M127 201l2.8-1.6M133 193l1.1-.4M129 197l2.8-1M119 188l1.4-1M86 202l1.6-.7M91 221l2.6-1.1M88 214l2.1-.7M86 201l.8-.5M78 198l2.6-1.5M81 218l3-1.7M36 231l.9-.7M38 227l1.7-1M290 168l.8-.6M250 205l2.1-.8M258 199l1.3-.8M253 203l.9-.5"/>
<path class="kgr w8" d="M152 194l2.2-.9M167 172l1.4-.5M144 224l3.4-1.7M171 185l3.3-1.2M193 204l1.7-1M174 186l1-.7M186 187l3-.8M188 223l3.6-1.8M177 230l2.5-2M156 177l2-.8M156 177l3.4-1M171 190l3.2-1M168 170l3.3-1.2M160 182l1.1-.8M160 228l3.3-1.9M126 184l1.8-1.1M124 186l2.4-.9M96 212l1.9-.8M84 219l1.8-.7M266 190l2.6-.7M288 168l3.4-1M241 225l3-1.4"/>
<path class="kgr w9" d="M189 209l3.5-2M144 225l3.4-1.7M149 217l2.9-1.9M167 209l4-3.2M194 208l3.1-1.2M175 176l1.3-1M143 218l3.7-2.5M190 200l2.7-2.2M179 209l3.7-1.3M152 171l3.7-2.1M139 192l2.1-.9M98 199l4.1-1.2M99 199l2.6-.8M85 213l2.2-1.3M94 226l2.5-1.2M299 163l1.7-1.2M302 175l3.1-2.6"/>
<path class="kgr w10" d="M146 166l4.2-2.4M185 210l2.2-.7M149 187l3.2-2.5M129 200l2.1-.9M135 200l2.6-1.2M73 210l4.3-3M94 206l2.3-.9M246 212l3.5-1.4M300 160l2.2-1"/>
<path class="kgr w11" d="M184 209l.9-.6M182 205l1.8-.6M181 220l3.5-1.9"/>
<path class="ky w3" d="M95 216l1.8-1.3M70 224l3.1-1.6"/>
<path class="ky w4" d="M148 191l3.3-1.5M157 223l4.1-1.4M197 210l2.1-1.2M143 202l2.2-1.3M184 216l2.9-1M196 199l1.9-1.1M179 212l3.3-1.9M171 214l2.3-1.1M182 186l2.4-1.1M159 202l3.6-1.7M160 170l3.3-2.2M172 184l1.7-1.3M170 203l2.9-1.2M183 187l.9-.8M188 210l2.5-1.5M127 201l2.9-1.6M133 193l1.2-.5M129 197l2.9-1.1M140 192l1.8-1.1M119 188l1.4-1M86 202l1.7-.8M91 221l2.7-1.1M88 214l2.1-.8M99 209l3.1-1.8M86 201l.9-.5M78 198l2.7-1.6M81 218l3.1-1.7M58 224l3.3-1.2M36 231l1-.8M289 168l.9-.6M250 206l2.2-.8M258 199l1.4-.8M253 203l1-.5"/>
<path class="ky w5" d="M152 194l2.3-.9M167 172l1.5-.6M169 228l1.9-1.2M144 224l3.5-1.8M193 204l1.8-1.1M174 186l1.1-.8M186 187l3.1-.8M158 186l2.6-.7M141 174l2.7-1.3M171 199l2.2-1.2M149 214l2.8-.8M156 177l2.1-.8M156 177l3.5-1.1M171 190l3.3-1M168 170l3.4-1.2M160 183l1.2-.8M160 228l3.4-1.9M126 184l1.9-1.2M124 186l2.5-.9M84 219l1.9-.7M38 227l1.4-.8M265 190l2.7-.8M287 168l3.5-1M241 225l3.1-1.4"/>
<path class="ky w6" d="M144 225l3.5-1.8M175 177l1.4-1.1M171 185l2.9-1.1M143 218l3.8-2.6M190 200l2.8-2.2M188 223l3.3-1.6M177 230l2.2-1.7M152 171l3.8-2.1M139 192l2.2-.9M98 199l4.2-1.2M99 199l2.7-.8M96 212l1.6-.6M94 226l2.5-1.2M302 175l3.2-2.6"/>
<path class="ky w7" d="M189 209l3.2-1.8M149 217l2.6-1.7M167 209l3.7-2.9M194 208l2.7-1M146 166l4.3-2.5M185 210l2.3-.7M179 209l3.3-1.2M149 187l3.3-2.6M129 200l2.2-1M73 210l4.4-3.1M94 206l2.4-.9M86 213l1.8-1.1M246 212l3.6-1.4M299 163l1.4-1M300 160l2.3-1.1"/>
<path class="ky w8" d="M184 209l1-.7M182 205l1.9-.6M181 220l3.6-1.9M135 200l2.3-1"/>
<path class="ko w3" d="M144 225l3.6-1.8M190 200l2.9-2.3M98 199l4.3-1.3M99 199l2.8-.9M96 212l1.7-.7M94 226l2.6-1.3M302 175l3.2-2.7"/>
<path class="ko w4" d="M189 209l3.3-1.8M149 217l2.7-1.7M167 209l3.8-3M194 208l2.8-1M146 166l4.4-2.5M175 176l1-.8M185 210l2.4-.7M143 218l3.5-2.3M179 209l3.4-1.2M149 187l3.4-2.7M153 170l3.4-1.9M129 200l2.2-1M139 192l1.8-.8M94 206l2.5-.9M85 213l1.9-1.1M246 212l3.7-1.5M299 163l1.5-1M300 160l2.4-1.1"/>
<path class="ko w5" d="M183 209l1.1-.7M182 205l2-.6M181 220l3.7-2M135 200l2.4-1.1M73 210l4.1-2.9"/>
<use href="#mapg"/>
</g>
<rect x="0.5" y="0.5" width="305" height="230" fill="none" stroke="#555" stroke-width="1"/>
<rect x="5.5" y="3.5" width="15" height="21" fill="#fff" stroke="#555" stroke-width="1"/>
<text class="t" x="13.5" y="17.6" font-size="13.5" text-anchor="middle">6</text>
</g>
<g transform="translate(630,243)">
<g clip-path="url(#cp1)" stroke-linecap="round">
<ellipse cx="293.1" cy="49.8" rx="4.7" ry="1.5" transform="rotate(-40.0 293.1 49.8)" fill="#b8c4ec"/>
<ellipse cx="293.6" cy="49.8" rx="1.9" ry="1.1" transform="rotate(-40.0 293.6 49.8)" fill="#5058d8"/>
<ellipse cx="293.8" cy="51.2" rx="3.6" ry="2.2" transform="rotate(-40.0 293.8 51.2)" fill="#b8c4ec"/>
<ellipse cx="294.1" cy="48.5" rx="5.9" ry="2.1" transform="rotate(-40.0 294.1 48.5)" fill="#b8c4ec"/>
<ellipse cx="206.4" cy="69.6" rx="3.3" ry="1.5" transform="rotate(-8.3 206.4 69.6)" fill="#a5a5a5"/>
<ellipse cx="234.4" cy="80.6" rx="2.7" ry="1.1" transform="rotate(-7.0 234.4 80.6)" fill="#b8c4ec"/>
<ellipse cx="244.0" cy="67.6" rx="3.1" ry="1.5" transform="rotate(-9.6 244.0 67.6)" fill="#a5a5a5"/>
<ellipse cx="212.2" cy="76.2" rx="2.4" ry="1.5" transform="rotate(-8.6 212.2 76.2)" fill="#a5a5a5"/>
<path class="klb w3" d="M299 135l8-4.7M211 170l9.9-7.6M282 119l7.8-4.5M245 118l12.9-11.4M264 119l6.4-4.8M237 164l12.4-9M236 128l11-8M231 143l11.2-8.2M269 95l13.5-9.6M286 122l13.7-10.9M299 96l12.4-9.7M233 139l12.6-11.1M281 109l8.9-7.1M225 152l10.2-7.3M290 115l6.5-4.4M256 131l5.6-4.9M277 126l7.8-6.1M223 154l6.7-5.9"/>
<path class="klb w4" d="M298 114l10.4-6.1M277 123l9.1-5.9M211 164l11.3-8.2M239 127l9.6-6.6M200 165l13-9.5M256 160l11.2-8.6M241 142l9.8-7.6M237 148l6.2-4.7M234 142l10.5-6.7M280 111l13.4-9.5M235 166l5.1-3.5M209 164l13.4-10.7M258 102l6.3-5.5M196 173l4.9-4.2M269 137l4.8-4.2M286 151l11.7-10.2M274 119l5.4-4.3M264 154l13.9-10.7M252 119l12.2-8.5M236 169l14.2-10.7M267 156l10.4-7.8M270 123l9.8-6.3"/>
<path class="klb w5" d="M229 141l6.3-5.6M271 145l11.6-6.8M246 162l9.6-8M278 126l14.4-10.2M270 139l10.2-6.4M282 141l14.4-8.5M275 142l5.4-4.6M224 155l12-8.8M209 173l13.2-8.9M238 144l9.6-6.9M257 121l9.3-5.5M243 163l7.5-6.4M290 108l8.2-5.8M282 97l10.2-8.1M249 150l11.9-8M223 146l12.3-9M225 171l7.6-6.4M276 142l6.7-5M293 85l12.9-9.2M270 155l7.3-6.2M256 138l6.5-4.3M216 169l9.3-7.2M230 169l10.8-9M302 132l6-4.6M299 135l10.1-7.8M234 137l5.6-5"/>
<path class="klb w6" d="M267 110l9.4-7.7M269 93l13.4-10.8M226 144l11.8-7.9M237 145l7.4-6M250 117l9.6-6.5M283 109l13.6-8.6M249 127l5.4-3.6M282 111l6.1-4.1M243 147l8.4-5.7M299 133l8.6-7M259 139l13.6-10.6M293 112l11.8-8.9M289 101l10.9-7.2M284 127l8.7-6.8M284 89l10.1-6M257 125l5.3-3.5M238 124l13.5-8.4M284 128l12.9-9.2"/>
<path class="kg w3" d="M293 126l9.1-5.7M278 111l6.9-5.5M288 130l13.7-11.1M277 120l8.4-5.8M255 134l8.4-6.3M278 108l7.4-4.6M253 112l8.6-5.8M281 127l12-9.1M301 106l5.1-4M267 93l12-9.5M276 154l8.1-6.4M220 162l5.4-3.3M265 160l13.8-11.5M278 136l7.1-5.3M286 84l5.8-4.5M267 140l14.8-8.8M198 177l13.2-9.3M291 104l6.4-3.9M298 84l4.9-4.3M248 164l5.2-4.2M289 143l13.5-10.9M279 95l12.3-7.5M269 103l7.9-5.5M254 117l8-5.2M277 88l13.5-11.3M290 113l10.9-9.1M275 94l7.2-4.7M254 114l11.7-9.2M287 101l8.3-5M233 164l6.8-4M269 98l12.5-7.9M302 113l6.1-5.2M290 82l13.4-9.9M275 129l9.7-5.9M226 146l9.3-5.4M248 146l10.9-6.4M276 126l8.9-7.1M282 140l6.3-5M289 123l7.8-6.9M241 153l10.9-6.9M278 133l12.3-7.2M265 106l6.2-4M247 148l8.1-5.6M214 160l10.5-7.5M205 171l9.4-7.1M234 168l8.9-7.8M296 117l12.9-7.6M224 152l12.4-9.6M256 130l12.6-9.8M210 167l14.6-10.1"/>
<path class="kg w4" d="M240 149l6.1-3.8M202 166l10.3-7M298 126l8.3-7M283 99l8.2-5M207 172l10-8.3M249 163l12.1-9.4M244 127l14.5-9.7M275 100l8.3-5.5M275 99l10.2-8.9M293 86l12.2-9.2M291 140l5-4M297 105l7-4.2M297 137l5.9-4.9M267 154l13.9-8.2M285 122l7.5-5.7M258 151l5.2-3.1M298 143l12.5-10.8M276 129l11.8-8.5M291 95l14-8.6M232 165l8.7-6.2M270 98l6.5-4.6M263 108l11.2-9.2M281 117l9.7-7.6M266 129l13.9-9.4M285 83l10-8.2M210 163l4.9-3.8M218 151l14-9.4M260 137l12.9-11.4M265 100l10.1-8.1M246 127l8.8-7.3M237 130l7.5-4.5M201 168l13.6-8.4M291 88l12.7-10.8M268 103l11.5-7.8M271 118l8.9-7M289 90l10.7-8.8M295 84l9.7-7.8M262 146l8.4-5.3M274 90l9.4-6.7M225 165l6.4-4.6M273 156l6.3-4.6M293 132l14.2-8.8M264 152l12.8-9.9M269 93l6.5-4.6M291 121l8.3-5.8M245 126l10.1-8M249 163l10.6-6.4M261 160l7.6-4.9M262 115l14.1-8.3M294 142l14.3-9.4M255 115l8.3-6.6M234 157l10.6-6.8M279 149l6.5-4.9M225 161l11.2-9M209 161l4.7-4.2M283 91l5.6-4.1M279 99l12.5-9.1M259 136l10.3-6.8M289 128l14.9-9.5"/>
<path class="kg w5" d="M299 131l11.6-9.5M287 147l12.1-7.6M227 161l6.1-4.5M278 134l12.8-10.8M267 120l13.3-10.6M301 112l6.8-4.5M241 139l13.1-7.9M289 88l8.3-7.3M219 149l11.1-6.5M280 98l10.2-6.2M239 159l13.2-10.7M224 154l11.2-9M288 114l8.7-7.1M244 145l15.2-9.4M274 123l11-7.3M292 109l12.5-9.3M206 175l4.9-3.8M199 173l11.4-9.3M263 117l15.3-9.3M244 153l12.7-9M230 156l13.5-10.6M278 90l7.4-4.3M266 95l5.5-3.2M240 146l6.1-4.2M284 137l9-7.4M239 161l5.4-3.2M237 156l12-8.9M237 145l11.4-9.9M250 156l13.4-9.9M230 150l9.4-7.4M216 155l5.3-3.8M222 168l6.6-4.9M213 165l10.3-7.7M231 140l12.2-10.5M298 97l11.3-8M217 150l8.2-5M196 175l7-5.7M282 90l6.8-4M232 167l12.4-10.7M292 140l9.6-5.9M292 93l12.2-8.5M255 109l12-10.5M282 123l9.1-6M255 143l14.7-9.9M238 165l10.2-8.3M297 140l15.3-9.5M257 147l9-5.5M205 168l6-3.9M267 119l8.7-7.2M300 139l7.8-4.9M248 155l6.1-3.5M281 151l12.7-10.1M273 116l11.9-9M290 132l7.4-5M262 140l11.3-8.6M265 105l5.4-4.1M286 136l8.8-5.8M244 153l12.6-10.9M276 105l5.6-3.8M225 169l9.8-8.7M274 95l11.8-9.8"/>
<path class="kg w6" d="M292 141l10.2-7.6M275 109l11.7-7.3M247 125l8.5-6.7M256 116l5.7-5M216 172l13.6-8.2M275 106l10.9-8.5M264 122l9-5.9M240 161l4.9-4M293 86l8.6-5.5M263 151l8.3-6.8M253 146l13.6-8.6M237 155l10.3-6.4M268 136l5.7-3.8M216 156l12.2-9.6M293 133l10.9-8.9M286 123l7.2-6.5M258 159l10.2-6.7M290 103l8.3-5.5M287 98l13.6-10.6M232 162l15.2-9.1M249 141l5.5-4.4M256 114l9.6-7M266 149l9.5-6.8M283 150l11.6-8.3M246 116l11.8-8.3M283 104l7.1-6.2M200 174l6.1-5.3M272 104l6.4-4.8M245 147l10.2-6.7M285 99l7.9-5.4M270 144l6.8-5.5M262 141l9-6.7M226 160l11.8-7.6M261 129l6-4.7M274 90l11.4-8.8M282 111l6-3.8M284 111l9.3-8.3M235 166l11.7-9M289 98l5.2-4.1M239 154l13.5-8.9M251 136l7.4-5.1M286 131l13.3-11.4M281 122l7.5-6.3M274 88l13.8-8.8M269 117l6.1-4.4M270 138l7.2-5.1M300 140l6.4-4.2M260 120l5.6-3.3M275 127l7.2-6.2M295 88l13.5-9.1"/>
<ellipse cx="294.0" cy="80.0" rx="12.0" ry="2.5" transform="rotate(-28.0 294.0 80.0)" fill="#a5a5a5"/>
<ellipse cx="300.0" cy="88.0" rx="8.0" ry="2.0" transform="rotate(-30.0 300.0 88.0)" fill="#a5a5a5"/>
<ellipse cx="286.0" cy="90.0" rx="7.0" ry="2.0" transform="rotate(-35.0 286.0 90.0)" fill="#a5a5a5"/>
<ellipse cx="302.0" cy="76.0" rx="6.0" ry="1.6" transform="rotate(-30.0 302.0 76.0)" fill="#a5a5a5"/>
<path d="M200 170L234 137L254 114L269 104L288 100L306 92L306 139L296 141L288 146L274 153L261 158L244 163L224 168L199 173Z" fill="#b8c4ec"/>
<ellipse cx="296.0" cy="100.0" rx="6.0" ry="1.5" transform="rotate(-25.0 296.0 100.0)" fill="#a5a5a5"/>
<ellipse cx="282.0" cy="108.0" rx="5.0" ry="1.4" transform="rotate(-25.0 282.0 108.0)" fill="#a5a5a5"/>
<path d="M194 171L219 156L234 142L254 124L274 114L293 109L306 107L306 134L296 138L288 143L274 150L261 156L244 161L224 166L199 172Z" fill="#5058d8"/>
<path d="M210 166L224 156L240 146L256 132L276 120L306 110L306 130L294 134L282 140L268 146L252 152L234 158L216 166Z" fill="#5058d8"/>
<path class="kt w3" d="M282 129l3.9-2.3M258 137l4.7-2.9M252 151l3.3-2.9M247 153l4.9-4.4M233 156l7.1-5.1M267 143l2.4-1.8"/>
<path class="kt w4" d="M273 141l3.4-2.4M301 117l4.3-3.8M296 118l2-1.4M261 150l5-4.2M293 116l2-1.4M261 131l5.9-4.7M290 132l3.4-2.1"/>
<path class="kt w5" d="M271 131l6.8-4.2M249 151l1.6-1.3M262 138l1.7-1.4M279 126l4.5-2.7M258 148l6.8-5.6M272 138l5.2-3.3M280 130l5.9-4.3M221 163l6.9-5.6M289 117l1.8-1.1M246 144l4.8-3.1"/>
<path class="kt w6" d="M298 125l3.4-2.3M277 142l2.7-1.8M256 150l6.8-5.7M295 116l2.5-2.2M282 124l7.1-4.1M240 154l2-1.3M233 152l6.3-4.1M211 168l5.4-4.1M294 134l6.4-4.9M264 139l7-5M245 149l3.2-1.9M236 151l3.7-2.1M252 149l4.5-2.8M267 137l2.2-1.6"/>
<path class="klb w3" d="M284 123l5.4-4.1M272 132l3.5-2.5M276 135l4.6-3.1M260 133l5.6-4.5M283 129l4-3.5M223 163l3.3-2.4M263 136l6.5-4.2M238 157l3.9-3.3"/>
<path class="klb w4" d="M285 138l7.4-4.3M282 119l3.8-2.3M292 122l4.3-3.4M279 138l2.5-1.5M303 116l6.2-4.6M287 121l4.9-4.3"/>
<path class="klb w5" d="M288 132l6.9-4.5M218 162l1.7-1.5M227 155l5.2-4.4M258 133l5.2-4.1M294 129l6.8-5.2"/>
<path class="klb w6" d="M286 133l5.2-4.7M282 134l5.8-4.9M289 122l5.4-3.9M220 162l2.9-1.7M261 130l4.5-3.3"/>
<path class="kgr w3" d="M289 132l1.6-1.2"/>
<path class="kgr w4" d="M296 130l3.6-2.8M279 123l3.6-3.3M302 114l5.1-4.5M257 149l6.4-4.7M264 136l1.7-1.5"/>
<path class="kgr w5" d="M274 128l5.3-4.6M269 129l3-2.1M232 152l4.4-2.9"/>
<path class="kgr w6" d="M290 117l7.4-4.7M250 145l6.5-4.6M261 139l4.9-3.2M240 147l5.1-3.8M276 122l3.8-3.1"/>
<path class="kg w3" d="M254 134l1.8-1.4M269 144l6.6-4"/>
<path class="kg w4" d="M241 151l7.2-4.4M287 118l4.9-3.3"/>
<path class="kg w5" d="M271 127l3.4-2.7M294 117l3.8-2.8"/>
<path class="kg w6" d="M283 122l4.5-3.9M274 141l3.3-2.1M275 135l4.5-2.6M290 128l2.4-1.5"/>
<path class="kb w3" d="M282 136l6.2-5.2M260 139l3.6-2.8M270 140l2.7-1.9"/>
<path class="kb w4" d="M246 151l7-4.6M252 141l5.9-4.6"/>
<path class="kb w5" d="M297 132l3.3-2.8M298 125l7-4.9M265 143l6.7-5.5M237 152l6.2-4.6M223 160l4-2.9M296 120l3-2.2M278 140l7.1-5.4"/>
<path class="kb w6" d="M243 155l4.7-3.7M271 131l2.1-1.8M223 161l2.2-1.8M214 167l3.6-2.8"/>
<path d="M220 160L232 152L242 146L250 150L238 158L226 164Z" fill="#008000"/>
<path d="M270 118L286 112L306 110L306 134L296 136L284 134L272 130Z" fill="#50969a"/>
<path class="kgr w4" d="M303 128l3.1-2.2M295 127l2.3-1.6"/>
<path class="kgr w5" d="M302 115l3.3-2M277 116l6.3-3.8M304 132l2.6-2M288 128l6.4-3.7M300 135l4.7-3.1"/>
<path class="kgr w6" d="M299 119l6.9-4.3M271 122l5.3-4.8M300 131l6.1-3.7M272 127l2.1-1.3M273 130l1.9-1.3"/>
<path class="klb w3" d="M287 130l1.9-1.4M288 136l1.8-1.6"/>
<path class="klb w4" d="M294 131l5.4-3.6M296 125l7.2-5.3"/>
<path class="klb w5" d="M280 132l3-1.9M283 119l7-4.9M295 133l5.4-3.4"/>
<path class="klb w6" d="M275 126l5.2-3.9M304 121l2-1.3"/>
<path class="kb w3" d="M291 121l6.3-4.6"/>
<path class="kb w4" d="M294 122l5-4.1M290 115l2.8-1.9"/>
<path class="kb w5" d="M293 128l3.6-2.4M297 127l5.6-3.9M280 137l6.5-5.5"/>
<path class="kb w6" d="M275 122l5.8-3.5M295 129l3.9-3.5M275 131l1.7-1.2"/>
<path class="klg w3" d="M288 133l2.8-2.5M273 124l2.9-1.8"/>
<path class="klg w5" d="M289 120l4.5-2.7"/>
<path class="klg w6" d="M304 115l1.7-1.3M297 129l4.2-3.6"/>
<path class="ky w3" d="M292 115l1.7-1.4M282 121l4.5-3"/>
<path class="ky w4" d="M278 125l3.7-3M281 115l2.8-2.1"/>
<path class="ky w5" d="M293 133l6.5-4.9M298 114l3-2.1"/>
<path class="ky w6" d="M286 132l3.4-2.6M270 121l6.9-4M298 127l5.4-4"/>
<path class="kt w3" d="M273 119l3.9-2.5"/>
<path class="kt w4" d="M292 128l2-1.6"/>
<path class="kt w5" d="M286 120l2.1-1.7M282 120l2.3-1.9M301 129l5.6-5"/>
<path class="kt w6" d="M291 133l7-5.7M294 137l5.1-4.6"/>
<ellipse cx="254.0" cy="140.0" rx="6.0" ry="2.0" transform="rotate(-30.0 254.0 140.0)" fill="#b8c4ec"/>
<ellipse cx="272.0" cy="138.0" rx="5.0" ry="1.5" transform="rotate(-25.0 272.0 138.0)" fill="#b8c4ec"/>
<ellipse cx="262.0" cy="146.0" rx="4.0" ry="1.5" transform="rotate(-25.0 262.0 146.0)" fill="#5058d8"/>
<ellipse cx="281.0" cy="127.0" rx="3.5" ry="3.0" transform="rotate(0.0 281.0 127.0)" fill="#b8c4ec"/>
<ellipse cx="281.0" cy="127.0" rx="3.0" ry="2.6" transform="rotate(0.0 281.0 127.0)" fill="#5058d8"/>
<ellipse cx="281.0" cy="127.0" rx="2.4" ry="2.1" transform="rotate(0.0 281.0 127.0)" fill="#008000"/>
<ellipse cx="281.0" cy="127.0" rx="1.8" ry="1.6" transform="rotate(0.0 281.0 127.0)" fill="#f0d860"/>
<ellipse cx="281.0" cy="127.0" rx="1.2" ry="1.0" transform="rotate(0.0 281.0 127.0)" fill="#f0b020"/>
<ellipse cx="289.0" cy="132.0" rx="3.0" ry="2.5" transform="rotate(0.0 289.0 132.0)" fill="#b8c4ec"/>
<ellipse cx="289.0" cy="132.0" rx="2.6" ry="2.1" transform="rotate(0.0 289.0 132.0)" fill="#5058d8"/>
<ellipse cx="289.0" cy="132.0" rx="2.1" ry="1.8" transform="rotate(0.0 289.0 132.0)" fill="#008000"/>
<ellipse cx="289.0" cy="132.0" rx="1.6" ry="1.3" transform="rotate(0.0 289.0 132.0)" fill="#f0d860"/>
<ellipse cx="298.0" cy="122.0" rx="3.5" ry="3.0" transform="rotate(0.0 298.0 122.0)" fill="#b8c4ec"/>
<ellipse cx="298.0" cy="122.0" rx="3.0" ry="2.6" transform="rotate(0.0 298.0 122.0)" fill="#5058d8"/>
<ellipse cx="298.0" cy="122.0" rx="2.4" ry="2.1" transform="rotate(0.0 298.0 122.0)" fill="#008000"/>
<ellipse cx="298.0" cy="122.0" rx="1.8" ry="1.6" transform="rotate(0.0 298.0 122.0)" fill="#f0d860"/>
<ellipse cx="298.0" cy="122.0" rx="1.2" ry="1.0" transform="rotate(0.0 298.0 122.0)" fill="#f0b020"/>
<ellipse cx="304.0" cy="130.0" rx="2.0" ry="2.0" transform="rotate(0.0 304.0 130.0)" fill="#b8c4ec"/>
<ellipse cx="304.0" cy="130.0" rx="1.7" ry="1.7" transform="rotate(0.0 304.0 130.0)" fill="#5058d8"/>
<ellipse cx="304.0" cy="130.0" rx="1.4" ry="1.4" transform="rotate(0.0 304.0 130.0)" fill="#008000"/>
<ellipse cx="304.0" cy="130.0" rx="1.0" ry="1.0" transform="rotate(0.0 304.0 130.0)" fill="#f0d860"/>
<ellipse cx="237.0" cy="154.0" rx="3.0" ry="2.5" transform="rotate(0.0 237.0 154.0)" fill="#b8c4ec"/>
<ellipse cx="237.0" cy="154.0" rx="2.6" ry="2.1" transform="rotate(0.0 237.0 154.0)" fill="#5058d8"/>
<ellipse cx="237.0" cy="154.0" rx="2.1" ry="1.8" transform="rotate(0.0 237.0 154.0)" fill="#008000"/>
<ellipse cx="237.0" cy="154.0" rx="1.6" ry="1.3" transform="rotate(0.0 237.0 154.0)" fill="#f0d860"/>
<ellipse cx="237.0" cy="154.0" rx="1.0" ry="0.9" transform="rotate(0.0 237.0 154.0)" fill="#f0b020"/>
<ellipse cx="244.0" cy="157.0" rx="2.5" ry="2.5" transform="rotate(0.0 244.0 157.0)" fill="#b8c4ec"/>
<ellipse cx="244.0" cy="157.0" rx="2.1" ry="2.1" transform="rotate(0.0 244.0 157.0)" fill="#5058d8"/>
<ellipse cx="244.0" cy="157.0" rx="1.8" ry="1.8" transform="rotate(0.0 244.0 157.0)" fill="#008000"/>
<ellipse cx="244.0" cy="157.0" rx="1.3" ry="1.3" transform="rotate(0.0 244.0 157.0)" fill="#f0d860"/>
<ellipse cx="264.0" cy="147.0" rx="2.5" ry="2.5" transform="rotate(0.0 264.0 147.0)" fill="#b8c4ec"/>
<ellipse cx="264.0" cy="147.0" rx="2.1" ry="2.1" transform="rotate(0.0 264.0 147.0)" fill="#5058d8"/>
<ellipse cx="264.0" cy="147.0" rx="1.8" ry="1.8" transform="rotate(0.0 264.0 147.0)" fill="#008000"/>
<ellipse cx="264.0" cy="147.0" rx="1.3" ry="1.3" transform="rotate(0.0 264.0 147.0)" fill="#f0d860"/>
<ellipse cx="228.0" cy="162.0" rx="2.0" ry="2.0" transform="rotate(0.0 228.0 162.0)" fill="#b8c4ec"/>
<ellipse cx="228.0" cy="162.0" rx="1.7" ry="1.7" transform="rotate(0.0 228.0 162.0)" fill="#5058d8"/>
<ellipse cx="228.0" cy="162.0" rx="1.4" ry="1.4" transform="rotate(0.0 228.0 162.0)" fill="#008000"/>
<path d="M240 226L244 212L252 198L262 190L274 182L282 174L290 164L298 156L306 150L306 170L296 176L286 186L276 196L266 206L258 218L252 230Z" fill="#b8c4ec"/>
<path d="M243 225L247 212L255 200L265 192L276 184L284 176L292 166L300 159L306 154L306 165L295 172L285 182L275 192L265 202L256 214L250 227Z" fill="#5058d8"/>
<path d="M246 223L250 212L257 202L267 194L278 186L286 178L294 168L302 161L306 158L306 162L294 170L284 180L274 190L264 200L255 212L249 224Z" fill="#008000"/>
<path d="M249 220L252 212L259 204L269 196L280 188L288 180L296 170L302 165L292 172L282 182L272 192L262 202L254 212Z" fill="#f0d860"/>
<ellipse cx="266.0" cy="194.0" rx="2.5" ry="2.5" transform="rotate(0.0 266.0 194.0)" fill="#f0b020"/>
<ellipse cx="266.0" cy="194.0" rx="1.2" ry="1.2" transform="rotate(0.0 266.0 194.0)" fill="#f05080"/>
<ellipse cx="284.0" cy="179.0" rx="2.5" ry="2.5" transform="rotate(0.0 284.0 179.0)" fill="#f0b020"/>
<ellipse cx="298.0" cy="160.0" rx="2.0" ry="2.0" transform="rotate(0.0 298.0 160.0)" fill="#f0b020"/>
<ellipse cx="251.0" cy="216.0" rx="2.5" ry="2.5" transform="rotate(0.0 251.0 216.0)" fill="#f0b020"/>
<ellipse cx="252.0" cy="216.0" rx="1.2" ry="1.2" transform="rotate(0.0 252.0 216.0)" fill="#f05080"/>
<ellipse cx="238.0" cy="176.0" rx="6.0" ry="2.0" transform="rotate(-20.0 238.0 176.0)" fill="#a5a5a5"/>
<ellipse cx="244.0" cy="190.0" rx="4.0" ry="1.5" transform="rotate(-20.0 244.0 190.0)" fill="#a5a5a5"/>
<path d="M178 184L190 175L206 174L218 180L220 192L208 196L190 196L180 192Z" fill="#b8c4ec"/>
<path d="M181 185L191 177L205 176L216 182L217 191L207 194L191 194L183 191Z" fill="#50969a"/>
<path class="kgr w3" d="M191 184l6.4-5.2M192 192l2.7-2.2M202 191l5.7-3.7M202 193l4.6-3"/>
<path class="kgr w4" d="M212 183l3.5-2.8M197 193l5.3-3.2"/>
<path class="kgr w5" d="M187 189l3.6-3M204 192l2.5-1.7"/>
<path class="kgr w6" d="M183 189l5.9-5.2M186 190l4-3.2M206 195l7-5.6M186 182l6.8-4.4M197 180l4.2-2.4"/>
<path class="klb w3" d="M189 190l5.2-4.1M198 189l4.2-3.6"/>
<path class="klb w4" d="M213 184l5.1-3.7M184 194l5.1-4.4"/>
<path class="klb w6" d="M191 195l5.3-4.6"/>
<path class="kb w3" d="M205 192l6-4.3M209 192l5.3-4"/>
<path class="kb w4" d="M197 194l5.8-3.9M202 188l5.4-4.7M196 187l7.6-4.4M204 182l7.5-4.6"/>
<path class="klg w4" d="M208 181l4-2.7M188 191l4.9-3.2"/>
<path class="klg w5" d="M198 195l6.1-3.7M199 182l4.8-3"/>
<path class="klg w6" d="M195 179l4.5-3"/>
<path class="ky w4" d="M199 188l4.8-3.8M199 184l3.4-3"/>
<path class="ky w6" d="M184 184l7.2-4.2"/>
<path class="kt w5" d="M203 182l2.7-2.1M210 184l5-4.1"/>
<path class="kt w6" d="M197 191l6.1-4.6"/>
<path d="M185 186L193 180L204 179L212 183L213 190L205 192L192 192L186 190Z" fill="#f0d860"/>
<path class="ko w3" d="M190 185l7-4.5M198 187l3.8-2.3M187 188l5.8-5.1"/>
<path class="ko w5" d="M192 183l5.2-4.6"/>
<path class="ko w6" d="M188 191l1.8-1.5"/>
<path class="klg w3" d="M197 187l4.3-3.1"/>
<path class="klg w5" d="M190 188l6.3-5.3"/>
<path class="klg w6" d="M194 188l4-2.7M192 183l3.2-1.8"/>
<path class="kgr w3" d="M190 183l5.4-4"/>
<path class="kgr w5" d="M210 192l5.4-3.5"/>
<path class="kgr w6" d="M194 191l1.8-1.1"/>
<path class="ky w3" d="M208 189l2.7-2.1"/>
<path class="ky w5" d="M202 188l5.9-5"/>
<path class="ky w6" d="M207 191l2.4-2.1M197 187l3.6-2.9"/>
<path class="kbr w3" d="M209 189l6.2-3.6M184 187l6.2-5.5"/>
<path class="kbr w5" d="M194 188l5.5-4.2"/>
<ellipse cx="196.0" cy="184.0" rx="3.0" ry="3.0" transform="rotate(0.0 196.0 184.0)" fill="#f0b020"/>
<ellipse cx="205.0" cy="188.0" rx="2.5" ry="2.5" transform="rotate(0.0 205.0 188.0)" fill="#f0b020"/>
<ellipse cx="197.0" cy="185.0" rx="1.5" ry="1.5" transform="rotate(0.0 197.0 185.0)" fill="#c08838"/>
<ellipse cx="206.0" cy="189.0" rx="1.2" ry="1.2" transform="rotate(0.0 206.0 189.0)" fill="#8c5a40"/>
<path d="M196 214L204 209L216 209L226 213L230 222L228 231L196 231Z" fill="#b8c4ec"/>
<path d="M199 216L206 212L216 212L224 215L227 222L226 231L199 231Z" fill="#50969a"/>
<path class="kgr w3" d="M214 227l3.5-2.9M216 229l2.1-1.3M212 228l1.9-1.7"/>
<path class="kgr w4" d="M222 224l2.2-1.8M213 226l3.7-2.9M201 232l5.3-3.6M201 218l5.9-4.4M203 230l5.3-4.5"/>
<path class="kgr w5" d="M219 221l2.7-1.9M218 231l2.4-1.8M217 223l3.2-2.7M215 217l3.2-1.9M201 230l5-3.5M217 232l3.2-2.8"/>
<path class="kgr w6" d="M202 214l4.2-2.7M204 222l4.2-3M221 229l6.3-4.9"/>
<path class="klb w6" d="M221 220l4.5-3"/>
<path class="kb w3" d="M212 215l4.4-3.9M199 219l1.7-1.2"/>
<path class="kb w5" d="M217 226l5.9-3.8M216 233l6.1-5"/>
<path class="kb w6" d="M220 233l5-4.4"/>
<path class="klg w3" d="M217 218l4.7-3"/>
<path class="klg w4" d="M215 221l6.8-5.2"/>
<path class="klg w6" d="M201 233l5.2-4.4M217 218l4.3-2.7M213 217l2.8-2.2"/>
<path class="ky w6" d="M215 226l4.6-3.6"/>
<path class="kt w3" d="M213 231l3-2.3M203 226l3.3-2"/>
<path class="kt w4" d="M201 227l4.9-3.6"/>
<path class="kt w6" d="M220 226l4.5-3.2"/>
<path d="M202 218L208 215L216 215L222 218L224 224L222 231L202 231Z" fill="#f0d860"/>
<path class="ko w5" d="M203 229l2.3-1.4M207 219l6.5-4"/>
<path class="ko w6" d="M221 223l4.3-3.2"/>
<path class="klg w4" d="M201 231l5.4-4.8M205 217l3-2.6M204 228l5.3-3.8"/>
<path class="klg w5" d="M221 225l3.2-2.7M199 233l5.8-4.3M201 228l5-4"/>
<path class="klg w6" d="M208 219l3.7-2.4"/>
<path class="ky w3" d="M205 221l6.6-5.1"/>
<path class="ky w4" d="M207 233l6.5-5"/>
<path class="ky w5" d="M212 221l4.5-3M216 224l2.9-2.4M210 218l2.3-2.1M201 229l5.9-4.7M211 223l5.2-4.3"/>
<path class="ky w6" d="M220 223l5.3-3.2M211 229l1.9-1.4"/>
<path class="kbr w5" d="M217 230l6.5-4.9M206 230l5.8-4.4"/>
<path class="kb w4" d="M205 222l3-2.5"/>
<ellipse cx="214.0" cy="225.0" rx="3.0" ry="3.0" transform="rotate(0.0 214.0 225.0)" fill="#f0b020"/>
<ellipse cx="221.0" cy="226.0" rx="1.5" ry="1.5" transform="rotate(0.0 221.0 226.0)" fill="#f05080"/>
<path class="klb w4" d="M103 169l1.2-.7M244 80l.7-.4M217 65l.5-.3M247 63l1.1-.6M217 77l.7-.5M243 60l.9-.6"/>
<path class="klb w5" d="M103 175l.8-.3M180 148l.9-.8M173 150l.4-.2M175 155l1-.4M218 57l.6-.2M233 68l1.4-1M247 56l1.3-.9M226 70l.4-.1M281 45l.8-.6"/>
<path class="klb w6" d="M39 222l.7-.5M56 224l.6-.2M112 173l.8-.3M119 176l.4-.2M177 155l1.4-.8M181 155l.8-.5M232 78l.2-.1M227 61l.3-.1M237 59l.2-.1M214 76l.9-.4M213 76l.6-.3M272 51l.5-.3M278 53l.5-.3M283 53l.6-.5"/>
<path class="klb w7" d="M186 203l.6-.3M185 225l1.7-.6M68 204l.5-.2M106 214l.8-.6M43 219l.4-.1M55 229l1.5-.7M106 175l1.1-.8M110 174l.8-.3M122 166l1.1-.5M118 168l1.5-1M158 154l1.7-1.2M167 149l.9-.4M176 154l2-1M186 149l1.8-1.2M231 57l.4-.1M272 44l1.7-.7M285 55l.6-.2"/>
<path class="klb w8" d="M158 223l1.1-.8M145 196l.9-.4M176 207l1.7-1.2M171 220l1.2-.5M168 212l.5-.3M141 205l1.3-.6M188 207l1.3-.8M82 203l1.9-1.5M101 175l1.6-.9M184 147l1.3-1M273 201l1.8-1.2"/>
<path class="klb w9" d="M169 226l2.4-1.4M152 218l1.6-.5M182 191l1.9-.5M140 196l1.7-.7M177 229l2.4-1.3M160 198l2.7-1.1M141 215l1.6-.9M201 203l.7-.2M169 221l1.2-.4M156 193l1.4-.6M195 218l1.1-.8M195 203l1.4-.8M73 203l.7-.5M40 225l2.5-1.5M45 225l2.7-.8M119 168l1.7-.6M175 148l1.4-1.2M187 155l.6-.4M260 195l1.5-.9"/>
<path class="klb w10" d="M144 209l1.9-1.2M182 196l1.9-.6M152 168l3.3-1M191 196l1.4-.7M162 203l.9-.6M138 212l.7-.4M147 228l2.7-1M178 180l3.1-1M180 198l2.4-.7M135 215l1.2-.8M145 193l1.6-1M158 181l2.2-.6M183 176l1.3-.4M182 193l2.2-1.2M174 218l1.6-1.1M189 216l.9-.3M72 202l1.2-.5M109 205l1.9-.6M70 223l1.4-1M98 228l2.1-1.6M296 157l2.2-.7M245 227l2.8-1.3M292 185l2.4-.7M269 197l2.7-1.3M246 219l2.6-1.5"/>
<path class="klb w11" d="M136 215l1.1-.7M141 197l2.7-.9M146 173l2.4-1.5M155 205l1.7-.8M189 191l1.6-.6M165 228l3-1.5M162 203l2.6-1.9M174 194l3.2-1.6M181 208l2.5-1.3M143 177l1.8-.6M180 219l.7-.3M151 219l3.5-1.3M177 178l1.3-.5M117 192l2.5-1.4M75 204l1.7-1.2M100 224l1.5-.8M116 219l2.5-2M51 223l2.5-1.2M296 158l2.2-1.4M262 222l1-.6M291 184l2.2-1M304 156l1.7-1"/>
<path class="klb w12" d="M141 170l1.9-.6M162 197l1.4-1.1M157 208l2.3-1.5M144 195l2.6-.8M147 194l1.1-.7M192 199l2.4-.9M148 230l3-1.5M169 202l3.8-1M162 210l3.4-1.7M185 184l2.2-.6M141 192l2.8-1.4M175 211l2.2-1.1M174 202l1.4-.6M184 222l3.5-2.4M181 201l3-1.9M164 201l2.9-2M157 190l.9-.3M141 194l1-.5M176 210l1.3-.9M163 171l1.8-1.2M152 181l2.3-1.6M170 174l2.9-1.5M162 175l3.3-1.2M152 173l3.2-1M118 197l2.7-2.2M119 187l3.5-1.4M120 192l2.1-1.7M74 208l2.8-1.7M73 211l1.5-1M88 212l1.6-1M95 201l2.8-.9M85 206l2.8-1.3M62 206l2.2-.6M87 208l2.5-1.1M95 226l1.3-.8M101 212l1.5-.8M65 225l2.3-1.6M112 205l2.9-.9M85 203l3-1.1M40 222l1.2-.7M265 209l2-1.2M301 176l3.8-1.8"/>
<path class="klb w13" d="M160 207l.7-.4M160 196l2.3-1.6M147 224l2.5-1.6M190 220l3.4-1.4M137 230l3.1-.9M155 195l1.2-.9M184 218l3.1-1.1M148 210l1.1-.4M179 204l2.3-1M151 191l2.8-1.8M162 170l3.5-1.9M167 183l3-2.4M145 223l1.1-.6M179 188l3.6-2.2M176 202l2.7-1.3M156 187l1.8-1.4M139 224l3.1-.8M156 173l1.8-1M158 179l1-.5M166 179l3.5-.9M120 187l4-2M86 216l2.7-.9M104 202l2.3-.7M88 208l.9-.7M62 211l1.8-1.4M58 225l4.1-1.9M58 203l2.8-.9M98 221l2.5-1.6M246 209l2.2-1.4M275 204l3.5-1.9M242 228l.9-.6M301 151l2.8-.8"/>
<path class="klb w14" d="M160 220l4.2-2.4M138 218l2.6-1.6M178 169l1.4-.6M144 226l2.9-1.5M158 191l3.3-1.5M149 205l3.4-1.5M143 182l2.8-1.4M139 187l2.8-.9M137 166l2.6-1.4M143 194l3.4-.9M176 170l3.4-1.7M176 176l2.8-1.7M111 201l2.5-.9M87 224l3.6-1.4M60 226l2-1.3M93 203l.9-.5M295 153l1.3-.8M273 209l2.3-1.5M242 228l2.6-1.4M304 151l1.2-1"/>
<path class="klb w15" d="M187 213l2.3-1.7M193 216l2.6-1.2M188 199l3.9-2.6M179 217l4.3-3.1M165 171l2.1-1.5M128 193l2.3-1.1M67 218l4.3-1.8M56 219l3.8-2M288 180l1.8-.5M282 203l1.2-.4M288 163l2.9-1.2M288 175l1.7-.9M303 178l3.8-1.2M275 211l2.1-1.3M242 230l4-1.3"/>
<path class="klb w16" d="M150 184l5.2-1.5M173 215l1.9-.8M185 230l3.6-1.3M181 209l4.4-1.5M187 208l1.2-.5M150 210l3.8-1.1M261 205l3.3-1.7M259 195l1-.6M277 185l2.2-.6M277 201l3.8-2.4M254 209l1.3-1"/>
<path class="klb w17" d="M276 199l2.8-1.5M299 179l4.8-3.1M301 179l2.2-.6"/>
<path class="klb w18" d="M276 182l1.3-1M246 226l3.8-2.2M295 167l5.4-2.4M275 185l3.5-2.2M282 201l1.2-.5M278 183l2.7-1.5"/>
<path class="kb w3" d="M112 173l1-.4M119 176l.6-.3M227 61l.5-.2M213 76l.8-.4M272 51l.7-.4"/>
<path class="kb w4" d="M185 225l1.9-.7M68 204l.7-.2M106 214l1-.8M43 219l.6-.2M55 229l1.7-.8M39 222l.5-.3M56 224l.3-.1M106 175l1.2-1M117 168l1.7-1.1M167 150l1.1-.5M176 154l2.1-1.1M181 155l.5-.3M231 58l.6-.2M272 44l1.9-.8M285 55l.8-.3M283 53l.4-.3"/>
<path class="kb w5" d="M158 223l1.3-.9M176 207l1.9-1.3M170 220l1.4-.6M186 203l.3-.2M168 212l.7-.4M141 205l1.5-.7M187 207l1.4-1M110 174l.5-.2M122 166l.8-.3M101 175l1.7-1M158 153l1.5-1M184 147l1.4-1.1M186 149l1.5-1"/>
<path class="kb w6" d="M146 196l.6-.3M160 199l2.9-1.2M201 203l.9-.3M73 203l.8-.7M82 203l1.7-1.4M45 225l2.9-.8M118 168l1.9-.7M175 148l1.6-1.3M187 156l.8-.5M260 195l1.6-1.1M273 201l1.6-1"/>
<path class="kb w7" d="M144 210l2.1-1.3M182 196l2.1-.7M191 196l1.6-.8M169 226l2.2-1.3M162 203l1.1-.7M138 212l.8-.5M153 218l1.3-.4M182 191l1.6-.4M140 196l1.4-.6M177 229l2.1-1.1M147 228l2.9-1.1M141 215l1.3-.8M169 221l.9-.3M178 180l3.3-1M180 198l2.6-.8M158 181l2.4-.7M156 193l1.2-.5M183 176l1.5-.5M182 193l2.4-1.3M174 218l1.8-1.2M189 216l1.1-.3M195 218l.9-.6M195 203l1.1-.6M70 223l1.6-1.1M98 228l2.3-1.7M40 225l2.2-1.4M245 227l2.9-1.4M269 197l2.9-1.3M245 219l2.7-1.6"/>
<path class="kb w8" d="M152 168l3-.9M136 215l1.3-.9M141 197l2.9-.9M146 173l2.6-1.6M155 205l1.9-.9M162 203l2.8-2M174 194l3.3-1.6M181 208l2.7-1.4M136 215l.9-.6M145 192l1.3-.8M143 177l2-.6M180 219l.9-.4M177 178l1.5-.6M117 192l2.7-1.5M72 202l.9-.4M110 205l1.6-.6M100 224l1.7-.8M51 223l2.7-1.3M296 157l1.9-.6M262 222l1.2-.7M292 185l2.1-.6M291 184l2.4-1.1M304 156l1.9-1.1"/>
<path class="kb w9" d="M157 208l2.4-1.6M147 194l1.3-.8M148 230l3.1-1.6M169 202l4-1.1M189 191l1.3-.5M185 184l2.4-.7M166 228l2.7-1.4M141 192l3-1.5M174 202l1.5-.6M181 201l3.2-2M157 190l1.1-.3M176 210l1.5-1M151 219l3.2-1.2M152 181l2.5-1.7M170 174l3-1.5M161 175l3.5-1.3M118 197l2.9-2.4M119 187l3.7-1.5M74 208l2.9-1.8M73 211l1.7-1.1M75 204l1.5-1.1M88 212l1.7-1.1M95 201l3-.9M116 219l2.3-1.8M101 212l1.7-.9M65 225l2.5-1.7M111 205l3.1-.9M85 203l3.2-1.1M40 222l1.4-.8M296 158l1.9-1.3M300 176l3.9-1.9"/>
<path class="kb w10" d="M159 207l.8-.5M160 196l2.5-1.7M141 170l1.6-.5M162 197l1.1-.9M137 230l3.3-.9M155 195l1.3-1M184 218l3.3-1.2M148 210l1.3-.5M144 195l2.4-.7M179 204l2.5-1M193 199l2.1-.8M162 210l3.1-1.6M179 189l3.8-2.3M175 211l1.9-1M184 221l3.2-2.2M164 201l2.6-1.8M141 194l.8-.4M156 187l1.9-1.5M139 224l3.3-.9M156 173l2-1.1M163 171l1.5-1M158 179l1.1-.6M152 173l2.9-.9M120 187l4.2-2.1M121 192l1.9-1.5M86 217l2.9-.9M104 202l2.5-.7M85 206l2.5-1.1M88 208l1-.8M62 206l1.9-.5M61 211l1.9-1.5M87 208l2.2-1M95 226l1-.7M58 225l4.3-2M58 203l3-1M98 221l2.7-1.7M242 228l1.1-.7M265 209l1.7-1.1M301 151l3-.9"/>
<path class="kb w11" d="M160 220l4.4-2.5M147 224l2.3-1.4M138 218l2.7-1.7M190 220l3.1-1.3M151 191l2.5-1.6M162 170l3.2-1.8M167 183l2.8-2.2M145 223l.8-.4M158 191l3.5-1.6M149 205l3.6-1.6M176 202l2.4-1.2M138 187l2.9-1M137 167l2.8-1.5M143 194l3.6-1M176 170l3.6-1.8M166 179l3.2-.9M111 201l2.7-1M93 203l1.1-.6M246 209l2-1.2M242 228l2.8-1.5M275 204l3.2-1.7M304 151l1.4-1.1"/>
<path class="kb w12" d="M187 213l2.5-1.9M178 169l1.1-.5M144 226l2.6-1.4M143 181l2.5-1.3M187 199l4-2.7M165 171l2.3-1.6M177 176l2.5-1.6M67 218l4.5-1.9M56 219l3.9-2.1M87 224l3.3-1.3M60 226l1.8-1.1M295 153l1-.6M273 208l2-1.3M282 203l1.4-.5M288 175l1.9-1M303 178l4-1.3M275 211l2.2-1.4M241 230l4.2-1.3"/>
<path class="kb w13" d="M150 184l5.4-1.6M173 215l2.1-.9M194 216l2.3-1.1M185 230l3.8-1.4M181 209l4.6-1.5M180 217l4.1-2.9M187 208l1.3-.6M150 210l4-1.2M128 193l2-1M288 180l1.5-.4M261 205l3.5-1.8M288 163l2.6-1.1M259 195l1.2-.6M277 185l2.4-.7M277 201l4-2.5M254 209l1.4-1.1"/>
<path class="kb w14" d="M276 199l3-1.6"/>
<path class="kb w15" d="M276 182l1.5-1.1M295 167l5.6-2.4M275 185l3.6-2.3M282 202l1.3-.6M299 179l4.5-3M301 179l1.9-.5M278 183l2.8-1.5"/>
<path class="kb w16" d="M247 226l3.6-2"/>
<path class="kgr w3" d="M101 175l1.5-.8M175 148l1.7-1.4M184 147l1.2-.9"/>
<path class="kgr w4" d="M191 196l1.7-.9M169 226l2.3-1.4M162 203l1.3-.8M138 212l1-.6M153 218l1.5-.5M182 191l1.8-.5M140 196l1.6-.6M177 229l2.3-1.2M147 228l3.1-1.2M141 215l1.5-.9M169 221l1.1-.3M180 198l2.8-.8M156 193l1.3-.5M183 176l1.6-.6M174 218l2-1.3M189 216l1.3-.4M195 218l1-.7M195 203l1.3-.7M73 203l.6-.5M98 228l2.4-1.9M40 225l2.4-1.5M45 225l2.6-.7M119 168l1.6-.6M187 155l.5-.3M245 219l2.9-1.7"/>
<path class="kgr w5" d="M144 209l1.9-1.2M182 196l1.8-.6M152 168l3.2-.9M141 197l3.1-1M162 203l2.9-2.1M178 180l3-1M135 215l1.1-.7M145 193l1.5-1M143 177l2.2-.7M158 181l2.1-.6M180 219l1-.5M182 193l2.2-1.2M72 202l1.1-.5M109 205l1.8-.6M100 224l1.8-.9M70 223l1.3-.9M296 157l2.1-.6M245 227l2.7-1.2M262 222l1.3-.8M292 185l2.3-.7M269 197l2.7-1.2"/>
<path class="kgr w6" d="M136 215l1-.7M146 173l2.3-1.4M155 205l1.6-.7M189 191l1.5-.6M185 184l2.6-.7M165 228l2.9-1.5M174 194l3.1-1.5M181 208l2.4-1.2M180 201l3.4-2.1M151 219l3.4-1.3M177 178l1.2-.5M152 181l2.7-1.8M170 174l3.2-1.6M161 175l3.6-1.4M118 197l3-2.5M117 192l2.4-1.4M74 208l3.1-1.9M73 211l1.8-1.3M75 204l1.6-1.2M95 201l3.2-1M116 219l2.4-1.9M85 203l3.4-1.2M51 223l2.4-1.2M40 222l1.6-.9M296 158l2.1-1.4M291 184l2.1-1M304 156l1.6-.9"/>
<path class="kgr w7" d="M159 207l1-.6M160 196l2.7-1.9M141 170l1.8-.6M162 197l1.3-1M157 208l2.2-1.4M148 210l1.5-.6M144 195l2.6-.7M147 194l1-.6M192 199l2.3-.9M148 230l2.9-1.5M169 202l3.7-1M162 210l3.3-1.6M141 192l2.7-1.3M175 211l2.1-1.1M174 202l1.3-.5M184 222l3.4-2.3M164 201l2.8-1.9M157 190l.8-.2M141 194l.9-.5M176 210l1.3-.9M139 224l3.5-.9M163 171l1.7-1.1M158 179l1.3-.7M152 173l3.1-.9M119 187l3.4-1.4M121 192l2-1.6M88 212l1.5-.9M85 206l2.7-1.2M62 206l2.1-.6M61 211l2.1-1.6M87 208l2.4-1.1M95 226l1.2-.8M101 212l1.4-.7M65 225l2.2-1.6M112 205l2.8-.9M265 209l1.9-1.2M301 176l3.7-1.7"/>
<path class="kgr w8" d="M147 224l2.4-1.5M138 218l2.9-1.8M190 220l3.3-1.4M137 230l3-.8M155 195l1.1-.8M184 218l3-1.1M179 204l2.2-.9M151 191l2.7-1.8M162 170l3.4-1.9M167 183l3-2.3M145 223l1-.5M179 188l3.5-2.1M158 191l3.7-1.7M149 205l3.8-1.7M176 202l2.6-1.3M138 187l3.1-1M156 187l1.7-1.3M143 194l3.8-1M156 173l1.7-1M166 179l3.4-.9M120 187l3.9-2M86 216l2.6-.8M104 202l2.2-.6M88 208l.8-.6M58 225l4-1.9M58 203l2.8-.9M98 221l2.4-1.5M246 209l2.1-1.3M242 228l3-1.6M275 204l3.4-1.8M242 228l.8-.6M304 151l1.5-1.2M301 151l2.7-.8"/>
<path class="kgr w9" d="M160 220l4.1-2.3M178 169l1.3-.5M144 226l2.8-1.5M143 181l2.7-1.3M137 166l2.5-1.3M165 171l2.4-1.8M176 170l3.3-1.6M176 176l2.7-1.7M67 218l4.7-1.9M56 219l4.1-2.2M111 200l2.4-.9M87 224l3.5-1.4M60 226l1.9-1.2M93 203l.9-.4M295 153l1.2-.7M273 209l2.2-1.4M287 175l2.1-1.1M303 178l4.2-1.3"/>
<path class="kgr w10" d="M187 213l2.2-1.7M173 215l2.3-.9M193 216l2.5-1.2M185 230l3.9-1.5M188 199l3.8-2.5M179 217l4.2-3M128 193l2.2-1.1M288 180l1.7-.5M282 203l1.1-.4M288 163l2.8-1.2M277 185l2.6-.8M275 211l2-1.2M242 230l4-1.2M277 201l4.1-2.6M254 209l1.6-1.2"/>
<path class="kgr w11" d="M150 184l5.1-1.5M181 209l4.3-1.4M187 208l1.1-.5M150 210l3.7-1.1M261 205l3.2-1.6M260 195l.9-.5"/>
<path class="kgr w12" d="M295 167l5.8-2.5M276 199l2.7-1.4M299 179l4.7-3.1M301 179l2.1-.6"/>
<path class="kgr w13" d="M276 182l1.2-1M247 226l3.7-2.1M276 185l3.4-2.1M282 201l1.1-.4M278 183l2.6-1.4"/>
<path class="ky w3" d="M75 204l1.7-1.2M116 219l2.5-2M51 223l2.5-1.2"/>
<path class="ky w4" d="M141 170l1.9-.6M162 197l1.4-1.1M157 208l2.3-1.5M144 195l2.6-.8M147 194l1.1-.7M192 199l2.4-.9M148 230l3-1.5M169 202l3.8-1M162 210l3.4-1.7M185 184l2.2-.6M141 192l2.8-1.4M175 211l2.2-1.1M174 202l1.4-.6M184 222l3.5-2.4M181 201l3-1.9M164 201l2.9-2M157 190l.9-.3M141 194l1-.5M176 210l1.3-.9M163 171l1.8-1.2M152 181l2.3-1.6M170 174l2.9-1.5M162 175l3.3-1.2M152 173l3.2-1M118 197l2.7-2.2M119 187l3.5-1.4M120 192l2.1-1.7M74 208l2.8-1.7M73 211l1.5-1M88 212l1.6-1M95 201l2.8-.9M85 206l2.8-1.3M62 206l2.2-.6M87 208l2.5-1.1M95 226l1.3-.8M101 212l1.5-.8M65 225l2.3-1.6M112 205l2.9-.9M85 203l3-1.1M40 222l1.2-.7M265 209l2-1.2M301 176l3.8-1.8"/>
<path class="ky w5" d="M160 207l.7-.4M160 196l2.3-1.6M147 224l2.5-1.6M190 220l3.4-1.4M137 230l3.1-.9M155 195l1.2-.9M184 218l3.1-1.1M148 210l1.1-.4M179 204l2.3-1M151 191l2.8-1.8M162 170l3.5-1.9M167 183l3-2.4M145 223l1.1-.6M179 188l3.6-2.2M176 202l2.7-1.3M156 187l1.8-1.4M139 224l3.1-.8M156 173l1.8-1M158 179l1-.5M166 179l3.5-.9M120 187l4-2M86 216l2.7-.9M104 202l2.3-.7M88 208l.9-.7M62 211l1.8-1.4M58 225l4.1-1.9M58 203l2.8-.9M98 221l2.5-1.6M246 209l2.2-1.4M275 204l3.5-1.9M242 228l.9-.6M301 151l2.8-.8"/>
<path class="ky w6" d="M160 220l4.2-2.4M138 218l2.6-1.6M178 169l1.4-.6M144 226l2.9-1.5M158 191l3.3-1.5M149 205l3.4-1.5M143 182l2.8-1.4M139 187l2.8-.9M137 166l2.6-1.4M143 194l3.4-.9M176 170l3.4-1.7M176 176l2.8-1.7M111 201l2.5-.9M87 224l3.6-1.4M60 226l2-1.3M93 203l.9-.5M295 153l1.3-.8M273 209l2.3-1.5M242 228l2.6-1.4M304 151l1.2-1"/>
<path class="ky w7" d="M187 213l2.3-1.7M193 216l2.6-1.2M188 199l3.9-2.6M179 217l4.3-3.1M165 171l2.1-1.5M128 193l2.3-1.1M67 218l4.3-1.8M56 219l3.8-2M288 180l1.8-.5M282 203l1.2-.4M288 163l2.9-1.2M288 175l1.7-.9M303 178l3.8-1.2M275 211l2.1-1.3M242 230l4-1.3"/>
<path class="ky w8" d="M150 184l5.2-1.5M173 215l1.9-.8M185 230l3.6-1.3M181 209l4.4-1.5M187 208l1.2-.5M150 210l3.8-1.1M261 205l3.3-1.7M259 195l1-.6M277 185l2.2-.6M277 201l3.8-2.4M254 209l1.3-1"/>
<path class="ky w9" d="M276 199l2.8-1.5M299 179l4.8-3.1M301 179l2.2-.6"/>
<path class="ky w10" d="M276 182l1.3-1M246 226l3.8-2.2M295 167l5.4-2.4M275 185l3.5-2.2M282 201l1.2-.5M278 183l2.7-1.5"/>
<path class="ko w3" d="M160 220l4.3-2.4M143 182l2.8-1.4M137 167l2.7-1.4M176 170l3.5-1.7M111 201l2.6-.9M59 226l2.1-1.4M93 203l1-.5"/>
<path class="ko w4" d="M187 213l2.4-1.8M178 169l1-.4M144 226l2.5-1.3M188 199l4-2.7M165 171l2.2-1.6M177 176l2.5-1.5M128 193l2.4-1.2M67 218l4.4-1.8M56 219l3.9-2.1M88 224l3.2-1.3M288 180l1.9-.5M295 153l.9-.6M273 208l1.9-1.2M282 203l1.3-.4M288 163l3-1.3M288 175l1.8-1M303 178l3.9-1.3M275 211l2.2-1.3M242 230l4.1-1.3"/>
<path class="ko w5" d="M150 184l5.3-1.6M173 215l2-.8M194 216l2.2-1.1M185 230l3.7-1.4M181 209l4.5-1.5M180 217l4-2.9M187 208l1.2-.5M150 210l3.9-1.2M261 205l3.4-1.7M259 195l1.1-.6M277 185l2.3-.7M277 201l3.9-2.4M254 209l1.4-1.1"/>
<path class="ko w6" d="M276 199l2.9-1.5M301 179l2.3-.6"/>
<path class="ko w7" d="M276 182l1.4-1.1M295 167l5.5-2.4M275 185l3.6-2.3M282 202l1.2-.5M300 179l4.4-2.9M278 183l2.7-1.5"/>
<path class="ko w8" d="M247 226l3.5-2"/>
<path class="kdbr w4" d="M276 199l2.9-1.5M301 179l2.3-.6"/>
<path class="kdbr w5" d="M276 182l1.4-1.1M295 167l5.5-2.4M275 185l3.6-2.3M282 202l1.2-.5M300 179l4.4-2.9M278 183l2.7-1.5"/>
<path class="kdbr w6" d="M247 226l3.5-2"/>
<use href="#mapg"/>
</g>
<rect x="0.5" y="0.5" width="305" height="230" fill="none" stroke="#555" stroke-width="1"/>
<rect x="5.5" y="3.5" width="15" height="21" fill="#fff" stroke="#555" stroke-width="1"/>
<text class="t" x="13.5" y="17.6" font-size="13.5" text-anchor="middle">7</text>
</g>
<g transform="translate(945,243)">
<g clip-path="url(#cp1)" stroke-linecap="round">
<ellipse cx="287.0" cy="58.2" rx="4.9" ry="1.4" transform="rotate(-40.0 287.0 58.2)" fill="#b8c4ec"/>
<ellipse cx="287.5" cy="58.2" rx="2.4" ry="1.1" transform="rotate(-40.0 287.5 58.2)" fill="#5058d8"/>
<ellipse cx="295.8" cy="48.1" rx="6.7" ry="1.3" transform="rotate(-40.0 295.8 48.1)" fill="#b8c4ec"/>
<ellipse cx="298.6" cy="45.5" rx="3.8" ry="2.1" transform="rotate(-40.0 298.6 45.5)" fill="#b8c4ec"/>
<ellipse cx="299.1" cy="45.5" rx="1.6" ry="1.1" transform="rotate(-40.0 299.1 45.5)" fill="#5058d8"/>
<ellipse cx="219.7" cy="62.9" rx="2.9" ry="1.3" transform="rotate(-19.4 219.7 62.9)" fill="#a5a5a5"/>
<ellipse cx="243.5" cy="53.4" rx="1.6" ry="1.4" transform="rotate(-9.6 243.5 53.4)" fill="#b8c4ec"/>
<ellipse cx="226.9" cy="57.9" rx="2.8" ry="1.3" transform="rotate(-20.8 226.9 57.9)" fill="#b8c4ec"/>
<ellipse cx="245.2" cy="71.1" rx="2.8" ry="1.6" transform="rotate(-19.0 245.2 71.1)" fill="#a5a5a5"/>
<path class="klb w3" d="M298 115l6-4.3M275 107l8.7-7M283 88l8.3-6.8M265 117l6.7-4.1M293 100l13.2-9M202 166l5.4-4M251 134l11.8-8.4M265 151l7.5-6.6M293 136l6.6-5.5M255 157l13.2-11.9M211 164l8.5-7M215 157l4.8-4.1M292 114l14.6-9.6M205 176l7.1-5.5M256 159l8.6-6.7M230 167l14.3-10.8M288 91l9.4-6.1M236 156l11.2-9.9M271 137l6.9-6.1M252 152l7.1-5.8M253 146l5.7-4.6M241 160l10.2-8.6M288 135l10.4-9.2M291 143l5.3-4.4M287 105l13.2-10.9M289 86l9.7-7.8M254 147l11.8-7M287 82l14.5-8.5"/>
<path class="klb w4" d="M196 177l9.1-7.6M281 119l11.3-8.6M278 142l5.5-4.4M276 92l5-4.1M287 135l12-8M291 146l6.8-5.9M293 130l14.2-8.4M285 82l12.8-7.7M220 167l6.6-4.3M274 117l9-7.1M208 164l6.3-5.4M294 130l8.9-5.9M299 142l6.1-4.9M220 158l13.4-9.3M270 133l6.1-4M248 153l11-9M265 147l14.1-10.4M297 89l5.4-4.8M295 118l8.1-6M294 125l9.2-5.8M223 149l13-9.1M284 108l12.4-10.5M209 163l6.6-5.3M298 131l6.1-4.2M217 168l6-4.4M279 87l14.5-8.6M274 98l8.5-6.8M298 110l11.4-7.2M226 139l6.7-4.3M241 146l11.3-9.7M260 163l9.9-6.9"/>
<path class="klb w5" d="M240 149l7-4.9M266 110l13.5-10.4M251 112l9.8-8.3M300 93l5.2-3.1M291 105l8.6-6.5M243 130l8.6-7.1M228 147l9.6-7.1M236 170l8.6-7.2M281 123l11.4-9.7M263 104l5.4-3.2M237 122l13.8-8.1M257 118l8.5-5.9M226 172l11.6-8.1M242 125l12.9-11.6M216 174l14.7-9.5M235 154l7.7-4.9M264 114l10.8-7.8M230 169l6.3-4.1M229 156l6.8-5.9M253 134l14.5-9.5M266 135l10.8-9.3M272 109l7.1-5.4M210 176l4.8-4"/>
<path class="klb w6" d="M257 113l12-10M293 86l11.8-9.7M236 125l10.7-6.4M261 142l6.6-5.2M229 159l9.5-6.5M237 133l12.5-10.7M294 128l12.7-8.3M254 155l12.8-8.3M246 153l14.2-8.7M212 169l11-6.7M222 143l12.7-7.5M233 140l9.7-6.6M223 169l12.9-10.5M263 132l7.6-6.7M264 132l9-8M295 93l10.3-6.9M208 163l12.1-10.2M265 138l12.5-7.5M252 122l6-4.6M229 152l8.1-5.5M255 165l14.1-9.5M276 131l9.1-6M283 99l10-8.1M292 120l7.9-6.5M291 114l5.6-4.6M292 103l6.5-5.2M271 142l10.9-7.1M251 156l6.9-5.2"/>
<path class="kg w3" d="M286 91l9-7.1M284 131l7.3-6.4M268 143l8.5-5.7M278 149l9.1-6M249 164l15.4-8.9M240 146l11.3-6.9M275 143l7.9-6.6M267 107l12.8-7.9M296 91l10.4-6M280 119l6.4-5.4M270 108l8.4-7.5M261 146l13.3-7.8M296 78l5.6-4.6M300 92l6.7-5.3M299 81l13.6-8.3M214 155l7.8-6.2M280 124l13.3-9M277 129l11.7-9.8M286 130l12.2-8.3M249 112l13.8-8.5M286 103l12.5-8.8M237 138l14.9-9.7M275 99l5.2-4.6M229 151l13.5-11.1M267 102l13.8-8.8M291 105l5.6-4.3M300 111l5.6-4.9M285 125l11-9.6M254 137l14.1-10.7M293 108l5-3.6M247 140l8.6-5.1M222 149l8.4-6.9M300 126l7.9-5M261 126l6.4-5.3M275 149l7.6-4.9M288 113l12.7-8.7M292 91l10.3-6M267 96l9.7-5.7M288 83l13.9-11.4M241 161l8.6-7.4M284 151l12-8.7M293 78l5.7-3.8M265 150l7.3-4.4M274 120l11.5-7M219 155l6.5-5.3M255 129l7.1-4.9M253 144l7.3-5M274 118l12.8-10.1M237 153l14.1-8.5M228 161l7.8-6.2M280 115l9.7-8M257 120l4.8-4.2M238 135l8.3-6.2M271 136l7.2-5.1M272 114l6.2-4.9M269 111l7.9-4.6M209 162l11.7-6.9"/>
<path class="kg w4" d="M230 137l9.2-8.1M251 154l7.4-5M236 129l13.9-8.4M288 137l5.8-4.5M296 93l9.6-6.3M288 150l5.6-5M255 146l5.5-4.4M232 149l6.6-5.7M235 148l7-5.5M255 118l8-4.6M260 114l7.2-5.1M297 92l13.9-8.3M258 120l7.1-6.3M284 109l10.6-8.2M231 137l8.2-5.8M227 147l10.6-8.6M293 121l7.6-4.8M233 153l12.4-10.8M238 158l7.4-6.3M276 131l8.5-6M274 110l11-7M223 173l13.2-9.3M267 158l6-4.7M291 86l11.1-9.8M295 104l10.9-7.6M196 172l12.6-9.2M255 141l14.8-8.6M275 140l10.2-6.2M273 102l5.7-4.2M238 146l10.4-6.7M279 109l10.3-6.3M213 154l6-4.5M253 120l13-8.6M298 112l8.6-7.5M195 177l9.9-8.4M275 136l11.6-7M197 171l9.9-8.8M294 131l13.4-11.8M261 106l5.1-4.2M297 88l14.2-9.4M235 145l8.5-6.2M283 131l6.8-4.3"/>
<path class="kg w5" d="M260 146l5.4-3.8M300 139l10.1-8.1M287 116l14.6-9.3M297 134l4.6-4M271 102l13.1-9.5M269 91l6.9-5.6M286 96l12.2-10.2M259 163l7.6-5M266 94l5.7-3.5M265 101l12.7-9.9M209 163l12.9-10.9M251 163l9.6-6.6M281 140l11.5-6.7M290 103l12-9.6M252 163l13.7-10.5M215 173l5.3-3.3M282 103l13.7-11M244 148l10-6.3M283 141l9.1-7.7M257 142l11.6-9.4M302 128l5.7-3.5M228 154l6.9-4.7M276 98l11.1-9M275 142l13-11.2M293 114l5.3-4.3M281 137l8.2-4.8M272 126l10.5-8.8M277 139l8.9-5.3M232 146l14.4-9.2M263 158l12.2-9.8M240 130l8.1-5.2M261 108l8.6-7.7M255 103l11.9-10M285 129l6.5-5.8M289 90l8.5-6.9M208 165l11.5-8.2M280 114l10.3-6.6M255 151l9.8-6.5M259 104l8.9-7.9M227 146l5.2-4.2M244 157l11.4-8.9M276 136l8-5M299 88l10-7.6M235 149l4.9-3.9M242 122l9.1-5.4M247 141l5-3.3M254 103l12.4-9.8M202 178l9.3-7M240 161l7.8-6.6M244 167l7.1-6.4M220 159l12-9.9M280 129l14.2-9.7M290 106l12.8-10M221 144l11-9.7M296 138l10.1-9M252 141l13.4-8.2M231 157l10.1-7.1M290 120l6.9-6.2M287 90l13.6-10.4"/>
<path class="kg w6" d="M220 150l13.8-10.1M300 79l11.6-9.4M277 126l7.1-4.4M295 86l5-3.9M280 152l6.3-4.5M202 169l8.7-6.7M282 139l12.6-8.4M264 146l11.6-6.7M233 156l5.5-3.9M219 160l6.9-4.9M258 114l10.7-7.3M268 148l12.1-10M280 134l12.8-9.4M272 119l7.4-6.2M292 127l11.3-10M196 179l13.2-9.8M208 165l5.8-3.7M288 112l13.3-9.1M268 110l12.9-10.4M235 170l7.3-5.3M298 130l9-6.6M260 155l11.8-7.9M264 114l5-4.2M240 169l11.4-9.6M260 112l7.2-4.2M220 149l8.6-7.6M282 93l10.2-8.3M257 148l11.2-6.6M240 166l8-7.1M274 135l8.1-5.4M197 169l14.2-9M293 97l13.8-9.9M237 125l9.5-6.4M237 124l10-6.8M284 135l11.1-7.7M242 168l12.9-8.7M272 103l10.6-6.4M256 124l13.8-9.5M253 154l7.3-6.1M286 146l6.9-4M247 125l8.6-5.6M256 118l7.3-5.4M300 107l12.9-9.1M217 148l11.8-8.2M271 129l5.1-3.1M254 136l14.2-8.4M255 163l9.3-6.2M291 87l9.1-5.6M269 100l5.9-4.5M259 122l8.5-5.6M299 95l8.5-5M226 140l5.8-3.4M286 99l8.9-5.5M233 155l13.7-9M273 108l9.8-8.6M281 117l8.5-6M259 123l7.6-4.6"/>
<ellipse cx="294.0" cy="80.0" rx="12.0" ry="2.5" transform="rotate(-28.0 294.0 80.0)" fill="#a5a5a5"/>
<ellipse cx="300.0" cy="88.0" rx="8.0" ry="2.0" transform="rotate(-30.0 300.0 88.0)" fill="#a5a5a5"/>
<ellipse cx="286.0" cy="92.0" rx="7.0" ry="2.0" transform="rotate(-35.0 286.0 92.0)" fill="#a5a5a5"/>
<path d="M200 170L232 137L259 107L274 97L288 92L306 85L306 138L296 142L288 148L274 154L259 160L244 165L224 170L199 175Z" fill="#b8c4ec"/>
<ellipse cx="296.0" cy="96.0" rx="6.0" ry="1.5" transform="rotate(-25.0 296.0 96.0)" fill="#a5a5a5"/>
<ellipse cx="282.0" cy="104.0" rx="5.0" ry="1.4" transform="rotate(-25.0 282.0 104.0)" fill="#a5a5a5"/>
<path d="M197 174L222 156L236 137L254 122L274 112L288 107L306 102L306 136L296 140L288 146L274 152L259 158L244 163L224 168L199 175Z" fill="#5058d8"/>
<path d="M212 166L226 156L240 144L256 130L276 118L306 108L306 128L294 132L282 138L268 146L252 152L234 160L218 166Z" fill="#5058d8"/>
<path class="kt w3" d="M258 131l2.5-1.8M301 126l5.3-3.2M246 138l4.3-3.2M256 151l5.6-4.6M274 127l5.5-4.9M227 162l4.7-3.3M254 137l2.8-2.2"/>
<path class="kt w4" d="M283 119l5.3-3.6M237 157l2.4-2.1M284 131l1.9-1.7M281 120l4.8-4.1M275 120l3.2-2.7M269 134l5.1-4.3M288 131l4.9-3.3"/>
<path class="kt w5" d="M271 136l2.9-1.9M274 130l6.4-3.8M238 156l6.8-4M293 132l4.1-3.2M244 147l5.8-4.9M276 133l1.9-1.3M296 114l4-2.9M288 115l1.7-1.2M214 164l7.4-4.7M286 121l5.6-3.5M264 129l4.1-2.9M295 116l5.9-5"/>
<path class="kt w6" d="M273 133l3.3-2.5M255 135l4.9-4.2M263 140l4.7-2.9"/>
<path class="klb w3" d="M293 117l3.8-3.1M271 133l4.6-3M282 119l3.4-2.9M238 150l3.2-1.9M240 150l2.8-2.4M290 122l6.7-4.7M277 127l6.7-3.9M273 132l2.8-2.1M266 132l6.4-4M296 120l1.9-1.1M248 149l1.9-1.7M247 154l6.5-5.8"/>
<path class="klb w4" d="M288 129l3.7-2.7M303 115l4.5-3.2M277 122l3.8-2.7M223 164l2.1-1.8M279 137l3.5-2.5M274 142l5-4M289 135l4-2.9M283 128l2.4-2.1M272 136l2-1.2M281 126l1.8-1.5M292 116l2.2-1.7M243 142l7.2-4.3M243 145l2.9-2.1M266 134l6.4-4.9"/>
<path class="klb w5" d="M221 160l7.4-4.7M277 128l2.8-2.1M288 127l3.9-3.2M255 140l5.7-4.5M299 112l6.4-3.8M282 135l4.6-3.4"/>
<path class="klb w6" d="M281 135l4.9-3.6M238 147l2-1.7M246 151l5-3M221 163l2.5-1.8M295 124l7.1-5.1M282 117l4-3.3M238 155l7.2-5.1M283 132l2.3-1.4"/>
<path class="kgr w3" d="M253 139l3.2-2"/>
<path class="kgr w4" d="M246 140l4.6-3M287 126l3-2.1M246 144l3.3-2.6M266 139l4.5-2.8"/>
<path class="kgr w5" d="M256 147l4-2.7M292 127l5.3-3.2M288 125l4-2.6M239 158l5.6-3.9"/>
<path class="kgr w6" d="M228 157l6.8-4.4M280 120l4.8-3.8"/>
<path class="kg w3" d="M259 145l2.4-1.7M217 166l4.8-2.8"/>
<path class="kg w4" d="M279 124l7.2-4.8"/>
<path class="kg w5" d="M263 141l5.6-4.8M218 163l3.2-2M221 164l6-4.9"/>
<path class="kg w6" d="M251 140l2.3-1.6"/>
<path class="kb w3" d="M278 122l3.9-3.4M302 125l6.6-4.5M236 152l4.5-3.8M281 134l2.9-2.4M278 138l2.7-1.9"/>
<path class="kb w4" d="M299 125l6.6-4.3M303 128l2.5-1.7M275 133l5.1-4.5M280 121l6.8-4.1M252 144l5.9-5.2M284 130l6.1-5.5M227 159l6.5-5.7"/>
<path class="kb w5" d="M272 123l4.7-3.4M266 144l4.8-3.9M276 120l5-3.2M239 149l1.8-1.4M243 153l2.2-1.4M248 147l1.8-1.1"/>
<path class="kb w6" d="M285 127l4.4-3.7M301 112l5.8-5.2M248 152l6.1-4"/>
<path d="M268 116L284 110L306 104L306 130L296 132L284 132L272 128Z" fill="#50969a"/>
<path class="kgr w3" d="M279 115l6.1-3.7M278 117l5.6-4.8M275 131l5.1-3.8M293 129l7-5.1M288 127l5.1-3.2M296 130l6.8-5.2"/>
<path class="kgr w4" d="M276 131l6.4-4.3M284 127l6.4-4.5M280 133l4.5-3.9M282 115l6.5-4.4M290 125l2.2-1.6"/>
<path class="kgr w5" d="M299 122l4-2.8M287 132l4-2.6M284 126l3.4-2.9M304 120l2.4-1.8"/>
<path class="kgr w6" d="M291 111l7.3-4.4M273 121l5-3M305 113l2-1.8M302 119l5.6-4.3M300 115l2.6-1.6M297 108l4-2.5"/>
<path class="klb w5" d="M301 107l5.7-4.5M274 130l5.1-4.4M296 125l2.8-2.3M271 119l4.8-4.2"/>
<path class="kb w3" d="M284 119l6.9-4.7M295 127l6.2-4.1M274 118l2.4-1.4M287 129l2.8-2.2"/>
<path class="kb w4" d="M291 113l4-3.2"/>
<path class="kb w5" d="M276 127l4.5-2.7M279 133l6-5.2M299 127l7.2-5"/>
<path class="klg w4" d="M296 124l6.5-5M305 121l2-1.2"/>
<path class="klg w5" d="M269 121l4.9-4.3M294 116l4.9-4M286 131l6.4-3.7"/>
<path class="klg w6" d="M301 111l6-3.8"/>
<path class="ky w3" d="M277 128l6.6-5"/>
<path class="ky w4" d="M287 130l4.8-2.8M274 120l7-4.7M293 116l2.3-1.6"/>
<path class="ky w5" d="M300 129l3.7-2.9"/>
<path class="kt w3" d="M280 121l2.3-1.7M292 114l6.6-5.4M300 125l6.7-5.3M288 128l5.6-4.6M296 132l4.5-2.7M298 114l7.6-4.5"/>
<path class="kt w4" d="M289 124l4.7-3.2"/>
<path class="kt w5" d="M283 116l1.8-1"/>
<path class="kt w6" d="M273 119l6.7-5.2M295 115l7-5.2"/>
<ellipse cx="254.0" cy="142.0" rx="6.0" ry="2.0" transform="rotate(-30.0 254.0 142.0)" fill="#b8c4ec"/>
<ellipse cx="270.0" cy="138.0" rx="5.0" ry="1.5" transform="rotate(-25.0 270.0 138.0)" fill="#b8c4ec"/>
<ellipse cx="284.0" cy="119.0" rx="3.0" ry="3.0" transform="rotate(0.0 284.0 119.0)" fill="#b8c4ec"/>
<ellipse cx="284.0" cy="119.0" rx="2.6" ry="2.6" transform="rotate(0.0 284.0 119.0)" fill="#5058d8"/>
<ellipse cx="284.0" cy="119.0" rx="2.1" ry="2.1" transform="rotate(0.0 284.0 119.0)" fill="#008000"/>
<ellipse cx="284.0" cy="119.0" rx="1.6" ry="1.6" transform="rotate(0.0 284.0 119.0)" fill="#f0d860"/>
<ellipse cx="284.0" cy="119.0" rx="1.0" ry="1.0" transform="rotate(0.0 284.0 119.0)" fill="#f0b020"/>
<ellipse cx="298.0" cy="122.0" rx="3.0" ry="3.0" transform="rotate(0.0 298.0 122.0)" fill="#b8c4ec"/>
<ellipse cx="298.0" cy="122.0" rx="2.6" ry="2.6" transform="rotate(0.0 298.0 122.0)" fill="#5058d8"/>
<ellipse cx="298.0" cy="122.0" rx="2.1" ry="2.1" transform="rotate(0.0 298.0 122.0)" fill="#008000"/>
<ellipse cx="298.0" cy="122.0" rx="1.6" ry="1.6" transform="rotate(0.0 298.0 122.0)" fill="#f0d860"/>
<ellipse cx="298.0" cy="122.0" rx="1.0" ry="1.0" transform="rotate(0.0 298.0 122.0)" fill="#f0b020"/>
<ellipse cx="293.0" cy="134.0" rx="3.0" ry="2.5" transform="rotate(0.0 293.0 134.0)" fill="#b8c4ec"/>
<ellipse cx="293.0" cy="134.0" rx="2.6" ry="2.1" transform="rotate(0.0 293.0 134.0)" fill="#5058d8"/>
<ellipse cx="293.0" cy="134.0" rx="2.1" ry="1.8" transform="rotate(0.0 293.0 134.0)" fill="#008000"/>
<ellipse cx="293.0" cy="134.0" rx="1.6" ry="1.3" transform="rotate(0.0 293.0 134.0)" fill="#f0d860"/>
<ellipse cx="290.0" cy="114.0" rx="2.0" ry="2.0" transform="rotate(0.0 290.0 114.0)" fill="#b8c4ec"/>
<ellipse cx="290.0" cy="114.0" rx="1.7" ry="1.7" transform="rotate(0.0 290.0 114.0)" fill="#5058d8"/>
<ellipse cx="290.0" cy="114.0" rx="1.4" ry="1.4" transform="rotate(0.0 290.0 114.0)" fill="#008000"/>
<ellipse cx="236.0" cy="158.0" rx="3.0" ry="3.0" transform="rotate(0.0 236.0 158.0)" fill="#b8c4ec"/>
<ellipse cx="236.0" cy="158.0" rx="2.6" ry="2.6" transform="rotate(0.0 236.0 158.0)" fill="#5058d8"/>
<ellipse cx="236.0" cy="158.0" rx="2.1" ry="2.1" transform="rotate(0.0 236.0 158.0)" fill="#008000"/>
<ellipse cx="236.0" cy="158.0" rx="1.6" ry="1.6" transform="rotate(0.0 236.0 158.0)" fill="#f0d860"/>
<ellipse cx="236.0" cy="158.0" rx="1.0" ry="1.0" transform="rotate(0.0 236.0 158.0)" fill="#f0b020"/>
<ellipse cx="251.0" cy="166.0" rx="3.0" ry="2.5" transform="rotate(0.0 251.0 166.0)" fill="#b8c4ec"/>
<ellipse cx="251.0" cy="166.0" rx="2.6" ry="2.1" transform="rotate(0.0 251.0 166.0)" fill="#5058d8"/>
<ellipse cx="251.0" cy="166.0" rx="2.1" ry="1.8" transform="rotate(0.0 251.0 166.0)" fill="#008000"/>
<ellipse cx="251.0" cy="166.0" rx="1.6" ry="1.3" transform="rotate(0.0 251.0 166.0)" fill="#f0d860"/>
<ellipse cx="244.0" cy="160.0" rx="2.0" ry="2.0" transform="rotate(0.0 244.0 160.0)" fill="#b8c4ec"/>
<ellipse cx="244.0" cy="160.0" rx="1.7" ry="1.7" transform="rotate(0.0 244.0 160.0)" fill="#5058d8"/>
<ellipse cx="244.0" cy="160.0" rx="1.4" ry="1.4" transform="rotate(0.0 244.0 160.0)" fill="#008000"/>
<path d="M274 150L284 140L294 130L306 126L306 180L296 180L284 176L276 166Z" fill="#b8c4ec"/>
<path d="M277 151L286 142L296 133L306 130L306 176L296 176L286 172L279 164Z" fill="#50969a"/>
<path class="kgr w3" d="M297 172l5-3.3M279 154l6.7-4.8M294 173l4.6-3.7M301 145l2.2-1.7M296 153l4.8-2.9M300 150l6.3-4.1M288 150l6.4-4.2"/>
<path class="kgr w4" d="M301 174l4.2-3.5M295 167l4.9-4.1M293 140l2.2-1.6M289 141l7.3-4.6M301 162l7.2-4.2"/>
<path class="kgr w5" d="M280 156l7-4.8M287 147l6-3.6M292 156l5.1-4.1M287 168l6.1-4.6M280 170l6.5-5M295 164l7.3-4.8"/>
<path class="kgr w6" d="M297 177l6.7-4.3M279 163l6.4-5.7M296 153l2.6-1.6M301 138l2.7-2.4M296 137l6.2-4.5"/>
<path class="klb w3" d="M292 138l1.9-1.6M297 141l4.9-3.7M302 171l5.3-4.2"/>
<path class="klb w5" d="M299 135l1.8-1.3M294 161l5.1-4M301 142l6.3-4"/>
<path class="klb w6" d="M290 143l3.7-2.4M304 145l3.4-2.7M283 159l6.5-5.5"/>
<path class="kb w3" d="M288 169l2.9-2.2"/>
<path class="kb w4" d="M289 161l3.8-3.1M294 142l6.3-4.9M292 148l5.3-4.2M299 164l3.2-2.2"/>
<path class="kb w5" d="M293 137l2.2-1.7M284 154l1.7-1.5"/>
<path class="kb w6" d="M284 166l6-4.6M278 154l2.2-1.9M282 162l6-4M280 155l2.8-2.1M296 137l2.3-1.7M287 163l4.5-4"/>
<path class="klg w3" d="M277 158l4.3-2.7"/>
<path class="klg w4" d="M284 169l7.2-4.6M286 143l3.3-2.1M288 159l3.4-2.6"/>
<path class="ky w3" d="M289 175l7-5.1M281 154l1.8-1.1M280 161l4-2.6"/>
<path class="ky w4" d="M295 166l4.7-4.1M304 155l2.5-1.6"/>
<path class="ky w5" d="M283 150l2.5-1.5M282 155l3.3-2"/>
<path class="ky w6" d="M281 158l4.4-2.7M287 158l1.9-1.2M279 155l5.4-3.2M285 146l5.7-4M294 139l5.8-3.7"/>
<path class="kt w3" d="M299 165l6.3-5"/>
<path class="kt w5" d="M283 147l7.1-5.3M292 150l6.1-5.3M292 147l6.4-4.5M299 149l2.3-1.6"/>
<path class="kt w6" d="M293 168l2-1.7M291 143l5.2-3.9"/>
<path class="klb w13" d="M289 168l2.6-.8M297 167l2.2-.6M283 148l3.7-2.8M301 160l3.4-1.9M286 153l1.6-1.3"/>
<path class="klb w14" d="M284 142l3.9-2.7"/>
<path class="klb w15" d="M292 163l1.8-.7M281 162l4.5-1.2M294 137l1.5-.6M279 167l3.6-1.1"/>
<path class="klb w16" d="M280 149l2.3-1.9M290 169l1.6-1.2M295 141l1.1-.5M296 137l4.5-1.6"/>
<path class="klb w17" d="M299 169l5-3M279 145l4.7-3.5M284 156l5.4-2.1M295 152l2.8-.8"/>
<path class="klb w18" d="M295 152l3.5-1.1M279 159l2.4-1.8M303 143l3.3-1"/>
<path class="kb w10" d="M289 168l2.8-.8M297 167l2.4-.7"/>
<path class="kb w11" d="M283 148l3.5-2.7M301 160l3.1-1.8M286 153l1.4-1.1"/>
<path class="kb w12" d="M292 163l2-.8M281 162l4.7-1.3M294 137l1.7-.7M284 142l3.7-2.6"/>
<path class="kb w13" d="M280 149l2.5-2.1M290 169l1.7-1.3M295 141l1.3-.6M296 137l4.7-1.7M280 167l3.3-1"/>
<path class="kb w14" d="M299 169l5.1-3.1M279 145l4.9-3.6M284 156l5.6-2.1"/>
<path class="kb w15" d="M295 152l2.5-.7"/>
<path class="kb w16" d="M295 152l3.2-1M279 159l2.2-1.7M303 143l3-.9"/>
<path class="kgr w7" d="M288 168l3-.9"/>
<path class="kgr w8" d="M297 167l2.1-.6M283 148l3.7-2.8M301 160l3.3-1.9M286 153l1.5-1.3"/>
<path class="kgr w9" d="M284 142l3.8-2.7"/>
<path class="kgr w10" d="M292 163l1.7-.7M295 141l1.4-.7M281 162l4.4-1.2M294 137l1.4-.6M279 167l3.5-1"/>
<path class="kgr w11" d="M280 149l2.3-1.9M290 169l1.5-1.1M297 137l4.4-1.6"/>
<path class="kgr w12" d="M299 169l4.9-2.9M279 145l4.6-3.4M284 156l5.3-2M295 152l2.7-.8"/>
<path class="kgr w13" d="M295 152l3.4-1.1M279 159l2.3-1.8M303 143l3.2-1"/>
<path class="ky w5" d="M289 168l2.6-.8M297 167l2.2-.6M283 148l3.7-2.8M301 160l3.4-1.9M286 153l1.6-1.3"/>
<path class="ky w6" d="M284 142l3.9-2.7"/>
<path class="ky w7" d="M292 163l1.8-.7M281 162l4.5-1.2M294 137l1.5-.6M279 167l3.6-1.1"/>
<path class="ky w8" d="M280 149l2.3-1.9M290 169l1.6-1.2M295 141l1.1-.5M296 137l4.5-1.6"/>
<path class="ky w9" d="M299 169l5-3M279 145l4.7-3.5M284 156l5.4-2.1M295 152l2.8-.8"/>
<path class="ky w10" d="M295 152l3.5-1.1M279 159l2.4-1.8M303 143l3.3-1"/>
<path class="ko w4" d="M292 163l1.9-.8M281 162l4.6-1.3M294 137l1.6-.6M284 142l3.6-2.5"/>
<path class="ko w5" d="M280 149l2.4-2M290 169l1.6-1.2M295 141l1.2-.6M296 137l4.6-1.7M280 167l3.2-1"/>
<path class="ko w6" d="M299 169l5-3M279 145l4.8-3.5M284 156l5.5-2.1M295 152l2.9-.8"/>
<path class="ko w7" d="M295 152l3.6-1.1M279 159l2.5-1.9M303 143l3.4-1.1"/>
<path class="kdbr w4" d="M299 169l5-3M279 145l4.8-3.5M284 156l5.5-2.1M295 152l2.9-.8"/>
<path class="kdbr w5" d="M295 152l3.6-1.1M279 159l2.5-1.9M303 143l3.4-1.1"/>
<path d="M234 226L240 212L250 200L262 192L274 184L284 176L294 168L306 160L306 178L296 184L286 192L276 200L266 210L256 222L248 231L236 231Z" fill="#b8c4ec"/>
<path d="M237 225L243 212L252 202L264 194L276 186L286 178L296 170L306 163L306 174L295 181L285 189L275 197L265 207L255 219L246 229Z" fill="#5058d8"/>
<path d="M240 224L246 212L254 204L266 196L278 188L288 180L298 172L306 167L306 171L294 178L284 186L274 194L264 204L254 216L245 226Z" fill="#50969a"/>
<path class="kgr w3" d="M252 210l2.2-1.4M251 214l4.8-2.9"/>
<path class="kgr w4" d="M241 224l2.6-2.3"/>
<path class="kgr w5" d="M251 213l6.8-5.8M297 174l4.5-3.4M272 193l7-5.3"/>
<path class="kgr w6" d="M247 210l2.1-1.2"/>
<path class="klb w3" d="M258 203l5.3-3.2"/>
<path class="klb w4" d="M248 209l4.8-4M261 204l4.4-2.8M266 200l4.1-2.7"/>
<path class="klb w6" d="M259 209l2.5-2.2"/>
<path class="kb w3" d="M292 178l3.5-2.8"/>
<path class="kb w5" d="M244 218l5.6-4.6M271 194l5.9-3.7M261 205l2.2-1.6M259 205l6.9-4.1"/>
<path class="klg w3" d="M295 176l6-3.8M253 215l3.8-2.5"/>
<path class="klg w4" d="M240 221l7.2-5.4"/>
<path class="klg w5" d="M276 190l2.6-2"/>
<path class="ky w3" d="M252 213l5.3-4M286 183l3.3-2.8"/>
<path class="ky w4" d="M297 176l7-4.4"/>
<path class="ky w5" d="M256 212l5.3-3.4"/>
<path class="kt w4" d="M246 220l7-5.5"/>
<path class="kt w5" d="M298 173l6.9-4.9"/>
<path d="M243 222L248 213L256 206L268 198L280 190L290 182L300 175L292 180L282 188L272 196L262 206L252 216Z" fill="#f0d860"/>
<ellipse cx="249.0" cy="214.0" rx="3.0" ry="3.0" transform="rotate(0.0 249.0 214.0)" fill="#f0b020"/>
<ellipse cx="250.0" cy="215.0" rx="1.5" ry="1.5" transform="rotate(0.0 250.0 215.0)" fill="#8c5a40"/>
<ellipse cx="266.0" cy="195.0" rx="2.5" ry="2.5" transform="rotate(0.0 266.0 195.0)" fill="#f0b020"/>
<ellipse cx="274.0" cy="189.0" rx="2.5" ry="2.5" transform="rotate(0.0 274.0 189.0)" fill="#f0b020"/>
<ellipse cx="275.0" cy="189.0" rx="1.2" ry="1.2" transform="rotate(0.0 275.0 189.0)" fill="#f05080"/>
<ellipse cx="284.0" cy="180.0" rx="2.0" ry="2.0" transform="rotate(0.0 284.0 180.0)" fill="#f0b020"/>
<ellipse cx="294.0" cy="173.0" rx="2.0" ry="2.0" transform="rotate(0.0 294.0 173.0)" fill="#f0b020"/>
<ellipse cx="255.0" cy="171.0" rx="4.0" ry="4.0" transform="rotate(0.0 255.0 171.0)" fill="#b8c4ec"/>
<ellipse cx="255.0" cy="171.0" rx="3.4" ry="3.4" transform="rotate(0.0 255.0 171.0)" fill="#5058d8"/>
<ellipse cx="255.0" cy="171.0" rx="2.8" ry="2.8" transform="rotate(0.0 255.0 171.0)" fill="#008000"/>
<ellipse cx="255.0" cy="171.0" rx="2.1" ry="2.1" transform="rotate(0.0 255.0 171.0)" fill="#f0d860"/>
<ellipse cx="255.0" cy="171.0" rx="1.4" ry="1.4" transform="rotate(0.0 255.0 171.0)" fill="#f0b020"/>
<ellipse cx="238.0" cy="196.0" rx="7.0" ry="2.5" transform="rotate(-35.0 238.0 196.0)" fill="#a5a5a5"/>
<ellipse cx="232.0" cy="202.0" rx="4.0" ry="1.5" transform="rotate(-35.0 232.0 202.0)" fill="#a5a5a5"/>
<ellipse cx="296.0" cy="206.0" rx="2.0" ry="7.0" transform="rotate(25.0 296.0 206.0)" fill="#b8c4ec"/>
<ellipse cx="296.0" cy="206.0" rx="1.0" ry="4.0" transform="rotate(25.0 296.0 206.0)" fill="#5058d8"/>
<path d="M172 184L184 176L200 175L212 180L216 194L208 202L190 204L176 198Z" fill="#b8c4ec"/>
<path d="M175 185L185 178L199 177L210 182L213 193L206 200L191 202L178 196Z" fill="#50969a"/>
<path class="kgr w3" d="M181 191l2.8-2M195 202l5.1-4.5M198 181l4.2-2.7"/>
<path class="kgr w4" d="M184 195l6.1-3.8M185 189l2.3-2M200 193l5.1-3.2M206 197l2.1-1.6M195 194l2.2-1.5"/>
<path class="kgr w5" d="M196 181l5.6-4.2M209 194l7.1-4.8M179 192l2.6-2M184 188l2.4-1.5"/>
<path class="kgr w6" d="M178 188l6.6-5.9M201 194l3.8-3.3M184 197l4.1-3.7M182 183l2.8-2.1"/>
<path class="klb w3" d="M200 188l2-1.6"/>
<path class="klb w4" d="M206 199l4.8-4.2"/>
<path class="klb w5" d="M200 192l4.4-3.5"/>
<path class="klb w6" d="M204 190l3.9-2.6"/>
<path class="kb w3" d="M194 198l2.7-1.8M205 191l2.9-1.9"/>
<path class="kb w4" d="M198 179l3.4-3"/>
<path class="kb w6" d="M203 195l2.8-2"/>
<path class="klg w3" d="M182 190l1.9-1.5M198 183l5.8-3.9M179 197l5.3-4.1M193 202l2.2-1.5"/>
<path class="klg w4" d="M200 183l2-1.7"/>
<path class="klg w5" d="M205 181l2.4-1.6M177 191l2-1.2M182 190l6.9-4.9M185 189l3.7-2.9"/>
<path class="klg w6" d="M180 193l4-3.6"/>
<path class="ky w3" d="M188 201l3.5-3"/>
<path class="ky w4" d="M187 199l1.6-1.4"/>
<path class="ky w5" d="M192 184l2.5-2.2M190 184l6.5-5.8"/>
<path class="ky w6" d="M193 196l4.5-3.2M190 184l2.2-1.8"/>
<path class="kt w3" d="M184 188l5.4-4.5M193 196l5.8-3.8M178 187l2.7-1.9M190 202l5.4-4.4M197 186l2.4-2.1"/>
<path class="kt w4" d="M177 191l4.4-2.9M175 187l3.8-3.3"/>
<path class="kt w5" d="M178 183l6.7-4.6"/>
<path class="kt w6" d="M177 192l3.4-2.2"/>
<path d="M179 186L187 181L198 180L206 184L208 192L203 197L192 198L181 194Z" fill="#f0d860"/>
<path class="ko w4" d="M193 183l6.7-4.8M197 182l2-1.4M189 189l1.8-1.1"/>
<path class="ko w5" d="M179 187l3.7-3.1M201 193l3.1-2.7M181 193l5-3M202 184l3.1-1.9M198 190l7-4.9"/>
<path class="ko w6" d="M198 196l5.5-3.6M187 188l3.1-2.4M196 190l6-4.6M203 191l2.7-1.7M179 189l5.8-3.4"/>
<path class="klg w5" d="M198 195l2.2-2M191 188l5.1-3.8"/>
<path class="klg w6" d="M189 194l2.8-1.9M187 184l6.6-5.7"/>
<path class="kgr w4" d="M193 194l5.9-4.7"/>
<path class="kgr w5" d="M194 186l3.2-2.8"/>
<path class="kgr w6" d="M196 193l2.4-1.7"/>
<path class="ky w3" d="M193 187l5.5-3.4M182 188l6.7-4.3M196 184l5.1-4.2"/>
<path class="ky w4" d="M194 184l4.4-2.5M202 190l5.4-3.5"/>
<path class="kbr w3" d="M187 189l3.6-3.2"/>
<path class="kbr w4" d="M180 186l3.2-2.5"/>
<ellipse cx="188.0" cy="188.0" rx="3.0" ry="3.0" transform="rotate(0.0 188.0 188.0)" fill="#f0b020"/>
<ellipse cx="200.0" cy="190.0" rx="3.0" ry="3.0" transform="rotate(0.0 200.0 190.0)" fill="#f0b020"/>
<ellipse cx="189.0" cy="189.0" rx="1.5" ry="1.5" transform="rotate(0.0 189.0 189.0)" fill="#c08838"/>
<ellipse cx="201.0" cy="191.0" rx="1.3" ry="1.3" transform="rotate(0.0 201.0 191.0)" fill="#8c5a40"/>
<ellipse cx="195.0" cy="196.0" rx="2.0" ry="2.0" transform="rotate(0.0 195.0 196.0)" fill="#f0b020"/>
<path d="M198 216L206 211L218 211L228 215L230 224L228 231L198 231Z" fill="#b8c4ec"/>
<path d="M201 218L208 214L218 214L226 217L228 224L226 231L201 231Z" fill="#50969a"/>
<path class="kgr w3" d="M211 227l3.5-3.1M201 231l5.6-4.8"/>
<path class="kgr w4" d="M212 227l7.7-4.5"/>
<path class="kgr w5" d="M206 231l3.5-2.9M214 220l2.1-1.8M203 223l4.3-2.9M216 226l6.9-5.2"/>
<path class="kgr w6" d="M213 218l1.9-1.4"/>
<path class="klb w3" d="M205 221l3.5-2.8"/>
<path class="klb w4" d="M215 217l2.2-1.3M204 219l5.2-3.5M213 225l4.7-3.5"/>
<path class="klb w5" d="M225 226l5.5-4.3M211 224l1.7-1.3M218 230l4-2.9"/>
<path class="kb w3" d="M200 228l4.2-2.6M200 225l3-2.2"/>
<path class="kb w4" d="M202 232l6.1-5"/>
<path class="klg w5" d="M213 220l5.6-4M220 224l5.8-4"/>
<path class="ky w3" d="M215 227l4.2-3.2"/>
<path class="ky w4" d="M205 224l3.5-2.5M219 221l6.9-4M203 226l4.6-3.3"/>
<path class="ky w6" d="M216 217l3.4-2.7"/>
<path class="kt w3" d="M208 227l6.3-4.2"/>
<path class="kt w6" d="M226 222l1.9-1.5M208 220l6-4"/>
<path d="M204 220L210 217L218 217L224 220L225 226L222 231L204 231Z" fill="#f0d860"/>
<path class="ko w5" d="M215 228l4.1-2.6M214 228l3.9-2.4"/>
<path class="ko w6" d="M206 226l1.7-1.2M209 223l3.3-2.3M205 224l4.8-4.1"/>
<path class="kgr w3" d="M214 219l4.1-2.9"/>
<path class="ky w3" d="M206 226l5.4-4.3M206 229l4.5-3.9M215 220l3.5-2.7"/>
<path class="ky w4" d="M204 233l7.4-4.6"/>
<path class="ky w5" d="M213 225l3.6-3.1M214 222l4.1-2.6"/>
<path class="ky w6" d="M208 226l5.1-4.2M205 231l5.5-4.9"/>
<path class="kbr w3" d="M218 224l4.6-3.8"/>
<path class="kbr w4" d="M205 222l1.7-1.1"/>
<path class="kbr w6" d="M211 232l5.8-4.5"/>
<path class="kb w6" d="M213 219l2.6-1.5"/>
<ellipse cx="215.0" cy="226.0" rx="3.0" ry="3.0" transform="rotate(0.0 215.0 226.0)" fill="#f0b020"/>
<ellipse cx="222.0" cy="227.0" rx="1.5" ry="1.5" transform="rotate(0.0 222.0 227.0)" fill="#f05080"/>
<path class="klb w4" d="M122 170l1-.7M118 166l.6-.3M186 150l.7-.5M173 139l1.2-.6M192 140l.5-.2M240 80l.8-.5M233 82l.9-.3M237 79l.8-.3"/>
<path class="klb w5" d="M188 152l1.5-.9M189 144l1.2-.6M225 85l.5-.3M234 93l.8-.3M242 82l.3-.1M243 92l1-.5"/>
<path class="klb w6" d="M113 166l1.7-.8M100 180l1-.7M106 170l1.7-.8M109 171l1.1-.4M97 175l1.1-.8M134 167l1.5-.6M139 165l1.9-1.2M169 148l1.8-1.2M187 140l1.3-.9M200 149l1.6-1.2M168 148l.8-.5M190 140l1.2-.5M165 150l.7-.6M217 89l1.4-1.1M222 76l.6-.3"/>
<path class="klb w7" d="M152 226l.6-.2M162 230l1.9-1M145 195l1.6-1M113 216l1.8-.6M97 171l1-.7M134 169l2.4-.9M110 174l2-1.7M197 140l1.4-.8M202 149l1.1-.7M188 145l.8-.6M210 142l1.3-1.1M163 138l2.1-1.6M273 216l1.7-1.2M264 217l.6-.2M298 155l1.4-.8"/>
<path class="klb w8" d="M159 228l1.3-1M151 209l1.4-1M195 230l.8-.4M156 204l1.3-.5M187 197l3-1M148 213l2.7-.9M98 213l2.5-.7M117 174l.4-.1M128 163l1.2-.6M107 175l1.1-.8M111 171l1.4-.9M112 174l2.3-.7M166 141l1.2-.9M173 149l2.5-1.1M210 146l.8-.6M200 146l1.7-1.2M202 156l.6-.3M305 171l1.2-.4M298 159l1.9-1.1"/>
<path class="klb w9" d="M141 189l1.4-1M170 210l2.7-1.1M145 172l1-.8M189 216l1.4-.6M196 221l1-.7M179 203l2.9-1.4M177 185l2.4-1.3M162 171l1.1-.4M65 220l.9-.8M81 228l2-1.2M62 218l2-1.2M89 220l1.9-1.3M104 178l1.2-.7M191 153l.9-.3M200 143l.7-.3M170 144l1.2-.6M296 187l.6-.4M271 191l1.8-.7"/>
<path class="klb w10" d="M163 191l.7-.4M148 192l.4-.3M167 220l2.2-.7M150 173l1.7-.9M168 204l1.1-.3M192 222l3.1-1.3M190 199l2.4-1.4M148 171l1.1-.4M141 212l1.2-.7M176 191l1.2-.6M186 198l.6-.2M170 210l2.8-.9M174 206l2.4-1.1M154 196l1.7-.6M139 209l2.4-1.9M147 212l2-1.5M153 206l2.9-.9M142 206l2.3-1.1M192 208l2.5-1.7M122 185l1.6-1.2M91 209l.8-.4M98 221l2.2-1.5M62 222l1.4-.5M62 217l1.7-1.2M79 220l1.9-.6M99 216l2.1-1.4M90 224l1-.6M107 225l.9-.5M263 210l3.2-1M248 213l1.6-.9"/>
<path class="klb w11" d="M175 223l1.1-.4M150 211l1.6-.8M139 187l3.6-1.1M178 220l2.9-2.1M166 209l1.9-.9M180 219l1-.7M192 202l3.1-1.2M141 188l3.4-1.1M177 214l1.1-.9M141 220l1.3-.6M190 200l2.9-.9M170 228l1.8-1.3M173 202l2.3-1M166 171l.9-.3M128 192l.9-.4M104 215l1.4-.5M88 213l2.4-2M61 222l1.1-.3M67 219l2.3-.8M100 218l2-1.2M56 224l3.5-1.3M75 214l3.4-1.1M278 196l1-.5M284 198l3.5-1.7M279 197l1.2-.6M292 187l1.2-.8M243 211l1.6-.7"/>
<path class="klb w12" d="M160 207l2.5-1.4M175 215l1.9-1.4M172 210l1.2-.7M198 211l1.7-.6M198 199l.7-.5M154 177l1.1-.8M168 229l2.8-1.2M194 230l2.3-.8M173 192l1.6-1.3M158 192l1-.7M163 207l1.5-1M167 229l2-.6M158 205l1.3-.6M156 197l2.2-1.2M152 170l2.2-1.2M151 175l1.8-1.4M164 176l2-.6M165 177l2.5-.9M160 171l3.2-1.6M123 186l2.9-1.4M121 194l2.1-1.4M127 189l1.9-.5M123 187l1.2-.9M108 208l3.3-1.8M88 212l1.3-.4M68 229l2-.9M74 214l1.1-.6M296 147l2-1.1M285 188l2.1-.8M282 205l2.8-1.1"/>
<path class="klb w13" d="M172 187l.9-.6M178 212l2.5-1M148 224l3.4-2.3M166 224l2.8-1.4M147 205l3.7-1.4M176 179l1.7-.5M156 221l2.9-1.5M193 219l1.1-.6M161 211l2.5-.7M174 177l3.5-2.3M166 195l2.5-2M149 210l2.8-.9M191 196l3.4-2.8M181 209l2-1M152 171l3.5-1.2M163 230l2.5-1.5M168 227l2.4-1.5M168 188l1.3-.5M169 174l1.9-.9M158 174l2.7-.9M166 171l1.6-.7M150 178l2.2-1.4M159 172l3.5-2.2M153 172l1.1-.5M157 165l1.1-.9M59 211l3.4-1.1M112 227l1.6-.8M81 225l1.8-1.1M98 209l3.4-1.7M112 214l1.1-.8M83 215l2.4-1.9M61 227l1.4-.9M297 159l.8-.5M262 218l3.7-1.4M252 217l2-1M293 171l3.9-2.4M304 144l2.4-1.9M278 186l3.3-1.1M286 181l1.7-.9"/>
<path class="klb w14" d="M151 198l4-1.2M177 214l2.9-1.9M171 201l3.8-1.1M152 186l2.7-1.2M151 213l1.1-.3M141 183l1.1-.9M160 204l3.7-2.1M185 197l3.3-1.1M160 175l3.5-1.1M177 194l4.8-1.9M161 212l3.7-2.3M174 183l1.2-.5M57 219l1.4-.4M110 213l3.5-1.5M240 227l1.8-1.2M300 160l2.2-1.1M257 209l2.7-1.2M295 170l3.4-1.7M295 191l3.2-1.6M265 196l3.1-2.2M250 200l2.3-1.4M277 200l1.4-1.1"/>
<path class="klb w15" d="M143 170l2.9-1.5M171 230l4-1.9M145 224l2.6-.8M144 204l3.7-1.2M144 202l1.8-1.5M153 184l1.9-.8M147 173l2.5-.9M51 225l1.4-1.1M80 207l3.3-1.9M269 180l3.1-2.3M292 193l2.2-1.7M278 201l3.1-2.5M298 166l1.5-1.1M291 172l4.3-2.3M278 188l4-1.5M259 230l3.3-2.3"/>
<path class="klb w16" d="M168 188l1.1-.6M182 224l4.5-1.6M150 196l2.8-2.3M157 172l3.4-2.3M285 185l4.1-1.6M267 221l1-.7M272 215l3.6-2.1M299 153l1-.6M283 176l1.1-.8M285 161l2.9-2"/>
<path class="klb w17" d="M264 222l2.7-1.2"/>
<path class="klb w18" d="M256 194l4.7-2.8M288 178l1.8-1.3M245 224l4.4-1.8M263 188l4.5-1.3M298 150l1.1-.9"/>
<path class="kb w3" d="M113 166l1.9-.9M134 167l1.7-.6M200 149l1.8-1.3M168 148l1-.6M165 150l.9-.7M221 76l.7-.4"/>
<path class="kb w4" d="M113 216l2-.6M97 171l1.2-.8M109 171l.8-.3M97 175l.8-.6M139 165l1.7-1M169 148l1.6-1M187 140l1.1-.7M197 140l1.5-.9M190 140l1-.4M217 89l1.1-.9M264 217l.8-.3"/>
<path class="kb w5" d="M152 226l.4-.1M151 209l1.5-1.2M162 230l1.6-.9M146 195l1.4-.8M156 204l1.5-.5M117 174l.6-.2M128 163l1.4-.7M107 175l1.2-.9M111 171l1.5-1M112 174l2.5-.7M134 169l2.1-.8M110 174l1.8-1.5M202 149l.9-.5M188 145l.6-.4M210 142l1.1-.9M163 138l1.9-1.5M202 156l.8-.4M273 216l1.4-1M298 159l2.1-1.2M298 155l1.1-.6"/>
<path class="kb w6" d="M160 228l1-.8M141 189l1.5-1.1M170 210l2.8-1.2M195 230l.5-.3M188 197l2.7-.9M148 212l2.4-.8M64 220l1.1-.9M98 213l2.2-.6M191 153l1.1-.3M200 143l.9-.4M170 144l1.4-.7M166 141l.9-.8M173 149l2.3-1M211 146l.5-.4M200 145l1.5-1M296 187l.7-.5M305 171l.9-.3M271 191l2-.7"/>
<path class="kb w7" d="M163 192l.9-.5M148 192l.6-.5M150 173l1.9-1M145 172l.7-.6M192 222l3.3-1.4M189 199l2.5-1.5M189 216l1.1-.5M176 191l1.4-.6M186 198l.7-.3M196 221l.8-.5M179 203l2.6-1.3M170 210l3-.9M174 206l2.6-1.1M139 209l2.6-2M147 212l2.2-1.6M153 206l3-.9M141 206l2.5-1.2M192 208l2.6-1.8M177 185l2.1-1.1M162 171l.8-.3M122 185l1.7-1.4M91 209l1-.5M62 222l1.6-.5M81 228l1.7-1M62 217l1.9-1.3M62 218l1.7-1M79 220l2.1-.7M89 220l1.7-1.1M99 216l2.3-1.5M90 224l1.1-.7M106 225l1.1-.6M104 178l1-.5"/>
<path class="kb w8" d="M175 223l1.3-.5M150 211l1.8-.8M139 187l3.7-1.2M167 220l1.9-.7M168 204l.9-.2M166 209l2.1-1M148 171l.8-.3M141 212l.9-.6M180 219l1.1-.8M192 202l3.3-1.2M177 214l1.2-1M154 196l1.5-.5M141 220l1.4-.7M169 228l2-1.4M172 202l2.5-1M166 171l1.1-.4M128 192l1.1-.5M98 221l1.9-1.4M104 215l1.6-.6M88 213l2.6-2.2M61 222l1.3-.4M66 219l2.5-.9M277 196l1.2-.5M263 210l2.9-.9M248 213l1.4-.8M279 197l1.4-.7M292 187l1.4-.9"/>
<path class="kb w9" d="M172 210l1.4-.8M198 200l.9-.7M178 220l2.6-2M154 177l1.2-.9M194 230l2.5-.9M173 192l1.8-1.4M158 192l1.2-.9M141 188l3.2-1M190 200l2.7-.8M152 170l2.4-1.3M151 175l1.9-1.6M160 171l3.4-1.7M122 186l3.1-1.5M121 194l2.3-1.5M108 208l3.5-1.9M100 218l1.7-1M56 224l3.2-1.2M68 229l2.2-1M75 214l3.1-1M285 188l2.3-.9M285 198l3.2-1.5M243 211l1.3-.6"/>
<path class="kb w10" d="M172 187l1.1-.7M160 207l2.2-1.2M175 215l1.6-1.2M178 212l2.7-1.1M148 224l3.5-2.4M166 224l2.9-1.5M199 211l1.4-.5M147 205l3.9-1.4M176 179l1.9-.5M156 221l3.1-1.6M168 229l2.5-1.1M161 211l2.7-.8M174 177l3.7-2.4M166 195l2.6-2.1M163 207l1.3-.8M168 229l1.7-.5M158 205l1-.5M152 171l3.7-1.3M162 230l2.6-1.6M156 197l2-1.1M168 188l1.5-.6M169 174l2.1-1M158 174l2.9-1M164 176l1.7-.5M150 179l2.4-1.5M159 172l3.7-2.4M166 177l2.2-.8M153 172l1.3-.6M157 165l1.2-1M127 189l1.6-.5M123 187l.9-.7M59 211l3.6-1.2M81 225l1.9-1.2M98 209l3.6-1.8M89 212l1.1-.4M112 214l1.2-1M83 215l2.5-2M61 227l1.6-1M74 214l.9-.5M297 159l1-.6M252 217l2.2-1M296 147l1.7-1M304 144l2.6-2M278 186l3.5-1.1M282 205l2.6-1"/>
<path class="kb w11" d="M151 198l4.2-1.3M171 201l4-1.2M193 218l.8-.5M152 186l2.9-1.2M151 213l1.3-.4M141 183l1.3-1M160 204l3.8-2.2M160 175l3.7-1.1M149 210l2.5-.8M191 196l3.2-2.6M181 208l1.7-.9M160 212l3.8-2.4M174 183l1.3-.5M168 227l2.1-1.3M166 171l1.3-.6M112 227l1.3-.7M57 219l1.6-.5M262 218l3.5-1.3M300 160l2.4-1.2M293 171l3.6-2.2M265 196l3.3-2.3M286 181l1.4-.7"/>
<path class="kb w12" d="M143 170l3.1-1.6M177 214l2.6-1.8M171 230l4.2-2M145 224l2.8-.9M144 204l3.9-1.2M185 197l3-1M177 194l4.6-1.8M144 202l2-1.6M51 225l1.6-1.3M79 207l3.5-2M110 213l3.3-1.4M241 227l1.6-1M257 209l2.4-1M292 193l2.3-1.9M295 170l3.1-1.5M278 202l3.2-2.6M295 190l3-1.5M291 172l4.5-2.4M250 200l2-1.2M259 230l3.4-2.4M277 200l1.2-.9"/>
<path class="kb w13" d="M168 188l1.3-.7M182 224l4.7-1.6M150 196l3-2.4M157 172l3.5-2.4M153 184l1.6-.7M147 173l2.2-.8M285 185l4.3-1.7M267 221l1.2-.8M272 215l3.8-2.2M299 153l1.1-.7M269 180l2.9-2.1M283 176l1.2-1M298 166l1.3-1M285 161l3.1-2.1M278 188l3.7-1.4"/>
<path class="kb w15" d="M264 222l2.4-1.1M263 188l4.7-1.4M298 150l1.3-1"/>
<path class="kb w16" d="M256 193l4.5-2.6M289 178l1.6-1.1M245 224l4.1-1.7"/>
<path class="kgr w2" d="M117 174l.8-.2M112 174l2.7-.8M188 145l.7-.6"/>
<path class="kgr w3" d="M128 163l1.1-.5M107 175l1-.7M166 141l1.1-.9M173 149l2.4-1M210 146l.7-.6M200 145l1.6-1.1M202 156l.5-.2"/>
<path class="kgr w4" d="M163 192l1.1-.6M148 192l.8-.6M145 172l.9-.7M189 199l2.7-1.7M189 216l1.3-.6M186 198l.9-.4M196 221l1-.6M179 203l2.8-1.4M170 210l3.2-1M153 206l3.2-1M177 185l2.3-1.2M162 171l1-.3M90 209l1.2-.6M65 220l.8-.7M81 228l1.9-1.1M62 218l1.9-1.1M78 220l2.3-.7M89 220l1.8-1.2M106 225l1.3-.7M104 178l1.1-.6M191 153l.8-.2M200 143l.6-.3M170 144l1.2-.6"/>
<path class="kgr w5" d="M175 223l1.4-.6M150 211l2-.9M167 220l2.1-.7M150 173l1.7-.8M168 204l1-.3M193 222l3-1.3M148 171l1-.4M141 212l1.1-.7M176 191l1.1-.5M180 219l1.3-.9M192 202l3.4-1.3M174 206l2.4-1M154 196l1.6-.6M139 209l2.4-1.8M147 212l1.9-1.4M142 206l2.2-1.1M141 220l1.6-.7M192 208l2.4-1.7M169 228l2.1-1.5M166 171l1.3-.4M128 192l1.3-.6M122 185l1.5-1.2M98 221l2.1-1.5M104 215l1.8-.7M62 222l1.3-.4M88 213l2.7-2.3M62 217l1.6-1.1M61 222l1.5-.4M66 219l2.7-1M99 216l2-1.3M90 224l.9-.6M263 210l3.1-1M248 213l1.5-.8M279 197l1.6-.8"/>
<path class="kgr w6" d="M172 210l1.6-.9M198 200l1-.8M139 187l3.5-1.1M178 220l2.8-2.1M166 209l1.8-.8M173 192l1.9-1.5M157 192l1.4-1M141 188l3.3-1M177 214l1-.8M190 200l2.8-.9M173 201l2.2-.9M151 175l2.1-1.7M100 218l1.9-1.1M56 224l3.4-1.3M75 214l3.3-1M278 196l.9-.4M285 198l3.4-1.6M292 187l1.1-.7M243 211l1.5-.7"/>
<path class="kgr w7" d="M172 187l1.3-.8M160 207l2.4-1.3M175 215l1.8-1.3M148 224l3.7-2.5M198 211l1.6-.5M154 177l1-.8M168 229l2.7-1.2M160 211l2.9-.8M194 230l2.2-.8M166 195l2.8-2.2M163 207l1.5-.9M167 229l1.9-.5M158 205l1.2-.5M152 171l3.9-1.4M162 230l2.8-1.7M156 197l2.2-1.2M152 170l2.2-1.2M167 188l1.6-.7M164 176l1.9-.6M150 179l2.6-1.6M159 172l3.8-2.5M165 177l2.4-.9M160 171l3.1-1.6M123 186l2.8-1.3M121 193l2-1.4M127 189l1.8-.5M123 187l1.1-.9M98 209l3.8-1.9M108 208l3.2-1.8M88 212l1.2-.4M68 229l2-.9M112 215l1.4-1.1M83 215l2.7-2.1M74 214l1-.6M252 217l2.4-1.1M296 147l1.9-1.1M285 188l2-.8M278 186l3.7-1.2M282 205l2.7-1.1"/>
<path class="kgr w8" d="M151 198l4.4-1.3M178 212l2.4-1M166 224l2.7-1.4M147 205l3.6-1.3M176 179l1.6-.5M156 221l2.8-1.4M193 219l1-.6M152 186l3.1-1.3M174 177l3.4-2.2M141 183l1.4-1.2M160 204l4-2.3M160 175l3.9-1.2M149 210l2.7-.9M191 196l3.3-2.7M181 208l1.9-1M160 212l4-2.5M174 183l1.5-.6M168 227l2.3-1.4M169 174l1.8-.8M158 174l2.6-.9M166 171l1.5-.7M153 172l1-.5M157 165l1-.8M59 211l3.3-1.1M112 227l1.5-.8M81 225l1.7-1M61 227l1.3-.9M297 159l.8-.5M262 218l3.6-1.4M300 160l2.6-1.3M293 171l3.8-2.3M304 144l2.3-1.8M265 196l3.5-2.4M286 181l1.6-.8"/>
<path class="kgr w9" d="M143 170l3.3-1.6M177 214l2.8-1.9M171 201l3.7-1.1M151 212l1-.3M144 204l4.1-1.3M185 197l3.2-1.1M177 194l4.7-1.9M50 225l1.7-1.4M57 219l1.3-.4M110 213l3.5-1.5M240 227l1.8-1.1M257 209l2.6-1.1M295 170l3.3-1.6M295 190l3.1-1.6M250 200l2.2-1.4M277 200l1.3-1"/>
<path class="kgr w10" d="M172 230l3.9-1.8M145 224l2.6-.8M150 196l3.1-2.6M157 173l3.7-2.5M144 202l1.7-1.4M153 184l1.8-.8M147 173l2.4-.9M80 207l3.2-1.9M267 221l1.4-.9M299 154l1.3-.8M269 180l3-2.2M292 193l2.1-1.7M278 201l3-2.4M298 166l1.4-1.1M285 161l3.2-2.2M291 172l4.2-2.3M278 188l3.9-1.5M259 230l3.2-2.2"/>
<path class="kgr w11" d="M169 188l1-.5M182 224l4.4-1.5M285 185l4-1.6M272 215l3.5-2.1M283 176l1-.8"/>
<path class="kgr w12" d="M264 222l2.6-1.2M298 150l1.4-1.2"/>
<path class="kgr w13" d="M256 194l4.7-2.7M289 178l1.7-1.2M245 224l4.3-1.8M263 188l4.4-1.3"/>
<path class="ky w3" d="M100 218l2-1.2M56 224l3.5-1.3M75 214l3.4-1.1"/>
<path class="ky w4" d="M160 207l2.5-1.4M175 215l1.9-1.4M172 210l1.2-.7M198 211l1.7-.6M198 199l.7-.5M154 177l1.1-.8M168 229l2.8-1.2M194 230l2.3-.8M173 192l1.6-1.3M158 192l1-.7M163 207l1.5-1M167 229l2-.6M158 205l1.3-.6M156 197l2.2-1.2M152 170l2.2-1.2M151 175l1.8-1.4M164 176l2-.6M165 177l2.5-.9M160 171l3.2-1.6M123 186l2.9-1.4M121 194l2.1-1.4M127 189l1.9-.5M123 187l1.2-.9M108 208l3.3-1.8M88 212l1.3-.4M68 229l2-.9M74 214l1.1-.6M296 147l2-1.1M285 188l2.1-.8M282 205l2.8-1.1"/>
<path class="ky w5" d="M172 187l.9-.6M178 212l2.5-1M148 224l3.4-2.3M166 224l2.8-1.4M147 205l3.7-1.4M176 179l1.7-.5M156 221l2.9-1.5M193 219l1.1-.6M161 211l2.5-.7M174 177l3.5-2.3M166 195l2.5-2M149 210l2.8-.9M191 196l3.4-2.8M181 209l2-1M152 171l3.5-1.2M163 230l2.5-1.5M168 227l2.4-1.5M168 188l1.3-.5M169 174l1.9-.9M158 174l2.7-.9M166 171l1.6-.7M150 178l2.2-1.4M159 172l3.5-2.2M153 172l1.1-.5M157 165l1.1-.9M59 211l3.4-1.1M112 227l1.6-.8M81 225l1.8-1.1M98 209l3.4-1.7M112 214l1.1-.8M83 215l2.4-1.9M61 227l1.4-.9M297 159l.8-.5M262 218l3.7-1.4M252 217l2-1M293 171l3.9-2.4M304 144l2.4-1.9M278 186l3.3-1.1M286 181l1.7-.9"/>
<path class="ky w6" d="M151 198l4-1.2M177 214l2.9-1.9M171 201l3.8-1.1M152 186l2.7-1.2M151 213l1.1-.3M141 183l1.1-.9M160 204l3.7-2.1M185 197l3.3-1.1M160 175l3.5-1.1M177 194l4.8-1.9M161 212l3.7-2.3M174 183l1.2-.5M57 219l1.4-.4M110 213l3.5-1.5M240 227l1.8-1.2M300 160l2.2-1.1M257 209l2.7-1.2M295 170l3.4-1.7M295 191l3.2-1.6M265 196l3.1-2.2M250 200l2.3-1.4M277 200l1.4-1.1"/>
<path class="ky w7" d="M143 170l2.9-1.5M171 230l4-1.9M145 224l2.6-.8M144 204l3.7-1.2M144 202l1.8-1.5M153 184l1.9-.8M147 173l2.5-.9M51 225l1.4-1.1M80 207l3.3-1.9M269 180l3.1-2.3M292 193l2.2-1.7M278 201l3.1-2.5M298 166l1.5-1.1M291 172l4.3-2.3M278 188l4-1.5M259 230l3.3-2.3"/>
<path class="ky w8" d="M168 188l1.1-.6M182 224l4.5-1.6M150 196l2.8-2.3M157 172l3.4-2.3M285 185l4.1-1.6M267 221l1-.7M272 215l3.6-2.1M299 153l1-.6M283 176l1.1-.8M285 161l2.9-2"/>
<path class="ky w9" d="M264 222l2.7-1.2"/>
<path class="ky w10" d="M256 194l4.7-2.8M288 178l1.8-1.3M245 224l4.4-1.8M263 188l4.5-1.3M298 150l1.1-.9"/>
<path class="ko w3" d="M177 214l3-2M171 201l3.9-1.2M151 213l1.2-.4M185 197l3.4-1.1M57 219l1.5-.5M110 213l3.6-1.5M240 227l1.9-1.3"/>
<path class="ko w4" d="M143 170l3-1.5M171 230l4.1-1.9M145 224l2.7-.9M144 204l3.8-1.2M177 194l4.5-1.7M144 202l1.9-1.6M51 225l1.5-1.2M79 207l3.4-2M257 209l2.3-1M292 193l2.2-1.8M295 170l3-1.5M278 202l3.2-2.5M295 190l2.9-1.5M298 166l1.6-1.2M291 172l4.4-2.4M250 200l1.9-1.2M259 230l3.4-2.3M277 200l1.1-.8"/>
<path class="ko w5" d="M168 188l1.2-.6M182 224l4.6-1.6M150 196l2.9-2.4M157 172l3.5-2.3M153 184l1.5-.7M147 173l2.1-.8M285 185l4.2-1.6M267 221l1.1-.8M272 215l3.7-2.2M299 153l1-.6M269 180l2.8-2M283 176l1.2-.9M285 161l3-2M278 188l3.6-1.4"/>
<path class="ko w7" d="M256 194l4.8-2.8M264 222l2.4-1.1M288 178l1.9-1.3M263 188l4.6-1.4M298 150l1.2-1"/>
<path class="ko w8" d="M245 224l4.1-1.7"/>
<path class="kdbr w5" d="M256 194l4.8-2.8M264 222l2.4-1.1M288 178l1.9-1.3M263 188l4.6-1.4M298 150l1.2-1"/>
<path class="kdbr w6" d="M245 224l4.1-1.7"/>
<use href="#mapg"/>
</g>
<rect x="0.5" y="0.5" width="305" height="230" fill="none" stroke="#555" stroke-width="1"/>
<rect x="5.5" y="3.5" width="15" height="21" fill="#fff" stroke="#555" stroke-width="1"/>
<text class="t" x="13.5" y="17.6" font-size="13.5" text-anchor="middle">8</text>
</g>
<g transform="translate(0,481)">
<g clip-path="url(#cp2)" stroke-linecap="round">
<ellipse cx="288.7" cy="55.0" rx="3.4" ry="1.6" transform="rotate(-40.0 288.7 55.0)" fill="#b8c4ec"/>
<ellipse cx="289.2" cy="55.0" rx="2.0" ry="0.9" transform="rotate(-40.0 289.2 55.0)" fill="#5058d8"/>
<ellipse cx="297.3" cy="47.6" rx="4.4" ry="1.8" transform="rotate(-40.0 297.3 47.6)" fill="#b8c4ec"/>
<ellipse cx="285.4" cy="60.7" rx="4.3" ry="1.9" transform="rotate(-40.0 285.4 60.7)" fill="#b8c4ec"/>
<ellipse cx="285.9" cy="60.7" rx="2.4" ry="1.1" transform="rotate(-40.0 285.9 60.7)" fill="#5058d8"/>
<ellipse cx="205.8" cy="71.6" rx="3.1" ry="1.5" transform="rotate(-1.0 205.8 71.6)" fill="#a5a5a5"/>
<ellipse cx="220.3" cy="73.8" rx="3.2" ry="1.0" transform="rotate(-20.7 220.3 73.8)" fill="#a5a5a5"/>
<ellipse cx="228.0" cy="78.1" rx="3.8" ry="1.9" transform="rotate(-19.1 228.0 78.1)" fill="#a5a5a5"/>
<ellipse cx="220.6" cy="62.9" rx="1.8" ry="1.7" transform="rotate(-3.6 220.6 62.9)" fill="#b8c4ec"/>
<path class="klb w3" d="M249 120l5.3-3.9M252 126l7.9-4.8M257 134l6.7-6M227 165l8.2-4.9M275 90l12.9-10.9M260 118l12.9-11.4M275 107l14.1-8.2M287 136l10.9-6.9M256 114l10.3-7.8M280 110l8.3-5.1M237 132l11.5-6.9M262 103l12.6-10.6M266 121l6.1-4.5M265 130l14.2-10.9M243 134l6.2-5.4M278 129l6-3.5M222 153l14.7-8.7M258 127l4.9-3.7M264 137l8.5-5.8M243 128l5.3-3.4"/>
<path class="klb w4" d="M291 105l6.5-4.6M265 116l9.4-7.7M287 91l11.8-7.4M209 176l9.9-7.3M287 84l13.4-11.6M299 121l6.8-5.2M243 139l10.6-6.8M294 106l11.8-8.3M220 171l14.1-9.9M288 122l14.8-8.6M221 168l10.3-8.2M284 106l8.1-6.8M261 146l6.8-5.2M240 122l7.9-4.7M247 127l12.2-9.7M273 142l5.3-3.2M257 136l11.7-9M268 120l9.3-8.3M247 145l6.7-5.6M270 101l5.9-4M276 116l5.6-4.3M228 144l6.4-5.2M258 147l8.1-6.3M251 113l5.1-4.5M296 84l9.6-6.7M238 142l11.7-10M294 94l7-5.6M260 154l10.7-8.3M243 157l8.6-7.3M295 134l9.3-6.6"/>
<path class="klb w5" d="M277 126l12.8-8.8M243 136l6.4-5.7M215 165l9.4-6.6M261 114l14.4-9.8M295 105l7.8-5M202 171l9.5-7.4M206 174l6.7-4.1M281 101l4.9-4.2M270 135l8.8-6.5M237 133l7.5-6.4M276 118l10.2-6.4M257 133l10.7-9.5M300 105l6.4-4.1M246 136l13.9-8.1M275 93l5.5-3.7M235 157l9.4-7.1M301 96l6.3-4.6M267 134l8.8-6.9M283 102l9.1-6M268 134l5.9-4.9"/>
<path class="klb w6" d="M261 144l9.2-5.6M277 122l5.4-4.8M217 156l12.7-11.1M230 145l10.4-6.2M285 83l5.9-4.5M294 102l10.4-7.3M285 87l6.7-6M250 143l4.8-3.6M298 89l14.4-9.1M236 130l4.8-4.1M268 105l5.7-3.9M298 116l5.6-4.4M249 129l13.9-8.6M222 166l13.9-8.8M292 115l8.8-7.9M301 81l6.6-5.9M294 132l14.7-8.8M248 151l6.8-4.7"/>
<path class="kg w3" d="M223 154l9.5-8.6M196 179l14.4-9.1M279 131l11.1-9.8M299 119l11.6-8.8M249 126l11-9.4M301 78l6-4.4M257 102l11.5-7.6M266 115l5.4-3.2M235 157l7.4-6.1M254 116l11.1-6.9M235 134l8.3-7M289 101l9.8-6.1M289 130l12.5-10.5M269 133l6.7-4M197 173l13.8-8.6M226 164l11.5-9.9M298 90l7.6-5M266 139l6.7-4.6M262 143l5.6-4M296 113l14.2-10.7M268 107l8.3-5.3M260 103l10.6-8.3M275 102l10.5-7.2M286 97l11.4-6.8M288 113l6.1-5.5M229 163l9-6.4M226 155l5.7-4.8M286 140l13-9.1M300 80l10.1-8.1M293 129l7.5-6.4M268 112l11.4-7.4M272 118l6.7-5.4M207 162l7.2-4.6M275 135l5.8-4.2M300 87l5-3.5M223 166l7.7-4.5M294 108l13.7-8.2M293 110l10.8-8.8M269 120l9.1-7.6M236 129l10.1-8.1M268 152l8.9-6.2M275 137l5.3-4.1"/>
<path class="kg w4" d="M258 131l13.6-8.1M273 128l7.9-6M268 131l9.7-8M267 116l6.7-5.5M268 101l13.3-7.7M271 94l7.3-4.2M226 149l14.6-10M244 152l10.1-7.3M262 120l9.7-6.7M215 167l7.3-5.5M235 145l11.5-9.7M253 111l6.7-5.3M240 153l12.6-8.3M235 131l6.4-4.8M245 144l8-5.9M293 138l7.7-5.3M254 115l8.9-7.9M230 147l5-3.8M221 149l12.6-7.9M282 112l5-3.3M286 89l5.2-3.2M199 175l14.3-10.1M244 146l7.7-6.9M254 131l10.1-9M274 104l8.7-6.1M254 137l8.9-7M294 86l5.3-3.4M264 147l6.3-4.6M228 152l9.2-7.3M254 121l13.3-10.6M272 100l7.7-6.1M265 108l8.5-6.1M280 96l9.5-6.9M242 159l13.5-7.8M281 131l11.9-9.1M268 125l6.3-3.8M272 127l9.5-6M273 126l7.9-6.4M294 124l5.5-4.7M244 126l9.7-8M283 135l7.3-5.1M294 95l7.8-4.6M257 129l5.9-4.1M253 123l10.8-7.6M261 112l6.8-5.5M294 88l6-4"/>
<path class="kg w5" d="M280 103l6.6-3.9M220 149l13.9-9.9M270 127l7.6-4.6M238 128l10.4-8.4M262 122l8.4-6.3M294 121l12.4-11.1M297 95l8.8-7.4M245 156l10.2-8.1M297 93l13.1-9M244 138l7-6.3M235 162l13.3-9.2M219 162l12.3-9.8M276 107l7.6-5.8M293 99l9.6-8.5M262 137l9.3-7.4M257 117l11.6-8M219 163l14.1-10.2M200 173l5.6-3.9M232 151l6.9-5.8M257 106l8-5M276 110l8-6.9M269 126l15.5-9.2M213 162l11.9-8M291 103l11.8-10.2M292 125l11.8-10M300 124l5.9-4.5M216 173l7.7-4.9M254 148l12.7-11M242 147l9.1-6.8M243 140l11.7-8M204 176l12.1-10M268 143l11-9.9M259 111l9.1-5.3M244 130l10.1-8.6M254 126l10.9-8.9M284 109l13.2-10.8M298 126l12.7-11.1M210 164l8.2-5.3M248 110l5-3.7M258 143l6.8-4.3M229 140l9.6-6M272 125l7.1-5.3M264 118l14.9-10M255 113l12.9-9.7M252 112l10.9-7.8M227 157l5.7-4.4M296 87l11.3-7.8M254 125l14.4-8.7M227 168l11.9-7.7M256 104l7.3-6.5M269 100l12.8-8.9M258 135l12.2-10.3M230 146l8.2-6.8"/>
<path class="kg w6" d="M287 114l6.2-4.6M290 88l10.8-6.4M270 145l10-6.8M290 108l8.8-7.1M266 100l11.2-6.5M278 119l7.7-5.8M205 174l13.6-10.6M282 139l14.8-9.2M245 120l7.3-6.6M251 145l10.5-8.2M280 101l13.6-10.3M260 112l12.7-7.4M223 155l5-3.8M275 98l7.2-4.9M285 119l8-7M295 131l11.6-10.5M295 107l13.8-10.2M208 161l14.6-10.4M283 100l13-9.7M256 148l10-7.7M257 155l6.6-5.8M282 97l9.1-5.6M220 171l6.5-5.3M261 103l7.5-6.2M260 104l15.1-9.1M244 124l8.8-5.9M287 105l9.8-7.8M273 107l7.3-5.5M207 163l9.5-8.2M237 157l7.2-6.1M250 139l7.9-5.6M291 86l7.5-4.4M299 91l10.5-6.2M234 138l12.3-7.8M292 93l7.6-5.9M279 102l12.9-9.5M256 124l11.4-7.8M279 125l12.1-10.2M213 160l12.5-9.2M263 133l9.3-8M290 130l6.2-4.6M280 135l13.1-8.6M287 118l14.9-8.9M253 130l9.1-7.9M296 89l6.9-4.8M269 125l10.5-6.6M232 159l9.8-6.3M266 122l15.2-9.1M284 122l9.7-8.2M279 134l9.4-7.2"/>
<ellipse cx="294.0" cy="80.0" rx="12.0" ry="2.5" transform="rotate(-28.0 294.0 80.0)" fill="#a5a5a5"/>
<ellipse cx="300.0" cy="88.0" rx="8.0" ry="2.0" transform="rotate(-30.0 300.0 88.0)" fill="#a5a5a5"/>
<ellipse cx="286.0" cy="90.0" rx="7.0" ry="2.0" transform="rotate(-35.0 286.0 90.0)" fill="#a5a5a5"/>
<ellipse cx="302.0" cy="74.0" rx="6.0" ry="1.6" transform="rotate(-30.0 302.0 74.0)" fill="#a5a5a5"/>
<path d="M202 166L229 147L254 112L274 102L288 97L306 90L306 134L296 136L288 139L274 146L259 153L244 160L224 168L204 173Z" fill="#b8c4ec"/>
<ellipse cx="296.0" cy="98.0" rx="6.0" ry="1.5" transform="rotate(-25.0 296.0 98.0)" fill="#a5a5a5"/>
<ellipse cx="282.0" cy="106.0" rx="5.0" ry="1.4" transform="rotate(-25.0 282.0 106.0)" fill="#a5a5a5"/>
<path d="M202 171L224 156L239 137L256 122L274 114L293 109L306 104L306 132L296 134L288 137L274 144L259 151L244 158L224 166L204 172Z" fill="#5058d8"/>
<path d="M212 166L226 156L240 144L256 130L276 118L306 108L306 128L294 131L282 136L268 142L252 150L234 158L218 164Z" fill="#5058d8"/>
<path class="kt w3" d="M273 122l1.7-1.4M242 148l3.3-2.8M275 139l4.7-3.2M274 131l2.6-1.8M279 132l2.2-1.3M233 158l3.4-2M243 142l5.5-4.2M298 121l5.5-3.3M293 130l2.9-1.7M297 123l1.8-1"/>
<path class="kt w4" d="M250 150l5.7-5.1M244 141l7.7-4.5M248 151l2.8-2.3M253 146l7.1-5.2M292 131l4.9-4M298 121l2.9-2.5M264 138l1.8-1.2M252 137l4.9-3"/>
<path class="kt w5" d="M222 160l2.6-2.3M268 129l7.2-4.3M263 129l2.7-2M294 128l5.6-4.5M295 125l3.8-3M267 125l3.5-2.2M255 139l5.4-4.4M302 129l7.1-5.4"/>
<path class="kt w6" d="M270 128l6.1-5.3M252 137l4.2-2.5M223 162l3.9-2.8M276 135l6-5.4M299 113l4.4-2.6"/>
<path class="klb w3" d="M292 124l4.9-3.2M301 126l6.5-5.7M250 140l5.2-3.7M240 156l4.9-4.2M294 113l5.9-4.3M242 145l3.4-2.6"/>
<path class="klb w4" d="M255 132l3.1-2M210 168l6.7-5.7M222 162l2.8-2.1M281 123l4.1-3.5M284 124l5.5-4.4M291 132l5.4-4.2M269 128l4.7-3.9M260 131l2.3-1.7M295 116l6.6-5.1M282 125l2.5-1.8"/>
<path class="klb w5" d="M286 123l7.6-4.8M212 166l7.2-4.2M245 153l3.7-2.6M214 166l4.8-4M242 155l7.4-5.1M298 113l5.3-3.1M240 152l6.7-5.3"/>
<path class="klb w6" d="M262 144l4.3-3.6M256 146l4.3-3.7M263 144l3.4-3M227 158l6.9-5.4M302 122l4-2.6M291 120l5.5-4.4M238 156l5.6-4.1"/>
<path class="kgr w3" d="M245 142l5.7-5"/>
<path class="kgr w4" d="M235 158l1.7-1.4M253 148l6-5.1M299 116l4.5-2.7"/>
<path class="kgr w5" d="M256 140l4.2-2.8"/>
<path class="kgr w6" d="M238 153l5.8-3.9M236 153l1.8-1.5M259 143l3.1-2.7"/>
<path class="kg w4" d="M298 117l2.5-1.7M212 166l1.7-1.4M291 118l5.4-4.2"/>
<path class="kg w5" d="M250 142l7.5-4.7M259 142l3.1-2.8"/>
<path class="kb w3" d="M302 110l3.3-2.4M297 130l4.5-3.4M295 125l6.5-5.5M295 124l4.2-3.8M231 153l3.8-2.2"/>
<path class="kb w4" d="M262 144l3.1-2.2M285 127l6-4.5M302 126l2-1.5M266 141l2.4-1.6M299 115l3.6-2.4M299 130l5.3-4.1"/>
<path class="kb w5" d="M257 134l2.7-1.6M286 131l2.7-2.2M292 116l6-4.5M236 156l6.2-3.7M246 144l3-2M264 138l2.6-2"/>
<path class="kb w6" d="M278 122l4.7-3.6M275 122l4.7-3.4M261 133l2.9-2.5M246 152l5.6-3.8"/>
<path d="M208 164L216 156L226 150L232 152L228 160L216 166Z" fill="#008000"/>
<path d="M214 160L220 155L226 153L224 158L218 162Z" fill="#c0e0c0"/>
<path d="M270 114L286 110L306 106L306 132L296 134L284 132L272 128Z" fill="#50969a"/>
<path class="kgr w3" d="M277 129l3.2-2.2M288 121l2.1-1.3M283 126l6.8-4.6"/>
<path class="kgr w4" d="M287 118l5.2-3.4M277 121l5.4-3.7M285 116l6.1-4.3"/>
<path class="kgr w5" d="M272 118l4.3-2.9M299 126l4.7-3.8M299 129l6.6-5.1M289 114l3.3-2.7M290 134l3.7-3.2M287 113l4.4-3.4M302 130l1.7-1.1"/>
<path class="kgr w6" d="M285 134l5.2-4.7M282 124l5.3-4.7M272 116l6.9-5.2"/>
<path class="klb w3" d="M274 117l2.5-1.8"/>
<path class="klb w4" d="M303 124l6-4M289 123l4.5-3.4M283 118l5.1-4.1M300 126l2.1-1.4"/>
<path class="klb w5" d="M292 114l4.4-3.8M293 125l2.9-2.2M289 125l2.2-1.3M300 115l6-5.2M289 114l1.8-1.4"/>
<path class="klb w6" d="M293 125l6.1-4.6M299 122l4-3.3M298 131l5.4-4.7M298 110l1.6-1.2"/>
<path class="kb w3" d="M296 119l2-1.7M281 116l5.7-4.5"/>
<path class="kb w4" d="M298 132l1.8-1.5M288 126l5-4.4M296 128l5.8-4.3"/>
<path class="kb w5" d="M279 123l2.4-1.5M282 121l5.8-4.6M268 121l6.2-4.5M303 113l1.8-1.6M296 113l3.8-2.3"/>
<path class="kb w6" d="M287 116l4.8-2.9M271 120l5.2-3.2"/>
<path class="klg w3" d="M281 133l7-4.3"/>
<path class="klg w4" d="M268 120l6.8-5.5"/>
<path class="klg w5" d="M286 115l2.4-1.9"/>
<path class="ky w3" d="M298 112l1.7-1.5M300 130l3.2-2.5M290 119l5.8-3.7"/>
<path class="ky w4" d="M277 125l6-4.9M281 122l2.8-2"/>
<path class="kt w3" d="M295 111l6.8-4.1M290 124l3.6-2.8"/>
<path class="kt w5" d="M284 134l6.4-4.9"/>
<path class="kt w6" d="M284 133l2.3-1.7"/>
<ellipse cx="254.0" cy="140.0" rx="6.0" ry="2.0" transform="rotate(-30.0 254.0 140.0)" fill="#b8c4ec"/>
<ellipse cx="272.0" cy="136.0" rx="5.0" ry="1.5" transform="rotate(-25.0 272.0 136.0)" fill="#b8c4ec"/>
<ellipse cx="262.0" cy="150.0" rx="5.0" ry="1.5" transform="rotate(-25.0 262.0 150.0)" fill="#a5a5a5"/>
<ellipse cx="284.0" cy="119.0" rx="3.0" ry="3.0" transform="rotate(0.0 284.0 119.0)" fill="#b8c4ec"/>
<ellipse cx="284.0" cy="119.0" rx="2.6" ry="2.6" transform="rotate(0.0 284.0 119.0)" fill="#5058d8"/>
<ellipse cx="284.0" cy="119.0" rx="2.1" ry="2.1" transform="rotate(0.0 284.0 119.0)" fill="#008000"/>
<ellipse cx="284.0" cy="119.0" rx="1.6" ry="1.6" transform="rotate(0.0 284.0 119.0)" fill="#f0d860"/>
<ellipse cx="284.0" cy="119.0" rx="1.0" ry="1.0" transform="rotate(0.0 284.0 119.0)" fill="#f0b020"/>
<ellipse cx="293.0" cy="124.0" rx="3.0" ry="2.5" transform="rotate(0.0 293.0 124.0)" fill="#b8c4ec"/>
<ellipse cx="293.0" cy="124.0" rx="2.6" ry="2.1" transform="rotate(0.0 293.0 124.0)" fill="#5058d8"/>
<ellipse cx="293.0" cy="124.0" rx="2.1" ry="1.8" transform="rotate(0.0 293.0 124.0)" fill="#008000"/>
<ellipse cx="293.0" cy="124.0" rx="1.6" ry="1.3" transform="rotate(0.0 293.0 124.0)" fill="#f0d860"/>
<ellipse cx="279.0" cy="129.0" rx="3.0" ry="2.5" transform="rotate(0.0 279.0 129.0)" fill="#b8c4ec"/>
<ellipse cx="279.0" cy="129.0" rx="2.6" ry="2.1" transform="rotate(0.0 279.0 129.0)" fill="#5058d8"/>
<ellipse cx="279.0" cy="129.0" rx="2.1" ry="1.8" transform="rotate(0.0 279.0 129.0)" fill="#008000"/>
<ellipse cx="279.0" cy="129.0" rx="1.6" ry="1.3" transform="rotate(0.0 279.0 129.0)" fill="#f0d860"/>
<ellipse cx="300.0" cy="118.0" rx="2.0" ry="2.0" transform="rotate(0.0 300.0 118.0)" fill="#b8c4ec"/>
<ellipse cx="300.0" cy="118.0" rx="1.7" ry="1.7" transform="rotate(0.0 300.0 118.0)" fill="#5058d8"/>
<ellipse cx="300.0" cy="118.0" rx="1.4" ry="1.4" transform="rotate(0.0 300.0 118.0)" fill="#008000"/>
<ellipse cx="300.0" cy="118.0" rx="1.0" ry="1.0" transform="rotate(0.0 300.0 118.0)" fill="#f0d860"/>
<ellipse cx="244.0" cy="150.0" rx="2.5" ry="2.5" transform="rotate(0.0 244.0 150.0)" fill="#b8c4ec"/>
<ellipse cx="244.0" cy="150.0" rx="2.1" ry="2.1" transform="rotate(0.0 244.0 150.0)" fill="#5058d8"/>
<ellipse cx="244.0" cy="150.0" rx="1.8" ry="1.8" transform="rotate(0.0 244.0 150.0)" fill="#008000"/>
<ellipse cx="244.0" cy="150.0" rx="1.3" ry="1.3" transform="rotate(0.0 244.0 150.0)" fill="#f0d860"/>
<path d="M282 136L294 132L306 130L306 174L296 174L286 168L282 150Z" fill="#b8c4ec"/>
<path d="M285 138L296 134L306 133L306 170L296 170L288 164L285 150Z" fill="#50969a"/>
<path class="kgr w3" d="M298 147l5.3-3.4M298 143l7.6-4.7M287 138l5.6-4.5M300 168l7.6-4.6"/>
<path class="kgr w4" d="M296 151l3.5-2.4M290 144l5-3"/>
<path class="kgr w5" d="M301 137l6.6-3.9M291 154l3.3-2.1M293 139l6.7-5.3M301 158l6.4-5.2"/>
<path class="klb w3" d="M287 154l3.2-2.9M291 168l6.7-5.1M283 144l7.1-4.8M301 140l2.9-2.5"/>
<path class="klb w4" d="M288 145l3.9-3.5M285 139l2.5-1.8"/>
<path class="klb w5" d="M301 163l4.4-3.1"/>
<path class="klb w6" d="M290 153l6.6-5.6M300 138l6.5-5.8"/>
<path class="kb w3" d="M302 151l5.8-5.1M293 164l5.4-4.2M297 164l4.6-3.8"/>
<path class="kb w4" d="M285 145l3.1-2.6"/>
<path class="kb w5" d="M285 160l5.1-4.2M284 160l6.4-5.6M301 145l2.3-1.3M285 141l4.1-3.5"/>
<path class="kb w6" d="M286 153l6.7-4.3M289 138l3.1-2.4M282 153l6.4-5.2"/>
<path class="klg w3" d="M304 136l2.4-1.6"/>
<path class="klg w6" d="M286 148l5.1-4.6M300 156l6.6-5.4M295 137l6.3-4"/>
<path class="ky w3" d="M292 163l2.6-2.3M292 153l5.4-3.4"/>
<path class="ky w4" d="M285 150l3.6-2.9M289 163l1.7-1.1M289 156l7.2-4.2"/>
<path class="ky w5" d="M294 168l4.8-3.4M303 148l6.4-4.8"/>
<path class="ky w6" d="M303 142l5.6-3.6"/>
<path class="kt w4" d="M286 140l5.4-3.6M304 158l3.9-2.9"/>
<path class="kt w5" d="M284 149l5.2-3.1"/>
<path class="kt w6" d="M294 171l5.9-4.2M288 144l2.2-1.3"/>
<path class="klb w12" d="M302 148l2.2-.7"/>
<path class="klb w13" d="M297 148l3.8-1.5"/>
<path class="klb w14" d="M299 161l4.3-1.8"/>
<path class="klb w15" d="M299 157l3.8-2.5M297 163l1.3-.5M290 160l2.6-1.1"/>
<path class="klb w16" d="M303 169l1-.8M301 168l3.3-2.6M293 150l4.3-2.5M299 158l1.8-1.4M286 143l4.3-1.8"/>
<path class="klb w17" d="M298 162l2.4-1.2"/>
<path class="klb w18" d="M289 139l3-2.5M290 143l4.7-3.4M299 161l4.1-3.1"/>
<path class="kb w10" d="M297 148l4-1.5M302 148l1.9-.6"/>
<path class="kb w12" d="M299 157l4-2.6M300 161l4.1-1.7"/>
<path class="kb w13" d="M303 169l1.1-.9M301 168l3.4-2.7M297 163l1-.4M290 160l2.3-1M293 150l4.4-2.6M299 158l2-1.5M285 143l4.5-1.8"/>
<path class="kb w14" d="M298 162l2.6-1.3"/>
<path class="kb w15" d="M289 139l3.2-2.6M290 143l4.8-3.5M299 161l4.3-3.2"/>
<path class="kgr w7" d="M302 148l2.1-.7"/>
<path class="kgr w8" d="M297 148l3.7-1.4"/>
<path class="kgr w9" d="M299 161l4.3-1.8"/>
<path class="kgr w10" d="M303 169l1.3-1M299 157l3.7-2.4M297 163l1.2-.4M290 160l2.5-1.1"/>
<path class="kgr w11" d="M301 168l3.2-2.5M293 150l4.2-2.5M300 158l1.8-1.3M286 143l4.2-1.7"/>
<path class="kgr w12" d="M290 144l5-3.6M298 162l2.3-1.2"/>
<path class="kgr w13" d="M289 139l2.9-2.4M299 161l4.1-3.1"/>
<path class="ky w4" d="M302 148l2.2-.7"/>
<path class="ky w5" d="M297 148l3.8-1.5"/>
<path class="ky w6" d="M299 161l4.3-1.8"/>
<path class="ky w7" d="M299 157l3.8-2.5M297 163l1.3-.5M290 160l2.6-1.1"/>
<path class="ky w8" d="M303 169l1-.8M301 168l3.3-2.6M293 150l4.3-2.5M299 158l1.8-1.4M286 143l4.3-1.8"/>
<path class="ky w9" d="M298 162l2.4-1.2"/>
<path class="ky w10" d="M289 139l3-2.5M290 143l4.7-3.4M299 161l4.1-3.1"/>
<path class="ko w4" d="M299 157l3.9-2.5M300 161l4-1.7"/>
<path class="ko w5" d="M303 169l1-.9M301 168l3.3-2.6M297 163l.9-.3M290 160l2.2-1M293 150l4.4-2.6M299 158l1.9-1.5M286 143l4.4-1.8"/>
<path class="ko w6" d="M298 162l2.5-1.3"/>
<path class="ko w7" d="M289 139l3.1-2.5M290 143l4.7-3.4M299 161l4.2-3.2"/>
<path class="kdbr w4" d="M298 162l2.5-1.3"/>
<path class="kdbr w5" d="M289 139l3.1-2.5M290 143l4.7-3.4M299 161l4.2-3.2"/>
<path d="M232 210L240 198L252 190L256 196L246 206L236 214Z" fill="#a5a5a5"/>
<path d="M240 214L244 200L254 188L266 180L280 174L292 170L300 172L296 182L288 194L278 204L266 210L254 216Z" fill="#b8c4ec"/>
<path d="M243 212L247 200L256 190L268 182L281 176L292 173L297 175L293 183L285 194L276 202L265 208L254 213Z" fill="#5058d8"/>
<path d="M246 210L250 200L258 192L270 184L282 178L292 176L294 178L290 184L282 194L273 201L263 206L253 210Z" fill="#50969a"/>
<path class="kgr w3" d="M262 191l4.2-2.9M276 191l6.2-5.3M264 201l5.8-3.4M256 194l2-1.2"/>
<path class="kgr w4" d="M269 188l2.8-2M264 192l2.6-2.1"/>
<path class="kgr w5" d="M246 204l7.4-4.5M267 196l7.1-4.1"/>
<path class="kgr w6" d="M261 206l6.3-3.9M267 187l4.2-3.6M276 195l4.9-4.1M277 189l2-1.8M259 196l2.3-1.4M289 182l3.3-2.6"/>
<path class="klb w4" d="M278 186l2.9-2.4"/>
<path class="klb w5" d="M269 198l2.5-1.6"/>
<path class="klb w6" d="M267 192l3.7-3.1"/>
<path class="kb w3" d="M283 192l4.5-3.7M257 204l5.3-4.1"/>
<path class="kb w4" d="M273 192l1.9-1.4M270 197l4.9-2.9"/>
<path class="kb w5" d="M270 201l3.1-2.7M282 187l5.6-4.3M271 191l2-1.6M276 194l6.4-3.7"/>
<path class="klg w3" d="M264 190l6.7-4"/>
<path class="klg w5" d="M281 186l4.8-3.1"/>
<path class="klg w6" d="M272 191l4.8-3.5M270 203l6.7-5.5M277 193l6.5-4.6M268 199l5.6-3.9"/>
<path class="ky w3" d="M268 201l3.9-2.4M275 188l5.9-5.3"/>
<path class="ky w4" d="M271 188l3.5-2.8M269 186l2.6-2.2"/>
<path class="ky w5" d="M270 190l5.2-3.5M275 187l4.7-3.7M251 203l6.9-4.8"/>
<path class="ky w6" d="M284 186l5.8-5.2M273 185l2-1.7"/>
<path class="kt w3" d="M248 202l4.8-4M260 200l7.4-4.4M254 204l3.6-3M271 195l1.6-1.2"/>
<path class="kt w4" d="M266 189l2.1-1.5"/>
<path class="kt w5" d="M264 196l2.1-1.2"/>
<path d="M250 207L254 200L261 194L272 187L283 181L290 180L286 186L279 194L270 200L260 204Z" fill="#f0d860"/>
<path class="ko w3" d="M252 206l6.7-4"/>
<path class="ko w4" d="M278 193l3.7-3M255 205l7-4.4M257 201l4.4-3.5"/>
<path class="ko w5" d="M252 207l3.2-2.1M273 191l6-4.6"/>
<path class="ko w6" d="M272 194l3.8-3.4"/>
<path class="klg w3" d="M277 189l4.9-3.1M270 197l3.3-2.9"/>
<path class="klg w4" d="M275 186l3.7-3.1"/>
<path class="klg w5" d="M277 194l3.1-2.4"/>
<path class="klg w6" d="M275 194l4.6-3.2"/>
<path class="kgr w5" d="M251 203l4.5-2.9"/>
<path class="ky w3" d="M266 193l5.3-3.5M275 188l2.8-1.8"/>
<path class="ky w4" d="M255 201l1.6-1.4M272 193l6.6-5.2M271 188l1.6-1.2"/>
<path class="ky w5" d="M270 191l3.6-3.2M269 197l6.1-5.3"/>
<path class="ky w6" d="M266 195l6.7-5.6"/>
<path class="kbr w4" d="M285 183l4-2.9"/>
<path class="kbr w5" d="M266 193l6.6-4.2"/>
<ellipse cx="258.0" cy="200.0" rx="3.0" ry="2.0" transform="rotate(0.0 258.0 200.0)" fill="#c0e0c0"/>
<ellipse cx="266.0" cy="194.0" rx="3.0" ry="3.0" transform="rotate(0.0 266.0 194.0)" fill="#f0b020"/>
<ellipse cx="267.0" cy="195.0" rx="1.5" ry="1.5" transform="rotate(0.0 267.0 195.0)" fill="#c08838"/>
<ellipse cx="276.0" cy="190.0" rx="3.0" ry="3.0" transform="rotate(0.0 276.0 190.0)" fill="#f0b020"/>
<ellipse cx="276.0" cy="191.0" rx="1.5" ry="1.5" transform="rotate(0.0 276.0 191.0)" fill="#8c5a40"/>
<ellipse cx="268.0" cy="198.0" rx="1.2" ry="1.2" transform="rotate(0.0 268.0 198.0)" fill="#f05080"/>
<ellipse cx="284.0" cy="185.0" rx="2.0" ry="2.0" transform="rotate(0.0 284.0 185.0)" fill="#f0b020"/>
<ellipse cx="208.0" cy="208.0" rx="10.0" ry="2.5" transform="rotate(-15.0 208.0 208.0)" fill="#a5a5a5"/>
<ellipse cx="222.0" cy="204.0" rx="4.0" ry="1.5" transform="rotate(-20.0 222.0 204.0)" fill="#a5a5a5"/>
<path d="M200 216L208 211L220 211L228 215L230 224L228 231L200 231Z" fill="#b8c4ec"/>
<path d="M203 218L210 214L220 214L226 217L228 224L226 231L203 231Z" fill="#50969a"/>
<path class="kgr w3" d="M215 229l2.4-1.5M214 220l6-5.1M216 217l2.7-2M221 223l1.9-1.5"/>
<path class="kgr w4" d="M223 228l4.2-2.7M216 221l2.6-1.8"/>
<path class="kgr w5" d="M225 224l2.4-1.4M219 225l3.8-3.3M204 227l3.3-2M218 231l2.4-1.8M204 220l5.9-3.4M214 221l5-3M222 230l2.7-1.6"/>
<path class="klb w3" d="M221 218l4.6-3.3M204 230l6.5-5.2M226 223l2.4-1.9"/>
<path class="klb w5" d="M220 227l5.5-4.9"/>
<path class="klb w6" d="M204 227l3.8-2.3M212 233l7.6-4.6"/>
<path class="kb w3" d="M221 218l4.4-2.6M217 220l3.8-3.3"/>
<path class="kb w4" d="M213 222l3-2.2"/>
<path class="kb w5" d="M212 224l4-2.8"/>
<path class="klg w6" d="M209 222l3.8-3.3"/>
<path class="ky w4" d="M208 220l6.9-5.5"/>
<path class="kt w3" d="M222 225l2.9-2.6"/>
<path d="M206 220L212 217L220 217L224 220L225 226L222 231L206 231Z" fill="#f0d860"/>
<ellipse cx="215.0" cy="225.0" rx="3.0" ry="3.0" transform="rotate(0.0 215.0 225.0)" fill="#f0b020"/>
<ellipse cx="219.0" cy="226.0" rx="1.5" ry="1.5" transform="rotate(0.0 219.0 226.0)" fill="#f05080"/>
<path d="M150 178L170 172L196 172L214 176L216 188L208 198L186 198L160 196L150 190Z" fill="#b8c4ec"/>
<path d="M152 180L170 175L196 175L212 179L214 188L206 195L186 196L160 194L152 188Z" fill="#50969a"/>
<path class="kgr w3" d="M149 186l7.4-4.8M198 195l3.9-3.2M179 178l5.8-4.2M184 181l2.4-1.8M171 194l2.1-1.5M174 197l4.5-2.8M205 182l2-1.3"/>
<path class="kgr w4" d="M161 192l2.1-1.5M194 178l2.8-2.3M196 198l6.6-5.2M167 193l2.4-2M188 193l7.1-4.6M194 186l6.5-4.8M163 189l5.8-4.2M151 181l6.5-4.1"/>
<path class="kgr w5" d="M166 195l3-2.3M164 184l3.1-2.2M196 181l4.2-3.5M197 183l5.9-3.8M191 186l5.9-4.9"/>
<path class="kgr w6" d="M198 185l4.9-3.9M179 198l7-5.5M194 183l3.7-2.3M183 197l3.5-2.6"/>
<path class="klb w3" d="M173 185l5.3-3.8M201 180l2-1.5M177 195l4.7-3.3"/>
<path class="klb w4" d="M180 178l4.3-2.5M194 177l2.6-1.7M161 194l6-5.3M191 183l2.7-2.1M209 180l3.4-2.6M167 184l6-4.3"/>
<path class="klb w5" d="M156 181l2.7-1.7M151 191l5.8-4.5M178 181l3.3-2.5M172 194l7.3-4.4M201 180l3.3-2.5M178 182l5.2-4.5M174 194l5.8-4.2"/>
<path class="klb w6" d="M193 194l2.3-1.4M206 182l6.1-3.9M168 191l2.6-2.1M170 194l6.2-3.7M183 179l3.1-2.4"/>
<path class="kb w3" d="M193 190l3.6-2.8"/>
<path class="kb w4" d="M185 190l6-4.3M184 196l4.7-3.1"/>
<path class="kb w5" d="M193 184l2.5-2M189 189l4.4-3"/>
<path class="kb w6" d="M195 187l7.5-4.9M173 187l3.2-1.9M180 185l5.6-4.2"/>
<path class="klg w4" d="M208 193l4.2-2.6M181 180l5.8-3.5"/>
<path class="klg w6" d="M176 183l7.1-4.1M151 189l7-4.1M194 178l6.6-4.5M194 187l6.7-5.8M172 185l1.9-1.6"/>
<path class="ky w4" d="M183 194l6.9-5.6"/>
<path class="ky w5" d="M175 178l1.7-1.2"/>
<path class="ky w6" d="M152 186l2.3-1.3M195 182l4.9-3.8M195 187l1.9-1.6M155 184l6.6-4.3"/>
<path class="kt w3" d="M179 190l7.4-4.8M198 192l2.7-1.6M169 192l6.3-4.6M210 184l3.8-2.9"/>
<path class="kt w4" d="M188 193l6.2-4.3M165 192l2.3-1.5"/>
<path class="kt w5" d="M158 183l7-4.5M166 186l3-2.5M207 188l6.1-3.5"/>
<path class="kt w6" d="M171 180l6.9-5"/>
<path d="M156 182L172 178L194 178L208 182L210 188L204 192L186 193L162 191L156 187Z" fill="#f0d860"/>
<path class="ko w3" d="M203 193l5.4-4.6M203 189l4.5-3.5M169 181l5.7-4.6"/>
<path class="ko w5" d="M172 179l1.7-1.4M187 187l4.1-2.5M194 189l3.4-2.1M168 186l1.9-1.6M199 184l3.8-2.7M188 187l4-3.5"/>
<path class="ko w6" d="M164 182l4.2-3.3M180 179l4-2.5M180 192l3.7-3.3M178 179l3.1-2"/>
<path class="klg w3" d="M179 185l5.5-4.1M195 193l4-3.4"/>
<path class="klg w4" d="M199 188l2.6-2.3M157 188l2.1-1.8M193 187l5-3.8"/>
<path class="klg w5" d="M176 195l6.2-4.6M183 186l2-1.7"/>
<path class="klg w6" d="M193 185l3.4-2.2M158 189l6.7-5.6M204 191l2.9-2.1"/>
<path class="kgr w3" d="M169 193l6.7-5.8M165 182l4.3-2.7"/>
<path class="kgr w4" d="M187 193l5.3-3.4"/>
<path class="kgr w6" d="M191 193l6.1-5.5M174 185l3.6-2.7"/>
<path class="ky w3" d="M189 193l6.4-4.6M190 191l3.7-3.1M164 185l2.6-2"/>
<path class="ky w4" d="M194 189l3.8-3.3M176 187l6.4-4.8"/>
<path class="ky w5" d="M184 193l5-4.1M177 194l3.8-2.9M164 186l4.1-3.6M169 194l6.3-5.4M201 185l2.4-1.4"/>
<path class="ky w6" d="M200 194l5.1-4.5M155 184l2.7-1.9"/>
<path class="kbr w4" d="M202 188l5.3-3.9M185 183l7.2-4.4"/>
<path class="kbr w6" d="M181 184l3.5-3M206 188l3.2-2.1"/>
<path class="kb w3" d="M156 187l4.3-3.1"/>
<path class="kb w6" d="M185 181l2.9-2"/>
<ellipse cx="166.0" cy="186.0" rx="2.5" ry="2.5" transform="rotate(0.0 166.0 186.0)" fill="#f0b020"/>
<ellipse cx="180.0" cy="184.0" rx="3.0" ry="2.5" transform="rotate(0.0 180.0 184.0)" fill="#f0b020"/>
<ellipse cx="194.0" cy="188.0" rx="3.0" ry="2.5" transform="rotate(0.0 194.0 188.0)" fill="#f0b020"/>
<ellipse cx="200.0" cy="191.0" rx="2.0" ry="2.0" transform="rotate(0.0 200.0 191.0)" fill="#c08838"/>
<ellipse cx="204.0" cy="191.0" rx="1.5" ry="1.5" transform="rotate(0.0 204.0 191.0)" fill="#8c5a40"/>
<ellipse cx="172.0" cy="182.0" rx="2.0" ry="1.5" transform="rotate(0.0 172.0 182.0)" fill="#c0e0c0"/>
<ellipse cx="186.0" cy="186.0" rx="1.5" ry="1.5" transform="rotate(0.0 186.0 186.0)" fill="#008000"/>
<ellipse cx="158.0" cy="186.0" rx="2.0" ry="1.5" transform="rotate(0.0 158.0 186.0)" fill="#c0e0c0"/>
<path class="klb w4" d="M172 154l1.3-.5"/>
<path class="klb w5" d="M136 167l.7-.5M177 153l1.4-.8M159 150l.6-.5M239 68l1.4-.6M246 59l1.2-.5M230 67l1.1-.4M233 80l.4-.3M224 77l.2 0"/>
<path class="klb w6" d="M56 220l1.5-.9M136 165l.8-.5M181 149l1.4-.7M178 151l.4-.2M150 155l1.8-1.1M156 146l1.1-.4M180 156l1.6-.7M181 153l1-.7M222 66l1.3-.5M223 60l.7-.5M238 64l.9-.5"/>
<path class="klb w7" d="M193 206l.8-.5M142 202l2.1-.7M88 217l.8-.6M103 198l1.7-.5M43 222l.6-.4M123 166l1.6-1.1M134 166l.5-.4M127 164l1.1-.5M113 174l2.1-.9M176 145l1.8-.8M245 75l.8-.4M241 76l1.5-1M271 200l1.2-.5"/>
<path class="klb w8" d="M142 201l1.2-.8M169 215l.4-.2M151 213l2.3-.8M156 203l2.1-1.3M117 167l1.6-1.2M128 163l2-1.1M118 173l1.1-.8M270 200l2-.6M261 216l.7-.3"/>
<path class="klb w9" d="M134 210l2.5-1.7M168 204l1-.8M134 191l1.1-.7M168 222l1.7-1.4M164 213l2.9-1.2M144 218l2.8-2M93 215l1.2-.5M104 199l2.5-1.7M82 217l1.3-.7M59 223l1.4-.6M53 223l.6-.4M46 227l.6-.4M44 225l1-.5M116 165l1.8-1.5M112 172l2.2-1.5M120 166l1.9-1.5M180 146l1.1-.7M177 150l2.6-1M295 181l3-1.8"/>
<path class="klb w10" d="M154 205l2.6-1.2M166 209l2.9-.8M147 188l2.9-1M154 213l2.8-1.6M183 210l1-.6M143 185l1.1-.5M77 205l2.4-.7M111 222l1.3-.4M87 218l.8-.6M87 189l1.8-.8M73 205l.7-.5M52 225l2.1-1.2M257 214l2.8-1.1M247 211l1.1-.4"/>
<path class="klb w11" d="M151 199l1.3-.7M141 199l1.7-.8M185 208l1.4-.4M140 206l2.6-1.8M196 199l1.5-1M143 227l1.4-.9M196 202l1.8-.8M177 223l.6-.4M176 202l1.1-.7M130 209l1.9-.9M161 225l2.7-.8M72 193l1.5-.8M107 188l2.3-1.9M58 225l1.3-.9M304 170l1.6-1.1M258 209l1.3-.9"/>
<path class="klb w12" d="M137 221l2.2-1.3M178 218l1.4-.9M181 214l1.5-1M140 172l2.1-1.8M171 214l2.4-.8M153 210l3-1.2M135 224l1.4-.5M188 214l3-2.4M138 186l3.2-1.9M154 212l2.2-1.2M157 210l1.4-.9M196 226l1.9-1.5M174 214l1.3-.5M156 213l1.7-.8M187 231l1.9-.8M91 217l2.1-1M101 194l3.3-1.6M90 194l1.7-1.4M98 195l3.4-1.5M80 198l2.4-1.1M94 202l1-.5M106 215l3-1.8M96 218l2.1-1.6M231 231l2.9-2.1M247 212l3.3-2.6M275 193l2.6-1.7"/>
<path class="klb w13" d="M171 217l3.3-2.1M130 216l.9-.8M147 200l2.7-.9M162 221l1.3-.6M192 220l2.2-.8M192 203l3.5-1.3M142 218l1.8-1.4M153 226l3.1-.9M168 227l2.5-.8M161 228l2.2-1.7M195 203l3.3-2.1M90 205l1.3-.6M112 188l2-.6M76 224l3.6-2.1M79 204l1.1-.3M113 202l1.2-.5M68 216l1-.5M99 198l2-1.3M101 227l1.9-1.1M65 219l.9-.4M95 196l3.4-1.6M67 210l1.9-1.4M279 195l2.8-1.4M278 178l2-1.3M257 206l1.7-.7M279 183l1.3-.6M274 191l2.7-1.9M296 186l3.5-2.6M279 191l3.5-2.2M295 183l2.1-1.2M277 201l2.4-.8M235 226l1-.3"/>
<path class="klb w14" d="M190 203l1.9-1.2M154 204l2.8-1M165 225l1.1-.6M151 208l3.7-1.4M150 227l1.3-.5M180 204l.7-.5M169 215l1.2-.9M198 206l1.5-.6M150 220l2.2-1M72 226l.9-.5M73 208l2.1-.6M294 191l.8-.6M264 194l3.2-2.4M248 227l2.7-1.4"/>
<path class="klb w15" d="M144 171l4.8-1.6M145 172l2.9-1.6M145 217l2.6-1.2M187 220l1.7-.5M143 172l3.6-2.6M168 207l1.9-1.2M175 228l3.3-.9M75 190l3.5-.9M68 226l4.1-2.7M94 206l2.3-1.8M254 201l4-2.5M291 175l4.2-2.5M301 196l4.3-2.2M250 215l1.9-.7M300 163l4.4-1.5M277 203l3.5-1.4M256 211l3.2-2M304 180l3.1-1.5M287 204l2.6-1.1M255 197l2.6-1M295 168l1.6-.5"/>
<path class="klb w16" d="M141 216l3.1-.9M180 225l4.4-3M194 210l3.2-1.7M129 218l4.2-1.9M284 177l5-1.5M255 216l2.7-.8M278 205l3.2-2.1M282 176l2.3-.7"/>
<path class="klb w17" d="M279 184l2.9-2.3M258 222l4-1.1"/>
<path class="klb w18" d="M299 186l5.1-1.5M259 226l4.5-1.4M299 174l4-2.6M300 196l2.1-.9"/>
<path class="kb w3" d="M136 165l.9-.7M177 151l.6-.3M156 146l1.2-.5M180 156l1.8-.7M238 64l1.1-.6"/>
<path class="kb w4" d="M193 206l1-.6M142 202l2.2-.7M88 217l1-.7M43 222l.7-.5M56 220l1.3-.8M134 166l.7-.5M113 174l2.2-1M176 145l2-.9M150 155l1.5-1M181 153l.7-.5M222 66l1.1-.4M241 76l1.7-1.1M271 200l1.4-.6"/>
<path class="kb w5" d="M142 201l1.3-.9M169 215l.6-.3M151 213l2.5-.8M156 203l2.2-1.4M104 198l1.5-.4M123 166l1.3-.9M117 167l1.8-1.3M127 164l.8-.3M245 75l.5-.3M270 200l2.2-.6M261 216l.9-.4"/>
<path class="kb w6" d="M168 222l1.9-1.5M53 223l.8-.5M46 227l.8-.5M44 225l1.2-.6M116 165l1.9-1.6M112 172l2.4-1.6M128 163l1.8-.9M118 172l.9-.7M177 150l2.7-1.1"/>
<path class="kb w7" d="M134 210l2.2-1.5M154 205l2.7-1.3M166 209l3.1-.8M168 204l.8-.6M147 188l3-1M135 191l.8-.6M183 210l1.2-.7M164 212l2.6-1.1M144 218l2.6-1.8M93 215l.9-.4M104 199l2.2-1.5M83 217l1-.5M77 205l2.6-.8M86 218l1-.8M87 189l2-.8M73 205l.8-.6M59 223l1.2-.5M51 225l2.3-1.3M120 166l1.7-1.3M180 146l.9-.5M295 181l2.7-1.6M257 214l3-1.2"/>
<path class="kb w8" d="M151 199l1.4-.8M141 199l1.9-.9M185 208l1.6-.5M196 199l1.7-1.2M142 227l1.6-1M154 213l2.6-1.5M196 202l2-.9M176 223l.8-.5M176 202l1.3-.8M144 185l.8-.4M130 209l2-1M161 225l2.9-.9M111 222l1-.3M58 225l1.5-1M304 170l1.8-1.2M247 211l.8-.3"/>
<path class="kb w9" d="M137 221l2.3-1.4M178 218l1.6-1M181 214l1.7-1.1M140 172l2.3-1.9M171 214l2.6-.8M134 224l1.5-.6M140 206l2.4-1.6M138 186l3.3-2M154 212l2.3-1.3M196 226l2.1-1.7M174 214l1.4-.5M156 213l1.9-.9M187 231l2.1-.9M91 217l2.3-1.1M72 193l1.3-.7M101 194l3.5-1.6M98 195l3.6-1.5M106 215l3.2-1.9M96 218l2.3-1.7M107 188l2.1-1.7M258 209l1.1-.7"/>
<path class="kb w10" d="M171 217l3.5-2.3M130 216l1.1-.9M153 210l2.8-1.1M192 220l2.4-.8M192 203l3.7-1.4M142 218l1.9-1.6M188 214l2.7-2.2M157 210l1.2-.8M161 228l2.4-1.8M195 203l3.4-2.2M90 205l1.5-.7M112 188l2.2-.7M75 224l3.8-2.2M79 204l1.3-.4M113 202l1.3-.6M68 216l1.2-.6M99 199l2.1-1.4M90 194l1.5-1.2M65 219l1.1-.4M95 196l3.6-1.7M80 197l2.1-1M94 202l.8-.4M67 210l2.1-1.5M279 195l2.9-1.5M231 231l2.7-1.9M278 183l1.5-.6M274 192l2.9-2M248 212l3-2.4M275 192l2.3-1.5M235 226l1.1-.4"/>
<path class="kb w11" d="M154 204l3-1.1M165 225l1.3-.6M148 200l2.4-.8M162 221l1.1-.5M151 209l3.9-1.4M153 226l2.8-.8M168 227l2.2-.7M180 204l.8-.6M72 226l1.1-.6M101 227l1.6-.9M294 191l1-.7M263 194l3.4-2.5M278 178l1.8-1.1M258 206l1.4-.6M296 186l3.2-2.4M279 191l3.2-2M296 183l1.9-1M277 201l2.1-.7"/>
<path class="kb w12" d="M190 203l1.6-1M144 171l5-1.6M145 217l2.8-1.2M187 220l1.9-.5M143 172l3.7-2.7M150 227l1.1-.4M170 215l1-.7M198 206l1.2-.5M150 220l1.9-.8M68 226l4.3-2.8M73 208l1.8-.5M94 206l2.5-1.9M250 215l2.1-.8M300 163l4.6-1.6M248 227l2.5-1.3M304 180l3.3-1.6M255 197l2.8-1"/>
<path class="kb w13" d="M141 216l3.3-.9M180 225l4.5-3.1M145 172l2.6-1.5M194 210l3.4-1.7M168 207l1.6-1M175 228l3-.8M129 219l4.4-2M76 190l3.2-.9M284 177l5.2-1.6M255 216l2.9-.8M254 201l3.7-2.3M278 206l3.3-2.2M291 175l3.9-2.3M301 196l4.1-2.1M282 176l2.5-.8M277 203l3.2-1.2M256 211l3-1.9M287 204l2.3-1M295 168l1.3-.4"/>
<path class="kb w14" d="M279 184l3.1-2.5M258 222l4.2-1.2"/>
<path class="kb w15" d="M299 186l5.3-1.6M300 196l2.3-1"/>
<path class="kb w16" d="M259 226l4.2-1.3M299 174l3.8-2.4"/>
<path class="kgr w2" d="M123 166l1.5-1"/>
<path class="kgr w3" d="M128 163l1.9-1M118 172l1-.8"/>
<path class="kgr w4" d="M134 210l2.4-1.6M168 204l.9-.8M135 191l1-.7M164 212l2.8-1.2M144 218l2.7-1.9M93 215l1.1-.4M104 199l2.4-1.6M82 217l1.2-.6M86 218l1.1-.9M59 223l1.4-.6M54 223l.6-.3M51 225l2.5-1.4M46 226l.5-.3M44 225l.9-.5M116 165l1.7-1.4M112 172l2.1-1.5M120 166l1.9-1.4M180 146l1-.6M177 150l2.5-1M295 181l2.9-1.7"/>
<path class="kgr w5" d="M154 205l2.5-1.2M166 209l2.8-.8M147 188l2.8-1M154 213l2.8-1.6M196 202l2.1-1M176 223l.9-.6M183 210l.9-.6M143 185l1-.4M77 205l2.3-.7M111 222l1.2-.4M87 189l1.7-.7M73 205l.6-.4M257 214l2.7-1.1M247 211l1-.4"/>
<path class="kgr w6" d="M151 199l1.2-.7M141 199l1.6-.7M140 172l2.4-2M185 208l1.3-.4M134 224l1.7-.7M140 206l2.5-1.7M154 212l2.5-1.4M196 199l1.4-1M143 227l1.3-.8M176 202l1-.6M130 209l1.8-.9M187 231l2.3-1M161 225l2.6-.8M72 193l1.5-.8M100 194l3.7-1.7M107 188l2.3-1.8M58 225l1.3-.8M304 170l1.5-1M258 209l1.2-.8"/>
<path class="kgr w7" d="M137 221l2.1-1.3M171 217l3.6-2.4M178 218l1.3-.9M181 214l1.5-.9M171 214l2.3-.8M153 210l2.9-1.2M142 218l2.1-1.7M188 214l2.9-2.3M138 186l3.1-1.9M157 210l1.3-.9M161 228l2.5-1.9M196 226l1.9-1.5M174 214l1.2-.4M157 213l1.6-.8M90 205l1.7-.8M91 217l2-.9M78 204l1.5-.5M99 199l2.3-1.5M90 194l1.6-1.3M98 195l3.3-1.4M80 198l2.3-1.1M94 202l1-.4M106 215l2.9-1.7M96 218l2.1-1.5M279 195l3.1-1.6M231 231l2.8-2M247 212l3.2-2.5M275 192l2.5-1.6"/>
<path class="kgr w8" d="M153 204l3.1-1.1M165 225l1.4-.7M130 216l.9-.7M147 200l2.6-.8M162 221l1.3-.5M192 220l2.1-.7M192 203l3.4-1.3M151 209l4.1-1.5M153 226l3-.9M168 227l2.4-.8M180 204l1-.7M195 203l3.2-2M113 188l1.9-.6M76 224l3.5-2M113 202l1.1-.5M68 216l.9-.4M101 227l1.8-1M66 219l.8-.3M95 196l3.3-1.6M67 210l1.9-1.4M294 191l1.1-.8M263 194l3.6-2.6M278 178l1.9-1.2M257 206l1.6-.7M279 183l1.2-.5M274 191l2.6-1.8M296 186l3.4-2.5M279 191l3.4-2.1M296 183l2.1-1.1M277 201l2.3-.7M235 226l.9-.3"/>
<path class="kgr w9" d="M190 203l1.8-1.1M187 220l2-.6M150 227l1.3-.5M170 215l1.2-.8M198 206l1.4-.6M150 220l2.1-.9M72 226l.8-.4M73 208l2-.5M248 227l2.6-1.4M304 180l3.5-1.7M255 197l3-1.1"/>
<path class="kgr w10" d="M144 171l4.7-1.5M145 172l2.8-1.6M145 217l2.5-1.1M143 172l3.5-2.5M194 211l3.5-1.8M168 207l1.8-1.2M175 228l3.2-.9M76 190l3.4-.9M68 226l4.1-2.6M94 206l2.2-1.7M254 201l3.9-2.4M277 206l3.5-2.3M291 175l4.1-2.4M301 196l4.3-2.2M250 215l1.8-.7M300 163l4.3-1.5M277 203l3.4-1.3M256 211l3.1-2M287 204l2.5-1M295 168l1.5-.4"/>
<path class="kgr w11" d="M141 216l3-.8M180 225l4.3-2.9M129 218l4.1-1.9M284 177l4.9-1.5M256 216l2.7-.8M282 176l2.2-.7M258 222l4.4-1.3"/>
<path class="kgr w12" d="M279 184l2.9-2.3"/>
<path class="kgr w13" d="M299 186l5-1.5M259 226l4.4-1.4M299 174l4-2.5M300 196l2-.9"/>
<path class="ky w3" d="M72 193l1.5-.8M107 188l2.3-1.9M58 225l1.3-.9"/>
<path class="ky w4" d="M137 221l2.2-1.3M178 218l1.4-.9M181 214l1.5-1M140 172l2.1-1.8M171 214l2.4-.8M153 210l3-1.2M135 224l1.4-.5M188 214l3-2.4M138 186l3.2-1.9M154 212l2.2-1.2M157 210l1.4-.9M196 226l1.9-1.5M174 214l1.3-.5M156 213l1.7-.8M187 231l1.9-.8M91 217l2.1-1M101 194l3.3-1.6M90 194l1.7-1.4M98 195l3.4-1.5M80 198l2.4-1.1M94 202l1-.5M106 215l3-1.8M96 218l2.1-1.6M231 231l2.9-2.1M247 212l3.3-2.6M275 193l2.6-1.7"/>
<path class="ky w5" d="M171 217l3.3-2.1M130 216l.9-.8M147 200l2.7-.9M162 221l1.3-.6M192 220l2.2-.8M192 203l3.5-1.3M142 218l1.8-1.4M153 226l3.1-.9M168 227l2.5-.8M161 228l2.2-1.7M195 203l3.3-2.1M90 205l1.3-.6M112 188l2-.6M76 224l3.6-2.1M79 204l1.1-.3M113 202l1.2-.5M68 216l1-.5M99 198l2-1.3M101 227l1.9-1.1M65 219l.9-.4M95 196l3.4-1.6M67 210l1.9-1.4M279 195l2.8-1.4M278 178l2-1.3M257 206l1.7-.7M279 183l1.3-.6M274 191l2.7-1.9M296 186l3.5-2.6M279 191l3.5-2.2M295 183l2.1-1.2M277 201l2.4-.8M235 226l1-.3"/>
<path class="ky w6" d="M190 203l1.9-1.2M154 204l2.8-1M165 225l1.1-.6M151 208l3.7-1.4M150 227l1.3-.5M180 204l.7-.5M169 215l1.2-.9M198 206l1.5-.6M150 220l2.2-1M72 226l.9-.5M73 208l2.1-.6M294 191l.8-.6M264 194l3.2-2.4M248 227l2.7-1.4"/>
<path class="ky w7" d="M144 171l4.8-1.6M145 172l2.9-1.6M145 217l2.6-1.2M187 220l1.7-.5M143 172l3.6-2.6M168 207l1.9-1.2M175 228l3.3-.9M75 190l3.5-.9M68 226l4.1-2.7M94 206l2.3-1.8M254 201l4-2.5M291 175l4.2-2.5M301 196l4.3-2.2M250 215l1.9-.7M300 163l4.4-1.5M277 203l3.5-1.4M256 211l3.2-2M304 180l3.1-1.5M287 204l2.6-1.1M255 197l2.6-1M295 168l1.6-.5"/>
<path class="ky w8" d="M141 216l3.1-.9M180 225l4.4-3M194 210l3.2-1.7M129 218l4.2-1.9M284 177l5-1.5M255 216l2.7-.8M278 205l3.2-2.1M282 176l2.3-.7"/>
<path class="ky w9" d="M279 184l2.9-2.3M258 222l4-1.1"/>
<path class="ky w10" d="M299 186l5.1-1.5M259 226l4.5-1.4M299 174l4-2.6M300 196l2.1-.9"/>
<path class="ko w3" d="M72 226l1-.5M73 208l2.2-.6M248 227l2.8-1.5"/>
<path class="ko w4" d="M190 203l1.6-1M144 171l4.9-1.6M145 217l2.7-1.2M187 220l1.8-.5M143 172l3.7-2.6M150 227l1-.4M170 215l.9-.6M198 206l1.1-.5M175 228l3.4-.9M150 220l1.8-.8M75 190l3.6-1M68 226l4.2-2.7M94 206l2.4-1.9M291 175l4.3-2.5M301 196l4.4-2.3M250 215l2-.7M300 163l4.5-1.6M277 203l3.6-1.4M256 212l3.3-2.1M304 180l3.2-1.5M255 197l2.7-1"/>
<path class="ko w5" d="M141 216l3.2-.9M180 225l4.5-3.1M146 172l2.5-1.4M194 210l3.3-1.7M168 207l1.5-1M129 218l4.3-2M284 177l5.1-1.5M255 216l2.8-.8M254 201l3.7-2.2M278 205l3.2-2.1M282 176l2.4-.7M287 204l2.2-.9M295 168l1.2-.4"/>
<path class="ko w6" d="M279 184l3-2.4M258 222l4.1-1.2"/>
<path class="ko w7" d="M299 186l5.2-1.6M299 174l4.1-2.6M300 196l2.2-1"/>
<path class="ko w8" d="M259 226l4.1-1.3"/>
<path class="kdbr w4" d="M279 184l3-2.4M258 222l4.1-1.2"/>
<path class="kdbr w5" d="M299 186l5.2-1.6M299 174l4.1-2.6M300 196l2.2-1"/>
<path class="kdbr w6" d="M259 226l4.1-1.3"/>
<use href="#mapg"/>
</g>
<rect x="0.5" y="0.5" width="305" height="230" fill="none" stroke="#555" stroke-width="1"/>
<rect x="5.5" y="3.5" width="15" height="21" fill="#fff" stroke="#555" stroke-width="1"/>
<text class="t" x="13.5" y="17.6" font-size="13.5" text-anchor="middle">9</text>
</g>
<g transform="translate(315,481)">
<g clip-path="url(#cp2)" stroke-linecap="round">
<ellipse cx="293.6" cy="50.3" rx="3.7" ry="1.3" transform="rotate(-40.0 293.6 50.3)" fill="#b8c4ec"/>
<ellipse cx="294.1" cy="50.3" rx="1.9" ry="1.1" transform="rotate(-40.0 294.1 50.3)" fill="#5058d8"/>
<ellipse cx="290.1" cy="51.6" rx="6.6" ry="1.8" transform="rotate(-40.0 290.1 51.6)" fill="#b8c4ec"/>
<ellipse cx="290.6" cy="51.6" rx="1.6" ry="0.9" transform="rotate(-40.0 290.6 51.6)" fill="#5058d8"/>
<ellipse cx="284.3" cy="55.8" rx="3.7" ry="1.7" transform="rotate(-40.0 284.3 55.8)" fill="#b8c4ec"/>
<ellipse cx="284.8" cy="55.8" rx="1.8" ry="1.0" transform="rotate(-40.0 284.8 55.8)" fill="#5058d8"/>
<ellipse cx="232.8" cy="74.8" rx="3.6" ry="1.7" transform="rotate(-20.0 232.8 74.8)" fill="#a5a5a5"/>
<ellipse cx="242.0" cy="58.4" rx="2.2" ry="1.5" transform="rotate(-15.9 242.0 58.4)" fill="#b8c4ec"/>
<ellipse cx="249.6" cy="53.0" rx="2.0" ry="1.9" transform="rotate(-23.3 249.6 53.0)" fill="#b8c4ec"/>
<ellipse cx="230.9" cy="79.8" rx="3.0" ry="1.8" transform="rotate(-25.4 230.9 79.8)" fill="#a5a5a5"/>
<path class="klb w3" d="M241 137l8.5-6M242 148l6.5-5.3M272 125l6.2-3.8M209 162l14.7-10.1M235 162l9.6-7.7M262 99l8.3-5.5M235 165l9.8-7.6M277 116l12.9-10.5M292 90l13.3-7.7M247 140l4.9-4.3M216 168l14.1-8.3M275 114l10.7-7M273 141l14.3-10.3M299 110l12.5-11.1M226 154l6.1-4.5M276 136l12.5-8.4M256 111l12.2-9.7M263 98l12.8-8.7M212 170l6-4.9M196 167l10.6-6.4M294 82l5.3-4.7M234 165l12.5-8.7"/>
<path class="klb w4" d="M203 164l12.7-9M256 145l12.6-7.9M200 176l10.2-6.2M301 114l5.5-4.8M281 139l11.4-6.9M281 128l12.5-10.8M280 106l10-7.4M287 79l9.9-5.9M283 123l7.5-5.7M261 141l13.4-11M256 145l10.3-7.3M277 116l7.1-6.2M275 98l9.9-5.8M262 154l13.4-8.3M290 130l6-3.7M280 96l13.7-10.8M280 142l5.5-3.5M231 157l9.2-6.5M303 77l5.3-3.8M228 146l5-3.3M248 131l13.1-8.2M273 112l6.6-5.3"/>
<path class="klb w5" d="M290 111l9.8-7M277 99l6.6-4.9M280 134l11-8M246 154l6.2-5M241 144l8.8-5.6M280 123l5.9-3.9M198 175l9-6M296 97l13-11.5M274 119l11.5-9.6M256 117l6.8-4.5M301 132l6-4.3M210 159l11.9-7.6M285 144l8.7-7.6M288 130l12.9-10.5M294 84l6.2-5.5M253 156l7.8-5.7M288 112l14-8.1"/>
<path class="klb w6" d="M254 125l5.4-4.4M276 93l9.1-5.6M288 114l12.4-9.5M276 125l6.7-5.8M280 83l9.7-8.5M215 152l11.2-8.1M265 110l12-8.3M285 122l7.3-4.5M282 81l10-8.5M296 118l14.5-9.8M274 133l6.8-6M201 165l9.9-7.3M224 143l9.7-7.8M299 92l9.9-6.4M298 97l5.4-3.5M215 157l9.7-8.7M283 137l11.7-9.6M300 104l6.1-5.4M284 143l7.5-5.5M246 128l9.2-7.1"/>
<path class="kg w3" d="M284 103l9.6-8.5M281 85l7.8-6.4M267 121l14.4-8.9M289 126l6.1-4.3M239 126l9.7-5.9M251 138l8.7-5.7M293 113l15.1-9.1M301 78l5.8-4.2M261 122l12.6-7.9M278 93l6.8-6M214 173l7.2-6.4M259 104l11-6.4M202 177l13.3-9.8M271 94l6.2-5.6M225 141l12.7-9.9M271 117l8.5-6.8M272 94l12.5-7.8M272 91l5-3.6M218 149l14.1-8.8M222 162l10.4-6.5M247 142l8.3-4.9M281 120l9.8-8.4M249 124l6.7-6M229 137l5.9-3.9M276 146l5.2-3.5M263 98l9.4-6.5M280 140l13.8-9.5M282 82l10.2-7.3M267 109l11.8-7.9M274 146l8.8-7.5M280 86l11.9-8.3M260 107l9.9-8.9M300 118l11.7-7.7M265 132l11.2-9.2M285 125l14-9.2M285 111l5.7-4.1M222 157l9.6-8.6M299 133l11.5-9.7M239 125l12.9-11.5M267 137l13-7.9M223 166l11.7-7.5M293 118l9.1-6.8M229 154l14-9.5M227 140l6-4M270 100l13-11.4M263 123l5-3.4M229 153l10.8-8.8M290 116l11.4-9.2M223 165l5.6-3.9M275 135l12.8-8M293 83l8.3-7.2M250 129l13.3-10M230 138l6.4-5.3M280 108l10.6-7.4M288 91l9.2-5.9M259 132l12.7-7.5"/>
<path class="kg w4" d="M272 131l10.5-7.7M289 113l7.4-5.5M247 162l12.4-9.3M291 81l12.7-7.5M244 124l7.3-5.7M255 121l10.8-8M276 134l7.9-5.2M265 118l15.1-9.3M300 77l9.9-7.8M256 144l5.3-4.3M279 116l12.9-11.1M287 138l9.1-7M256 151l12.8-11.5M209 163l13.4-9M270 130l5.8-4.4M299 115l9-7.9M244 123l8.3-6.1M283 129l7-4.5M203 162l9.1-5.8M260 130l13.3-10.1M296 90l9.8-8.6M301 112l9.2-6.6M253 152l9.7-5.8M209 166l6.5-4.6M296 79l13-11.4M262 124l9.3-7.1M296 102l8.2-5.2M267 110l5.8-4.7M285 97l6-5M289 109l11.3-9.1M211 167l5.5-3.5M291 108l6.7-4.1M259 101l10.3-6M234 151l9.9-7.5M244 133l10.7-6.6M271 118l7.2-4.3M214 166l6.9-5.2M248 140l13.4-8.5M295 93l7.8-4.9M243 122l7-4.2M299 74l5.7-4.6M244 147l6-4.8M275 128l8-5.3M267 143l6.3-5M211 171l9.6-6.5M298 78l10.8-8.4M219 165l13.4-8.4M285 132l14.9-9.1"/>
<path class="kg w5" d="M263 137l8.4-5.9M255 134l4.9-4.4M234 139l14.7-9.7M248 149l13.4-11.5M286 88l10.2-7.3M233 154l12.1-8.3M292 85l6.8-5.2M286 83l12.8-7.9M277 100l13.7-10.3M211 154l5.6-3.9M226 161l5.4-4.2M302 91l4.8-4.1M285 135l11.6-9.9M197 167l11.7-9.9M292 81l6.4-4.5M216 155l9.3-8.3M202 163l10.8-7.6M297 138l9.1-6M256 122l11.5-7.1M293 83l13.2-11.1M283 123l10.7-7.9M293 113l8.1-4.8M299 93l9-6.8M205 169l11.7-10M257 112l12-9.8M289 137l11.8-7.3M264 127l6-5.1M265 111l10.6-6.9M260 126l6.7-4.2M244 155l9.2-8.1M262 104l5.9-4.5M289 102l12.2-9.8M238 151l12.7-10.2M272 150l12.2-8.4M263 151l12.2-9.5M249 128l10.4-9.2M266 146l11.1-9.8M288 82l5.8-5M212 171l14.3-9.9M254 121l13-11M301 126l6.3-4.6M224 168l10.9-6.4M244 123l13.1-9.7M269 110l4.7-3.9M258 157l11.8-9.8M289 91l7.8-6.9M271 117l6.2-3.8M260 124l4.7-4M265 97l5.3-3.3M261 119l5.8-4.9M271 126l9.7-5.6M243 158l10.4-7.4M251 127l14.2-10.1M301 136l9.3-6.2M287 142l5.3-3.2"/>
<path class="kg w6" d="M248 130l10-6.3M248 159l11-6.9M235 157l6.9-4.1M260 116l7.6-4.7M281 107l10.8-7.8M222 156l11.2-9.7M276 100l12.8-11.5M234 156l8.8-7.3M295 100l7.5-5M248 120l13.2-8.8M266 121l12.7-7.8M282 94l8.5-5.4M277 141l5.8-3.8M253 117l9.5-6.1M272 122l6-5.1M295 100l6.6-3.9M203 170l10.3-8.9M300 128l5.5-3.8M267 125l7.8-6.7M289 103l13.3-8.8M278 120l14.3-9.1M211 172l8.6-6.4M285 81l9.3-7.5M269 107l13.3-11.7M235 148l5.3-3.5M220 157l13.8-10M296 89l9.8-6.2M239 143l10.2-7.9M243 143l12.2-7.3M287 121l13.5-8.4M290 124l10.9-6.8M217 163l11.9-8M264 130l13-10.9M293 116l9.6-6.2M226 170l13-11.3M266 135l12.4-9M262 155l11.9-6.9M271 123l9.8-5.7M259 134l11.9-7.8M217 168l12.8-10.5M291 128l9.6-8.2M250 154l7.8-4.7M261 112l6.1-3.6M256 106l9.8-8.5M202 163l6-4.1M295 77l8.9-5.6M194 169l8.3-4.8"/>
<ellipse cx="294.0" cy="78.0" rx="12.0" ry="2.5" transform="rotate(-30.0 294.0 78.0)" fill="#a5a5a5"/>
<ellipse cx="300.0" cy="86.0" rx="8.0" ry="2.0" transform="rotate(-30.0 300.0 86.0)" fill="#a5a5a5"/>
<ellipse cx="286.0" cy="88.0" rx="7.0" ry="2.0" transform="rotate(-35.0 286.0 88.0)" fill="#a5a5a5"/>
<ellipse cx="302.0" cy="72.0" rx="6.0" ry="1.6" transform="rotate(-30.0 302.0 72.0)" fill="#a5a5a5"/>
<path d="M202 168L234 137L254 114L269 102L288 95L306 87L306 132L296 135L288 139L274 147L259 154L244 159L224 167L201 174Z" fill="#b8c4ec"/>
<ellipse cx="296.0" cy="96.0" rx="6.0" ry="1.5" transform="rotate(-25.0 296.0 96.0)" fill="#a5a5a5"/>
<ellipse cx="282.0" cy="104.0" rx="5.0" ry="1.4" transform="rotate(-25.0 282.0 104.0)" fill="#a5a5a5"/>
<path d="M199 171L224 154L239 139L254 124L274 114L293 107L306 104L306 130L296 133L288 137L274 145L259 152L244 157L224 165L201 172Z" fill="#5058d8"/>
<path d="M212 166L226 156L240 146L252 124L262 118L276 116L306 108L306 128L294 131L282 136L268 142L252 150L234 158L218 164Z" fill="#5058d8"/>
<path class="kt w3" d="M260 133l3.3-2.5M247 141l6.4-5.4M247 151l6.6-6M263 138l3.8-3.1M262 135l4.2-2.5M277 127l6.3-4.3M226 159l5.3-4.3M242 152l2.6-2.1M291 127l5.3-4.3M287 125l4.6-4.2"/>
<path class="kt w4" d="M228 156l1.8-1.6M239 146l4.2-3.1M297 128l5.2-4.1M277 127l5.5-4.3M245 144l7.1-4.4M260 130l3.2-2.8M260 133l6-4.6M285 125l2-1.6M247 140l6.7-4.3"/>
<path class="kt w5" d="M239 144l7-4.5M282 135l3.6-2.5M259 120l4.5-3.3M264 121l4.5-3.6M274 122l4.6-2.7M263 120l6.7-4.8M278 135l4.2-2.7"/>
<path class="kt w6" d="M250 151l6.6-4.5M273 135l4.4-3.7M292 125l7.2-4.5M303 127l2.9-2M222 163l2.9-2.2M224 159l6.9-5.6M251 125l5-3M294 113l5.2-4M280 119l5.4-3.7M273 124l4.2-2.9M277 138l2.9-2.3"/>
<path class="klb w3" d="M276 131l6.4-4.6M278 119l7-4.4M272 120l3.2-2.3M246 148l6.3-4.2M292 130l5-4.2M240 149l6.9-5.5"/>
<path class="klb w4" d="M251 147l2.4-1.7M244 144l6.4-3.9M249 131l5-4.4M243 142l6.3-5.3M285 117l6.2-3.8"/>
<path class="klb w5" d="M252 138l5.9-4.2M267 124l6.7-4.2M257 128l3.2-2M240 153l4.2-2.7M260 131l4.1-2.6M295 118l5-4.3M270 119l2.1-1.3M233 154l3.9-3M285 118l3.1-2M256 136l6.2-5.3"/>
<path class="klb w6" d="M256 145l3.9-3.4M235 153l6.4-4.3M254 131l5.8-5.1M264 144l6.5-5.7M260 139l2-1.8M278 135l2.8-1.9M275 131l3.1-2.7M285 125l2.6-2.1M299 111l2.7-1.9M262 129l4.7-3.8M288 134l5.6-4.1M247 144l6.3-5.4M224 161l1.9-1.2M283 132l2.4-2M243 146l5.3-3.4M298 115l4.1-2.8"/>
<path class="kgr w3" d="M283 116l2.3-1.6M283 122l6.8-5.3M281 123l2.4-1.9"/>
<path class="kgr w4" d="M281 125l3.1-2.6M259 143l6.5-5.3M293 126l4.2-3.2M241 145l3.1-2.8"/>
<path class="kgr w6" d="M277 127l2.2-1.6M296 124l4.2-3.2M257 126l2.3-1.4"/>
<path class="kg w3" d="M296 126l3.5-2.6"/>
<path class="kg w5" d="M273 132l2-1.3M299 112l6.4-4.5M301 119l4.1-3"/>
<path class="kg w6" d="M273 138l3.2-2.6"/>
<path class="kb w3" d="M262 144l1.9-1.3M245 142l5.8-4.4M273 118l2.9-2.5M254 143l4.8-3.8"/>
<path class="kb w4" d="M279 126l5.8-4.9M250 132l3.9-2.3M281 136l7-5M285 115l2.2-1.9M271 126l1.9-1.3M287 134l6.7-4.5M218 164l6.3-5.1"/>
<path class="kb w5" d="M281 131l3.3-2.4M273 137l5.4-4.8M285 121l1.8-1.5M213 165l7-4.3M271 121l2.2-1.7"/>
<path class="kb w6" d="M266 121l5.9-5.3M283 134l2.4-1.5M254 134l6.5-5.5M261 126l5.1-3.4M265 132l4.4-2.8"/>
<path d="M264 114L284 110L306 106L306 130L296 132L284 130L270 126Z" fill="#50969a"/>
<path class="kgr w3" d="M298 124l5.3-3.9M299 122l5.5-4.3M285 112l6-5.4M295 109l4-3.1M292 125l3.8-3.4M266 121l6.2-3.7M293 126l2.3-1.9"/>
<path class="kgr w4" d="M288 132l5.8-4.3M295 124l7.2-5.4M293 113l4.1-2.5M272 117l1.9-1.4M278 117l6.9-5.4M298 120l4.1-2.8M302 130l1.7-1.1"/>
<path class="kgr w5" d="M281 127l3.3-2.5M281 127l4.5-3.6M280 130l4.7-3.8M301 125l5.8-4.1M277 124l6.6-3.9"/>
<path class="kgr w6" d="M291 130l6.8-4.3M271 115l3-2.2M301 124l4.8-2.9M301 109l3.6-2.4M291 124l5.5-3.9M293 127l4.2-2.8"/>
<path class="klb w3" d="M277 125l3.1-2.1"/>
<path class="klb w4" d="M293 124l7.1-5.4"/>
<path class="klb w6" d="M274 127l2.3-1.6M275 128l5-3.9M289 116l4.5-4M282 113l3.2-2.1M281 113l3-2.6M285 127l1.7-1.3"/>
<path class="kb w3" d="M278 115l5.9-3.6M283 132l6.7-5M281 114l6.9-5.2"/>
<path class="kb w4" d="M272 114l2-1.5M278 121l2.7-1.8M286 114l2.2-1.4M301 118l7.1-4.5M301 125l5.6-5"/>
<path class="klg w4" d="M296 131l6-4.2M285 132l6.3-5.3"/>
<path class="klg w5" d="M293 117l2.1-1.6"/>
<path class="klg w6" d="M279 128l6-4.2M290 120l5.6-4.5"/>
<path class="ky w4" d="M302 122l3.8-2.4"/>
<path class="ky w5" d="M299 113l6.5-5.1M296 132l4.7-3.4M271 114l4.5-2.6"/>
<path class="kt w4" d="M301 118l6-4.1"/>
<path class="kt w5" d="M278 120l5.5-3.8M284 130l1.7-1.1"/>
<path class="kt w6" d="M274 118l3.7-2.8"/>
<path d="M219 160L230 152L240 148L244 152L234 160L222 165Z" fill="#008000"/>
<ellipse cx="256.0" cy="140.0" rx="6.0" ry="2.0" transform="rotate(-30.0 256.0 140.0)" fill="#b8c4ec"/>
<ellipse cx="272.0" cy="136.0" rx="5.0" ry="1.5" transform="rotate(-25.0 272.0 136.0)" fill="#b8c4ec"/>
<ellipse cx="300.0" cy="118.0" rx="3.0" ry="1.5" transform="rotate(-25.0 300.0 118.0)" fill="#b8c4ec"/>
<ellipse cx="291.0" cy="122.0" rx="3.0" ry="3.0" transform="rotate(0.0 291.0 122.0)" fill="#b8c4ec"/>
<ellipse cx="291.0" cy="122.0" rx="2.6" ry="2.6" transform="rotate(0.0 291.0 122.0)" fill="#5058d8"/>
<ellipse cx="291.0" cy="122.0" rx="2.1" ry="2.1" transform="rotate(0.0 291.0 122.0)" fill="#008000"/>
<ellipse cx="291.0" cy="122.0" rx="1.6" ry="1.6" transform="rotate(0.0 291.0 122.0)" fill="#f0d860"/>
<ellipse cx="300.0" cy="116.0" rx="2.5" ry="2.5" transform="rotate(0.0 300.0 116.0)" fill="#b8c4ec"/>
<ellipse cx="300.0" cy="116.0" rx="2.1" ry="2.1" transform="rotate(0.0 300.0 116.0)" fill="#5058d8"/>
<ellipse cx="300.0" cy="116.0" rx="1.8" ry="1.8" transform="rotate(0.0 300.0 116.0)" fill="#008000"/>
<ellipse cx="300.0" cy="116.0" rx="1.3" ry="1.3" transform="rotate(0.0 300.0 116.0)" fill="#f0d860"/>
<ellipse cx="280.0" cy="120.0" rx="2.0" ry="2.0" transform="rotate(0.0 280.0 120.0)" fill="#b8c4ec"/>
<ellipse cx="280.0" cy="120.0" rx="1.7" ry="1.7" transform="rotate(0.0 280.0 120.0)" fill="#5058d8"/>
<ellipse cx="280.0" cy="120.0" rx="1.4" ry="1.4" transform="rotate(0.0 280.0 120.0)" fill="#008000"/>
<ellipse cx="258.0" cy="124.0" rx="2.5" ry="2.5" transform="rotate(0.0 258.0 124.0)" fill="#b8c4ec"/>
<ellipse cx="258.0" cy="124.0" rx="2.1" ry="2.1" transform="rotate(0.0 258.0 124.0)" fill="#5058d8"/>
<ellipse cx="258.0" cy="124.0" rx="1.8" ry="1.8" transform="rotate(0.0 258.0 124.0)" fill="#008000"/>
<ellipse cx="226.0" cy="160.0" rx="3.0" ry="2.5" transform="rotate(0.0 226.0 160.0)" fill="#b8c4ec"/>
<ellipse cx="226.0" cy="160.0" rx="2.6" ry="2.1" transform="rotate(0.0 226.0 160.0)" fill="#5058d8"/>
<ellipse cx="226.0" cy="160.0" rx="2.1" ry="1.8" transform="rotate(0.0 226.0 160.0)" fill="#008000"/>
<ellipse cx="226.0" cy="160.0" rx="1.6" ry="1.3" transform="rotate(0.0 226.0 160.0)" fill="#f0d860"/>
<ellipse cx="236.0" cy="156.0" rx="2.5" ry="2.5" transform="rotate(0.0 236.0 156.0)" fill="#b8c4ec"/>
<ellipse cx="236.0" cy="156.0" rx="2.1" ry="2.1" transform="rotate(0.0 236.0 156.0)" fill="#5058d8"/>
<ellipse cx="236.0" cy="156.0" rx="1.8" ry="1.8" transform="rotate(0.0 236.0 156.0)" fill="#008000"/>
<ellipse cx="236.0" cy="156.0" rx="1.3" ry="1.3" transform="rotate(0.0 236.0 156.0)" fill="#f0d860"/>
<ellipse cx="250.0" cy="149.0" rx="2.0" ry="2.0" transform="rotate(0.0 250.0 149.0)" fill="#b8c4ec"/>
<ellipse cx="250.0" cy="149.0" rx="1.7" ry="1.7" transform="rotate(0.0 250.0 149.0)" fill="#5058d8"/>
<ellipse cx="250.0" cy="149.0" rx="1.4" ry="1.4" transform="rotate(0.0 250.0 149.0)" fill="#008000"/>
<path d="M282 134L294 130L306 128L306 176L296 176L286 170L282 150Z" fill="#b8c4ec"/>
<path d="M285 136L296 132L306 131L306 172L296 172L288 166L285 150Z" fill="#50969a"/>
<path class="kgr w3" d="M299 135l6-4.4M298 164l5.5-3.3M301 150l4-3.4"/>
<path class="kgr w4" d="M302 156l4.8-3.4M283 155l6-5.2M287 149l4.4-2.8M287 158l6.7-5.7M300 146l6.2-5.3M299 144l5.2-3.7M295 165l5.7-4.5M300 153l1.8-1.5"/>
<path class="kgr w5" d="M296 141l3.7-2.6M285 142l7-5.6M290 151l2.6-1.7M289 150l2.4-1.8M303 160l5-3M288 169l7-5.4M295 167l4.7-3.5"/>
<path class="kgr w6" d="M285 147l6.3-4.7M302 161l7-4.9M288 165l6.9-4.6M296 134l6.3-4.2M294 169l7.6-4.5M295 169l3-2.2"/>
<path class="klb w3" d="M291 138l5.4-4.2M295 147l5.4-4.6"/>
<path class="klb w4" d="M291 140l2.6-1.5M301 149l4.2-3.4M285 143l3.5-2.1"/>
<path class="klb w6" d="M300 151l5.2-3.9"/>
<path class="kb w3" d="M300 135l2-1.5M296 162l2.8-1.8M302 171l6.6-4.7"/>
<path class="kb w4" d="M288 141l5.5-4.6"/>
<path class="kb w6" d="M300 174l5.3-4.4M302 152l3.2-2.4"/>
<path class="klg w6" d="M291 168l4.2-2.9M305 132l2-1.7"/>
<path class="ky w3" d="M289 168l7-5.6M295 152l2.8-2.3M286 145l6-3.6"/>
<path class="ky w4" d="M286 165l3.6-3.1M288 153l2-1.5M288 144l4.2-3.2"/>
<path class="ky w5" d="M291 147l1.9-1.6"/>
<path class="ky w6" d="M302 154l6.7-4M288 161l3.7-3.1M303 155l2.5-1.6"/>
<path class="kt w3" d="M285 139l6.9-4.6M289 140l4.3-3.2"/>
<path class="kt w4" d="M296 141l5.5-3.5"/>
<path class="kt w5" d="M298 170l1.9-1.5"/>
<path class="klb w12" d="M298 133l2.7-.7"/>
<path class="klb w13" d="M294 143l2.6-.9"/>
<path class="klb w14" d="M300 151l1.5-1"/>
<path class="klb w15" d="M301 159l3-.8M303 160l3.3-2M298 148l1.9-1.2M301 139l1.6-1.1M295 158l2.6-1.7"/>
<path class="klb w16" d="M302 157l3.6-2.3M296 160l3.1-.9M299 149l3-2.1"/>
<path class="klb w17" d="M294 165l1.9-.8M303 144l2-1"/>
<path class="klb w18" d="M294 135l3.6-1.9M294 135l4.8-1.4M288 161l2.8-1.3M300 140l5.1-1.4"/>
<path class="klb w20" d="M288 141l5.2-4.3"/>
<path class="kb w9" d="M298 133l2.9-.8"/>
<path class="kb w11" d="M294 143l2.3-.8"/>
<path class="kb w12" d="M303 160l3.5-2.2M298 148l2.1-1.3M301 139l1.7-1.2M295 159l2.7-1.8M300 151l1.2-.8"/>
<path class="kb w13" d="M301 159l2.7-.7M302 157l3.7-2.4M295 160l3.3-1M299 149l3.1-2.2"/>
<path class="kb w14" d="M294 165l2.1-.8M303 144l2.2-1.1"/>
<path class="kb w15" d="M294 135l5-1.4M288 161l3-1.4M300 140l5.3-1.5"/>
<path class="kb w16" d="M294 135l3.4-1.8"/>
<path class="kb w18" d="M288 141l5-4.1"/>
<path class="kgr w7" d="M299 133l2.6-.7"/>
<path class="kgr w8" d="M294 143l2.5-.9"/>
<path class="kgr w9" d="M303 160l3.6-2.3M298 148l2.3-1.4M295 159l2.9-1.9M300 151l1.4-1"/>
<path class="kgr w10" d="M301 159l2.9-.8M301 139l1.5-1.1M299 149l3.3-2.3"/>
<path class="kgr w11" d="M293 165l2.3-.9M302 157l3.5-2.3M296 160l3-.9"/>
<path class="kgr w12" d="M303 144l1.9-1M300 140l5.5-1.5"/>
<path class="kgr w13" d="M294 135l3.6-1.8M294 134l4.7-1.4M288 161l2.7-1.3"/>
<path class="kgr w15" d="M288 141l5.2-4.2"/>
<path class="ky w4" d="M298 133l2.7-.7"/>
<path class="ky w5" d="M294 143l2.6-.9"/>
<path class="ky w6" d="M300 151l1.5-1"/>
<path class="ky w7" d="M301 159l3-.8M303 160l3.3-2M298 148l1.9-1.2M301 139l1.6-1.1M295 158l2.6-1.7"/>
<path class="ky w8" d="M302 157l3.6-2.3M296 160l3.1-.9M299 149l3-2.1"/>
<path class="ky w9" d="M294 165l1.9-.8M303 144l2-1"/>
<path class="ky w10" d="M294 135l3.6-1.9M294 135l4.8-1.4M288 161l2.8-1.3M300 140l5.1-1.4"/>
<path class="ky w12" d="M288 141l5.2-4.3"/>
<path class="ko w4" d="M301 159l3.1-.8M303 160l3.4-2.1M298 148l2-1.2M301 139l1.7-1.2M295 159l2.7-1.8M300 151l1.1-.8"/>
<path class="ko w5" d="M302 157l3.6-2.4M296 160l3.2-.9M299 149l3.1-2.1"/>
<path class="ko w6" d="M294 165l2-.8M303 144l2.1-1"/>
<path class="ko w7" d="M294 135l3.7-1.9M294 135l4.9-1.4M288 161l2.9-1.4M300 140l5.2-1.4"/>
<path class="ko w10" d="M288 141l4.9-4.1"/>
<path class="kdbr w4" d="M294 165l2-.8M303 144l2.1-1"/>
<path class="kdbr w5" d="M294 135l3.7-1.9M294 135l4.9-1.4M288 161l2.9-1.4M300 140l5.2-1.4"/>
<path class="kdbr w8" d="M288 141l4.9-4.1"/>
<path class="kp w6" d="M288 141l5.1-4.2"/>
<ellipse cx="238.0" cy="173.0" rx="6.0" ry="2.0" transform="rotate(-20.0 238.0 173.0)" fill="#a5a5a5"/>
<path d="M238 216L242 204L252 194L264 186L276 180L288 174L298 170L302 176L292 184L282 192L272 200L262 208L252 216Z" fill="#b8c4ec"/>
<path d="M241 214L245 204L254 196L266 188L278 182L289 177L297 174L299 177L290 184L280 192L270 200L260 208L250 214Z" fill="#5058d8"/>
<path d="M244 212L248 204L256 198L268 190L280 184L290 180L295 178L288 184L278 192L268 200L258 207L248 212Z" fill="#50969a"/>
<path class="kgr w3" d="M281 189l6-3.9"/>
<path class="kgr w4" d="M257 202l5.1-4.2M245 209l6.3-3.9M284 186l4.4-3.2M266 193l1.9-1.3"/>
<path class="kgr w5" d="M282 189l4.3-3.8"/>
<path class="kgr w6" d="M243 210l7.6-4.7M263 197l2.1-1.4M247 207l5.3-3.6"/>
<path class="klb w3" d="M259 205l3.4-2.5M261 198l6.3-4.5"/>
<path class="klb w4" d="M268 195l5.4-3.7M256 205l7.2-4.9"/>
<path class="klb w5" d="M276 193l6.2-5.3"/>
<path class="klb w6" d="M285 184l5.2-3.7"/>
<path class="kb w3" d="M262 199l6.4-4.2"/>
<path class="kb w6" d="M283 184l4.2-2.5"/>
<path class="klg w3" d="M269 195l6.8-5.8M261 204l7-4.3"/>
<path class="klg w6" d="M270 197l2.8-1.7"/>
<path class="ky w3" d="M279 188l4.6-3"/>
<path class="ky w4" d="M277 192l2.5-1.8M249 209l5.4-3.8"/>
<path class="kt w5" d="M250 212l4.6-4.1M266 199l3.6-3.2"/>
<path d="M248 209L251 204L258 200L270 192L281 186L290 182L284 187L274 195L264 202L254 207Z" fill="#f0d860"/>
<ellipse cx="268.0" cy="192.0" rx="3.0" ry="3.0" transform="rotate(0.0 268.0 192.0)" fill="#f0b020"/>
<ellipse cx="270.0" cy="190.0" rx="1.5" ry="1.5" transform="rotate(0.0 270.0 190.0)" fill="#f05080"/>
<ellipse cx="262.0" cy="198.0" rx="2.5" ry="2.5" transform="rotate(0.0 262.0 198.0)" fill="#f0b020"/>
<ellipse cx="262.0" cy="199.0" rx="1.2" ry="1.2" transform="rotate(0.0 262.0 199.0)" fill="#8c5a40"/>
<ellipse cx="276.0" cy="187.0" rx="2.5" ry="2.5" transform="rotate(0.0 276.0 187.0)" fill="#f0b020"/>
<ellipse cx="278.0" cy="186.0" rx="1.2" ry="1.2" transform="rotate(0.0 278.0 186.0)" fill="#f05080"/>
<ellipse cx="256.0" cy="178.0" rx="3.5" ry="4.0" transform="rotate(0.0 256.0 178.0)" fill="#b8c4ec"/>
<ellipse cx="256.0" cy="178.0" rx="3.0" ry="3.4" transform="rotate(0.0 256.0 178.0)" fill="#5058d8"/>
<ellipse cx="256.0" cy="178.0" rx="2.4" ry="2.8" transform="rotate(0.0 256.0 178.0)" fill="#008000"/>
<ellipse cx="256.0" cy="178.0" rx="1.8" ry="2.1" transform="rotate(0.0 256.0 178.0)" fill="#f0d860"/>
<ellipse cx="244.0" cy="198.0" rx="5.0" ry="2.5" transform="rotate(0.0 244.0 198.0)" fill="#b8c4ec"/>
<ellipse cx="244.0" cy="198.0" rx="3.0" ry="1.5" transform="rotate(0.0 244.0 198.0)" fill="#50969a"/>
<path d="M200 216L208 211L220 211L228 215L230 224L228 231L200 231Z" fill="#b8c4ec"/>
<path d="M203 218L210 214L220 214L226 217L228 224L226 231L203 231Z" fill="#50969a"/>
<path class="kgr w3" d="M211 224l4.4-2.7"/>
<path class="kgr w4" d="M204 230l2.4-1.9M207 218l2-1.8"/>
<path class="kgr w5" d="M213 219l5.8-4.8M205 223l3.2-2M211 221l5.7-4.4M216 227l5.5-3.4"/>
<path class="kgr w6" d="M209 219l1.9-1.4M208 228l3-1.9"/>
<path class="klb w3" d="M222 231l6.4-5.7M222 230l3.8-3"/>
<path class="klb w4" d="M217 226l4.3-3.6"/>
<path class="kb w4" d="M223 226l6.1-5.2"/>
<path class="kb w5" d="M202 229l3.1-1.9"/>
<path class="kb w6" d="M215 228l6.2-3.8"/>
<path class="klg w4" d="M209 217l4.8-3.5"/>
<path class="klg w6" d="M206 223l5.4-3.7M214 222l3.2-2.4M212 223l5.4-3.4"/>
<path class="ky w3" d="M224 220l4.1-2.9"/>
<path class="ky w4" d="M202 225l6-3.5"/>
<path class="ky w5" d="M206 223l6.8-5.2"/>
<path class="kt w3" d="M205 228l6.6-5.1M207 217l3.8-2.3"/>
<path class="kt w4" d="M211 227l6.9-4.7"/>
<path class="kt w6" d="M222 231l2.9-2.1"/>
<path d="M206 220L212 217L220 217L224 220L225 226L222 231L206 231Z" fill="#f0d860"/>
<ellipse cx="215.0" cy="225.0" rx="3.0" ry="3.0" transform="rotate(0.0 215.0 225.0)" fill="#f0b020"/>
<ellipse cx="221.0" cy="226.0" rx="1.5" ry="1.5" transform="rotate(0.0 221.0 226.0)" fill="#f05080"/>
<ellipse cx="222.0" cy="227.0" rx="0.8" ry="0.8" transform="rotate(0.0 222.0 227.0)" fill="#8c5a40"/>
<path d="M172 186L182 178L198 177L212 182L218 192L210 198L190 200L176 196Z" fill="#b8c4ec"/>
<path d="M175 187L184 180L198 179L210 184L215 192L208 196L191 198L178 194Z" fill="#50969a"/>
<path class="kgr w3" d="M188 187l3.1-2.3M209 191l6.6-5.3"/>
<path class="kgr w4" d="M202 188l3.7-2.4"/>
<path class="kgr w5" d="M183 199l6.2-4.6M186 189l6.3-4.2"/>
<path class="kgr w6" d="M204 190l4.6-4M183 182l2.8-2.5M195 193l6.6-4.6M182 186l4.5-3.2"/>
<path class="klb w3" d="M188 196l6-4.1"/>
<path class="klb w4" d="M177 188l3.9-2.3M201 186l5.9-4.4"/>
<path class="klb w5" d="M203 191l2.2-1.3M205 196l3.2-1.9"/>
<path class="klb w6" d="M187 196l6.6-4.8M182 197l4.6-3.6"/>
<path class="kb w3" d="M187 186l3.1-2.1M187 196l6.5-4.7"/>
<path class="kb w4" d="M194 195l4.5-3.3M193 183l5.7-3.7M204 189l4.5-3.8"/>
<path class="kb w5" d="M176 187l6.4-4.1"/>
<path class="kb w6" d="M201 184l4.5-2.8"/>
<path class="klg w3" d="M195 185l4-3M196 181l2.3-1.9"/>
<path class="klg w4" d="M193 182l4.6-3.1M176 194l5.5-4.2"/>
<path class="klg w5" d="M198 184l6.4-4.1M204 195l6.2-4.3"/>
<path class="klg w6" d="M202 192l2.7-2M201 193l1.6-1.4"/>
<path class="ky w3" d="M196 198l1.8-1.1M203 191l5.9-4"/>
<path class="ky w6" d="M181 190l2.7-1.9"/>
<path class="kt w3" d="M177 196l7.4-5.1"/>
<path class="kt w4" d="M182 182l2.3-1.9"/>
<path class="kt w5" d="M187 194l5.3-4"/>
<path class="kt w6" d="M203 185l5.2-3.5"/>
<path d="M179 188L186 183L197 182L207 186L211 191L205 194L192 195L181 192Z" fill="#f0d860"/>
<path class="ko w3" d="M204 188l2.2-1.4"/>
<path class="ko w5" d="M196 190l5-3.7M201 189l4.2-2.6M187 191l6.1-4.6"/>
<path class="ko w6" d="M191 184l4.2-2.7M183 189l5.4-4.4"/>
<path class="klg w5" d="M196 195l5.3-4.6"/>
<path class="kgr w3" d="M184 186l2.1-1.4"/>
<path class="kgr w4" d="M200 188l1.8-1.6"/>
<path class="kgr w5" d="M195 196l5.7-4.7"/>
<path class="ky w3" d="M192 191l3.9-2.5M187 195l5.6-4.4"/>
<path class="ky w4" d="M184 187l5-3.3M188 191l2.1-1.6"/>
<path class="ky w5" d="M196 192l5.9-5.2"/>
<path class="kbr w3" d="M205 191l4.3-3.1"/>
<path class="kbr w5" d="M190 191l2-1.2M182 191l4.1-3.3"/>
<path class="kb w3" d="M188 189l5.4-3.5"/>
<path class="kb w6" d="M193 186l6.9-5.1"/>
<ellipse cx="188.0" cy="188.0" rx="3.0" ry="3.0" transform="rotate(0.0 188.0 188.0)" fill="#f0b020"/>
<ellipse cx="190.0" cy="191.0" rx="1.5" ry="1.5" transform="rotate(0.0 190.0 191.0)" fill="#f05080"/>
<ellipse cx="200.0" cy="190.0" rx="2.5" ry="2.5" transform="rotate(0.0 200.0 190.0)" fill="#f0b020"/>
<ellipse cx="206.0" cy="192.0" rx="2.0" ry="1.5" transform="rotate(0.0 206.0 192.0)" fill="#c08838"/>
<path class="klb w4" d="M169 138l.5-.2M209 141l.8-.4M210 144l.6-.2M187 151l.9-.7M197 149l1.1-.5M238 78l.6-.4M216 63l1.1-.5"/>
<path class="klb w5" d="M141 168l1.3-.7M187 137l.5-.2M217 76l1.3-.7M237 85l.3-.3M217 71l1-.8M236 84l1.5-1"/>
<path class="klb w6" d="M132 172l1.1-.9M124 171l.4-.3M126 173l.6-.2M139 167l.7-.4M128 168l2.1-.8M192 141l.9-.3M181 144l1.4-1M199 141l1.5-1.1M180 147l.8-.5M176 140l1.9-.7M234 83l.5-.3M222 78l1-.6"/>
<path class="klb w7" d="M157 208l1.8-1.1M149 218l1.9-1.1M140 200l2.4-1.4M86 224l1.7-1.1M72 229l1.3-.4M93 219l1.8-1.2M132 166l.9-.4M135 174l2.5-.8M132 169l1.9-.9M207 146l1-.7M209 145l1.2-.7M209 141l.9-.5M184 145l.4-.2"/>
<path class="klb w8" d="M176 195l1.4-.5M185 202l1.2-.6M153 226l1.4-.4M163 186l.7-.3M143 216l.8-.6M190 211l.6-.4M148 218l1.3-1M108 208l.9-.3M42 223l2-1.3M121 168l1.7-.7M129 167l.7-.3M196 144l2.6-1.2M166 153l2.4-1.1"/>
<path class="klb w9" d="M186 228l1.9-1.6M138 224l2-1M148 173l2.4-1.1M153 212l1.8-1.4M148 200l1.9-1.2M184 193l.7-.5M92 199l2.2-.8M94 224l2.3-.7M69 227l1.6-.6M116 169l2.3-.6M197 150l1.1-.7M176 154l1.9-.7M183 145l1.8-.7M183 156l.4-.3"/>
<path class="klb w10" d="M190 205l.9-.4M191 212l1.1-.9M171 210l.5-.4M144 173l2.7-1.5M149 208l2.1-1.3M199 210l1.6-.8M173 179l2.1-1.5M178 197l3.1-1.1M170 195l3.4-1M146 190l1.8-.6M175 190l2.7-1.4M156 219l.9-.5M143 204l2.6-1.9M179 203l1.9-1.2M136 192l2.3-.9M87 224l2.1-.6M103 199l1.1-.6M76 215l3-1.9M109 202l2.1-1.1M108 205l1.2-.3M70 217l2.6-1.6M62 222l1.1-.3M41 218l1.9-1.1M106 229l2.3-1.2M101 222l.7-.4M103 223l1.1-.7M43 225l2.1-1.3"/>
<path class="klb w11" d="M151 171l2.8-1.3M144 216l3.6-1.3M160 209l2.9-1.2M156 191l2.4-1.4M164 210l2.9-2.1M197 199l1.3-.9M140 174l.6-.3M167 230l2.2-1.6M156 209l1.7-.7M189 195l.8-.5M189 222l.7-.3M192 202l2.6-.9M151 182l3.1-1.3M156 188l1.6-.8M106 210l3.8-1.5M105 199l1.3-.8M94 229l3.4-1.8"/>
<path class="klb w12" d="M148 211l2.3-1.9M182 206l1.2-.5M161 208l1.7-1.4M140 214l3.9-1.3M159 219l1-.4M140 185l1.5-1M156 174l1.8-.9M168 180l2.7-.8M169 205l3-.8M189 231l2.6-2.1M179 190l3.2-1M157 206l2.9-1M155 199l1.7-.7M196 220l2.7-1.8M140 196l2.8-2.3M133 186l3.1-1.8M142 196l1.4-1.1M136 190l3-1.4M81 217l3.4-1.9M84 222l3.3-2.5M90 217l2.5-2M81 224l.7-.6M90 229l2.1-1.1M104 223l3-1.2M74 227l.9-.4M64 219l1-.6M52 224l3.3-1.4M96 227l3.4-2.2"/>
<path class="klb w13" d="M148 220l1.6-.6M190 205l2.3-.8M151 187l1.4-.6M201 206l.9-.6M193 206l1.5-.9M163 220l1.5-1.2M161 220l1.7-.7M146 205l1.2-.7M201 203l3.1-1M152 195l2.2-1.2M188 210l2.2-1.2M173 181l1.4-1M158 179l3.1-2.1M181 221l1.6-.5M157 183l1.6-1.3M154 174l3.4-2.4M174 225l4.1-1.7M140 195l1.5-.9M142 190l1-.7M86 221l1.2-.5M98 206l1.6-.6M81 204l1.7-1.1M72 228l3.8-1.6M45 228l2.8-1.1"/>
<path class="klb w14" d="M179 229l1-.5M172 209l3.7-1.1M186 196l3.5-2.6M145 192l1.9-1.1M143 179l2.2-.6M195 212l1.1-.9M178 189l2.2-1.6M191 221l3.1-1.8M152 186l3.1-2.3M183 193l2.2-.9M156 219l1.2-.6M147 195l1.3-.6M95 199l1.5-.6M93 197l1.7-.7M89 217l3.3-1.2M66 222l3.9-2.7"/>
<path class="klb w15" d="M154 204l1-.6M164 208l3.6-2.1M151 226l3.2-.9M80 223l2.4-.7M77 223l1.2-.4M104 216l1.8-1.4M95 218l1-.6M100 221l3.5-1.8"/>
<path class="klb w16" d="M197 206l2.5-.9M187 228l2.6-1.2M152 212l2.1-1.1M191 205l3.4-1.3M177 223l2.1-1.1M137 214l3.8-1.2M182 217l1.4-1.1M153 172l2.4-1.9M144 189l1.8-1M96 200l2.7-1"/>
<path class="kb w3" d="M132 172l1.3-1M124 171l.6-.4M126 173l.8-.3M192 141l1-.4M181 144l1.6-1.1M180 147l1-.6M176 140l2.1-.7M234 83l.7-.4"/>
<path class="kb w4" d="M149 218l2.1-1.2M86 225l1.8-1.2M72 229l1.5-.5M132 166l1.1-.5M132 170l2.1-1M139 167l.5-.2M128 168l1.8-.7M209 145l1.3-.8M209 141l1.1-.6M199 141l1.3-.9M184 145l.5-.4M222 78l.7-.5"/>
<path class="kb w5" d="M158 208l1.5-.9M176 195l1.6-.6M153 226l1.6-.5M163 186l.9-.4M140 200l2.2-1.2M148 218l1.4-1.1M42 223l2.2-1.4M93 219l1.5-1M135 174l2.2-.7M129 167l.9-.4M207 146l.8-.5"/>
<path class="kb w6" d="M148 173l2.6-1.1M185 202l1-.5M143 216l.5-.4M190 211l.4-.3M184 193l.8-.6M108 208l.6-.2M94 224l2.5-.8M69 227l1.8-.7M121 168l1.4-.6M116 169l2.5-.7M197 150l1.2-.8M197 144l2.3-1.1M176 154l2.1-.8M183 145l2-.8M166 153l2.1-.9M183 156l.5-.4"/>
<path class="kb w7" d="M190 205l1.1-.5M186 228l1.7-1.4M191 213l1.3-1M171 210l.6-.5M139 224l1.8-.9M199 210l1.8-.8M173 179l2.3-1.6M146 190l1.9-.7M174 190l2.8-1.5M153 212l1.6-1.2M156 219l1.1-.6M148 200l1.7-1.1M136 192l2.5-.9M93 199l2-.7M87 224l2.3-.7M109 202l2.3-1.2M108 205l1.3-.4M70 217l2.7-1.7M61 222l1.2-.4M41 218l2.1-1.1M106 230l2.4-1.3M101 222l.9-.5M43 225l2.3-1.5"/>
<path class="kb w8" d="M151 171l3-1.4M144 173l2.5-1.4M144 216l3.7-1.4M150 208l1.8-1.1M160 209l3.1-1.3M156 191l2.6-1.5M178 197l2.8-1M170 195l3.1-.9M196 199l1.5-1M140 174l.8-.4M167 230l2.3-1.7M143 204l2.4-1.7M189 195l.9-.6M189 222l.9-.4M192 202l2.8-1M151 182l3.3-1.4M156 188l1.8-.9M180 203l1.6-1.1M104 198l.8-.4M76 215l2.8-1.8M103 223l.8-.5"/>
<path class="kb w9" d="M164 210l2.7-1.9M140 185l1.7-1.1M168 180l2.9-.9M169 205l3.2-.9M189 231l2.7-2.2M156 209l1.4-.6M154 199l1.9-.8M140 196l3-2.4M142 196l1.5-1.2M136 190l3.2-1.5M81 217l3.6-2M107 210l3.5-1.4M105 198l1-.7M81 224l.9-.7M94 229l3.1-1.6M104 223l3.2-1.3M74 227l1.1-.5M64 219l1.2-.7M52 224l3.5-1.4"/>
<path class="kb w10" d="M147 220l1.8-.7M190 205l2.5-.9M201 206l1.1-.7M148 210l2.1-1.7M183 206l.9-.4M161 208l1.5-1.2M162 220l1.6-1.3M140 214l3.6-1.2M146 205l1.4-.8M159 219l.8-.3M200 203l3.3-1.1M152 195l2.4-1.3M156 174l1.6-.8M158 179l3.2-2.2M181 221l1.8-.5M157 183l1.8-1.5M179 190l2.9-.9M174 225l4.3-1.7M157 206l2.6-.9M196 220l2.5-1.6M140 195l1.6-1.1M133 186l2.8-1.7M141 190l1.2-.9M84 222l3-2.3M91 217l2.3-1.8M86 221l1.4-.6M98 207l1.8-.6M81 204l1.9-1.2M90 229l1.9-.9M72 228l4-1.7M44 228l3-1.2M96 227l3.2-2"/>
<path class="kb w11" d="M152 187l1.1-.4M178 229l1.2-.6M172 209l3.9-1.2M193 206l1.2-.8M162 220l1.4-.6M186 196l3.7-2.8M145 192l2.1-1.3M143 179l2.4-.7M195 212l1.3-1M191 221l3.3-1.9M188 210l1.9-1.1M173 181l1.2-.9M152 186l3.2-2.4M155 174l3.2-2.2M156 219l1.4-.7M93 197l1.9-.8M66 222l4-2.9"/>
<path class="kb w12" d="M154 204l1.2-.7M178 188l1.9-1.4M151 226l3.4-.9M183 193l2-.8M147 195l1-.5M95 199l1.2-.5M77 223l1.4-.4M104 216l2-1.5M89 217l3-1.1M95 218l1.1-.8"/>
<path class="kb w13" d="M196 206l2.7-1M187 228l2.8-1.3M152 212l2.3-1.2M191 205l3.5-1.4M165 208l3.4-2M177 223l2.3-1.2M137 215l3.9-1.3M182 217l1.5-1.3M153 172l2.6-2M144 189l2-1.1M96 200l2.9-1.1M80 223l2.1-.6M100 221l3.2-1.7"/>
<path class="kgr w3" d="M121 168l1.6-.7M129 167l.6-.3M196 144l2.5-1.2M166 153l2.3-1M183 156l.7-.5"/>
<path class="kgr w4" d="M186 228l1.8-1.5M191 213l1.4-1.1M171 210l.8-.6M138 224l2-.9M199 211l2-.9M174 190l3-1.6M153 212l1.7-1.4M156 219l1.3-.7M148 200l1.8-1.2M136 192l2.7-1M92 199l2.1-.8M108 205l1.5-.4M94 224l2.2-.7M41 219l2.3-1.2M69 227l1.5-.6M116 169l2.2-.6M197 150l1-.6M176 154l1.8-.6M183 145l1.7-.7"/>
<path class="kgr w5" d="M190 205l.8-.3M144 173l2.7-1.5M149 208l2-1.3M173 178l2.1-1.4M178 197l3-1.1M170 195l3.3-.9M140 174l.9-.5M146 190l1.7-.6M143 204l2.5-1.9M189 195l1.1-.7M189 222l1.1-.4M192 202l3-1.1M180 203l1.8-1.2M87 224l2-.6M103 199l1-.5M76 215l3-1.9M109 202l2-1M70 217l2.5-1.6M62 221l1-.3M106 229l2.2-1.2M101 222l.6-.3M103 223l1-.6M43 225l2-1.3"/>
<path class="kgr w6" d="M151 171l2.7-1.2M144 216l3.5-1.3M160 209l2.8-1.2M156 191l2.3-1.4M164 210l2.8-2M197 199l1.2-.8M167 230l2.1-1.6M156 209l1.6-.7M151 182l3-1.3M156 188l1.5-.8M154 199l2.1-.9M106 210l3.7-1.5M105 199l1.2-.8M94 229l3.3-1.7M104 223l3.4-1.3"/>
<path class="kgr w7" d="M148 210l2.2-1.8M183 206l1.1-.5M161 208l1.6-1.3M140 214l3.8-1.3M159 219l1-.4M200 203l3.5-1.1M152 195l2.6-1.4M140 185l1.4-.9M156 174l1.8-.8M168 180l2.6-.8M170 205l2.9-.8M189 231l2.5-2M179 190l3.1-.9M157 206l2.8-.9M196 220l2.6-1.7M140 196l2.8-2.2M133 186l3-1.8M141 190l1.4-1M142 196l1.3-1M136 190l2.9-1.4M81 217l3.3-1.9M84 222l3.2-2.4M91 217l2.5-2M81 224l.7-.6M90 229l2.1-1M44 228l3.1-1.3M74 227l.8-.4M64 219l.9-.5M52 224l3.2-1.3M96 227l3.4-2.2"/>
<path class="kgr w8" d="M148 220l1.6-.6M190 205l2.2-.8M152 187l1.3-.5M178 229l1.4-.7M201 206l.8-.5M193 206l1.4-.9M163 220l1.4-1.1M161 220l1.6-.7M146 205l1.1-.6M145 192l2.2-1.4M143 179l2.6-.7M195 212l1.4-1.1M190 221l3.5-2M188 210l2.1-1.2M173 181l1.3-1M158 178l3-2M181 221l1.5-.4M158 183l1.6-1.3M155 174l3.3-2.3M156 219l1.6-.8M174 225l4-1.6M140 195l1.4-.9M86 221l1.1-.5M98 206l1.5-.5M81 204l1.7-1.1M72 228l3.7-1.6"/>
<path class="kgr w9" d="M172 209l3.6-1.1M186 196l3.4-2.6M178 188l2.1-1.6M152 186l3-2.2M183 193l2.1-.9M147 195l1.2-.6M95 199l1.4-.6M93 197l1.6-.7M89 217l3.2-1.2M94 218l1.3-.9M66 222l3.8-2.7"/>
<path class="kgr w10" d="M154 204l.9-.5M164 208l3.5-2.1M151 226l3.1-.8M144 189l2.1-1.2M96 200l3.1-1.1M80 223l2.3-.7M77 223l1.1-.3M104 216l1.8-1.3M100 221l3.4-1.8"/>
<path class="kgr w11" d="M197 206l2.4-.9M187 228l2.5-1.2M152 212l2-1.1M191 205l3.3-1.3M177 223l2-1.1M137 214l3.7-1.2M182 217l1.3-1.1M153 172l2.4-1.8"/>
<path class="ky w3" d="M106 210l3.8-1.5M105 199l1.3-.8M94 229l3.4-1.8"/>
<path class="ky w4" d="M148 211l2.3-1.9M182 206l1.2-.5M161 208l1.7-1.4M140 214l3.9-1.3M159 219l1-.4M140 185l1.5-1M156 174l1.8-.9M168 180l2.7-.8M169 205l3-.8M189 231l2.6-2.1M179 190l3.2-1M157 206l2.9-1M155 199l1.7-.7M196 220l2.7-1.8M140 196l2.8-2.3M133 186l3.1-1.8M142 196l1.4-1.1M136 190l3-1.4M81 217l3.4-1.9M84 222l3.3-2.5M90 217l2.5-2M81 224l.7-.6M90 229l2.1-1.1M104 223l3-1.2M74 227l.9-.4M64 219l1-.6M52 224l3.3-1.4M96 227l3.4-2.2"/>
<path class="ky w5" d="M148 220l1.6-.6M190 205l2.3-.8M151 187l1.4-.6M201 206l.9-.6M193 206l1.5-.9M163 220l1.5-1.2M161 220l1.7-.7M146 205l1.2-.7M201 203l3.1-1M152 195l2.2-1.2M188 210l2.2-1.2M173 181l1.4-1M158 179l3.1-2.1M181 221l1.6-.5M157 183l1.6-1.3M154 174l3.4-2.4M174 225l4.1-1.7M140 195l1.5-.9M142 190l1-.7M86 221l1.2-.5M98 206l1.6-.6M81 204l1.7-1.1M72 228l3.8-1.6M45 228l2.8-1.1"/>
<path class="ky w6" d="M179 229l1-.5M172 209l3.7-1.1M186 196l3.5-2.6M145 192l1.9-1.1M143 179l2.2-.6M195 212l1.1-.9M178 189l2.2-1.6M191 221l3.1-1.8M152 186l3.1-2.3M183 193l2.2-.9M156 219l1.2-.6M147 195l1.3-.6M95 199l1.5-.6M93 197l1.7-.7M89 217l3.3-1.2M66 222l3.9-2.7"/>
<path class="ky w7" d="M154 204l1-.6M164 208l3.6-2.1M151 226l3.2-.9M80 223l2.4-.7M77 223l1.2-.4M104 216l1.8-1.4M95 218l1-.6M100 221l3.5-1.8"/>
<path class="ky w8" d="M197 206l2.5-.9M187 228l2.6-1.2M152 212l2.1-1.1M191 205l3.4-1.3M177 223l2.1-1.1M137 214l3.8-1.2M182 217l1.4-1.1M153 172l2.4-1.9M144 189l1.8-1M96 200l2.7-1"/>
<path class="ko w3" d="M172 209l3.8-1.2M186 196l3.6-2.7M152 186l3.2-2.3M95 199l1.6-.7M93 197l1.8-.7M89 217l3.4-1.3M66 222l3.9-2.8"/>
<path class="ko w4" d="M154 204l1.1-.6M164 208l3.7-2.2M178 188l1.8-1.4M151 226l3.3-.9M183 193l1.9-.8M147 195l.9-.4M77 223l1.3-.4M104 216l1.9-1.4M95 218l1-.7M100 221l3.6-1.9"/>
<path class="ko w5" d="M197 206l2.6-.9M187 228l2.7-1.3M152 212l2.2-1.2M191 205l3.4-1.4M177 223l2.2-1.2M137 214l3.9-1.2M182 217l1.5-1.2M153 172l2.5-2M144 189l1.9-1.1M96 200l2.8-1M80 223l2-.6"/>
<ellipse cx="12.0" cy="74.0" rx="3.0" ry="1.5" transform="rotate(20.0 12.0 74.0)" fill="#b8c4ec"/>
<ellipse cx="14.0" cy="76.0" rx="1.5" ry="1.0" transform="rotate(20.0 14.0 76.0)" fill="#5058d8"/>
<path class="klb w8" d="M269 192l1.6-.6"/>
<path class="klb w9" d="M272 201l2.1-.7"/>
<path class="klb w10" d="M277 194l2.4-1.3M265 203l1.1-.5"/>
<path class="klb w11" d="M286 185l3.2-1.3M280 195l2.6-.9M289 181l1.8-.6"/>
<path class="klb w12" d="M296 184l3-1M289 188l3.2-2.3M266 222l3.5-1.2M300 160l3.2-2.2M294 188l1.5-.7"/>
<path class="klb w13" d="M287 201l3.7-1.7M303 162l1.9-1M264 203l1.4-.9M237 225l4-1.6M249 222l1.1-.5M293 194l2.9-1.6M304 154l1.4-.7M302 169l1.3-.9M271 190l2.2-1.6"/>
<path class="klb w14" d="M300 170l.7-.5M250 231l2.6-1.8M241 228l2-1.1M300 192l3.7-3"/>
<path class="klb w15" d="M254 217l1.1-.4M285 177l2-1M295 182l1.3-.5M296 185l3.4-1.1M302 169l2.4-2M240 222l1.7-1.3"/>
<path class="klb w16" d="M256 212l1.7-.5M276 207l2.3-1.2M292 176l2.9-1M283 187l2.7-1.3M301 179l2.4-1.6M298 169l1.3-1M295 187l2.7-1.5"/>
<path class="klb w17" d="M246 223l3.2-1.1M281 191l4.7-2.9"/>
<path class="klb w18" d="M267 204l5.5-1.6M248 224l1.7-.8"/>
<path class="kb w5" d="M268 192l1.8-.7"/>
<path class="kb w6" d="M272 201l2.3-.7"/>
<path class="kb w8" d="M286 185l3.4-1.4M277 194l2.1-1.2M280 195l2.8-.9M265 203l.8-.3M289 181l2-.7"/>
<path class="kb w9" d="M266 222l3.7-1.3"/>
<path class="kb w10" d="M287 201l3.9-1.8M303 162l2.1-1.1M264 203l1.6-1M296 184l2.7-.9M289 188l2.9-2.1M248 222l1.3-.6M293 194l3.1-1.7M304 154l1.5-.8M300 160l2.9-2M294 188l1.2-.6M271 190l2.3-1.7"/>
<path class="kb w11" d="M237 225l3.7-1.5M302 169l1-.7M300 170l.9-.6M250 231l2.8-2M241 229l2.2-1.1"/>
<path class="kb w12" d="M254 217l1.3-.5M295 182l1.5-.6M240 222l1.8-1.4M300 192l3.5-2.8"/>
<path class="kb w13" d="M285 177l1.8-.9M256 212l1.9-.5M276 207l2.5-1.3M296 185l3.1-1M302 169l2.2-1.8M292 176l3.1-1.1M283 187l2.9-1.4M301 179l2.6-1.7M297 169l1.5-1.1M295 187l2.9-1.6"/>
<path class="kb w14" d="M246 224l3.4-1.2M281 191l4.9-3"/>
<path class="kb w15" d="M267 204l5.7-1.7M248 224l1.9-.9"/>
<path class="kgr w5" d="M277 194l2.3-1.3M280 195l3-1M265 203l1-.4M289 181l2.1-.8"/>
<path class="kgr w6" d="M286 185l3.1-1.3"/>
<path class="kgr w7" d="M296 184l2.9-.9M289 188l3.1-2.2M266 222l3.4-1.2M293 194l3.3-1.8M304 154l1.7-.9M300 160l3.1-2.1M294 188l1.4-.7"/>
<path class="kgr w8" d="M287 201l3.6-1.7M303 162l1.8-.9M264 202l1.4-.8M237 225l3.9-1.5M249 222l1-.5M302 169l1.2-.9M271 190l2.1-1.6M300 170l1.1-.8M250 231l3-2.1M241 229l2.4-1.2"/>
<path class="kgr w9" d="M254 217l1.5-.6M240 222l2-1.5M300 192l3.6-2.9"/>
<path class="kgr w10" d="M285 177l1.9-1M295 182l1.2-.4M296 185l3.3-1.1M302 169l2.3-1.9M292 176l3.3-1.2M283 187l3-1.5M301 179l2.7-1.8M297 169l1.7-1.2"/>
<path class="kgr w11" d="M256 212l1.6-.4M276 207l2.2-1.2M295 187l2.6-1.5"/>
<path class="kgr w12" d="M267 204l5.9-1.7M246 223l3.1-1.1M281 191l4.6-2.9"/>
<path class="kgr w13" d="M248 224l1.6-.8"/>
<path class="ky w4" d="M296 184l3-1M289 188l3.2-2.3M266 222l3.5-1.2M300 160l3.2-2.2M294 188l1.5-.7"/>
<path class="ky w5" d="M287 201l3.7-1.7M303 162l1.9-1M264 203l1.4-.9M237 225l4-1.6M249 222l1.1-.5M293 194l2.9-1.6M304 154l1.4-.7M302 169l1.3-.9M271 190l2.2-1.6"/>
<path class="ky w6" d="M300 170l.7-.5M250 231l2.6-1.8M241 228l2-1.1M300 192l3.7-3"/>
<path class="ky w7" d="M254 217l1.1-.4M285 177l2-1M295 182l1.3-.5M296 185l3.4-1.1M302 169l2.4-2M240 222l1.7-1.3"/>
<path class="ky w8" d="M256 212l1.7-.5M276 207l2.3-1.2M292 176l2.9-1M283 187l2.7-1.3M301 179l2.4-1.6M298 169l1.3-1M295 187l2.7-1.5"/>
<path class="ky w9" d="M246 223l3.2-1.1M281 191l4.7-2.9"/>
<path class="ky w10" d="M267 204l5.5-1.6M248 224l1.7-.8"/>
<path class="ko w4" d="M254 217l1.2-.5M284 177l2.1-1M295 182l1.4-.5M240 222l1.7-1.3M300 192l3.4-2.7"/>
<path class="ko w5" d="M256 212l1.8-.5M276 207l2.4-1.3M296 185l3-1M302 169l2.1-1.7M292 176l3-1.1M283 187l2.8-1.4M301 179l2.5-1.7M297 169l1.4-1M295 187l2.8-1.6"/>
<path class="ko w6" d="M246 224l3.3-1.2M281 191l4.8-3"/>
<path class="ko w7" d="M267 204l5.6-1.6M248 224l1.8-.9"/>
<path class="kdbr w4" d="M246 224l3.3-1.2M281 191l4.8-3"/>
<path class="kdbr w5" d="M267 204l5.6-1.6M248 224l1.8-.9"/>
<use href="#mapg"/>
</g>
<rect x="0.5" y="0.5" width="305" height="230" fill="none" stroke="#555" stroke-width="1"/>
<rect x="5.5" y="3.5" width="23" height="21" fill="#fff" stroke="#555" stroke-width="1"/>
<text class="t" x="17.5" y="17.6" font-size="13.5" text-anchor="middle" textLength="14.2" lengthAdjust="spacingAndGlyphs">10</text>
</g>
<rect x="643.50" y="484.5" width="46.76" height="14.0" fill="#a5a5a5"/>
<rect x="689.96" y="484.5" width="46.76" height="14.0" fill="#b8c4ec"/>
<rect x="736.42" y="484.5" width="46.76" height="14.0" fill="#5058d8"/>
<rect x="782.88" y="484.5" width="46.76" height="14.0" fill="#50969a"/>
<rect x="829.35" y="484.5" width="46.76" height="14.0" fill="#008000"/>
<rect x="875.81" y="484.5" width="46.76" height="14.0" fill="#c0e0c0"/>
<rect x="922.27" y="484.5" width="46.76" height="14.0" fill="#f0d860"/>
<rect x="968.73" y="484.5" width="46.76" height="14.0" fill="#f0b020"/>
<rect x="1015.19" y="484.5" width="46.76" height="14.0" fill="#c08838"/>
<rect x="1061.65" y="484.5" width="46.76" height="14.0" fill="#8c5a40"/>
<rect x="1108.12" y="484.5" width="46.76" height="14.0" fill="#f05080"/>
<rect x="1154.58" y="484.5" width="46.76" height="14.0" fill="#641838"/>
<rect x="1201.04" y="484.5" width="46.76" height="14.0" fill="#b050a8"/>
<rect x="643.5" y="484.5" width="604.0" height="14.0" fill="none" stroke="#3c3c3c" stroke-width="1"/>
<line x1="643.50" y1="498.5" x2="643.50" y2="502.5" stroke="#000" stroke-width="1"/>
<text class="t" x="643.50" y="516" font-size="12.5" text-anchor="middle">5</text>
<line x1="689.96" y1="498.5" x2="689.96" y2="502.5" stroke="#000" stroke-width="1"/>
<text class="t" x="689.96" y="516" font-size="12.5" text-anchor="middle">10</text>
<line x1="736.42" y1="498.5" x2="736.42" y2="502.5" stroke="#000" stroke-width="1"/>
<text class="t" x="736.42" y="516" font-size="12.5" text-anchor="middle">15</text>
<line x1="782.88" y1="498.5" x2="782.88" y2="502.5" stroke="#000" stroke-width="1"/>
<text class="t" x="782.88" y="516" font-size="12.5" text-anchor="middle">20</text>
<line x1="829.35" y1="498.5" x2="829.35" y2="502.5" stroke="#000" stroke-width="1"/>
<text class="t" x="829.35" y="516" font-size="12.5" text-anchor="middle">25</text>
<line x1="875.81" y1="498.5" x2="875.81" y2="502.5" stroke="#000" stroke-width="1"/>
<text class="t" x="875.81" y="516" font-size="12.5" text-anchor="middle">30</text>
<line x1="922.27" y1="498.5" x2="922.27" y2="502.5" stroke="#000" stroke-width="1"/>
<text class="t" x="922.27" y="516" font-size="12.5" text-anchor="middle">35</text>
<line x1="968.73" y1="498.5" x2="968.73" y2="502.5" stroke="#000" stroke-width="1"/>
<text class="t" x="968.73" y="516" font-size="12.5" text-anchor="middle">40</text>
<line x1="1015.19" y1="498.5" x2="1015.19" y2="502.5" stroke="#000" stroke-width="1"/>
<text class="t" x="1015.19" y="516" font-size="12.5" text-anchor="middle">45</text>
<line x1="1061.65" y1="498.5" x2="1061.65" y2="502.5" stroke="#000" stroke-width="1"/>
<text class="t" x="1061.65" y="516" font-size="12.5" text-anchor="middle">50</text>
<line x1="1108.12" y1="498.5" x2="1108.12" y2="502.5" stroke="#000" stroke-width="1"/>
<text class="t" x="1108.12" y="516" font-size="12.5" text-anchor="middle">55</text>
<line x1="1154.58" y1="498.5" x2="1154.58" y2="502.5" stroke="#000" stroke-width="1"/>
<text class="t" x="1154.58" y="516" font-size="12.5" text-anchor="middle">60</text>
<line x1="1201.04" y1="498.5" x2="1201.04" y2="502.5" stroke="#000" stroke-width="1"/>
<text class="t" x="1201.04" y="516" font-size="12.5" text-anchor="middle">65</text>
<text class="t" x="642.6" y="556" font-size="16.3" font-weight="bold">Max. column reflectivity postage stamp (dBZ)</text>
<text class="t" x="643" y="581" font-size="12.5" xml:space="preserve" style="white-space:pre"> Init: Thu 2018-05-17 12 UTC</text>
<text class="t" x="643" y="596" font-size="12.5">Valid: Thu 2018-05-17 18 UTC</text>
<g>
<path d="M643 664 Q672 668 692 695 L643 695 Z" fill="#0a72c0"/>
<path d="M643 656 L692 672 L692 690 Q674 666 643 660 Z" fill="#0f5a9c"/>
<path d="M643 660.5 Q670 664 691 689 L691 693 Q672 668 643 664 Z" fill="#ffffff"/>
<path d="M643 662.5 Q671 666.5 691.5 693 L691.5 695 Q672 669 643 665 Z" fill="#f6a050"/>
<text x="697.6" y="695.5" font-family="Liberation Sans, sans-serif" font-size="32" fill="#173a6c" stroke="#173a6c" stroke-width="0.5" textLength="92" lengthAdjust="spacingAndGlyphs">NCAR</text>
<text class="t" x="653.3" y="708" font-size="11.2" style="fill:#4a4a4a">ensemble.ucar.edu</text>
</g>
</svg></body></html>
